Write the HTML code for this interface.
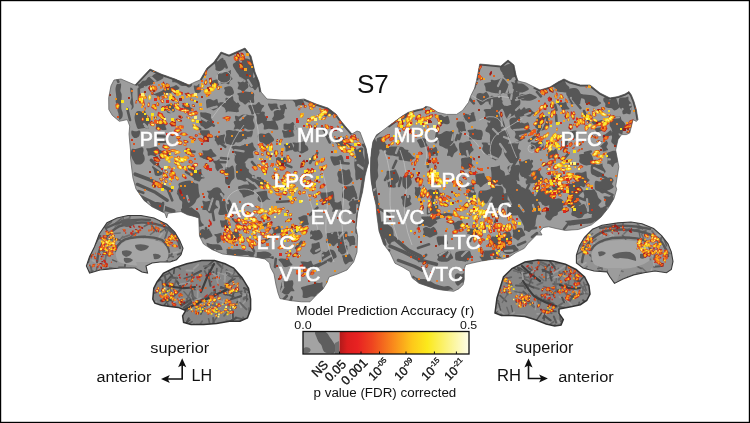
<!DOCTYPE html><html><head><meta charset="utf-8"><title>S7</title><style>html,body{margin:0;padding:0;background:#fff;overflow:hidden}svg{display:block;filter:blur(0.35px)}</style></head><body><svg width="750" height="423" viewBox="0 0 750 423"><rect x="0" y="0" width="750" height="423" fill="#fff"/>
<defs><clipPath id="cl"><path d="M114.0,80.0 L121.0,79.0 L135.0,85.0 L150.0,69.0 L161.0,74.0 L175.0,79.0 L189.0,85.0 L195.0,82.0 L200.0,80.0 L207.0,68.0 L214.0,62.0 L221.0,52.0 L229.0,55.0 L245.0,48.0 L251.0,56.0 L255.0,72.0 L259.0,82.0 L261.0,92.0 L267.0,99.0 L281.0,100.0 L296.0,100.0 L304.0,99.0 L316.0,104.0 L328.0,108.0 L336.0,114.0 L341.0,121.0 L346.0,127.0 L352.0,134.0 L357.0,131.0 L360.0,132.0 L363.0,140.0 L366.0,148.0 L368.0,158.0 L368.5,163.0 L366.5,170.0 L365.0,176.0 L362.5,192.0 L360.0,202.0 L357.6,213.0 L356.0,228.0 L357.6,236.0 L357.0,252.0 L353.6,262.0 L347.0,270.0 L337.5,274.0 L329.0,277.0 L327.0,282.6 L323.0,289.0 L316.5,295.0 L310.0,301.8 L301.5,301.8 L291.0,300.7 L280.0,298.6 L278.0,293.0 L276.0,285.0 L274.0,274.0 L270.6,267.6 L269.6,263.0 L265.0,259.0 L254.6,257.0 L239.7,256.0 L222.6,254.0 L212.0,249.5 L203.5,244.0 L199.5,236.0 L199.0,225.0 L198.8,218.0 L194.0,216.4 L187.5,214.8 L181.0,211.6 L168.0,213.2 L166.6,218.0 L165.0,213.2 L152.0,206.8 L144.0,200.4 L136.0,189.0 L132.9,177.9 L131.3,165.0 L130.5,158.0 L130.5,150.0 L129.7,142.0 L129.0,134.0 L129.7,126.0 L127.3,119.6 L119.3,121.3 L112.3,115.4 L108.8,109.5 L108.7,97.7 L111.0,85.8 Z"/></clipPath><clipPath id="cr"><path d="M370.8,158.0 L371.6,149.7 L373.0,141.4 L376.6,134.8 L381.5,131.5 L388.0,126.5 L394.8,121.5 L401.4,116.6 L408.0,112.4 L416.0,110.0 L423.0,108.5 L426.0,106.3 L430.0,107.3 L438.0,112.4 L446.5,114.4 L456.5,114.4 L462.6,110.4 L468.6,102.3 L470.6,96.3 L474.6,88.2 L476.6,80.2 L478.6,70.0 L479.7,64.0 L490.7,65.0 L500.8,66.0 L508.0,60.0 L514.0,65.0 L516.0,75.0 L518.0,81.0 L526.0,83.0 L534.0,87.0 L540.0,90.0 L550.0,87.0 L558.0,82.0 L564.0,79.0 L570.0,82.0 L580.5,85.0 L590.0,85.0 L600.0,93.0 L610.0,98.0 L618.0,96.5 L625.0,94.0 L629.0,91.6 L631.4,95.0 L634.0,101.5 L636.4,109.8 L638.0,119.7 L636.4,121.4 L633.0,119.7 L631.4,126.4 L629.7,133.0 L626.4,134.6 L621.5,134.6 L618.0,139.6 L616.5,146.0 L615.6,150.0 L617.0,157.0 L618.8,166.8 L617.0,178.0 L615.7,186.0 L616.7,189.3 L613.9,198.7 L608.3,208.0 L600.8,217.3 L591.5,224.8 L578.4,229.5 L565.3,230.4 L556.0,228.5 L548.5,226.7 L543.0,227.6 L540.0,231.3 L542.0,235.0 L536.4,235.0 L533.6,237.9 L528.0,243.5 L524.3,248.3 L515.8,252.6 L509.4,256.9 L503.0,259.0 L494.5,259.0 L481.7,261.0 L471.0,263.3 L465.7,264.7 L464.3,268.7 L464.3,274.0 L464.3,279.3 L463.0,284.7 L459.0,288.7 L453.7,291.3 L441.7,290.0 L435.0,288.7 L427.0,286.0 L419.0,283.3 L412.3,278.0 L409.7,271.3 L403.0,267.3 L395.0,263.3 L390.0,252.6 L383.5,244.0 L379.0,231.0 L377.0,216.0 L376.0,205.0 L373.0,192.0 L371.0,180.0 L370.5,170.0 Z"/></clipPath><clipPath id="cll"><path d="M152.8,299.0 L153.8,288.3 L157.0,282.0 L163.4,273.4 L174.0,268.0 L186.8,263.8 L201.7,260.6 L214.5,260.6 L225.0,263.8 L233.6,268.0 L242.0,277.7 L248.5,288.3 L250.6,299.0 L250.6,309.6 L247.4,318.0 L240.0,321.3 L229.4,321.3 L216.6,323.4 L203.8,324.5 L191.0,324.5 L183.6,322.3 L182.6,316.0 L185.7,310.6 L178.3,307.4 L169.8,306.4 L161.3,305.3 L154.9,303.2 Z"/></clipPath><clipPath id="crl"><path d="M495.0,313.0 L497.0,298.0 L503.5,277.0 L512.0,268.5 L525.0,262.0 L537.7,260.0 L552.6,261.0 L565.4,264.2 L576.0,269.5 L584.6,277.0 L588.9,285.5 L590.0,294.0 L586.7,300.5 L580.3,304.7 L569.7,306.9 L559.0,309.0 L559.0,313.3 L563.3,319.7 L561.0,325.0 L554.7,326.0 L546.2,324.0 L535.5,319.7 L524.9,316.5 L512.0,315.4 L501.4,315.4 Z"/></clipPath><clipPath id="clm"><path d="M86.4,266.0 L89.6,256.4 L94.5,246.8 L99.3,234.0 L107.0,222.7 L117.0,217.9 L128.0,215.5 L141.0,215.5 L154.0,218.0 L166.8,224.3 L174.9,232.3 L179.7,240.4 L183.0,248.4 L181.0,254.8 L176.5,259.7 L170.0,262.0 L160.0,262.0 L152.0,263.0 L146.0,266.0 L147.5,273.0 L142.0,272.0 L135.0,268.0 L120.0,268.0 L100.0,270.0 L89.6,273.0 Z"/></clipPath><clipPath id="crm"><path d="M576.4,263.0 L576.4,255.0 L579.6,245.4 L584.5,237.3 L592.5,229.3 L602.0,225.3 L618.0,222.9 L631.0,222.0 L642.0,223.7 L653.6,228.5 L661.6,235.7 L668.0,243.8 L671.3,251.8 L673.0,261.4 L671.3,269.5 L666.5,272.7 L655.0,271.0 L644.0,272.7 L633.7,274.9 L623.0,279.0 L614.5,283.4 L610.0,277.0 L607.0,272.0 L594.0,271.0 L583.0,268.0 Z"/></clipPath><linearGradient id="cg" x1="0" x2="1" y1="0" y2="0">
<stop offset="0" stop-color="#b01a1a"/><stop offset="0.06" stop-color="#dc1e1e"/><stop offset="0.14" stop-color="#e82222"/><stop offset="0.25" stop-color="#ee4420"/>
<stop offset="0.42" stop-color="#f98c1c"/><stop offset="0.56" stop-color="#fdc81a"/><stop offset="0.68" stop-color="#fbe91c"/>
<stop offset="0.85" stop-color="#fbf48a"/><stop offset="1" stop-color="#fdfce8"/></linearGradient></defs>
<path d="M114.0,80.0 L121.0,79.0 L135.0,85.0 L150.0,69.0 L161.0,74.0 L175.0,79.0 L189.0,85.0 L195.0,82.0 L200.0,80.0 L207.0,68.0 L214.0,62.0 L221.0,52.0 L229.0,55.0 L245.0,48.0 L251.0,56.0 L255.0,72.0 L259.0,82.0 L261.0,92.0 L267.0,99.0 L281.0,100.0 L296.0,100.0 L304.0,99.0 L316.0,104.0 L328.0,108.0 L336.0,114.0 L341.0,121.0 L346.0,127.0 L352.0,134.0 L357.0,131.0 L360.0,132.0 L363.0,140.0 L366.0,148.0 L368.0,158.0 L368.5,163.0 L366.5,170.0 L365.0,176.0 L362.5,192.0 L360.0,202.0 L357.6,213.0 L356.0,228.0 L357.6,236.0 L357.0,252.0 L353.6,262.0 L347.0,270.0 L337.5,274.0 L329.0,277.0 L327.0,282.6 L323.0,289.0 L316.5,295.0 L310.0,301.8 L301.5,301.8 L291.0,300.7 L280.0,298.6 L278.0,293.0 L276.0,285.0 L274.0,274.0 L270.6,267.6 L269.6,263.0 L265.0,259.0 L254.6,257.0 L239.7,256.0 L222.6,254.0 L212.0,249.5 L203.5,244.0 L199.5,236.0 L199.0,225.0 L198.8,218.0 L194.0,216.4 L187.5,214.8 L181.0,211.6 L168.0,213.2 L166.6,218.0 L165.0,213.2 L152.0,206.8 L144.0,200.4 L136.0,189.0 L132.9,177.9 L131.3,165.0 L130.5,158.0 L130.5,150.0 L129.7,142.0 L129.0,134.0 L129.7,126.0 L127.3,119.6 L119.3,121.3 L112.3,115.4 L108.8,109.5 L108.7,97.7 L111.0,85.8 Z" fill="#9d9d9d"/>
<g clip-path="url(#cl)">
<path id="dpcl" d="M116.6,84.5c.5-.8 1.4-.3 2.1-.5c.7-.2 1.8-.9 2.2-.4c.4 .5 .2 2.3 .1 3.5c-.1 1.2-.7 2.5-.6 3.7c.1 1.2 1 2.3 1.2 3.5c.2 1.2 0 2.3 0 3.5c-0 1.2-.2 2.4-.3 3.6c-.1 1.2-.1 2.2-.1 3.5c0 1.3-0 2.7 .2 4.1c.2 1.4 1.2 2.7 1.3 4.1c.1 1.4 .1 3.1-.4 4.2c-.5 1.1-2.2 2.7-2.8 2.6c-.6-.1-.5-2.1-.7-3.2c-.2-1.1-.2-2.3-.4-3.4c-.2-1.1-.9-1.9-1-3.1c-.1-1.2 .6-2.8 .3-4.2c-.3-1.4-1.8-2.6-2-4c-.2-1.4 .6-2.8 .6-4.2c0-1.4-.3-2.9-.4-4.4c-.1-1.5-.5-3-.4-4.5c.1-1.5 .6-3.6 1.1-4.4z M130.3,87.7c.4-.5 2.3 .7 2.7 1.8c.3 1.1-.6 3.3-.6 5c-0 1.7 .3 3.4 .5 5.1c.2 1.7 .5 3.6 .6 4.9c.1 1.3 .3 2.2-.1 3.1c-.4 .9-1.9 2.6-2.2 2.3c-.3-.2 .8-2.6 .6-3.8c-.2-1.2-1.6-1.9-1.7-3.3c-.1-1.4 1.1-3.3 1.2-5c.1-1.7-.5-3.4-.7-5.1c-.2-1.7-.7-4.5-.3-5z M137,84.7c.2-.5 2.1-.6 3-1.2c.9-.6 1.5-2 2.5-2.5c1-.5 2.4-.1 3.3-.7c.9-.6 1.3-2.3 2.3-3c1-.7 2.6-.6 3.7-1.1c1.1-.5 1.8-1.6 2.9-2.1c1.1-.5 2.3-1.1 3.5-1.1c1.2 0 2.6 .3 3.5 1.1c.9 .8 1.9 2.5 1.8 3.5c-.1 1-1.7 1.6-2.6 2.2c-.9 .6-2 1-3 1.4c-1 .4-2.3 .3-3.2 .9c-1 .5-1.5 1.9-2.5 2.4c-1 .5-2.3 .3-3.4 .6c-1.1 .3-1.9 .9-3 1.4c-1.1 .5-2.3 1-3.5 1.4c-1.2 .4-3 1.4-3.6 1.2c-.6-.2 .2-1.8-.1-2.5c-.3-.7-1.8-1.4-1.6-1.9z M153.2,94.8c.2-.5 2.7-1.4 4.1-2c1.4-.6 2.9-1.2 4.3-1.9c1.4-.7 2.8-1.7 4-2.3c1.2-.6 2.3-.9 3.5-1.2c1.2-.3 2.5-.4 3.7-.8c1.2-.4 2.5-1.5 3.4-1.6c.9-0 1.2 .8 1.8 1.3c.6 .5 1.8 .8 1.7 1.4c-.2 .6-1.5 1.8-2.6 2.2c-1.1 .4-2.9-.2-3.9 .3c-1 .5-1.2 2.3-2.3 2.8c-1.1 .5-3.1-.1-4.5 .3c-1.4 .4-2.8 1.2-4.1 1.9c-1.3 .7-2.8 2.1-3.8 2.2c-1 .1-1.5-1.4-2.4-1.8c-.9-.4-3.1-.3-2.9-.8z M172.6,77.9c.8-.3 2.8 .2 4.2 .4c1.4 .2 2.8 .3 4.2 .7c1.4 .4 2.7 1 4 1.5c1.3 .5 2.6 .7 3.8 1.3c1.2 .6 2.9 1.4 3.3 2.2c.4 .8-.5 1.9-1.1 2.5c-.6 .6-1.6 1.2-2.5 1.1c-.9-.1-1.7-1.2-2.7-1.5c-1-.3-2.3 .1-3.3-.1c-1-.2-1.8-.6-2.8-1.1c-1-.5-2.1-1.7-3.3-2.1c-1.2-.4-3.1-0-3.8-.5c-.7-.5-.3-1.5-.3-2.2c0-.7-.5-1.9 .3-2.2z M194,85.6c.5-.6 2.1 .4 3 .1c.9-.3 1.9-2.2 2.3-1.9c.4 .3-.3 2.5 0 3.7c.3 1.2 1.8 2.5 1.7 3.4c-.1 .9-1.3 1.7-2.2 2c-.9 .3-2.3 .4-3.1-.2c-.8-.6-1.2-2.2-1.5-3.4c-.3-1.2-.7-3.1-.2-3.7z M214.4,61.5c.4-.7 2.3 .2 3.3-.2c1-.4 1.7-1.6 2.6-2.2c.9-.5 2.3-1.6 2.9-1.1c.6 .5 .2 2.9 .8 4.1c.6 1.2 2.8 2 2.8 3c.1 1-1.6 1.9-2.5 2.8c-.9 .9-1.8 2-2.8 2.5c-1 .5-2.3 .8-3.3 .6c-1-.2-2.4-.6-2.9-1.5c-.5-.9-.1-2.7-.2-4c-.2-1.3-1.1-3.3-.7-4z M217.4,73.8c.6-.5 2.8 0 4.1-.3c1.3-.3 2.7-1.6 3.8-1.5c1.1 .1 1.9 1.4 2.7 2.3c.8 .9 1.5 2 1.8 3c.3 1 .3 2.1 0 3c-.3 .9-.9 1.8-1.8 2.3c-.9 .5-2.3 .7-3.5 .8c-1.2 .2-2.8 .5-3.6 .1c-.8-.4-.4-2-1-2.6c-.6-.6-2.2-.3-2.5-1c-.3-.7 .6-2.1 .6-3.1c0-1-1.2-2.5-.6-3z M224.2,87.7c.4-.7 2.2-1.1 3.4-1.3c1.2-.2 2.8-.2 3.7 .4c.9 .5 1.5 1.9 1.9 2.9c.4 1 1 2.4 .7 3.3c-.2 .9-1.3 1.8-2.2 2.2c-.9 .5-2.1 .5-3.1 .5c-1 0-2-0-2.7-.5c-.7-.5-1.5-1.4-1.7-2.2c-.2-.8 .7-1.7 .7-2.6c0-.9-1.2-2-.7-2.7z M233.1,64c.6-.9 2.4-1.9 3.8-2.5c1.4-.6 3.2-.5 4.6-1c1.4-.5 2.7-1.7 4-1.9c1.3-.2 2.8 .5 4.1 .8c1.3 .3 3.2-.4 4 1c.8 1.4 .9 5 .8 7.6c-.1 2.6-1.2 5.2-1.3 7.8c-.1 2.6 1.1 6.3 .5 7.6c-.6 1.3-2.8 .3-4.2 0c-1.3-.3-2.9-1-3.9-1.7c-1-.7-1.2-1.9-2.1-2.6c-.9-.7-2.5-.8-3.3-1.5c-.8-.8-1.1-2.1-1.7-3c-.6-.9-1.3-1.7-1.9-2.6c-.6-.9-1.1-1.8-1.6-2.7c-.5-.9-1.3-1.6-1.6-2.5c-.3-.9-.8-1.9-.2-2.8z M206.4,99.9c.6-.9 2.3-.9 3.5-.8c1.2 .1 2.5 1.4 3.7 1.4c1.2 0 2.6-1.7 3.4-1.4c.8 .3 .6 2.4 1.2 3.4c.6 1 2.6 1.7 2.4 2.7c-.1 1-2.1 2.2-3.3 3.1c-1.2 .9-2.7 2.2-3.8 2.3c-1.1 .1-1.8-1.5-2.8-1.8c-1-.3-2.6 .7-3.4 0c-.8-.7-1-2.9-1.1-4.4c-.2-1.5-.4-3.6 .2-4.5z M219.2,102.8c.2-.6 2.3-.5 3.5-.5c1.2 0 2.5 .9 3.7 .8c1.2-.1 2.3-1.2 3.4-1.2c1.1 .1 2.2 1.2 3.4 1.5c1.2 .2 2.8-.3 4 0c1.2 .3 3 1.3 3.2 2.1c.2 .8-1.7 1.7-2 2.7c-.3 1 .9 2.9 .3 3.5c-.7 .6-2.8 .4-4.2 .4c-1.4-0-2.8-.3-4.2-.5c-1.4-.2-3-.2-4-.8c-1-.6-1.1-2.2-1.9-3.1c-.9-.8-2.3-1.2-3.2-2c-.9-.8-2.2-2.3-2-2.9z M237.2,93.7c.3-.6 2.7-.7 4-1.1c1.4-.4 2.7-1 4.1-1.1c1.4-.1 3 .3 4.2 .4c1.1 .1 1.9-.3 2.7 0c.8 .3 1.6 .8 1.9 1.8c.3 1-.2 2.9-.2 4.4c0 1.5 .7 3.6 .2 4.4c-.5 .8-2.2 .4-3.3 .3c-1.1-.1-2.2-.9-3.3-1.1c-1.1-.2-2.3 .3-3.3-.1c-1-.4-1.7-1.5-2.5-2.4c-.8-.9-1.5-1.9-2.3-2.8c-.8-.9-2.5-2.1-2.2-2.7z M235.1,116c.5-.7 2.5 .7 3.7 .5c1.2-.2 2.2-1.3 3.4-1.7c1.1-.4 2.2-.6 3.5-.5c1.2 .1 2.6 .7 4 1c1.4 .3 3.7-.1 4.2 .7c.6 .8-1 2.8-.9 4.3c.1 1.5 1.4 3 1.6 4.4c.2 1.4 .3 3.4-.7 4.2c-1 .9-3.4 1.1-5.1 .9c-1.7-.2-3.4-1.7-5.1-1.8c-1.7-.2-4.2 1.5-5.1 .9c-.9-.6 .1-3-.4-4.4c-.5-1.4-2-2.6-2.5-4c-.5-1.4-1.1-3.8-.6-4.5z M136,112.4c.7-.9 1.8-1.2 2.8-1.3c1-.1 2.2 .8 3.2 .7c1-.1 2-1.7 2.8-1.2c.8 .5 .9 3 1.8 4.2c.9 1.2 2.9 1.8 3.5 2.9c.6 1.1 .6 2.6 .2 3.8c-.4 1.2-2.1 2.3-2.4 3.5c-.3 1.2 1 3.3 .5 3.8c-.5 .5-2.3-.9-3.5-.9c-1.2-0-2.4 .5-3.6 .7c-1.2 .2-2.7 .8-3.5 .2c-.9-.6-1.2-2.4-1.6-3.7c-.5-1.3-.8-2.5-1.1-3.9c-.3-1.4-.7-3-.5-4.5c.2-1.5 .7-3.4 1.4-4.3z M155.9,121.9c.4-.9 1.7-1.7 2.7-1.7c1-0 2.5 1.6 3.5 1.6c1-0 2.1-1.9 2.7-1.7c.7 .2 1.1 1.9 1.2 3c.1 1.1-.6 2.3-.5 3.4c.1 1.1 1.4 2.4 1 3c-.4 .6-2.3 .7-3.5 .6c-1.2-.1-2.4-1.3-3.6-1.4c-1.2-.1-3 1.3-3.5 .8c-.5-.5 .3-2.5 .3-3.8c0-1.3-.7-2.9-.3-3.8z M200.3,112.5c.6-.7 2.4 0 3.6 .1c1.2 .1 2.4 0 3.6 .3c1.2 .3 2.8 .6 3.4 1.4c.6 .8-.3 2.5 .1 3.6c.4 1.2 1.8 2.1 2.1 3.3c.3 1.2 .2 2.7-.4 3.7c-.6 1-2.1 1.9-3.3 2.6c-1.2 .7-2.7 1.6-3.8 1.5c-1.1-.1-1.7-1.5-2.6-2.2c-.9-.7-2.4-.9-2.7-1.9c-.3-1 .8-2.7 .8-4.1c0-1.4-.4-2.8-.5-4.2c-.1-1.4-.8-3.4-.3-4.1z M182.1,105.6c.4-.9 2.2-1.1 3.4-1.4c1.2-.3 2.9-.8 3.7-.3c.8 .5 .3 2.3 .9 3.2c.6 .9 2.7 1.4 2.6 2.1c-.1 .8-2 1.8-3.2 2.4c-1.2 .6-2.7 1.4-3.8 1.1c-1.1-.3-2.2-1.8-2.8-3c-.6-1.2-1.2-3.2-.8-4.1z M165.9,105.7c.5-.9 2.2-1.1 3.4-1.4c1.2-.3 2.9-.9 3.7-.4c.8 .5 .7 2.3 1 3.5c.3 1.2 1.2 2.7 .8 3.6c-.4 .9-2.1 1.6-3.3 1.9c-1.2 .3-2.9 .5-3.8-.1c-.9-.6-1.3-2.2-1.6-3.4c-.3-1.2-.7-2.8-.2-3.7z M210.2,81.4c.5-.7 2.2-.9 3.4-1.2c1.2-.3 2.9-.9 3.6-.5c.7 .4 .5 1.8 .8 2.7c.3 .9 1.4 1.9 1 2.6c-.4 .7-2.1 1.4-3.3 1.7c-1.2 .3-3 .4-3.8 0c-.8-.4-.9-1.6-1.2-2.5c-.3-.9-1-2.1-.5-2.8z M235.4,59.9c.5-.6 3-.3 4.3-.9c1.3-.6 2.6-2.6 3.6-2.6c1 0 1.3 2.1 2.3 2.7c1 .6 2.4 .8 3.5 1.2c1.1 .4 2.6 .7 3.1 1.4c.5 .7-.1 2 .1 3c.2 1 .6 2 .9 3c.3 1 .9 2 .7 2.9c-.2 .9-1.2 1.8-2.1 2.4c-.9 .6-2.2 .9-3.2 1.1c-1 .2-2.1 .5-3 .2c-.9-.3-1.4-1.5-2.3-2c-.9-.5-2.4-.2-3.3-.8c-.9-.6-1.7-1.7-2-2.7c-.3-1 .3-2.2 .1-3.2c-.2-1-1-1.9-1.4-2.9c-.4-.9-1.8-2.2-1.3-2.8z M249.7,77.9c.7-.7 2.6 .5 3.8 .2c1.2-.3 2.4-2.1 3.3-2c.9 .1 1.8 1.6 2 2.6c.2 1-.6 2.3-.5 3.4c.1 1 1.4 2 1.2 2.9c-.2 .9-1.4 1.8-2.2 2.7c-.8 .9-1.5 2.5-2.3 2.6c-.8 .1-1.4-1.6-2.3-2.2c-.9-.6-2.4-.4-3-1.4c-.6-1-.4-2.9-.4-4.4c0-1.5-.3-3.7 .4-4.4z M237.7,81.8c.5-.5 2.6 .6 3.8 .3c1.2-.3 2.3-2.3 3.3-2.1c1 .2 2.1 1.9 2.7 3.1c.6 1.2 1.1 2.9 .8 4c-.3 1.1-1.8 1.7-2.7 2.6c-.9 .9-1.8 2.6-2.6 2.7c-.8 .1-1.4-1.7-2.3-2.3c-.9-.6-2.7-.5-3-1.3c-.3-.8 1-2.3 1-3.5c0-1.2-1.5-3-1-3.5z M225.4,71.9c.4-.6 2-0 2.9-.3c.9-.3 2-1.8 2.4-1.5c.4 .3 0 2.1 .1 3.1c.1 1 .1 2 .4 3c.3 1 1.5 2 1.3 2.8c-.2 .8-2 1.2-2.6 2.1c-.6 .9-.2 3-.9 3.2c-.8 .2-2.9-.9-3.6-1.8c-.7-.9-.4-2.3-.3-3.5c.1-1.2 .8-2.4 .8-3.6c.1-1.2-.9-2.9-.5-3.5z M225.7,98.1c.6-.8 2.5 .3 3.7 0c1.2-.3 2.7-2.2 3.4-1.8c.7 .4 .3 2.8 .9 4c.6 1.2 2.4 2 2.6 3.1c.2 1.1-1 2.4-1.6 3.6c-.6 1.2-.9 2.9-1.9 3.5c-.9 .6-2.6-.1-3.8 .2c-1.2 .3-2.9 2.1-3.3 1.6c-.4-.5 .8-3.1 .8-4.7c0-1.6-.5-3.2-.6-4.8c-.1-1.6-.8-3.9-.2-4.7z M239.7,94c.8-.4 2.3 .9 3.5 1.2c1.2 .3 2.7 .1 3.6 .6c.9 .5 1.4 1.5 2 2.4c.6 .9 1.7 2.1 1.5 2.9c-.2 .8-1.8 1-2.7 1.6c-.9 .6-1.8 1.9-2.6 1.9c-.8-0-1.6-1.4-2.5-2c-.9-.6-2.2-.7-2.8-1.5c-.6-.8-1-2.4-1-3.6c0-1.2 .2-3.1 1-3.5z M248.3,105.7c.4-.6 2.3-.7 3.6-.9c1.2-.2 2.7 .1 3.9-.4c1.2-.5 2.2-2.3 3.1-2.3c.9 0 1.2 1.9 2.1 2.5c.9 .6 3.1 .4 3.2 1.1c.1 .7-1.7 2.1-2.3 3.3c-.6 1.2-.5 2.9-1.2 3.7c-.7 .8-1.9 .8-2.9 .9c-1 .1-2.2-.3-3.2-.2c-1 .2-2.2 1.4-2.8 1.1c-.6-.3-.6-2-1-3c-.4-1-1.1-1.9-1.5-2.9c-.4-1-1.4-2.3-1-2.9z M255.9,113.9c.4-.5 2.2 .6 3.1 .2c1-.4 1.7-2.1 2.6-2.4c.9-.3 2.6-.2 3.1 .4c.5 .6-.4 2.2 0 3.1c.4 1 2 1.6 2.3 2.6c.3 1 .1 2.5-.5 3.2c-.6 .7-2 .5-3 .9c-1 .4-1.9 1.1-2.9 1.5c-1 .4-2.2 1.5-2.9 1.1c-.7-.4-1.2-2.2-1.3-3.4c-.1-1.2 .6-2.6 .5-3.8c-.1-1.2-1.3-2.9-1-3.4z M268,103.7c.5-.6 2.9 0 4.4 0c1.5 0 3.6-.5 4.5 0c.9 .5 .3 1.9 .6 2.8c.3 .9 1.6 2.1 1.1 2.5c-.4 .4-2.6-.4-3.8-.1c-1.2 .3-2.4 2.1-3.3 1.9c-.9-.2-1.6-2.1-2.2-3.3c-.6-1.2-1.8-3.2-1.3-3.8z M273.8,111.9c.4-.9 1.7-1.4 2.7-1.7c1-.3 2.2 0 3.2 0c1-0 2.4-.7 3-.1c.6 .6 .2 2.5 .5 3.7c.3 1.2 1.6 2.4 1.3 3.4c-.3 1-2.1 1.8-3.3 2.4c-1.2 .6-2.7 .9-3.8 1.1c-1.1 .2-2 .2-2.9-.1c-.9-.3-2.3-.8-2.4-1.6c-.1-.8 1.5-2.1 1.8-3.3c.3-1.2-.5-2.9-.1-3.8z M279.8,105.6c.4-.5 1.8-.3 2.7-.6c.9-.3 2-1.4 2.6-1.2c.6 .2 .7 1.7 1 2.6c.3 .9 1.1 2.2 .7 2.7c-.4 .4-2-.3-2.9 0c-.9 .3-1.8 1.9-2.4 1.8c-.6-.1-.9-1.7-1.2-2.6c-.3-.9-.9-2.2-.5-2.7z M292.3,99.7c.2-.5 2.3 .5 3.5 .4c1.2-.1 2.4-1 3.6-1.1c1.2-.1 2.8 .2 3.5 .7c.8 .5 .7 1.7 1 2.6c.3 .9 1.1 2.3 .7 2.7c-.4 .4-2-.1-3-.1c-1 0-2.1-0-3.1 .3c-1 .3-2.1 2-2.7 1.6c-.6-.4-.4-2.8-1-4c-.6-1.2-2.7-2.6-2.5-3.1z M262.2,121.9c.4-.8 2.7-.7 4.1-.9c1.4-.2 2.8 .1 4.2-.1c1.4-.2 3.2-1.2 4.1-.8c.9 .3 1.1 1.9 1.6 2.9c.5 1 1.3 2 1.6 3.1c.3 1.1 1 2.8 .3 3.4c-.7 .6-3 .1-4.6 0c-1.6-.1-3.2-.8-4.8-.8c-1.6 0-3.9 1.3-4.7 .8c-.8-.5 .2-2.7-.1-4c-.3-1.3-2.1-2.8-1.7-3.6z M284,123.8c.6-.5 2.1-.1 3.1-.1c1-0 2.1 .2 3.1-.1c1-.3 1.9-1.9 2.7-1.6c.8 .3 1.6 2.3 2.2 3.6c.6 1.3 1.8 3.2 1.3 4c-.5 .8-2.7 .8-4.1 .8c-1.4 0-2.8-.6-4.2-.7c-1.4-.1-3.3 .4-4.1-.1c-.8-.5-.5-1.9-.5-2.9c0-1-.1-2.4 .5-2.9z M233.7,121.9c.3-.9 1.8-1.1 2.8-1.3c1-.2 2.1-0 3.1-.1c1-.1 2.5-.9 3-.4c.5 .5 0 2.1 .2 3.1c.2 1.1 .8 2.2 1 3.2c.2 1 1 2.5 .5 3.1c-.5 .6-2.3 .5-3.5 .4c-1.2-.1-2.4-1.1-3.6-1.2c-1.2-.1-3.1 1.3-3.5 .8c-.4-.5 1.2-2.5 1.2-3.8c0-1.3-1.5-3-1.2-3.8z M322.3,109.7c.3-.8 1.9-.3 2.9-.7c.9-.4 1.8-1.3 2.8-1.5c1-.2 2.2-.2 3.1 .4c.9 .6 1.7 2.1 2 3.3c.3 1.2 .4 3.2-.2 3.8c-.7 .6-2.5-.3-3.7 0c-1.2 .3-2.4 2-3.4 1.8c-1-.2-2.1-1.9-2.7-3.1c-.6-1.2-1.1-3.2-.8-4z M132,149.1c.8-.8 2.4 .1 3.6-.1c1.2-.2 2.3-.6 3.5-.9c1.2-.3 2.8-1.1 3.5-.8c.8 .3 .9 1.8 1 2.8c.1 1-.6 2.3-.5 3.3c.1 1 1.1 1.7 1.3 2.8c.2 1.1 .5 2.6 .2 3.8c-.3 1.2-1.1 2.4-2 3.2c-.9 .8-2.2 1.2-3.4 1.3c-1.2 .2-2.8 .2-3.7-.4c-.9-.6-1.2-2-1.8-3c-.6-1-1.2-1.9-1.7-3.2c-.5-1.3-1.2-2.9-1.2-4.4c0-1.5 .4-3.7 1.2-4.4z M131.7,130.5c.7-.5 2.7 .7 4 .7c1.3 0 3.3-1.1 4-.7c.7 .4 .4 2.1 .2 3.1c-.1 1-.5 2.3-1.1 3c-.6 .7-1.6 1.2-2.5 1.3c-.9 .2-2 .2-2.8-.4c-.8-.6-1.7-2-2-3.2c-.3-1.2-.5-3.3 .2-3.8z M146.3,148.6c.4-.6 2.3-.1 3.5-.3c1.2-.2 2.4-.8 3.6-1c1.2-.2 2.5-.9 3.5-.5c1 .4 1.5 2 2.4 2.9c.9 .9 2.9 1.6 2.9 2.4c0 .8-2 1.5-2.9 2.4c-.9 .9-1.5 2.6-2.4 2.9c-.9 .3-1.8-.9-2.8-1.3c-1-.4-1.9-.8-2.9-.9c-1-.1-2.6 1-3.2 .5c-.6-.5-.1-2.5-.4-3.7c-.3-1.2-1.7-2.8-1.3-3.4z M152,166.7c.3-.7 2.1-1.3 3.3-1.6c1.2-.3 2.9-.7 3.7-.2c.8 .5 .8 2 1.3 2.9c.5 .9 1.4 1.7 1.8 2.7c.4 1 1 2.4 .5 3.3c-.5 .9-2.1 1.7-3.3 2c-1.2 .3-3 .2-3.8-.3c-.8-.5-.9-1.9-1.2-2.9c-.3-1-.3-2.2-.7-3.2c-.4-1-1.9-2-1.6-2.7z M178.5,184c.5-.8 2.1-1.4 3.3-1.9c1.2-.5 2.5-.7 3.7-1c1.2-.3 2.6-.6 3.7-.6c1.1 0 2.1 .3 3 .8c1 .5 1.7 1.6 2.7 2c1 .4 2.5-.1 3.1 .7c.6 .8 .3 2.7 .5 4.1c.2 1.4 .2 2.8 .4 4.2c.2 1.4 1.2 3 .9 4.1c-.3 1.1-2 1.5-2.8 2.5c-.8 1-1.1 2.5-1.8 3.6c-.7 1-1.6 1.9-2.5 2.7c-.9 .8-2 1.4-2.9 2.1c-.9 .8-1.9 1.5-2.6 2.4c-.7 .9-.9 2.5-1.6 3.2c-.7 .7-1.7 .9-2.6 .9c-.9 0-2.5-.2-2.7-.9c-.2-.8 1.3-2.4 1.6-3.6c.3-1.2 .1-2.5 .1-3.8c0-1.3 .5-2.8 .1-3.8c-.4-1.1-1.9-1.5-2.5-2.5c-.6-1-.7-2.3-1.2-3.4c-.5-1-1.5-1.9-1.6-2.9c-.1-1 .4-1.9 .8-2.9c.3-1 1.2-1.9 1.3-2.9c.2-1-.9-2.3-.4-3.1z M192.3,170.9c.5-.7 1.8-.7 2.8-.9c1-.2 2.1 .1 3.1-.1c1-.2 2.3-1.2 2.9-.8c.6 .4 .1 2.3 .4 3.3c.3 1 .8 2 1.3 2.9c.5 .9 2.1 2.1 1.9 2.7c-.2 .6-2.4 .3-3.3 .9c-.9 .6-1.2 2.3-2 2.6c-.8 .3-1.8-.5-2.7-.8c-.9-.3-2.1-.3-2.6-1c-.5-.7 0-2-.3-3c-.3-1-1.4-1.8-1.6-2.8c-.2-1-.4-2.3 .1-3z M202.3,150.6c.3-.6 2.1 .1 3.1 0c1-.1 2-.1 3-.4c1-.3 1.9-1.7 2.8-1.3c.9 .4 1.5 2.5 2.4 3.7c.9 1.2 3.1 2.5 2.9 3.3c-.2 .8-2.6 .7-3.8 1.3c-1.2 .6-2.1 2-3.3 2.3c-1.2 .4-2.5 .1-3.7-.2c-1.2-.3-3-.8-3.4-1.6c-.4-.9 1-2.3 1-3.5c0-1.2-1.3-3-1-3.6z M212.4,160.7c.2-.5 2.6 .5 3.8 .2c1.2-.3 2.7-2.2 3.2-2c.6 .2-.3 2.4 .1 3.4c.4 1 1.6 1.7 2.2 2.6c.6 .9 1.6 2.2 1.3 2.9c-.3 .7-2.2 .6-3.1 1.2c-.9 .6-1.5 2.5-2.2 2.3c-.7-.2-1.8-2.1-2.2-3.3c-.4-1.2 0-3-.5-4.2c-.5-1.2-2.8-2.6-2.6-3.1z M206.8,190.9c.3-.5 2.6 .1 3.8-.4c1.2-.5 2.1-1.9 3.2-2.4c1.1-.5 2.5-.9 3.6-.8c1.1 .1 2.3 .8 3.1 1.6c.8 .8 1 2.2 1.7 3.1c.7 .9 2.2 1.4 2.3 2.4c.1 1-1.3 2.3-1.9 3.5c-.6 1.2-.8 3.2-1.7 3.6c-.8 .4-2.2-1-3.4-1.2c-1.2-.2-2.5 .1-3.7 0c-1.2-.1-2.6-.1-3.5-.6c-1-.5-1.9-1.5-2.2-2.5c-.3-1 .7-2.6 .5-3.7c-.2-1-2.1-2.1-1.8-2.6z M220.3,203c.4-1 1.5-1.8 2.5-2.1c1-.3 2.6 .6 3.7 .4c1-.2 1.8-1.9 2.6-1.8c.8 .1 1.4 1.6 1.9 2.6c.5 1 .6 2.2 .9 3.2c.3 1.1 1.1 2.4 .8 3.1c-.3 .7-2.1 .5-2.8 1.3c-.7 .8-.7 2.5-1.4 3.2c-.7 .8-1.8 .9-2.9 1.3c-1.1 .3-2.3 .8-3.5 .8c-1.2 0-3.1-.1-3.6-.8c-.5-.8 .3-2.5 .6-3.7c.3-1.2 .9-2.4 1.1-3.7c.2-1.2-.3-2.8 .1-3.8z M227,134.3c.4-.5 2.2-.1 3.2-.4c1-.3 1.9-1 2.9-1.5c1-.5 1.6-1.5 2.8-1.6c1.2-.1 2.9 1.1 4.4 1.1c1.5 0 3.4-1.5 4.4-1.1c1 .4 1.2 2.3 1.8 3.5c.6 1.2 2.2 2.9 1.8 3.6c-.4 .7-2.9 .2-4.1 .8c-1.2 .6-1.9 2.1-3 2.7c-1.1 .6-2.4 1-3.6 1c-1.2 0-2.4-.8-3.5-1c-1.1-.2-2 .1-2.9-.2c-.9-.3-1.9-.9-2.4-1.6c-.5-.7-.5-1.7-.8-2.6c-.3-.9-1.4-2.2-1-2.7z M231.4,146.8c.3-.6 2.6-1 4-1.1c1.4-.1 2.9 .6 4.3 .5c1.4-.1 2.8-1.2 4-1.2c1.2 .1 2.1 1.1 3.2 1.5c1.1 .4 2.4 .7 3.5 1c1.1 .3 2.9 .2 3.3 1.1c.4 .9-.9 2.9-.9 4.4c0 1.5 1.4 3.5 .9 4.4c-.5 .9-2.7 .5-4.1 .8c-1.4 .3-2.8 .9-4.1 1c-1.3 .1-2.4-.3-3.6-.7c-1.2-.3-2.4-.9-3.6-1.4c-1.2-.5-2.8-.6-3.4-1.4c-.6-.8-.2-2.2-.4-3.3c-.2-1-.6-2.1-1.1-3c-.5-.9-2.3-2-2-2.6z M236.4,164.8c.6-.8 1.8-1.2 2.8-1.3c1-.1 2.3 1 3.3 .9c1-.1 2.2-1.8 2.8-1.4c.6 .4 .1 2.8 .7 4c.6 1.2 2.9 2.2 2.8 3.1c-.1 .9-2.4 1.7-3.6 2.6c-1.2 .9-2.5 2.6-3.5 2.7c-1 .1-1.6-1.3-2.5-1.9c-.9-.6-2.2-.8-2.8-1.7c-.6-.9-.7-2.3-.7-3.5c0-1.2 .1-2.7 .7-3.5z M246.4,177c.6-.7 2.8-.5 4.1-.8c1.3-.3 3.3-1.6 4-1c.7 .6 0 3.1 0 4.7c-0 1.6-.2 3.2-.2 4.8c0 1.6 .8 3.9 .2 4.7c-.6 .8-2.4 .5-3.5 .2c-1.1-.3-2.5-1.1-2.9-2c-.4-.9 .8-2.5 .6-3.7c-.2-1.2-1.3-2.2-1.7-3.4c-.4-1.2-1.2-2.8-.6-3.5z M200.3,130.5c.7-.6 3-.2 4.5-.2c1.5 0 3.5-.5 4.4 .2c.9 .7 .5 2.7 1.1 3.9c.6 1.2 2.5 2.6 2.4 3.2c-.1 .6-1.9 .3-2.9 .5c-1 .2-2 .5-3 .7c-1 .2-2.3 1-2.9 .6c-.6-.4-.2-2.2-.8-3.1c-.6-.9-2.1-1.5-2.6-2.5c-.5-1-.9-2.7-.2-3.3z M214.4,136.5c.4-.6 2.3-.3 3.5-.5c1.2-.2 2.4-.7 3.6-.9c1.2-.2 3.1-1.1 3.5-.4c.4 .7-1.1 3-1.1 4.5c0 1.5 1.5 3.7 1.1 4.4c-.4 .7-2.5-.4-3.7-.1c-1.2 .3-2.5 2.1-3.3 1.9c-.8-.2-1.3-1.8-1.7-2.8c-.4-1-.5-2.1-.8-3.1c-.3-1-1.5-2.4-1.1-3z M225.9,130.9c.5-.8 2.3-.9 3.5-.9c1.2-0 2.4 .7 3.6 .8c1.2 .2 2.7-.6 3.5 .1c.8 .7 .5 2.7 1.1 3.9c.6 1.2 2.5 2.4 2.4 3.2c-.1 .8-2.2 .9-3 1.7c-.8 .8-1 2.2-1.7 3.1c-.7 .9-1.4 2-2.4 2.3c-1 .3-2.4-.2-3.6-.5c-1.2-.3-2.7-.4-3.4-1.3c-.7-.9-.8-2.7-.8-4.1c0-1.4 1-2.8 1.1-4.2c.1-1.4-.8-3.3-.3-4.1z M243.7,130.5c.8-.3 2.9 1.1 4.4 1.1c1.5 0 3.7-1.5 4.4-1.1c.7 .5 .3 2.6 0 3.8c-.3 1.2-.9 2.7-1.7 3.3c-.8 .6-2 0-2.9 .3c-.9 .3-1.7 1.7-2.4 1.5c-.7-.2-1.4-1.7-1.7-2.7c-.3-1-.2-2.1-.2-3.1c-0-1-.7-2.8 .1-3.1z M258.2,134.6c.6-.8 2.2-1.1 3.4-1.2c1.2-.1 2.6 .6 3.8 .5c1.2-.1 2.3-1.5 3.4-1.1c1.1 .4 2.1 2.1 3 3.3c.9 1.2 2.5 2.7 2.3 3.8c-.2 1.1-2.1 2-3.3 2.9c-1.2 .9-2.6 2.3-3.8 2.4c-1.2 .1-2.2-1.4-3.4-2c-1.2-.6-2.7-.7-3.6-1.5c-.9-.8-1.6-2.1-1.9-3.3c-.3-1.2-.5-3 .1-3.8z M282.1,130.4c.4-.5 2.3 .8 3.5 .6c1.2-.2 2.5-1.4 3.7-1.5c1.2-.1 2.8 .3 3.5 .9c.7 .6 .5 1.8 .8 2.7c.3 .9 1.3 2 .9 2.6c-.4 .6-2.2 .9-3.4 1.2c-1.2 .3-2.4 .6-3.6 .7c-1.2 .1-2.9 .5-3.6-.1c-.7-.6-.5-2.4-.8-3.6c-.3-1.2-1.4-3-1-3.5z M234,152.8c.4-.7 2.3-.5 3.5-.7c1.2-.2 2.4-.5 3.6-.7c1.2-.2 2.6-.8 3.5-.3c.9 .5 1.4 2.2 2 3.4c.6 1.2 1.8 2.5 1.6 3.7c-.2 1.2-1.8 2.2-2.7 3.4c-.9 1.2-1.5 3-2.6 3.6c-1.1 .6-2.6 .2-3.8-.1c-1.2-.3-2.5-.8-3.3-1.6c-.8-.8-1.2-2.2-1.3-3.4c-.2-1.2 .5-2.6 .4-3.8c-.1-1.2-1.3-2.8-.9-3.5z M244,144.5c.3-.6 2-.1 3-.3c1-.2 1.9-.5 2.9-.8c1-.2 2.2-1.2 2.9-.7c.7 .5 .5 2.7 1.1 3.9c.6 1.2 2.7 2.4 2.5 3.2c-.2 .8-2.5 .9-3.7 1.5c-1.2 .6-2.7 2.2-3.4 2c-.7-.2-.3-2.4-1-3.3c-.7-.9-2.4-1.4-3.1-2.3c-.7-.9-1.5-2.6-1.2-3.2z M292.4,142.7c.4-.5 2.8 .1 4.2 0c1.4-.1 2.8-.1 4.2-.4c1.4-.3 3.3-1.6 4-1.3c.7 .3-.2 2.2 .3 3.2c.5 .9 2 1.6 2.5 2.5c.5 .9 1.1 2.2 .7 3.1c-.4 .9-2.1 1.6-3.3 2.2c-1.2 .6-2.5 1.5-3.7 1.4c-1.2-.1-2.1-1.6-3.3-1.9c-1.2-.3-2.9 .5-3.8 .1c-.9-.4-1.3-1.8-1.3-2.8c0-1 1.4-2.4 1.3-3.4c-.1-1-2.2-2.3-1.8-2.7z M225.5,167.4c.8-.9 2.6 .3 3.8 0c1.2-.3 2.5-2.2 3.3-1.8c.8 .3 1.2 2.5 1.5 3.9c.3 1.4 .2 2.9 .3 4.3c.1 1.4 .5 3 0 4.2c-.5 1.2-2.2 2-3.1 3.2c-.9 1.2-1.2 3.5-2.2 3.8c-1 .4-2.9-.5-3.6-1.7c-.7-1.2-.3-3.5-.5-5.3c-.2-1.8-.5-3.6-.4-5.4c.1-1.8 .1-4.3 .9-5.2z M236.1,170.9c.7-.5 2.8 .4 4.2 .2c1.4-.2 2.7-1.3 4.1-1.6c1.4-.3 3.3-.9 4.1-.4c.8 .5-0 2.3 .5 3.2c.5 .9 2.2 1.4 2.7 2.4c.5 .9 .8 2.4 .3 3.3c-.5 .9-2.2 1.3-3.4 1.9c-1.2 .6-2.4 1.5-3.6 1.6c-1.2 0-2.3-1-3.5-1.3c-1.2-.3-2.7 0-3.6-.5c-.9-.5-1.4-1.8-1.7-2.7c-.3-.9-.2-2-.2-3c-0-1-.6-2.6 .1-3.1z M250.2,178.8c.2-.6 2.3-.2 3.5-.2c1.2-0 2.5 .3 3.7 0c1.2-.3 2.8-1.9 3.4-1.6c.6 .3-.4 2.5 .1 3.4c.5 .9 2.5 1.3 3.1 2.2c.6 .9 .7 2.6 .3 3.3c-.4 .7-1.9 .8-2.9 1.1c-1 .3-2.2 .3-3.2 .7c-1 .4-1.9 2-2.7 1.7c-.8-.3-1.3-2.3-1.8-3.5c-.5-1.2-.8-2.6-1.4-3.8c-.6-1.2-2.3-2.7-2.1-3.3z M238.2,186.8c.4-.9 2.2-.9 3.3-1.3c1.2-.4 2.4-.8 3.6-.9c1.2-.1 2.7 0 3.7 .5c1 .5 1.8 1.5 2.5 2.4c.8 .9 1.5 1.8 2 2.9c.5 1.1 1.3 2.7 .8 3.5c-.5 .8-2.4 .7-3.6 1.1c-1.2 .4-2.3 .9-3.5 1.3c-1.2 .4-2.7 1.6-3.5 1.2c-.8-.4-.9-2.5-1.6-3.6c-.7-1.1-2.2-2-2.8-3.2c-.6-1.2-1.3-3-.9-3.9z M256.1,192.8c.2-.6 2.2-1 3.4-1.3c1.2-.3 2.4-.5 3.6-.6c1.2-.1 2.9-.5 3.6 .1c.7 .6 .3 2.2 .5 3.3c.2 1.1 .3 2.2 .8 3.1c.5 .9 2.5 2.2 2.3 2.5c-.2 .3-2.5-.8-3.7-.4c-1.2 .3-2.1 2.1-3.3 2.5c-1.2 .4-2.6 .2-3.6-.3c-1-.5-2-1.5-2.2-2.6c-.2-1.1 1-2.7 .8-3.8c-.2-1-2.4-1.9-2.2-2.5z M334.5,138.5c.6-.7 2.3-.5 3.5-.6c1.2-.1 2.5 .3 3.7 .1c1.2-.2 2.7-1.5 3.4-1.2c.7 .3 .8 1.8 1 2.8c.2 1 .2 2.1 .3 3.1c.1 1 .9 2.3 .5 2.9c-.4 .6-2 .4-3 .6c-1 .2-1.9 .6-2.9 .8c-1 .2-2.4 .8-3 .4c-.6-.4-.3-2.1-.9-3c-.6-.9-2.1-1.5-2.5-2.5c-.4-1-.7-2.7-.1-3.4z M330.5,156.6c.5-.6 2.4-0 3.6-.1c1.2-0 2.5 .1 3.7-.2c1.2-.3 2.4-1.6 3.3-1.4c.9 .2 1.5 1.6 1.9 2.6c.4 1 .3 2.2 .6 3.2c.3 1 1.5 2.5 1.1 3c-.4 .5-2.4-.2-3.6 0c-1.2 .2-2.3 1.1-3.5 1.4c-1.2 .3-2.6 .8-3.5 .4c-.9-.4-1.4-1.8-1.9-2.7c-.5-.9-1-2-1.3-3c-.3-1-.9-2.7-.4-3.2z M354.4,150c.3-1 2-.2 2.9-.6c1-.4 1.8-1.5 2.8-1.7c1-.2 2.6-.3 3.1 .5c.5 .8-.4 2.8-.3 4.2c.1 1.4 .4 2.8 .8 4.2c.4 1.4 1.3 2.4 1.3 4c0 1.6-.8 3.8-1.1 5.8c-.4 2-.9 4-1 6c-.1 2 .9 4.8 .3 5.9c-.5 1.1-2.4 .3-3.6 .6c-1.2 .3-2.8 1.8-3.5 1.2c-.7-.6-.6-3.1-.8-4.7c-.2-1.6 .1-3.2-.1-4.8c-.2-1.6-.7-3-.8-4.7c-.1-1.7-.2-3.4 0-5.2c.2-1.8 1.1-3.7 1.1-5.5c0-1.8-1.4-4.2-1.1-5.2z M364.5,134.1c.4-1.1 2.5 .2 3.7-.1c1.2-.3 2.6-1.8 3.4-1.6c.8 .2 1.4 1.7 1.5 2.7c.1 1-.8 2.5-.6 3.5c.2 1 1.7 .7 1.9 2.6c.2 1.9-.5 5.8-.6 8.8c-.1 3-.1 6 0 9c.1 3 .9 7.3 .6 8.8c-.3 1.5-1.8-.2-2.6 .1c-.8 .3-1.4 2.2-2 1.6c-.6-.6-1.2-3.4-1.4-5.2c-.2-1.8 .4-3.8 0-5.6c-.3-1.8-1.8-3.2-2.1-5.1c-.3-1.9 .4-4.3 .3-6.5c-.1-2.2-.6-4.4-1-6.6c-.4-2.2-1.5-5.3-1.1-6.4z M338.5,171.1c.8-.6 2.4 .1 3.6 0c1.2-.1 2.4-.3 3.6-.6c1.2-.3 2.6-1.6 3.4-1.2c.8 .4 1.1 2.2 1.4 3.4c.3 1.2 0 2.7 .4 3.9c.4 1.2 1.9 2.2 1.7 3.3c-.2 1.1-1.7 2.6-2.9 3.5c-1.2 .9-2.9 1.7-4.2 1.8c-1.3 .1-2.5-.8-3.7-1.4c-1.2-.6-2.7-1.2-3.3-2.1c-.6-.9 .1-2.3-.1-3.5c-.2-1.2-1.1-2.4-1.1-3.6c0-1.2 .4-2.9 1.2-3.5z M342.5,187.2c.5-.8 2.2-.8 3.4-1c1.2-.1 2.6 .2 3.8 .1c1.2-.1 2.7-1.3 3.4-.9c.7 .4 .4 2.4 .9 3.6c.5 1.2 1.7 2.1 2.1 3.3c.4 1.2 1.1 2.8 .5 3.7c-.6 .9-2.9 .9-4.1 1.8c-1.2 .9-1.8 3.3-2.9 3.5c-1.1 .2-2.2-1.5-3.4-2.1c-1.2-.6-3-.6-3.7-1.4c-.7-.8-.5-2.3-.4-3.5c.1-1.2 .7-2.4 .8-3.6c.1-1.2-.9-2.8-.4-3.5z M350.4,201.2c.9-.5 2.3-.3 3.5-.5c1.2-.2 2.4-.4 3.6-.6c1.2-.2 2.7-1.2 3.5-.7c.8 .5 1.2 2.2 1.4 3.4c.2 1.2-.6 2.9-.2 4.1c.4 1.2 2.5 2.4 2.3 3.1c-.2 .7-2.4 .6-3.6 1c-1.2 .4-2.4 .8-3.6 1.3c-1.2 .5-2.5 1.9-3.4 1.8c-.9-.1-1.3-1.9-2.2-2.6c-.9-.7-2.9-.8-3.1-1.5c-.2-.7 1.7-1.7 1.7-2.7c0-1-1.6-2.4-1.6-3.4c0-1 .8-2.2 1.7-2.7z M320.5,192.9c.6-.7 2.8-.2 4.2-.3c1.4-.1 2.8-.1 4.2-.3c1.4-.2 3.1-1.5 4-1.1c.9 .4 1 2.2 1.2 3.4c.2 1.2 .1 2.4 .2 3.6c.1 1.2 .9 2.7 .4 3.6c-.5 .9-2.1 1.3-3.3 1.6c-1.2 .3-2.5 .3-3.7 .3c-1.2 0-2.7 .5-3.6-.1c-.8-.6-.9-2.3-1.5-3.5c-.6-1.2-1.4-2.2-1.8-3.4c-.4-1.2-.9-3.1-.3-3.8z M330.4,202.9c.4-.7 2.2-1.2 3.4-1.2c1.2-.1 2.7 1 3.9 .9c1.2-.1 2.7-1.7 3.3-1.5c.6 .2 .3 1.9 .5 2.9c.2 1 .5 2 .7 3c.2 1 1.1 2.5 .6 2.9c-.5 .4-2.5-.7-3.7-.5c-1.2 .2-2.4 1.2-3.5 1.6c-1.2 .4-2.9 1.1-3.4 .7c-.5-.4 .8-2.1 .6-3.1c-.1-1-1.1-2-1.5-2.9c-.4-.9-1.3-2.1-.9-2.8z M283.9,144.4c.4-.6 2.5 .2 3.7-.1c1.2-.3 2.5-1.9 3.4-1.6c.9 .3 1.6 2.1 1.9 3.3c.3 1.2 .5 3-.1 3.7c-.6 .7-2.4 .4-3.6 .7c-1.2 .3-2.9 1.5-3.5 1.1c-.6-.4 0-2.5-.3-3.7c-.3-1.2-1.9-2.8-1.5-3.4z M276,158.5c.3-.9 1.7-1.6 2.7-1.6c1-0 2.4 1.4 3.4 1.4c1-0 2-1.9 2.7-1.6c.7 .3 1.4 2.2 1.7 3.4c.3 1.2 .6 3 .1 3.7c-.5 .7-1.9 .4-2.9 .7c-1 .3-1.9 1.1-2.9 1.3c-1 .2-2.3 .4-3-.2c-.7-.6-.6-2.3-.9-3.5c-.3-1.2-1.2-2.7-.9-3.6z M146.7,200.8c.7-.2 3.8 1.2 5.8 1.4c2 .2 4.3-.4 6.3 0c2 .4 4.4 1.2 5.6 2.2c1.2 1.1 .9 2.9 1.8 4.1c.9 1.2 3.7 2.4 3.5 2.9c-.1 .5-2.9 .2-4.4 .2c-1.5 0-3.1 .1-4.4-.2c-1.3-.3-2.3-1.2-3.5-1.8c-1.2-.6-2.4-1.3-3.6-1.9c-1.2-.6-2.7-.9-3.6-1.6c-.9-.7-1.4-1.5-2-2.4c-.6-.9-2.2-2.6-1.5-2.9z M181,209.1c.4-.8 2.3-1 3.5-1.1c1.2-.1 2.5 .4 3.7 .3c1.2-.1 2.3-1.2 3.5-.9c1.2 .3 2.2 1.8 3.4 2.7c1.2 .9 2.8 1.6 3.6 2.6c.8 1 1.1 2.2 1.4 3.4c.3 1.2 .1 2.5 .4 3.6c.3 1.1 .7 2.1 1.3 3c.6 .9 2.2 1.8 2.2 2.4c-.1 .6-1.6 1-2.5 1.3c-.9 .3-1.8 .6-2.8 .4c-1-.2-2.2-.8-3.1-1.5c-.8-.7-1.3-1.9-2-2.8c-.7-.9-.9-2.2-1.9-2.8c-1-.6-2.9-.1-4.1-.7c-1.2-.6-2.1-1.8-3-2.8c-.9-1-1.9-2-2.5-3.2c-.6-1.2-1.5-3.1-1.1-3.9z M202.4,200.8c.5-.6 2.7 .7 4.1 .6c1.4-.1 2.8-.8 4.2-.9c1.4-.1 3.3-.4 4.1 .3c.8 .7 .3 2.7 .9 3.9c.6 1.2 2.7 2.4 2.6 3.1c-.1 .7-2.3 .5-3.2 1.3c-.9 .8-1.3 2.5-2.2 3.2c-.9 .7-2.3 1.2-3.4 .9c-1.1-.3-1.9-2.3-3.1-2.9c-1.2-.6-3.5 .1-4-.7c-.5-.9 1-2.9 1-4.4c0-1.5-1.5-3.8-1-4.4z M200.1,230.7c.6-.8 1.7-1.6 2.7-1.6c1-0 2.4 1.4 3.4 1.4c1-0 2-1.9 2.8-1.6c.8 .3 1.3 2.3 1.9 3.5c.6 1.2 1.9 2.7 1.6 3.6c-.3 .9-2.3 1.2-3.5 1.8c-1.2 .6-2.6 1.7-3.6 1.7c-1-0-1.4-1.6-2.3-1.9c-.9-.3-2.4 .8-3 .2c-.6-.6-.6-2.4-.6-3.6c0-1.2 0-2.7 .6-3.5z M214.2,234.6c.2-.5 2.3-.5 3.5-.8c1.2-.3 2.9-1.5 3.6-1c.7 .5 .2 2.8 .8 4c.6 1.2 2.9 2.4 2.7 3.1c-.2 .7-2.6 .7-3.8 1.3c-1.2 .6-2.6 2.4-3.3 2.3c-.8-.1-1-1.8-1.2-2.9c-.2-1.1 .3-2.5-.1-3.5c-.4-1-2.4-2-2.2-2.5z M206.6,242.8c.5-.3 2.6 1.1 4 1.3c1.4 .2 2.8 0 4.2 .1c1.4 .1 3.1-0 4.2 .4c1.1 .4 1.9 1.2 2.5 2.1c.6 .9 1.4 2.7 1 3.2c-.4 .5-2.3-.1-3.5 0c-1.2 .1-2.4 .5-3.6 .7c-1.2 .2-2.5 .6-3.5 .2c-1-.3-1.7-1.5-2.4-2.3c-.8-.8-1.6-1.6-2.1-2.5c-.5-.9-1.3-2.9-.8-3.2z M227,248.8c1-.3 3.8 .6 5.8 .6c2 0 4.1-.5 6.1-.3c2 .2 4.2 .9 5.8 1.4c1.6 .5 2.4 1.1 3.6 1.7c1.2 .6 3.7 1.6 3.5 1.9c-.2 .4-3.2-0-4.8 .2c-1.6 .2-3.1 .8-4.7 1.1c-1.6 .2-3.3 .4-4.7 .4c-1.4 0-2.4 0-3.6-.3c-1.2-.3-2.3-1.2-3.5-1.6c-1.2-.4-2.9-.2-3.5-.7c-.6-.5-.2-1.5-.2-2.2c0-.7-.8-1.9 .2-2.2z M247.6,252.8c.7-.4 3.8 1 5.8 1.2c2 .2 4-.1 6 0c2 .1 4.3 .1 5.9 .5c1.6 .4 2.4 1.8 3.8 2.1c1.3 .3 3.6-.7 4.3-.3c.7 .4 .6 2.4 0 2.7c-.6 .3-2.5-1-3.8-1.1c-1.3-.1-2.7 .3-4 .5c-1.3 .2-2.6 .6-3.9 .6c-1.4 .1-2.8-.2-4.2-.3c-1.4-.1-3-.2-4.3-.6c-1.3-.4-2.9-.9-3.8-1.8c-.9-.9-2.5-3.1-1.8-3.5z M220.1,220.5c.5-.6 2.6 .3 3.8 0c1.2-.3 2.7-2.1 3.3-1.8c.6 .3-.1 2.5 .2 3.7c.3 1.2 1.9 2.7 1.6 3.4c-.3 .7-2.5 .3-3.7 .6c-1.2 .3-2.6 1.5-3.4 1.1c-.8-.4-.9-2.2-1.2-3.4c-.3-1.2-1.1-3-.6-3.6z M226.5,249.7c.4-.5 2.3-.5 3.5-.3c1.2 .2 2.4 1.1 3.6 1.3c1.2 .2 2.3-.3 3.5-.2c1.2 .2 2.3 .8 3.5 1.1c1.2 .3 2.4 .6 3.6 .9c1.2 .3 2.6 .3 3.5 .7c.9 .4 2.2 1.5 1.8 1.8c-.4 .3-2.7-.1-4.1-.1c-1.4 0-2.9-.1-4.3 .1c-1.4 .2-2.7 .7-4 .9c-1.3 .2-2.4 .4-3.6 .4c-1.2 0-2.4-.2-3.6-.4c-1.2-.2-3-.3-3.4-.9c-.4-.6 1.1-1.8 1.1-2.7c0-.9-1.5-2.1-1.1-2.6z M246.8,250.6c.6-.1 3.8 1.1 5.8 1.3c2 .2 4.1 .3 6.1 .2c2-.1 4.2-.6 5.8-.6c1.7 0 2.9 .2 4.1 .8c1.2 .6 3.1 1.9 3 2.7c-.1 .8-2.1 1.7-3.3 2c-1.2 .3-2.4-.2-3.8-.2c-1.4-0-3.1 .2-4.7 0c-1.6-.2-3.2-.7-4.8-1c-1.6-.3-3.6-.3-4.6-.8c-1-.5-1-1.7-1.6-2.4c-.6-.7-2.6-1.9-2-2z M310.2,231.6c.4-.8 1.7-1.3 2.7-1.5c1-.2 2.2 .5 3.2 .4c1-0 2-1.1 2.9-.7c.9 .4 2.1 1.9 2.7 3.1c.6 1.2 1.3 2.9 .9 4c-.4 1.1-1.9 2.1-3.1 2.7c-1.2 .6-2.9 1-4 .9c-1.1-.1-1.6-1-2.5-1.3c-.9-.3-2.4 .2-2.8-.5c-.4-.7 .1-2.3 .1-3.5c0-1.2-.5-2.8-.1-3.6z M311.9,243.8c.6-.7 2.4-.3 3.6-.6c1.2-.3 2.8-1.5 3.5-1.2c.7 .3 .7 1.9 .9 2.9c.2 1 .2 2 .3 3c.1 1 .9 2.1 .5 3c-.4 .9-2 1.7-3.2 2.3c-1.2 .6-2.8 1.2-3.8 1.2c-1-0-1.5-.9-2.1-1.5c-.6-.6-1.5-1.1-1.5-2c0-.9 1.2-2.2 1.5-3.4c.3-1.2-.4-3 .3-3.7z M322.4,251.8c.7-.7 2.5 .6 3.7 .2c1.2-.4 2.1-2.1 3.3-2.4c1.1-.3 2.6-.1 3.6 .5c1 .6 2 1.9 2.6 3.1c.6 1.2 1.4 2.9 1 3.9c-.4 1-2.3 1.3-3.2 2.2c-.9 .9-1.3 2.7-2.1 3.1c-.8 .4-1.9-.5-2.9-.8c-1-.3-1.9-.9-2.9-1c-1-.2-2.5 .8-3.1 .1c-.6-.7-.7-3-.7-4.5c0-1.5-0-3.7 .7-4.4z M326.4,233.8c.6-.8 2.3-.4 3.5-.7c1.2-.3 2.3-.8 3.5-1c1.2-.2 2.9-.5 3.6 0c.7 .5 .1 2.1 .5 3.1c.4 1 1.7 1.8 2.2 2.7c.5 1 1.4 2.1 .9 3c-.5 .9-2.6 1.5-3.8 2.4c-1.2 .9-2.2 2.9-3.3 2.9c-1.1 0-1.8-2.2-3-2.8c-1.2-.6-3.4 .2-4.1-.7c-.8-.9-.4-3-.4-4.5c0-1.5-.2-3.5 .4-4.4z M338.4,231.7c.6-.6 2.9 .1 4.4 .1c1.5 0 3.6-.7 4.4-.1c.8 .6 0 2.5 .3 3.7c.3 1.2 1.9 2.7 1.5 3.4c-.4 .7-2.8 .2-4 .8c-1.2 .6-2.4 2.8-3.1 2.7c-.7-.1-.9-2.2-1.3-3.4c-.4-1.2-.9-2.4-1.3-3.6c-.4-1.2-1.5-3-.9-3.6z M338.1,242c.6-.9 2.4-1 3.6-1c1.2 0 3 .3 3.5 1c.5 .7-.7 2.2-.3 3.1c.4 .9 2.1 1.7 2.5 2.6c.4 1 0 2.2-.4 3.1c-.4 1-1.2 2-2.1 2.6c-.9 .6-2.4 1.1-3.2 .9c-.8-.2-1.1-1.2-1.7-1.8c-.6-.6-1.6-.7-1.9-1.7c-.3-1 0-2.9 0-4.4c0-1.5-.6-3.5 0-4.4z M342.3,255.6c.5-.6 2.5-.1 3.7-.4c1.2-.3 2.5-1.6 3.4-1.3c.9 .3 1.6 2.1 2.2 3.3c.6 1.2 1.8 2.9 1.4 3.7c-.4 .8-2.7 .6-3.9 1.2c-1.2 .6-2.3 2.4-3.2 2.4c-.9-0-1.6-1.7-2.1-2.6c-.5-.9-.7-2-.9-3.1c-.2-1-1.1-2.6-.6-3.2z M346.3,235.8c.5-.5 2.3 .4 3.5 .4c1.2 0 2.7-.8 3.6-.4c.9 .4 1.3 1.7 1.6 2.7c.3 1-0 2.1 0 3.1c0 1 .6 2.4 .2 3c-.4 .6-2 .1-2.9 .4c-.9 .3-2 1.8-2.5 1.4c-.5-.4-.2-2.5-.7-3.7c-.5-1.2-1.6-2.1-2.1-3.3c-.5-1.1-1.2-3.1-.7-3.6z M278.3,259.6c.1-.7 2.2-1 3.4-1.1c1.2-.2 2.5 .2 3.7 .2c1.2 0 2.7-.6 3.5 0c.8 .6 .7 2.4 1.3 3.4c.6 1 2.4 2.2 2.3 2.8c-.1 .6-1.9 .6-2.9 .9c-1 .4-1.9 1.1-2.9 1.2c-1 .1-2.2 .4-3.1-.3c-.9-.7-1.3-2.6-2.2-3.8c-.9-1.2-3.1-2.6-3.1-3.3z M300.4,261.7c.3-.4 2.3-.2 3.5-.1c1.2 .1 2.5 .6 3.7 .5c1.2-.1 2.5-1.7 3.4-1.3c.9 .4 1 2.8 1.9 3.8c.9 1 3.5 2 3.4 2.4c-0 .4-2.5-.4-3.7-.1c-1.2 .3-2.1 1.7-3.3 1.9c-1.2 .2-2.4-.5-3.6-.8c-1.2-.3-2.9-.4-3.5-1c-.6-.6 .1-2-.2-2.9c-.3-.9-1.9-2-1.6-2.4z M282,282.1c.7-.6 2.2-.7 3.4-1c1.2-.3 2.4-.5 3.6-.6c1.2-.1 2.9-.7 3.6-.1c.7 .6 .8 2.2 .8 3.4c0 1.2-.9 2.6-.7 3.8c.2 1.2 2 2.8 1.7 3.4c-.3 .6-2.3-.2-3.3 .3c-.9 .5-1.5 2.1-2.4 2.6c-.9 .5-2.2 .8-3.2 .6c-1-.1-1.9-.9-2.8-1.5c-.9-.6-2.1-1.2-2.5-2c-.4-.8 .2-2 .3-3c.2-1 .4-2 .6-3c.2-1 .2-2.2 .9-2.9z M301,287.6c.4-.8 2.7-1 4.1-1.4c1.4-.4 2.8-.8 4.2-1.2c1.4-.3 2.9-.5 4.1-.9c1.1-.4 1.8-1.1 2.8-1.3c1-.2 2.2 .4 3.2 .3c1-.1 2.4-1.3 2.9-.8c.5 .5-.1 2.6 .2 3.8c.3 1.2 1.7 2.4 1.5 3.3c-.2 .9-1.8 1.6-2.9 2.3c-1.1 .7-2.5 1-3.5 1.8c-1 .8-1.3 2.5-2.4 3c-1.1 .5-2.7-.1-4.1 .1c-1.4 .2-2.7 1.2-4.1 1.3c-1.4 .1-3.5 .1-4.2-.5c-.7-.6 .1-2.2 0-3.3c-.1-1.1 0-2.3-.3-3.4c-.3-1.1-1.9-2.3-1.5-3.1z M298.2,217.5c.2-.7 1.9-.7 2.8-1.1c.9-.4 1.9-1.1 2.9-1.2c1-.1 2.5-.1 3.1 .5c.6 .6 .4 2 .6 3c.2 1 .3 2 .5 3c.2 1 1.2 2.3 .7 2.9c-.5 .6-2.4 .4-3.6 .7c-1.2 .3-2.9 1.4-3.5 1c-.6-.4 .2-2.3-.1-3.3c-.3-1-1.3-1.8-1.9-2.7c-.6-.9-1.7-2.2-1.5-2.8z M271.8,227.4c.4-.6 2.6 .2 3.8-.1c1.2-.3 2.4-1.9 3.3-1.6c.9 .3 1.6 2 1.9 3.2c.3 1.2 .5 3-.1 3.8c-.6 .8-2.4 .5-3.6 .8c-1.2 .3-2.9 1.4-3.5 1c-.6-.4 .1-2.5-.2-3.7c-.3-1.2-2-2.8-1.6-3.4z M229.7,233.5c.3-.8 1.8-1.2 2.8-1.6c1-.4 2-.6 3-.6c1-0 2.5-.3 3.1 .4c.6 .7 0 2.5 .3 3.7c.3 1.2 1.8 2.9 1.5 3.4c-.3 .5-2.1-.8-3.1-.4c-1 .3-1.7 2.2-2.7 2.5c-1 .3-2.5 .3-3.1-.4c-.6-.7-.3-2.4-.6-3.6c-.3-1.2-1.5-2.6-1.2-3.4z M340.9,169.8c.3-.6 1.9-.6 2.7-.4c.9 .1 2.1 .5 2.4 1.3c.3 .8-.6 2.2-.7 3.4c-.1 1.2 0 2.4 .1 3.6c.1 1.2 .6 2.9 .3 3.5c-.3 .6-1.6 .4-2.3 .2c-.7-.1-1.6-.3-2.1-1.1c-.5-.8-.9-2.2-.8-3.4c.1-1.2 1.1-2.5 1.2-3.7c.1-1.2-1.1-2.8-.8-3.4z M347.3,188.5c.5-.5 1.8 .3 2.7 .5c.9 .2 2.4-.2 2.6 .4c.2 .7-1 2.3-1.1 3.5c-.2 1.2 .5 3 .2 3.6c-.3 .6-1.5-0-2.2-.2c-.7-.2-1.8 0-2.2-.7c-.4-.7-.4-2.3-.4-3.5c0-1.2-.1-3.1 .4-3.6z" fill="#575757"/>
<clipPath id="dkcl"><use href="#dpcl"/></clipPath>
<path d="M135.2,174.2 L151.2,180.3 L171.4,190.3" stroke="#575757" stroke-width="3.6" stroke-linecap="round" stroke-linejoin="round" fill="none"/><path d="M137.2,184.3 L155.3,192.3 L167.3,200.4" stroke="#575757" stroke-width="3.2" stroke-linecap="round" stroke-linejoin="round" fill="none"/><path d="M139.2,196.4 L157.3,205.4 L173.4,211.4" stroke="#575757" stroke-width="4.4" stroke-linecap="round" stroke-linejoin="round" fill="none"/><path d="M151.2,160.2 L161.3,170.2" stroke="#575757" stroke-width="3.2" stroke-linecap="round" stroke-linejoin="round" fill="none"/><path d="M366.0,135.0 L367.0,160.0 L364.0,180.0 L361.0,200.0 L358.5,215.0 L357.5,232.0" stroke="#575757" stroke-width="4.5" stroke-linecap="round" stroke-linejoin="round" fill="none"/>
<path d="M359,222l3.5,-7.1M318,219l10.4,-4.3M357,215l.3,-10M317,158l.3,-6.2M157,155l9.3,1.9M308,96l3.9,-4.2M155,100l3,6.3M151,245l4.2,-10.4M344,132l5.2,6.5M163,64l5.8,-6.5M240,120l5.6,-5.2M313,230l5.4,-2.8M145,126l8.1,7.5M241,208l3.9,3.2M318,266l7.5,-6.6M129,168l10.6,3M188,245l-.6,6.4M247,179l5.9,4.1M128,122l.4,7.5M283,74l8.1,1.6M358,262l3.6,-6.7M292,111l2.4,-4.5M364,255l4.4,-8.2M181,143l7,1.1M193,146l5.8,3.5M161,239l.1,-11.6M252,231l5.5,2.3M130,216l6.1,9M260,70l5.7,1.2M215,61l-.9,10.3M320,142l3.2,7.2M112,144l1.9,11.7M312,217l4.7,-2M192,134l5.1,2.7M202,176l10.5,2.4M265,93l4.4,-10.4M248,138l6,-.4M291,304l5.2,-10.4M272,102l.2,-6.7M253,224l11.3,2M197,166l11.8,-.2M143,282l2.4,-8.6M172,278l10.7,1.2M262,77l5.5,4.4M340,114l3.1,-10.4M155,186l4.6,2.6M152,302l6.4,-7.2M300,140l-.2,10.6M112,95l2.3,7.4M256,95l2,-6.5M254,133l4.9,-2M279,83l8.7,2.9M226,150l8.8,4.4M301,242l10,-6.6M323,267l6.7,-4.4M255,282l.6,-8M339,127l9.2,4.1M339,238l6.4,-8M187,196l1.8,5.6M222,175l5.2,1.3M286,182l7.1,-.2M206,110l10.8,-3.4M358,221l3,-7.4M312,106l10.9,-3.1M129,252l10.1,-5.8M108,106l1.6,7.1M125,271l.7,7.7M202,199l-1.1,-5.1M338,122l7.4,8.8M358,165l9.1,6.7M158,264l3.6,-7.5M151,273l4.9,-4.1M272,99l2.9,-4.5M132,235l9.2,-6.6M332,233l4.3,-8.9M349,161l6.5,-.6M188,225l1.4,6.1M169,220l2,-7.3M280,276l1.7,-6.4M182,285l9.1,-2.8M129,301l5.3,-6.9M118,202l5.1,-4.5M316,65l2.5,10M170,117l5.6,2.9M337,299l10.3,.1M206,283l6.1,1.4M248,211l9.3,2.3M308,183l8,-7.4M284,178l5.1,3.6M308,92l5.5,-3.7M222,239l1.7,10.4M166,169l7.2,5.5M236,53l4.9,8.7M258,273l-1.2,-5.9M109,174l8,-.9M175,245l3.8,10.7M254,183l4.5,4.9M144,124l5.2,5M266,180l8.6,3.1M130,259l4.4,-5.2M151,218l-.6,10.5M122,150l4.8,4.4M359,62l4.1,-7.1M299,56l6.6,4.1M184,156l5.2,.4M365,244l4.7,-4.6M172,185l4.2,7.1M345,138l11.2,4M263,56l8.4,4.5M123,130l2.1,10.8M262,277l.3,-7.7M327,142l2.1,6.2M196,94l6.1,1.1M160,99l3.7,6.1M223,302l4.5,-4.6M207,70l1.8,-7.3M178,56l3.8,-5.7M208,281l6.3,2.8M200,89l5.7,-4.9M305,232l5,-1.3M187,145l11.2,.6M193,241l.8,5.3M208,109l5.8,-1.8M260,54l6.9,4M248,80l3.6,5.8M295,219l4.7,-4.4M182,233l-.4,-7.7M332,109l3.5,-6.5M162,62l4.8,-8.1M256,250l-.5,7.1M283,286l-.8,-9.8M280,293l3.3,-5.8M269,70l7.5,1.8M122,142l4.9,6.9M178,85l6,5.8M151,214l2.5,5.1M193,154l9,1.4M288,189l5.2,-.2M207,139l7.1,3.3M119,173l8.2,.8M190,112l7.4,-.1M337,195l7.1,-6.6M152,164l9.5,6.8M201,199l4.5,-9.4M268,207l7.5,-2.6M179,262l2.3,-7.3M344,62l2,-8.3M186,138l5.2,3.2M158,103l1.7,6.4M106,187l6.2,-2.4M233,210l7.2,6M255,255l-1.2,7.2M194,272l10,1M284,223l10.5,-2.2M148,202l4.1,7.9M201,118l7.7,4.1M168,110l5.4,3.2M240,78l4.6,3M131,226l7.8,2.5M307,175l5,-9.9M334,66l2,-8.3M316,144l-.2,6.8M295,136l-.1,-10.3M324,260l6.8,-4M287,207l10.3,-2.6M139,141l3.8,5.4M151,53l11,-3.6M358,86l5.9,-7.4M210,283l4.4,3M291,77l6.9,1.3M297,303l3.6,-6.3M112,186l7.5,-1.2M189,248l-.5,7M209,210l3.7,-11.3M210,219l.1,10.6M145,87l3.9,10.9M171,170l5.8,4.4M110,194l7.8,-5.2M177,104l6.2,4.3M174,66l4.7,-10.2M188,72l2,-8.1M365,103l5.5,-6.4M215,250l2.5,4.8M249,213l6.1,3.3M349,267l7.9,1.9M324,234l3.2,-4.1M150,76l5.5,5.1M304,129l.4,-5.1M161,295l4.8,-7.2M316,251l7,-3.5M312,260l11,-4.7M134,294l1.5,-9.8M170,281l7.4,-5.2M163,146l9.6,.7M319,137l1.6,7.3M179,279l5.4,-1.7M194,231l3.1,9.7M248,220l5.5,1.8M144,135l3.5,3.7M235,150l8.6,1.4M354,103l3.8,-6.2M305,72l-.7,8M358,109l2,-9.7M153,112l4,10.9M187,93l11.6,2.6M145,205l5.1,8M165,199l-1.3,10.9M270,174l4.8,3.3M323,226l7.2,-6.4M213,144l8.6,3.2M253,177l8.8,3.3M221,194l6.9,9.2M144,163l7.4,7M191,231l-2.1,7.5M331,83l5.9,-6M166,266l6.6,-9.5M319,254l9.6,-7.1M125,266l1.1,6.7M315,168l6.1,-9.3M158,117l3.6,4.2" stroke="#9d9d9d" stroke-width="2.2" stroke-linecap="round" clip-path="url(#dkcl)"/>
<path d="M251,245l3,6M312,267l8.2,-3.3M342,253l4.1,-6.4M131,53l7.2,8.1M139,100l-.2,-10.9M270,283l-2.6,-11.6M163,203l-1.4,10M160,215l.7,5.1M194,126l6.2,3.1M263,226l5.3,-2.5M286,165l5.4,2.1M353,200l.7,6.3M366,227l3.2,-6.8M185,151l9.4,.8M217,253l4.1,7.1M240,292l.6,-9.9M168,190l4.2,10.3M179,266l8,-1.6M347,144l7.8,4.9M224,61l2.6,6.5M221,295l3.9,-9.1M283,113l1.3,-5.8M341,116l1,-7.3M318,266l7.8,-4.1M135,279l-1,-7.5M206,228l-.1,7.4M337,290l9.1,-2.4M227,139l6.9,2.1M277,202l11.8,-.7M363,145l6.9,6.6M289,305l2.7,-7.8M214,220l-2,-11.8M159,142l7.8,-.3M298,66l6.2,7.3M266,240l8.5,-6.5M296,248l5.5,-6.2M109,262l8.1,7.9M114,133l1.7,8.6M134,251l6.3,-5.7M138,191l5.3,1.8M239,123l6.5,-1.6M215,58l1.7,8M252,162l3.6,4.4M326,90l6.3,-6M212,209l3.6,-11.2M214,56l3.9,-10M296,232l6.2,-6.1M114,71l4.4,10.9M275,267l.8,-7.9M130,120l-2.7,-11.1M189,169l9.8,5.5M353,187l3.2,10.9M208,122l5.8,3.6M201,156l7,2.7M215,162l10.8,.2M121,182l7.8,.8M165,76l3.7,-6.2M231,109l6.7,-5.1M111,149l-.3,5M262,296l1.4,-9.1M200,122l8.2,4.1M186,172l8.7,5.5M120,69l4,5.6M314,160l3.3,-7.1M184,226l-2.6,-11.6M322,127l5.7,9.1M310,215l7.4,-7.3M120,212l2.7,-11.2M271,50l6.9,7.6M257,46l4.1,6.8M283,300l3.8,-4M310,163l3.7,-6.7M221,158l7.2,.9M295,63l8.7,6.4M279,187l5.8,-.6M184,291l11.1,-2.8M159,151l9.9,4.5M140,272l1.7,-4.9M216,140l9.2,6.8M233,219l7.6,7.2M133,239l6.7,-6.2M157,136l7.4,.5M258,178l7.7,4.7M326,135l3.7,7.5M361,129l4.8,4.6M176,237l.4,-6.8M120,258l9.8,-2.2M220,199l2,11.7M342,163l6.6,.5M302,69l4.5,10" stroke="#575757" stroke-width="2.6" stroke-linecap="round"/>
<path d="M135.0,85.0 L150.0,69.0 L161.0,74.0 L175.0,79.0 L189.0,85.0 M200.0,80.0 L207.0,68.0 L214.0,62.0 L221.0,52.0 L229.0,55.0 L245.0,48.0 L251.0,56.0 L255.0,72.0 L259.0,82.0 L261.0,92.0 M304.0,99.0 L316.0,104.0 L328.0,108.0 L336.0,114.0 L341.0,121.0 L346.0,127.0 L352.0,134.0" stroke="#4a4a4a" stroke-width="3.2" fill="none" stroke-linejoin="round"/>
<path d="M244,125 Q232,140 228,155 L226,169 M226,205 a18,16 0 1,0 36,0 a18,16 0 1,0 -36,0 M217,77 a7,6 0 1,0 14,0 a7,6 0 1,0 -14,0 M322,170 Q330,195 326,220 Q324,240 334,262 M340,160 Q346,190 342,215 Q341,235 348,255 M300,180 Q312,200 318,230 M250,100 Q262,130 258,160 M232,95 Q220,105 212,118" stroke="#c4c4c4" stroke-width="0.8" fill="none" opacity="0.85"/>
<path d="M155,117l1.1,1.7 .1,1.5 -1.3-.9 -1.2-2.1zM148,88l2.2-3 2.6,2.1 -.1,3.9 -2.5,.7zM179,105l-1.2,1.1 -1.7-1.5 .8-1.9 2.1,.1zM172,121l3.9,1.1 -.1,4.2 -4.3,.1 -2.3-3zM165,84l-.7,4 -1.9-.5 -.3-4.3 1.5-1.9zM175,119l2.9-.4 4.3,1.6 -.9,1.8 -3.5-.9zM174,96l2.2,3.4 -3,2.2 -2.8-2 .4-3.2zM165,120l-2,.6 -2.3-2.9 .1-2.6 4,1.9zM162,106l2.7,.4 1.8,3.9 -2.7,.8 -2.6-3.1zM190,100l-.1-1.2 1.9-.3 2,1.5 -.6,1.1zM192,96l-.9,1.6 -3.8-1.2 -2.9-3 4-.8zM143,95l-.7,2.6 -1.1,.6 -.8-1.4 .9-2.1zM192,115l-1.4-2.4 2.8-.6 2.1,1.5 -.4,1.7zM182,116l.9,2 -2.2,.7 -2.5-1.9 .6-1.5zM173,122l-1.6-2 2.2-.9 2.5,1.8 -1.1,1.3zM169,84l1,3.2 -3.1,1.9 -2.4-2.9 1.9-3zM178,94l-2.9,.4 -3.6-3.7 .7-3.1 4.6,2.8zM157,117l-.3,1.3 -1.5,0 -.8-1.5 1.1-.6zM151,93l.9-1.2 1.9,.9 -.5,2.4 -2.1-.5zM159,106l-2-.1 -.4-2.8 .9-1.1 1.8,1.7zM155,89l.6,1.6 -.6,1.6 -1.2-1.4 -.2-2zM195,105l-.2,2 -2.3-.4 -.9-1.6 1.6-.8zM177,102l-1-1.4 1.2-.2 1.5,1 -.3,1zM209,82l-.1-3.7 2.6-.8 .6,4 -1.7,3.7zM217,90l-.1-1.8 1.6-2.2 2.2,.3 -1.2,3.2zM205,80l1.8-.6 .7,2.8 -1.4,2.5 -2-1.5zM318,115l2.9-2.5 3.2,.2 -2,2.1 -2.9,.7zM321,113l1.7-3.2 4.4,.2 .2,3.6 -4.5,2.1zM321,112l-1.5-.9 2.9-2 3.2-.3 -1.3,2.1zM311,106l2.1-1.5 2.2,.5 .2,2.2 -2.7,.4zM317,127l-1.2,1.6 -1.7-1 -.4-2.6 1.7-.4zM310,121l-2,1.4 -1.3-1.3 .8-2.9 2.4-.1zM164,157l-2.9,.8 -1.3-3 1.5-1.7 2.9,.8zM179,162l1.5,3.3 -2.7,.4 -3.4-2 .9-3zM154,161l-.8-4 4.5,.1 2.8,3.2 -2,2.2zM159,155l3.6-2.3 3.1,2.8 -1.9,3 -3.6,.2zM166,170l2,2 -.2,1.6 -2.4-1 -1.1-2.3zM185,153l2.5-2.4 3.3,.2 1.6,3.2 -3.7,1.1zM158,164l0,1.7 -1.6-.1 -1.3-1.3 1-.8zM166,150l2.9-.3 3,1.8 -1.5,1.3 -3.2-.3zM164,158l.9-2.4 2.1-.4 1.4,1.8 -1.5,1.9zM179,159l2.9,1.2 1.6,2.2 -2.5,0 -2.7-2.1zM193,165l2.4,2.8 -1.2,3 -3-1.2 -.4-2.5zM163,181l-2.2,0 -1.9-2.6 1.5-.2 1.8,1.4zM154,188l-2.4-2.4 1.1-1.6 3.1,1.2 -.1,2.4zM223,174l-3.2-1.3 0-2 2.7-.3 1.1,1.7zM222,174l-2.5-3 2.6-1.6 3.1,1.3 -.5,2.4zM259,167l-1.8-2.5 2.8,.1 3.1,2.5 -.1,2.6zM269,152l1.3,2.2 -1.1,2.2 -3-1.9 0-3.2zM290,147l-.7,1.5 -1-.9 .4-1.5 1-.5zM261,148l1.1-2.4 4,1.3 .2,3.9 -4.2,.6zM279,141l1.8-2.2 1.9,.4 -1,2.8 -1.7,1.2zM278,139l-.1,2.8 -1.3,.8 -.4-1.8 .9-1.8zM283,156l-1.2,.8 -1.5-3 .9-3.1 1.7,.3zM262,158l1.4,.9 .2,1.8 -1.9-.5 -.8-1.4zM267,144l1.7-.1 .4,1.9 -1.3,1.5 -1.1-1.3zM264,146l2.3,2 .7,2.4 -2,.5 -2.2-2.8zM274,154l.6-3.4 2.7-.4 1.2,3.5 -1.7,2.2zM308,175l-1.6-2 2.8-3.5 2.1,.5 -.8,2.4zM314,172l-2.3,1.7 -1.9-1.8 1.6-3.1 3,.5zM307,174l1.4-1.1 .9,.4 -1.3,1.7 -1.7,.7zM321,175l-1.3,.1 1.8-1.6 1.8-.8 -.9,1.6zM300,168l.9-5.1 3.2-3.5 1.5,2.6 -2,4.9zM289,200l2.3-.3 1,.7 -2.1,1.1 -2,.2zM296,199l1.2,.3 -.8,1.3 -1.9,.7 -.7-1.7zM292,194l-.1-1.9 1.5-1.3 1.8,1 -1,1.7zM293,177l-3.8-1.1 1-2 5.2,1.2 .7,1.9zM294,189l-.3,1.8 -2.6,.9 -1.6-1.3 2.6-1.6zM293,188l-4.7,1.1 -1.3-2.7 5.3-1.8 3.5,1.5zM301,191l-.5,1.9 -2.1,1 -.3-1.7 1-1.7zM283,177l1.4,.6 .1,1.7 -1.9-.1 -.8-1.3zM275,194l1.2-1.1 2.1,0 .7,1.2 -2,.5zM277,188l2.4,1.7 -.4,2.5 -3.2-.3 -2.3-2.4zM276,189l-2.8-.7 1.4-2.1 2.2-.1 1.2,1.8zM278,189l-1.9-1.6 3.1-.4 2.2,1.3 -.7,.9zM277,178l.1,2.5 -4.6-1.8 -1.1-2.7 2.2-1.4zM313,183l1.7,1 -1.7,2.9 -2.3-.6 -.5-2zM345,144l2.7,.1 2.5,1.8 -1.9,.6 -2.2-.9zM345,151l.7,.7 0,1.3 -1.5,.1 -.5-1.2zM353,135l1-.9 2,1 -.2,1.7 -1.7-.2zM285,208l-.8,1 -2.5,1.1 -.6-1.3 2.2-1.5zM288,213l-1.9-.8 -.4-1.5 2-.9 1.5,1.1zM262,212l-.6-1.1 1.1-1.1 1.9,.2 0,1.7zM227,242l1.2-2.2 2.2,.6 .2,2.3 -1.5,.8zM240,239l2.9-2.6 1.6,3.3 -1.1,3 -4-.3zM223,234l.4-1.9 1.3,.5 .2,1.2 -1,1zM255,213l-2.2-1 .3-1.2 1.6-.3 .6,1.3zM234,216l-2.6,1.8 -3.1-2 .7-3.4 3.4-.2zM235,244l-.5,.8 -1.3-1.1 .2-1.4 1.2-.1zM266,242l-3.2,1.9 -3.5-1.5 2.6-2.7 3.1-.1zM259,212l2,.3 .8,.7 -.5,1.1 -1.5-.7zM254,248l-2.4,.9 -1.6-2.1 1-2 2.1,.8zM252,225l3.4-1.2 3.4,2.2 -1.3,3.4 -3.7-.6zM254,227l-1.5,.5 -2.8-1.5 .6-1.6 2.4,.8zM243,230l2.1-1.7 1.9,2.9 -.3,2.6 -2.7-1.5zM258,242l-2.4-3.7 2.6-.6 2.9,1.7 -.4,3zM235,244l.4,1.9 -1,.2 -1-1.5 -.2-1.8zM228,227l2.1,2.3 -1.4,2.4 -2.4-1.1 -.7-3zM273,223l-4.1,2.1 -2.8-.3 1.5-2.1 4.3-1.7zM240,236l-1.5-1.4 .2-1.3 1.4,.4 1,2zM251,243l1.4,2.4 -.8,2.7 -2.9-1.7 -.1-3.1zM233,243l-1.2-2 -.2-2.2 1.6,.5 1.5,2.9zM225,241l-2.7-4.1 1-3.5 3,1.9 .9,4.5zM240,238l.9-2.9 3.5,3.5 .2,3.3 -2.4-.1zM267,216l3.4,1.6 -4.7,2.2 -4.8-.5 1.6-2.2zM293,227l2.3-2.3 2.8,1 -.7,2.8 -2.8,.7zM292,255l4.1-2.7 2.6,.7 -2.6,3.7 -3.3,.5zM294,237l3.3,1.3 -1.6,3.5 -3.9,.5 -.6-2.4zM298,255l2-.3 1,1.1 -1.5,1.3 -1.1-.8zM283,236l0,1.4 -1.4,.8 -.8-.7 .5-1zM286,215l1.2-1.1 1,1.1 -.4,1.3 -1.4-.2zM285,254l1.1-1.8 1.9-1.3 .8,1 -1.9,2zM285,221l3.4-1.9 1.2,.9 -2.2,1.7 -2.2,.6z" fill="#b02018"/>
<path d="M235,57l1.3-1.9 2.4,1.6 -.1,2.8 -2.4-.2zM238,52l2.4,2.9 -.4,3 -2.5-.6 -1.5-3zM243,65l-.8,2.4 -2.5-.3 -1-2.8 2.3-1.7zM175,135l-2.5,1.3 -3.5-1.7 1.8-2.1 4.4,.2zM208,166l-2.3-.2 -1.2-1.7 2.1-1.1 1.6,1.4zM207,168l1.4,.2 .6,1.4 -1.4,.7 -1.3-.8zM214,160l-2.6,1.7 -3.3-1.9 -.1-1.8 3-.4zM210,157l1.5,2.2 -2.4,1 -2.9-1.1 .9-2.9zM179,190l1.5-1 1.6,3.4 -.8,2.8 -1.6-1.9zM209,142l-4.5-.4 -1.4-3.5 1.9-2.8 3.7,2.5zM321,204l3.3-3.3 2.7-.3 -.5,1.9 -3.5,3zM235,241l-1.6-.3 -1.2-2.4 1.1-1 1.8,1.2zM305,268l2.1,.8 -.5,2.6 -3.3,1 -.2-2.7z" fill="#a01c18"/>
<path d="M194,114l-.6-2.4 2.9-1.2 1.6,2.3 -.7,2.3zM148,119l-.7-1.9 -.1-2.4 1,.9 .4,2zM151,126l-1.8-2.7 2.2-2.7 3,2.6 -.5,3.1zM186,111l.6,1.9 -1.3,.5 -1.3-.9 .4-1.4zM186,107l-4.5-3.3 2.7-.9 4.2,1.5 1.5,2.9zM169,109l-.2,1.8 -3-2.3 -1.8-2.9 2.6,.7zM157,127l3.4,1.1 .3,2.1 -2.7,.2 -2.4-2.5zM141,120l1.1-2.3 1.6-.4 0,2.4 -.9,1.5zM164,102l-1.9,1.3 -2-2.6 1.4-1.8 2.3,1zM136,104l-.7-1.1 .7-2.6 1.2-.3 -.2,2.3zM138,100l1.1-5.5 2.5-1.5 .1,5 -1.9,5zM174,100l-.4-2.6 3.8,2.1 1.1,2.5 -1.9,0zM165,98l-1.7,1.1 -1.5-1 -.3-2.1 1.8,0zM200,89l2-.2 2.6,.1 -1.6,1.1 -2,.2zM204,83l1.3-2.2 1.4,.6 .2,2.7 -1.9,.8zM241,57l2.6-1.5 1.7,2.9 -1.9,2 -2.9-.4zM243,53l2.1,4 -1.1,1.9 -2.8-3.2 -.9-3.2zM243,68l-.1,2.1 -3.1-1.8 -.9-2.5 1.4-1.1zM309,128l-.6-2.6 2.4-.9 1.6,2.1 -1.2,2.5zM304,105l2.3,.3 .7,1.1 -1.3,1.3 -2.1-.3zM309,121l-1.7,1.7 -.3-1.8 .9-1.7 1.2,.1zM298,109l1-1 1.4,.4 -.2,1.3 -1.2,.8zM343,117l1.9,1.3 -.6,2.3 -2.3,0 -.9-2.6zM324,114l1.4-1.7 1.5,.6 .1,1.5 -1.8,.6zM338,128l-1.4-1.7 .9-.9 1.5,1 -.4,1.2zM335,131l-2,.7 -2.5-2.9 -.4-3 2.8,.5zM329,129l-2.8-.1 -.7-2.7 2-1.6 2.2,2.1zM179,142l2.1-1.2 1.7,2 -1.3,2 -2.6-.1zM176,176l-3.3-.4 -2.8-4.6 1.9-1.3 3.5,3.2zM193,162l-1,1.5 -3.2-.5 -.3-2.3 2.4-1zM170,148l-3.5,1.7 -4.3-2.1 .9-3 5,1.1zM163,175l.1-3 3.7,2.2 1.7,3.6 -2.7,.6zM177,158l.4-2 1.8-.2 .7,1.7 -1.3,1zM188,151l-2.9-2 1.8-1.3 4,1.2 0,1.9zM169,154l-4.8-.1 -3.2-2.6 2.9-1 3.6,1.2zM187,178l-1.3,1.2 -3.5-2.5 .1-2.3 1.9,.1zM168,155l-1,2.2 -3,.2 -1.5-2.8 2.4-1.4zM176,138l.6-2 3.1-.1 1.4,2.1 -2.5,1.9zM189,142l-3,1.6 -2.4-1.4 -.1-2.5 3.3,.6zM198,136l-1.7,1 -1.7-.7 .5-2 2.3,.1zM182,131l-2.5,.6 -2.3-1.2 .4-1.5 2.9,0zM194,138l-2.8,1 -2.9-2 1.9-1.1 2.9,1zM196,140l-1.7,.9 -2.1-1 .9-1.8 2.4,0zM163,184l-1.8-1.2 -.4-1.7 1.8,1.1 1.1,1.9zM167,183l-1.4,0 -1.3-2.2 1.5-1.2 1.8,1.1zM152,183l2.9-2.1 4.3,1.2 0,3.8 -3.2,0zM209,169l-3.7-.1 -2.1-2.1 1.9-1.9 4.1,.4zM226,176l-2.1-1.6 -.2-1.9 3.2,.6 1.5,2zM189,199l.9,.9 -.8,.9 -.9-.4 .1-1.4zM198,138l2.7-.3 4.7,3.4 -1.7,1.7 -4-1.8zM216,136l.6-.4 1.7,.6 1,1.5 -1.6-.2zM289,157l2.8,2.9 -1.3,2.9 -3.2-.3 -.1-3.4zM265,167l2.7,.7 -.1,2.4 -2.2,.5 -2.4-2.3zM279,168l1.6-2.8 3.6,1.6 -.7,3.6 -3.3,.1zM273,165l-.3,2.2 -1.8-.1 -1-1.4 1.3-1.4zM269,167l-2.5,1 -2.6-2.2 .1-2.4 3.3,1.7zM260,146l1.1,.5 -.6,1.2 -1.2,.1 -.7-1.1zM284,170l-3.9,0 .1-3.5 2.7-1.9 3.3,3.1zM258,164l2,.4 1.1,2.1 -1.7,1 -2.2-1.7zM277,160l.9,0 1.2,1.8 -.2,1.1 -1.9-1.6zM290,159l-1.5,2.3 -2-3.1 .2-3.4 2.1,.5zM259,155l-3,0 -1.9-2.3 1-1.4 3.4,.6zM262,168l.6,.9 -1.3,0 -1.1-1.2 1.1-.7zM262,167l4.9,3.1 .1,3.5 -4-.7 -2.1-3.3zM300,177l2.2-2.9 3.2-.9 2.2,2.1 -3.9,3.3zM308,185l-2.8,.1 .7-3.2 5-2.6 .7,2.4zM315,194l2.1,0 -1.8,2.3 -2.6,.6 .1-1.8zM311,200l-1.1,.7 -1.1-.1 .8-1.4 1.7-.3zM287,171l3.3,1.6 1.4,3.1 -4.1,0 -2.6-2.7zM288,179l2.5,.7 -.4,1.7 -1.9,.1 -.9-1.2zM326,185l-3.3,3.2 -3.2,.5 .6-3.1 3.6-2.3zM285,179l3.6,2.4 -2.4,1.2 -4.3-.6 -1.6-2.9zM295,197l1.8,.6 -1.5,1.9 -2-.3 -.3-1.2zM303,182l-.3-1.3 1.5-1.6 2-.2 -.7,1.8zM297,174l-2,.6 -1.9-1.6 1.3-2.3 3.2,.7zM282,192l3.4-1.4 2.4,2.2 -1.7,2.8 -3.1-.5zM358,141l-1.9-.8 .8-1.5 1.8-.1 .7,1.7zM353,157l-3.3-2 -.3-2.7 3.2-.1 2.1,2.3zM332,145l.5-1.2 1.5,1.3 .1,1.6 -1.8-.4zM347,150l1.1,2.5 -3.3,0 -4.2-2.1 1.6-1.5zM357,140l-3.8,0 -3.7-2.7 2-2.4 4.9,2zM351,143l-4.4,.3 -2.6-3.4 1.8-2 4.5,1.5zM276,211l-1.3,2.3 -3.6,.6 -.3-2.8 2.8-2.2zM260,207l-.5,1.8 -3.6-1.2 -.9-1.5 2.6-.3zM328,197l4.8-2.8 0,2.8 -3.7,3.7 -3.4,0zM314,197l1-1.7 2.2,.4 -.7,2.1 -2.1,.8zM325,198l3.2-.7 .6,1.5 -2,1.8 -2,.1zM325,203l-1.7,.7 -1.3-.8 .9-1.7 2,.1zM323,199l-.3,2.3 -2.5,.7 -1.1-1.6 2.3-1.8zM227,175l-1-1.7 1.6-.1 1.9,1.2 -.9,.7zM243,228l-.5-3.8 4.1,1.5 1.8,3.6 -2.2,1.2zM239,242l-.9-3.6 2.2,.2 1.6,3.2 -1,.9zM256,226l-3,.1 -3.6-3 2.6-1.3 3.6,1.3zM258,227l2.3-1.8 2.7,1.1 -.1,1.6 -2.7,.2zM247,216l-1.9-3.5 1.9-1.6 3.8,1.5 -.5,2.6zM238,230l-.8,3 -2.8-.9 -.6-3.1 1.9-.5zM239,217l2.1,2.8 -.9,2.5 -3.1-.1 -.6-3.2zM233,237l2-.3 1.6,1.8 -1.3,2.3 -2.4-1.3zM261,211l1.7,2.2 -2.8,1.3 -2.9-1 1.1-2.5zM210,222l-.9-.2 -.6-1.7 1.1-.8 .7,.9zM211,221l1,2.7 -.9,2.3 -1.4-1 .1-3.8zM228,232l-.5,1.3 -1.7-.2 -.7-2 1.6-1.2zM268,224l2-.7 1.3,1 -2.3,1.7 -2.1-.3zM224,226l1.2-1.3 2.1,2.2 .2,3.8 -2.3-1.4zM269,231l-3.8,.3 -.5-1.9 3.3-1.7 3.7,.3zM292,228l.8,1.3 -1,1.4 -1.7-.2 .1-1.7zM301,245l2.9-2.6 2,1.2 -.9,2.7 -3.5,.9zM285,234l-2,.1 -.1-1.1 2.2-1.4 1.1,.6zM282,232l2.7-.3 1.2,2.8 -3.8,2.1 -2.4-2zM289,214l1.3-.8 2.1,.5 -.8,2.2 -2.4,.4zM305,243l-2.6,.7 -.6-1.2 2-1.7 1.5,.4zM304,229l4,1.7 -2,3.6 -3.2,.7 -2.2-2.6zM291,252l.8,1.9 -2.7,3 -3.1,.7 1.2-2.7zM299,273l-1.8,1.8 -1.2-.7 .9-1.9 1.9-1.3zM313,273l.1,.9 -1.2,1.1 -1.4,0 .5-1.5zM303,264l.3,2.8 -1.5,2.4 -2.2-1.1 .1-2.5zM302,277l-1.1-1.7 2.6-2.3 2.3,.5 -1.4,3zM314,271l.5,2.3 -2.3,2 -2-.8 .5-2.7zM282,278l-1.7,2 -1.4-1.7 1-3.3 1.6-.5z" fill="#c8281c"/>
<path d="M161,118l-3.8-2.5 .9-3.7 4.6,1.6 1.6,4.6zM191,110l.3-1.5 2.2,.2 .2,1.9 -1.8,.8zM186,111l-.1-1.6 2.2,.3 2,1.4 -1.4,.5zM183,111l-.6-2.4 3.5-.3 3.6,3.2 -1.5,1.9zM156,104l.5,3.6 -2.6,2 -2.8-2.1 1.5-3.2zM163,121l3-.1 2.1,2.5 -1.6,1.8 -3.2-1.6zM190,95l2-1.4 4.9,1 0,2.2 -3.1,.3zM192,113l1,2.2 -1.5,1.2 -3.8-1.4 -.3-2.4zM203,109l-2,1.2 -1.7-1 0-1.8 2.6,.3zM164,120l2.2,.4 .2,2.4 -2.5,.3 -1.9-2.1zM181,108l-.1,3.5 -4.8-2.2 -3.4-4.2 3.9-.6zM149,102l.9,2 -.7,3 -1.7,.3 .1-3.3zM163,124l-3.1,.6 -1.9-2.4 1.1-3.1 4,1.7zM153,123l1.3,.6 .7,1.5 -1.1,.9 -1.4-1zM180,132l-2.8,.9 -3.7-1.9 2.2-2.7 4.3,.3zM142,103l2.3-1.6 .6,3.1 -1.9,3.1 -1.1-1.6zM161,89l-.7-.6 -.2-1.9 1.4,.1 .4,1.9zM144,109l1.1-2.6 .7,1.9 -.7,2.3 -1,.6zM187,118l-1-1.4 2.8,.3 1.8,1.4 -.7,.9zM179,91l3.9,1.2 -.1,2.6 -3-.6 -2.9-2.8zM178,107l-2.4-.5 -1.5-2.3 .2-1.5 2.6,2zM167,110l.6-1.5 2,.5 .6,1.7 -.9,.4zM154,106l1.3-1.3 1.4,3.4 -.4,2.6 -1.6-.8zM156,91l-3.1-1.4 .9-3.7 2.4,0 1.3,3.1zM210,95l-2.7,1.7 -2.5-3.4 2.6-3 3.4,1.3zM309,109l1.7-1.4 2.5-.2 .2,1.1 -2,1zM326,114l-4.7,0 -.6-2.3 5-3.1 3.2,1.3zM325,111l-.5,2.3 -2.2,.8 -.9-1.1 1-1.6zM167,147l-1,2.3 -2.1-1.1 0-1.8 1.9-.9zM189,154l2.5-.6 3.2,1.7 -.5,1.9 -3.6-.2zM192,165l3-2.2 3,.7 -.8,2.8 -2.5,.4zM192,154l-2,.8 -1.5-1.6 1.1-1.2 2.7,.9zM167,160l-2.5-2.3 1.6-.8 3,.6 .4,2zM177,144l-.7,1.1 -2.4-.2 .2-1 2.1-.2zM191,176l-1.6-2.4 1.9-1 1.6,1 0,1.9zM171,151l-.3-1.2 2.1-.3 2.7,1.1 -1.6,1.2zM186,177l-.8,1.3 -2.6-2.4 -.2-1.8 1.9,.3zM158,149l1.4,3.8 -3,2.3 -2.4-2.2 .4-2.6zM175,153l1.1-.5 1.3,1.3 -1.1,.9 -2.1-.4zM184,166l3.1,2.7 .6,2.7 -3.6-1.3 -2.5-3.1zM172,182l-1.3-1 -.8-2.2 1-.1 1.2,1.5zM159,187l-.6-1.5 1.3-.5 1.2,1.4 -.6,1.4zM162,179l.2-1.4 1.4-.3 1.5,1.4 -1.1,1.2zM277,170l-1.1-1.2 .7-1 1.5,1 .6,1.3zM263,143l.7,2.9 -3.8,.7 -2.7-1.8 2.4-1.6zM254,166l3.4,1.1 .1,2.8 -2.9,.9 -3.1-3.8zM276,162l1.1-2 3.4,1.1 1.7,3.6 -2.9,.5zM263,156l-2.2-.9 .3-2.1 1.9,.4 .8,1.4zM264,161l1.9,3.3 -.5,1.8 -3.4-2.3 -1.4-2.8zM305,174l-.2-2.9 2.7-2.8 2.1,.7 -2,3zM315,166l-.2-2.5 1.4-2.8 2.3,0 -.6,3.1zM325,160l-2.1,2.3 -2.3,.7 1.4-3.9 2.6-1.9zM318,182l1.1-.9 1.3,.3 -.2,1.3 -1.4,.6zM310,194l.4,1.3 -1,1.1 -1.1-.5 -.1-1.1zM316,187l0,2.2 -3.4,2.3 -1.4-1.4 1.6-2.4zM318,195l-1.3-2.5 2.1-1.4 2.4,.9 -1,2.3zM310,195l1.6-.4 .1,1.3 -1.8,1.6 -1.3-.7zM301,181l3-1.5 2.3,.7 -2,2.3 -2.9,.9zM310,186l-1.2,2.5 -3.7,1 -2-1.1 4-2.6zM309,180l-.8,2.2 -1.8,.5 -.9-1.1 1.9-1.5zM264,187l1.5,2.4 -3.4-.4 -3.3-2.5 1.3-1.4zM295,179l-.2,2.1 -4.2,.5 -3.8-1.9 2.4-1.8zM315,183l-1.6,1.9 -1.5-.2 .6-1.4 1.4-1zM345,153l-4-1.5 -.5-3.3 2.8-1 3.4,1.7zM356,143l2.4-1.6 2.9,2 -.4,2.6 -3.7-.8zM355,149l-3.8,0 -1.6-2.6 2.5-.5 4.5,1.9zM347,141l-.7,2.3 -2.7-.7 -1.6-2.3 2.2-.9zM335,136l1.2,1.9 0,1.1 -1.7-1.2 -.6-1.6zM278,210l-.3,1.9 -2.8,.9 -1.2-.7 2-1.6zM267,213l4-2.2 2.6,1 -1.3,2.8 -4,.1zM252,241l1.2-1.6 3,3.4 .4,3.5 -2.9-1.4zM253,235l2.7,.1 1.7,3.3 -.9,2.1 -3.2-2.8zM244,238l-.8,1.9 -2.5-.7 -.5-3 2.4,0zM245,215l.9-1.9 4.3,2.1 0,2.5 -3.2-.3zM236,229l-.8-3.9 2.1-1.4 4,4.1 -1.1,3.2zM260,231l2.3,2 -2.6,.2 -3-1.5 1-1.2zM240,237l2.5,3.6 -1,2.2 -2.6-2 -1.4-3.8zM245,211l-1-.1 -1.8-1 .7-1.1 1.8,.8zM271,219l-1.8,1.8 -2.2-.4 .2-1.5 2.1-1.2zM236,243l-1.5-1.5 -.8-2.2 1.2,.4 1.3,1.7zM227,234l1.5,1.9 1.2,2.8 -1.4,.2 -1.8-2zM243,229l-1.8-1 -.8-1.9 1.4-1.1 1.8,1.7zM250,244l-3.3-2.6 -.6-3.6 2.2-.7 2.6,4.5zM271,223l1.7,2.1 -3.3,2.7 -3.5-.5 1.2-2.4zM245,250l-2.6-.6 -.8-3.8 2.2-.9 2.4,2.2zM256,213l-1-2.4 5.1-.3 3,2 -2.1,1.9zM254,220l3.3-.3 3,2.5 -1.9,1.5 -5.1-1.8zM234,220l.2-1.4 1.9,.4 1.3,2.1 -1.6,1.3zM263,236l-2.8-1.3 1.1-2.1 3.3-.7 .5,2.3zM233,244l-2.1,.3 -.8-2.1 1.5-.6 1.5,1.2zM246,221l-.2,3.2 -3.9-1 -.9-3 1.9-1.3zM251,226l.5,1.3 -1.2,.9 -2.7-2.1 .5-1.9zM256,233l.4,1.8 -2.1-.7 -1.5-2.1 1.3-.2zM252,226l-.9-2.7 4.1,.2 2.7,3.3 -.7,2.4zM238,223l3.9,2.8 1,3.9 -3-.7 -3.9-4zM231,240l-3-.8 -1.9-5.2 2.6-.8 2.7,2.6zM249,241l1.6-2.2 3,3.2 1.5,4.4 -3.4-1.4zM246,225l-2.1-2.7 .8-2.1 2.9,.5 .1,2.6zM248,223l.4-1.8 1.8,.1 .9,1.4 -.9,1.2zM228,221l2.3,2.1 .6,2.7 -1.6-.4 -1.2-2.6zM226,242l-1.1-2.8 1.5-2.3 2.6,2.1 0,3.6zM262,237l3-1.9 3.1-.2 -.3,1.8 -3.8,1.2zM273,235l1.6-1.6 1.2,.5 -2,1.5 -1.4,.1zM250,225l2.8,2.3 -2.1,3 -3.2-1.1 -.2-3.1zM299,235l2.5,.4 -1.5,2.2 -3.5,1.5 -.1-1.7zM295,237l3.8,.2 .8,2.1 -3.2,2.4 -3.4-.6zM293,234l3.6,.7 -.7,3 -3.2,.9 -1.5-1.8zM290,232l-.9-2.1 1.7-1.9 2.1,.5 -.7,1.8zM289,229l-2.1,3.7 -4.9,.9 0-3.1 5.4-2.7zM300,251l-3.8,1 0-3.6 3.2-1.9 2.8,1.5zM305,231l-3-.5 1.5-3.4 4.3-1.4 1.1,3.1z" fill="#d8301e"/>
<path d="M242,58l.4,2.3 -1.7,.5 -1.9-2.4 .8-2.3zM206,70l1.1,.7 -.3,3.6 -1.3,2 -.8-2.5zM234,60l-.4-3.2 2.1,.5 1.4,1.9 -.5,1.9zM237,61l-2.8-3.2 .3-2.8 2.4,1.9 2,3.4zM251,66l-3.1-2.2 -1.2-3.3 3.2,1 2.3,3zM237,61l-2-.3 -.9-2.7 1.9-.8 1.8,2.6zM339,121l1.7-1 1.2,2.5 -1.4,1.7 -1.8-1.4zM333,116l1.6-2.5 1.2,1.3 -.4,3.2 -1.6,.3zM327,125l.7,2.8 -1.3,1.6 -1.8-2.9 .2-2.4zM227,116l3.9,.7 -.7,2.5 -4.7,.4 -3.6-1.6zM229,121l-2.7,.3 -.5-1.9 2.3-.8 2,1.1zM184,136l-4.6-1.4 1.8-2.2 4.5,.3 2.8,2.4zM201,135l-.9,0 -1.6-.9 .2-1.1 1.7,.2zM200,156l-1.7-2.4 1.4-1.1 3.4,1.2 -.9,1.8zM209,137l-2-2.8 1.9-.9 3,2.3 0,2.2zM211,136l-1.5-1.6 1.3-.6 2.2,2 0,1.7zM224,238l.1,3.7 -2.8-1.7 -1-4.1 1.7-1.1zM230,235l-1.4-2.9 .1-2.2 2,2 .5,2.8z" fill="#d8401e"/>
<path d="M167,95l1,2.9 -2.1,.6 -2.3-1.5 .7-2.2zM166,90l-.6,.9 -1.7-1.2 .5-1.8 1.3,0zM178,126l.5,1.5 -1.7,.6 -1.8-1 .6-.8zM160,98l-.3,2.6 -1.7-1.1 -.9-2.5 .8-1.8zM181,109l2.5-.4 1.8,2.3 -2.1,1.1 -2.6-.9zM174,93l-2.9-2.3 -.2-2.9 3.2,1.3 1.3,2.9zM155,121l2.4-1.1 2.5,2.1 -1.9,2.3 -3-.8zM146,99l-2.4-.3 -.1-2.3 2.2-.9 1.4,1.9zM180,125l3.9,.8 -.3,2.8 -2.7,.6 -3.6-1.6zM163,86l.6-.9 .6,1.8 -.3,1.5 -1-.8zM192,112l3.9,1.3 -.6,1.9 -3.3,.5 -2.7-2.7zM160,117l.9-1.4 2.7,1.4 -.3,2.1 -2.3,0zM164,89l-1.1-2.7 .9-2.3 1.4,.7 .6,3.2zM152,86l1-1.6 1.9,3.4 -.5,3.2 -2-.8zM170,105l-.1-1.9 1.4-.4 1,1.9 -.5,1.1zM206,94l-2.3-1.9 1.2-2.3 3.2-.3 .1,2.8zM200,87l1.6,.8 -2.1,2.1 -3.1,.1 .3-2.5zM210,94l-1.5,.5 -.9-.9 .4-1.1 1.9-.1zM118,107l-.5-1 .7-1.8 1,.2 .2,2.3zM116,109l-.8-4.3 2.4-1.9 2.1,2.5 -1.4,4zM322,120l-1.2-.5 3-2.2 2.8-.2 -1.2,2.4zM302,106l.1,1.2 -1.4,.8 -1.2-1.3 1.1-1.1zM313,103l-.5,2.7 -2.9,1.6 -1.6-2.6 1.8-2.8zM175,178l.5-2.5 2.2,1.4 1.3,2.8 -1.8,1.1zM187,145l-1.9,1.3 -1.7-1 .4-1.5 2.1-.3zM189,157l0,1.8 -2.1-.2 -1.5-1.5 1.3-.9zM191,166l2,3.3 -3.8-.2 -2.4-2.5 1-1.6zM172,178l-2.8-2.1 0-2.8 2.6-.8 2,3.1zM165,176l0,1.6 -2.1-1.1 -.9-2 1.5,0zM182,141l-.7,3.5 -3.3-.1 -1.4-2.2 1.9-2.4zM170,169l-1.5-.8 -.3-1.6 1.5-.7 1.1,1.3zM176,152l-4.1,0 -1.5-2.4 4.2-.4 3.6,1.5zM158,188l-2.3-3.6 2.8-2 3.9,1.4 -.2,4.3zM269,147l2.3-4.9 1.7,2.9 -.1,4.7 -2.3,1.1zM269,159l-.4-1 .8-1.1 1.8,.5 -.2,1.9zM275,165l.7-1.6 2.6,1.3 1.3,2 -1.8,0zM260,149l2.6-.4 2.1,2.2 -.9,1.8 -2.6-1.5zM275,170l1.9-.2 .9,1.6 -1.6,.2 -1.4-.9zM320,160l0,1.7 -1.3,1.9 -1.1-.6 .3-1.9zM320,170l2.7-4.2 4.3-1.3 -.5,3.6 -3,3zM315,160l-1.9-.7 .7-3.9 2.8-2.2 1.2,4.1zM320,160l1.4-1.1 1,1.1 -.7,2.3 -1.8-.8zM323,169l-2.4,2.4 -.9-1.4 1.9-2.2 2.2-.9zM326,167l-1.9-.1 .5-1.9 1.7-.4 1.2,1.3zM312,181l2.4,1.4 -1.1,2.2 -2.7,1.1 -.3-2.6zM317,181l-1.9,.5 -1.2-1 1.6-2 2.1-.1zM291,187l-2.5-.8 1.1-2 2.6-.3 .8,2.1zM291,178l-4,.4 -4.3-2.5 2.1-1.6 3.7,.5zM288,191l1.7-2.2 3.1,.2 .4,2 -3.6,.8zM279,196l-3.2-.9 2.2-2 3.7-.5 .9,2.3zM306,191l-.7,2.7 -2.7,.4 -1-1.9 2.2-1.5zM306,174l-.4,2.4 -3.5,2.7 -3.1-.1 2.5-2.9zM278,173l2.3,3 -1.9,.7 -3.9-2.1 -1.3-3zM277,181l1.4-.2 2,1.1 -.1,1.6 -2.4-.8zM292,185l2.4-1 1.5,1.3 -1.3,1.6 -1.8-.5zM311,184l4.1-.6 .8,2.2 -3,3.2 -2.2-1.3zM284,185l-1.4-1.7 1.2-1.9 2.9,1.6 -.4,1.6zM290,203l1.2-1.8 2.6-.1 .6,1.6 -2.4,1.5zM346,138l-.7-1.7 1.3-1.2 1.7,1.5 -.2,1.7zM344,144l-1.5-.7 .5-1 2.3,1.3 .2,1.2zM276,213l-3.1-1 2.8-3.3 4.7-1 -.4,2.7zM272,211l.4,2.8 -3.6,1 -1.5-2.2 2.5-1.7zM278,209l4.1-.9 -.5,3.2 -3.1,3 -2.2-2.1zM228,220l-.3-2.1 1.9,.7 .8,2.2 -.9,.8zM247,233l-.2-1.5 1.2-1.2 1.6,1.5 -.7,1.9zM228,218l-.7,2 -2.3-.6 -.6-2.6 2.5-.3zM254,224l1.6,1.1 -1,.6 -1.9-.6 -.5-1.3zM257,225l1.6,1.8 -1.9,.4 -2.6-1.8 .6-1zM231,234l-.5-1.6 1.4-.7 .8,1.5 -.5,1zM258,242l2.3,1.4 .2,2.2 -1.7,1.2 -1.8-2.9zM237,213l2.9,1.2 1.2,2.7 -3-.6 -2.2-2.1zM241,245l2.1,1.3 1,3.2 -1.6-.6 -1.5-2.2zM262,221l.8,3.6 -1.6,3.1 -3.1-2.2 .1-3.2zM234,235l1,2.2 -.7,.9 -1.6-2.3 .2-1.6zM265,235l5.3-1.8 1.3,1.7 -3.3,2.8 -3.6,0zM269,237l-1.2,1.7 -1.5,0 0-1 1.7-.7zM254,214l-.7-2.5 1.5-1.3 2.1,.6 0,2.1zM241,245l-1.5-.5 -.8-2.4 .6-1.3 1.6,2.6zM231,234l-1.8-3.2 1.3-.7 1.7,2.6 0,2.1zM241,219l1.8,.6 .8,1.5 -1.5,.1 -1.6-1.1zM235,240l.9-1.7 2,.8 -.2,2.1 -1.8,.3zM259,242l-.2-1.3 1.6,.8 .4,1.4 -1.1,.8zM240,235l2.5,3.6 1.6,4.2 -2.8-.3 -2.4-4.7zM267,215l.3,2.5 -3.7,1.2 -3.6-1.2 2.5-2.4zM264,233l2.1-1.7 3.1-.5 -.7,1.6 -2.3,1.3zM300,232l-2.2-2.6 3.1-3.1 3.6,1.7 -1.2,3.6zM299,243l-.3,1.6 -2.6,1.2 -.5-1 1.7-1.5zM277,248l4.4-3.8 3.5,.9 -1.5,3.6 -3.9,.9zM294,233l-.6,2.4 -3.5,1.9 -2.9-.3 3-3zM290,240l-.8,1.4 -2,.6 -.4-1.3 1.2-1.6zM282,233l-.7-2 2.6-2.3 2.8,.6 -.6,2.9zM296,238l-2.1,2.4 -2.3,.1 -.2-2.1 2.1-1zM291,227l.2-2.5 2.6-1.1 1.1,2.3 -1.7,2.4zM285,236l-2.7,.6 -.5-2.3 2-1.6 2.8,.6zM287,228l.1,2.1 -1.6,.6 -1.4-.5 1-1.5zM275,230l-.3-1.5 2-1.9 1.8,.4 -.5,1.6zM287,221l1.3-2.7 2.2,.9 .3,1.9 -2.2,1.3zM294,243l1.1,1.4 -.8,1 -1-.2 0-1zM300,224l-.7-1.1 2.3-1.8 2.5-.4 -1.3,2zM287,220l.9-1.3 1.6,.2 -.2,1.5 -1.5,.6zM258,210l1.9-2.1 3.7,.9 .8,1.9 -3,1.1zM274,212l-.8-1.5 1.5-1.3 2,.3 -.7,1.7zM257,229l-.6,2.8 -3.3-.6 -.1-2.9 2.1-1.4zM256,221l-3.3-.1 -1.2-2.8 2.5-2.1 3,2.4zM249,219l.4-2.3 3.4,.8 1.3,2.7 -2.6,.6zM251,221l1.6-2.4 2.7,.2 1.1,2.6 -2.5,1.6zM252,231l.2-1.4 3.6,1.9 1,2.8 -2.4-.3zM296,230l.4-2.2 4.4-3 1.3,1.9 -2.5,2.5zM294,233l1.3,2 -1.1,2 -2-.8 -.5-2.1zM293,239l2.3-1.1 1.2,.3 -.8,1.6 -2,.4zM260,182l1.8-.2 2,2 -.5,1.6 -3.1-2.1zM271,185l-1.1,3.4 -3.8,.5 -2.4-3.5 3-1.8zM267,186l2.7,.5 1.6,2.3 -2.7,.2 -2.4-1.5zM269,183l.1,.7 -1.8-.3 -1.7-1.6 1.3-.3zM294,179l0,1.1 -1.5,.4 -1.4-.5 .2-1zM290,189l-2.4,0 -1-1.1 1.9-1.5 2.3,1.1zM143,104l-3.7-.8 .4-3.6 2.9-1 1.9,2.4zM163,92l1.6,.3 1.2,1.9 -.7,.9 -1.2-.8zM214,88l-1.8-2.2 1.6-3 3.7,.9 -.2,4zM212,90l-4.8,1.6 -1.3-2.4 4-3.1 3.1,1.1zM212,84l1.5-.5 .8,2 -1.3,1.8 -1.5-.9zM201,88l.6-3.2 1.8-.7 .8,2 -1.6,1.8zM342,146l2.8,1 .8,1.8 -2.3-.4 -1.8-1.2zM339,144l1,1.2 -1.2,.2 -1.4-1.3 .2-1.2zM350,142l.1-1.8 2.2,.4 2.1,1.8 -2.2,.3zM352,152l-1.4,1 -3.8-.7 .1-2.7 3.7-.5zM350,147l-1,.9 -2-1.2 .1-1.1 2.5,.5zM178,167l.6-2.1 2.6,1.2 1.1,2.4 -2.1,1.1zM326,111l1.7,.4 -.5,2 -2.4,.6 -.5-1.3zM312,107l-.3,1.4 -1.1,.8 -1.5-.7 .9-1.5zM316,117l.4-1.8 1.7-.3 .8,.8 -1.6,1.3zM319,118l-.3-1.4 2.3-1.3 1.4,.7 -.9,1.5z" fill="#e0501e"/>
<path d="M237,59l-1.2-1.5 .1-1.5 1.4,.6 .7,1.9zM206,75l-.7,.5 0-2.4 .6-2.2 .7,1.5zM241,54l2.1,.5 1.3,2.1 -1.5,.5 -1.9-1.7zM235,58l1,.1 1.4,2.2 -.7,.7 -1.2-1.1zM340,121l1.1,1.3 -.7,1 -1.4-.6 0-1.8zM331,129l-.1-2.2 1.7,.7 1.4,2.5 -1.2,.8zM179,131l-.9-.4 .1-1.5 1.6,0 .9,1.2zM200,133l.8,1.2 -.2,.7 -1.4-.8 -.4-.7zM196,140l-2.1,.3 -.9-1.1 .7-.7 1.7,.8zM208,169l.8,.3 -1,.3 -1.5-.3 .3-.8zM199,153l1.7,.3 1.4,1 -1.1,.9 -1.6-.4zM200,138l3,2 .3,1.9 -2.6-.5 -2.4-2.4zM326,200l-.6,.1 1-1.6 1.7-.6 0,1.3zM323,203l1.3-1.9 1.9-.1 -.2,1.6 -1.8,1zM325,203l-1.3,.4 -1.2-.2 .4-1.1 1.1-.6zM223,239l-2,0 -.3-2.5 1.8-.1 1.4,1.3zM227,234l-.7-1.3 -.3-1.5 .6-.3 .7,1.1zM298,272l.2,1 -.9,1 -.6-.6 .4-1.1zM303,266l-1,1.8 -1.9,.5 -.1-1.2 1.8-1.4zM307,269l-.9,1.7 -2,.4 -.2-1.1 1.5-1.9zM311,274l.8-2 1.9,.2 .1,2 -1.8,.5z" fill="#e8601d"/>
<path d="M199,113l-2.5,.9 -2.2-1 0-1 2.3,.2zM171,124l-1-1.4 2.9-.4 3.3,1.9 -1.8,1.4zM194,110l-1.1,1.3 -1.6-.8 -.2-1.2 1.3-.8zM162,84l1.5-.9 1.3,1.1 -.5,1.9 -1.7,.1zM181,121l-.9,.7 -2.9-1.2 -.2-1.2 1.9,.1zM189,110l-.1,1.4 -1.6-.3 -.6-1 .9-.6zM161,116l2.9,1.4 1.2,2.2 -1.7,.1 -2.1-1.9zM184,111l-.3-1.8 2.3,0 2.1,1.6 -1.7,1.5zM166,90l-.5,.9 -1.2-1.2 .1-1.5 .8,.1zM144,120l-1.4,.7 -.9-1.4 .5-1.6 1.2,.4zM165,124l-1.4-.7 .6-1.9 1.9,.4 .8,1.6zM164,103l-2.3-1.2 -.7-2.3 1.1-.6 2.1,2.9zM137,102l-.2,.6 -1,.5 -.3-1.3 .8-.7zM140,100l-1.8-.2 .8-3.9 1.9-.9 1,2.6zM192,114l-.7-1.2 2.2,0 2,1 -.9,.8zM182,117l-1.3,1.4 -1.8-1 .3-1.7 2.1-.2zM154,124l.9,1.7 -1.2,0 -.9-1.4 .2-.9zM164,87l-.3,1.1 -.9-.7 -.2-1.4 1.1-.3zM175,131l.7-1.7 2.9-.1 1.8,1.8 -2.5,1.1zM155,117l.8-.5 .8,1 -.5,.8 -1-.8zM143,103l1.3,.9 -.1,2 -1.9,0 -.7-1.8zM152,94l-1.5-.9 1.3-1.1 1.2,.8 -.3,1.5zM157,105l-.3-2.9 1.2,.2 1,2.6 -.6,1.5zM155,89l.6,2.3 -1,.5 -.9-1.5 .5-1.3zM193,105l1.9,.6 -.8,.7 -1.6,0 -.6-1.3zM164,99l-1-.4 -1.3-1.6 .6-.8 1.2,.7zM168,109l1.7,.6 .1,1 -1,0 -.8-1zM155,85l1.8,3 -.5,2.3 -1.7-.7 -.6-2.4zM177,102l-.7-1.4 1,.1 1.3,.9 -.3,.7zM199,87l2,.2 -1,1.8 -2.2,.4 -.8-1zM205,84l-.3-1.8 1.1-.9 1.2,1 -.8,1.4zM305,106l1.5-.5 0,1.1 -1.2,.8 -.8-.7zM322,112l3.2-1.4 2.5,.6 -3,2.6 -3.3,.4zM308,119l1,1 -.7,1.6 -1.1,.2 .2-1.5zM315,105l-.1,2 -1.9,.1 -1.1-1.1 1.3-1.3zM165,148l-1.3-.3 .7-1.4 1.7-.2 .3,1.5zM189,154l2.5-.5 3,1.9 -.7,1.1 -2.8-.5zM198,166l-1.8,.2 -3.6-1.4 1.2-1.1 2.6,.4zM181,142l1.8,.9 -1.3,.8 -2.1-.2 -.4-.8zM192,161l.2,1.9 -1.8,.1 -1.2-1.1 .9-1.6zM185,144l1.3,.8 -.6,.9 -1.8-.3 -.4-1zM167,157l1.5,1.2 .1,1.4 -1.9-.6 -1.3-1.5zM177,165l-2-2.6 1.9-1 2.9,2.2 -.6,1.9zM154,159l1.2-1 2.9,1 1.7,2.1 -2.1,.6zM175,144l1.8-.2 -.1,.8 -1.3,.4 -1.1-.6zM164,151l2.1,.2 1.3,1.9 -2.4,.9 -2.8-1.8zM157,164l.9,1.1 -.7,.3 -1-.5 -.6-.9zM165,156l1.6-.2 1.1,1.3 -.7,.9 -2.2-.8zM165,157l-1.5-1.3 .9-1.4 2.1-.1 .2,1.9zM191,167l1.9-.1 1.4,1.1 -.5,1.9 -2.1-.8zM157,185l1.3-2.3 2.5,1.7 .4,2.5 -2.3,.4zM223,171l.3,1.5 -1.5,.8 -1.5-1.2 .9-1zM273,145l-.3,3.2 -1.6,1.9 -.8-2.7 .8-2.7zM262,168l-2.4-.7 -2.1-2.5 2.1-.4 2.9,2.6zM277,168l1,.9 .4,.9 -1-.2 -1.3-.9zM262,146l-2.5,0 -.6-1.8 1.7-1.1 2.1,1zM261,147l2.4-.2 2.6,2.1 -1.6,1.2 -2.8-1zM265,167l2.5,1.5 .3,2 -2.4-.5 -1.7-2.2zM271,158l-.7,1.3 -1.1-.7 -.2-1 .9-.2zM282,156l-1.3-1.3 .2-2.4 1.4-.9 1.1,2.2zM264,149l-.9-2.1 2.1,.3 1.7,2.1 -.8,1.6zM259,146l1.4,.3 .4,1 -1,.3 -.8-.4zM280,167l1.6-1.5 2.9,1.7 .5,2.5 -3-.3zM262,149l1.7,1.5 .1,1.4 -2.3-.5 -1.1-1.8zM263,156l-1.5-1.3 -.3-1.1 1.3,.2 1.2,1zM289,156l.4,2.1 -1.2,1.1 -1.5-1.3 .3-2.6zM319,163l-1.2,.1 .4-1.4 1.1-1.3 .3,.9zM309,184l-2.4,.4 -.4-2.4 2.7-1.4 1.3,1.7zM324,166l1.1-1 1.5-.2 .4,1.4 -1.4,1zM313,170l1.2,1 -1.6,1.8 -2-.1 .6-2.2zM309,173l-.8,1.4 -1,.5 -.2-.4 .8-1.2zM324,160l-1.6,2.2 -.8-1.1 1.3-2.7 1.7-.3zM319,183l-.7-.1 .6-1.1 1.2-.8 0,.9zM292,190l-1.3,1.2 -2.4-.1 .5-1.7 2.7-.2zM281,193l1.6,1.4 -2.9,1 -3.3-.3 .8-1.6zM306,191l-1.3,1.8 -2.7,1.4 -.5-1.3 2.6-1.6zM277,182l.4-.7 1.5,.1 1.4,1 -1.1,.4zM287,175l-1.6-2.3 2.4-1.3 2.4,1.6 -.5,1.8zM324,186l-.4,1.9 -2.3,0 -.7-1.8 1.4-2.2zM275,193l1.9-.1 1.6,.4 -.3,1 -1.9,.1zM304,180l1.3-1.2 .7,.9 -1.6,1.4 -1.6,.3zM275,191l-.2-1.6 2.7-.7 1.6,1.7 -1.2,1.3zM305,181l-.9,1.5 -1.5-.3 -.7-1.5 1.8-.6zM281,188l-1.3,1.3 -1.7-.5 -.1-1.5 2-.1zM310,186l1.4-2.2 2-.6 .3,1.9 -1.5,1zM292,204l-1-.8 .3-1.7 1.8,0 .6,1.1zM312,184l1.1-1 1.2-.3 -.4,1.1 -1.4,1zM357,139l.9-.3 .9,1.2 -.4,.8 -1.5-.4zM332,145l-.1-1.1 1.3,.8 .7,1.2 -.8,.2zM348,139l1.8,1.8 -1.6,1.7 -3-.7 -.3-2.9zM346,153l-1.1-.3 -1.1-.7 .1-.5 1.4,.3zM353,136l.9-1.3 1.2,.6 .2,.9 -.9,.2zM335,138l-.6-1.1 .4-.3 1.1,.9 .1,.8zM343,143l1.5,.2 .5,1 -.9,.5 -1.1-1zM276,213l-1.2-.8 0-1.5 1.6-.1 1,1zM272,211l-.2,2 -2,.7 -1.4-.8 1.1-1.4zM260,208l-2.7-.1 -1.8-1.1 .8-.9 2.8,.7zM282,211l-2.8,1.9 -1.9-.8 .7-1.9 2.4-.6zM242,237l2,2.2 -.4,2.3 -2.7,.7 -.5-2.8zM224,232l.7,.8 0,1.3 -.8,.4 -.5-1.3zM253,225l.1-1.1 1.2,.4 .6,1.1 -1.1,.3zM247,229l-1,.9 -2.4-2.5 .5-1.5 2.2,.6zM237,225l2.3,2.2 .1,2 -2.3-.4 -2.1-3.6zM238,240l1-2 2.1,.2 .9,2.8 -1.6,1.3zM232,214l.7,1.7 -1.5,1.1 -1.7-1.8 .3-2zM252,225l-1.4-2.7 2.8,0 1.8,2 -.6,1.2zM234,244l-.7-1.7 .8,.1 .8,1.1 -.2,.9zM257,212l-1,.9 -2.4-1.1 -.1-1.1 2.7,0zM253,225l2.8,0 2,2.3 -.9,1.5 -3.3-1.6zM257,220l1.1,1.1 -.4,1.7 -2.5,.1 -.8-2.3zM245,230l1.4,.1 .4,2.2 -2.2,.7 -1.1-1.8zM236,221l-1.6-.7 -.1-1.4 1.5,.6 .7,1.3zM225,226l1.1-.2 .9,1.9 -1,1.2 -1.7-.9zM229,229l-.1,2.5 -1.9-1 -1-2.5 1.7-.4zM243,223l-1.2-2 1-1.3 1.8,.9 .1,1.8zM230,232l.4-1 1.5,.7 .4,2 -1.4,.4zM239,234l.1-.4 1,.5 .4,1.3 -1.1,.2zM259,243l-.1-1.1 .7-.5 1.2,.7 -.2,1.4zM256,228l-3.1-1.3 -.6-2.5 2.8,.2 2.7,2zM231,239l-2.3-.2 -1.5-3.4 1.1-2.3 2.3,2.4zM247,223l-.9,.4 -1.9-1.5 -.1-1.7 2.6,1.4zM252,248l-2.2-2.3 -1.1-2.8 1.8,.2 1.4,2.7zM230,224l-.8,.6 -1.1-.8 .7-1.5 1.5,.5zM227,240l-1.7,0 -1.6-2.8 .2-2.3 1.6,1zM240,241l-.7-3.2 2.3-.9 1.3,2.4 -.8,1.8zM263,237l1.2-1.7 2.2-.2 .7,1.3 -1.7,1.5zM273,234l1.6-.4 .2,.9 -1.2,.9 -1.1-.2zM268,231l-.1,1.5 -1.5,.7 -.7-.6 .8-1.1zM291,229l.7-.2 1,.3 -1.1,1 -1.2,.2zM299,238l-1.6,.3 -.9-1.4 3-2 1.7,.9zM294,227l2.1-1.1 1.3,.6 -1.2,1.4 -2.1,.5zM278,248l3.1-1.9 3.1-.9 -.9,2.6 -3.3,1.4zM282,235l-1.7-.1 1.5-2.1 2.9-.9 .2,1.4zM291,231l-1.4-.5 .3-1.7 2.1-.5 .5,1.3zM293,242l-1.7-1.4 1.9-2 2.2-.1 .6,2.1zM287,232l-3.7,.7 -.1-2 3.4-1.8 2.1,.3zM286,230l-1.1,.4 -.2-1 1.4-.8 .7,.8zM282,238l-.9-.7 .4-.7 1-.1 -.1,1zM294,244l.9,.3 -.8,.9 -1,0 .2-.9zM288,216l-1.2,.3 -.6-.8 .5-.9 1.3-.1zM286,252l1.6-.3 .6,.5 -1.3,1 -1.3,.2zM281,213l-1.6,1.1 -1.7,.4 -.1-1.2 2.8-1.5zM270,211l2.4-1.9 2,.9 -.8,2.1 -2.7,.3zM257,227l-1,1.6 -2.9-.8 -.3-2.2 2-.8zM293,238l3-1.5 .6,1.4 -2,2.1 -3.2,.8zM293,226l1.3-.3 -.8,1.5 -2.5,1.1 -.6-1.2zM287,231l0-1.7 2.5-1.4 1.1,1 -2,1.5zM272,188l-1.2-2 3.9-.4 4.4,2.5 -2.3,1.4zM279,189l-.2-2.2 1.6-1.5 1.6,1.5 -.1,1.9zM292,193l-1.9,.5 -1.7-.4 1.2-1.3 1.9,0zM291,201l-.8-1.3 1.1-1.2 2-.6 -.2,1.3zM284,183l-.4,1.2 -1.6-.8 -.5-1.6 1.9-.2zM142,94l2.2,3.2 -1.6,5.7 -2.3-1.1 .2-4.2zM199,128l-.7,2.8 -4.1-1.1 -.7-2.9 3.1-1.4zM194,126l-1.9-1.6 1.8-.3 2.2,.9 -.4,1zM195,122l-2.9,0 -.9-2 1.1-1.4 2.9,1zM204,90l3.4-1.5 2.8,1.7 -2.3,1.9 -4.1,.2zM337,146l3.4-.6 3,2.8 -.1,2.1 -4.3-.8zM344,149l-1.7-1.9 .3-1.4 3,.9 .9,1.9zM354,141l-2.5,1.7 -2.3-1.8 .4-2.8 3.3,.6zM177,168l-.2-4.2 4.2,1.2 1.8,3.5 -1.9,1zM173,168l.6-1.1 1.3,.7 .4,1.4 -1.3,.5zM187,159l-.5,1.5 -1.7,.3 -1.1-1.6 1.3-.7zM178,162l-4.1-1.5 .2-3.7 3.6,.7 1.7,2.3zM322,112l1.3,.2 -.2,1.1 -2.2,.9 -.9-.7zM311,117l3.4-1.8 1.8,2.5 -3.6,3.2 -4.2-.8zM321,116l1.4,.6 -.4,1.5 -2.2,.3 -.4-1.1zM318,116l2.1-.9 1.6,1.3 -1,2.3 -2.6-.4zM329,117l-1.9-1.4 1.8-2.1 1.9,.5 .2,2.1zM302,118l-2.3-1.5 .6-3.3 3.3-.3 .4,2.9z" fill="#f07a1d"/>
<path d="M242,57l1.6,.4 .7,2 -1.7,.8 -1.5-1.7zM238,54l1.2,1 .4,1.9 -1.6,.2 -1.7-2.4zM250,62l1.9,2.4 -1.1,1 -2.4-1.8 -.1-1.6zM240,66l1,.1 .9,1.1 -.6,1.1 -1.6-.2zM338,127l-.2,.5 -.7-.7 .5-.6 .8,.1zM326,128l-.9-2 .2-1.6 1.5,1.5 .5,2.1zM184,142l.2-1.3 2-.1 1.2,1.2 -1.2,1.2zM174,133l.5,1.4 -1.4,1.2 -2-1.1 .5-1zM197,135l.1,.9 -.5,.6 -.9-.3 -.2-1zM193,137l-.2,1.3 -1.9,.2 -1.3-1.5 1.6-.8zM205,168l-1.4-1.4 1.9-1.1 2.5,.7 0,1.9zM208,159l-1-1.1 1.1-1.2 2.7,1.4 .1,1.6zM209,136l-1-1.7 1.6,.1 1.9,1.8 -.2,1.4zM204,139l.8-2.2 2.2,1.1 .4,1.8 -1.8,.8zM212,137l-1.6-.8 -.2-1.4 1.1-.3 .9,1.1zM328,198l1.3-2.1 2.1,.6 .3,2.4 -2.6,1.1zM323,199l-.3,1.3 -1.6,1.2 -1.2-.6 .9-1.4zM229,232l1.3,.3 .2,1.3 -.8,.4 -.7-1.6zM313,274l-.7,.5 -1.1,.3 -.3-.6 1.3-1zM304,274l.4,.6 -.9,1.3 -1.6,.6 .2-1.5zM280,278l-.4-1.8 1.2-.3 .6,1.1 -.7,1.2z" fill="#f0801d"/>
<path d="M152,88l.1,3.1 -1.5-.5 -.9-3.1 .7-2.6zM148,118l-.5,0 -.3-2 .6-.9 .5,1.6zM186,112l.1,1.1 -1.1,0 -.8-1 1-.6zM187,104l2.2,2.1 -2.3,1 -2.7-2 -.1-1.9zM164,107l1.2,1.5 -1.3,1.6 -2.1-1.1 .5-1.9zM189,113l2.4,1 1,1.3 -1.5,.7 -2.4-1.5zM187,95l-.7-1.6 3.6,1.2 2.1,2.1 -2.3,1zM178,127l-1.4,.7 -1-.7 .1-.9 1.8,.4zM158,100l-.7-2.6 .6-1.1 1.1,1 .5,2.5zM141,98l-.2-1.5 .7-1.5 .7,1 -.1,1.7zM156,123l-.9-1.5 1.6-1.2 1.6,1 0,2zM175,122l-1.7-.5 -1.5-1.2 1.4-.6 2.1,1.2zM165,85l2.6-1.2 2.4,1.2 -1.7,2.1 -2.1,0zM183,129l-2.8,0 -1.2-1.9 1.6-1.7 2.1,1.6zM175,90l1.6,1.6 -.8,1.8 -2.1-.8 -1.2-2.6zM161,89l-.6-1.2 .4-.8 .8,.7 0,1.3zM191,114l1.4-1.9 2.3,1 -.4,1.7 -1.7,.2zM145,108l.4,1.4 -.6,1.5 -.8-1 .3-1.8zM181,93l.8,.9 -1.7-.2 -1.8-1.8 1.1-.9zM162,118l-1.7-1.2 .2-1.3 2.4,1.7 .3,1.7zM165,86l-.2,1.8 -.9-.4 -.1-2.1 .7-1.1zM170,103l.9,.1 1.4,1.5 -.2,1 -1.5-1.2zM204,93l-.2-2 2.5-.7 2.5,.7 -1.3,2zM209,81l1-2.1 1.3,1 -.1,2.2 -1.6,1.4zM204,89l-1.3,.9 -1.6,.2 -.8-.7 1.8-.5zM207,92l3.9,.1 .8,1.6 -3.8,1.1 -3.6-1zM240,60l-.6-1.9 1.6-.9 1.1,1.6 -.7,1.1zM241,64l1.9,2.3 -.3,1.7 -2.5-1.9 -1-2.4zM119,107l-1.2-.8 .1-1.3 1-.1 .3,1zM116,107l.4-2 1.9-.4 .8,2.3 -1.6,1.6zM237,59l-.6,1.3 -1.4-.8 -.5-1.7 .9-.2zM235,57l2-.1 .7,1.8 -.9,1 -1.3-1.2zM311,126l-.3,2.3 -1.1,0 0-2.4 .8-1.5zM321,112l-1.1-1.2 2.5-1.3 2.1-.1 -.7,1.5zM310,109l.3-.5 1.6-.8 1.1,.3 -.5,1zM300,109l-.1,.8 -1,0 -.4-.8 .9-.7zM323,112l1.4,.1 -.8,1.4 -1.5,.2 -.6-1.3zM300,106l1.5-.3 .5,1 -.8,.8 -.9-.4zM309,104l2.4-.8 1.4,1 -1.5,1.9 -2.3-.4zM344,119l-.2,1.6 -1.1-.9 -.2-1.5 .8-.8zM327,113l-.6,1.5 -1.1,0 -.7-1.1 1.1-.8zM334,116l.7-1.4 .9,.8 -.8,2.2 -1,.2zM327,124l1.5,3 .4,2.4 -1.7-.7 -1.5-3zM229,118l-2.5,1.1 -2.2-.8 1.9-1.2 2.8,0zM229,120l-1.6,1 -1.1-.8 .9-.7 2.1-.1zM179,178l-1,2.3 -1.8-1.6 -1.1-2.3 1.7-.2zM173,175l-2.1-2 1.8-1.5 2.3,.3 -.1,2.7zM161,153l2.7,.8 .2,2.4 -2.3,.6 -1.6-1.8zM186,158l.6-1.3 1.7,.2 .5,1.4 -1.4,.6zM163,146l3.3-.4 3.2,1.8 -1.4,1.3 -3.7-.8zM163,174l2.7-.5 1.2,2.2 -.6,1.6 -2.2-1.3zM179,157l0,.8 -1.4,.4 -.1-1.4 .8-.6zM172,177l-1.9-1.1 -.5-2 1.5-.7 1.6,1.6zM191,176l-.9-1.9 .9-1.3 1.7,.6 0,1.5zM173,150l1.6,.7 -1.5,.7 -2.3-.7 .2-1zM183,174l2.3,1.7 -.1,1.4 -1.6-.4 -1.5-2.1zM167,151l.7-.7 2.8,.7 .7,1.4 -2.5,.2zM183,177l.3-2.1 1.7,.2 .3,1.6 -1.2,.8zM168,167l.8-.7 1.3,.4 .3,1.3 -.9,.4zM175,152l-2.9-.7 .3-1.6 2.8,0 1.6,1.4zM180,161l-.6-.8 1.1-.2 1.8,.9 -.5,1.1zM175,153l1.5,.2 .8,.9 -1.4,.2 -1.5-.7zM183,168l1.6-.9 1.8,1 .1,2.5 -2.5-.7zM176,138l.6-1.4 2.9-.1 1,1.2 -1.9,.7zM186,135l-2.2,.9 -2.4-1.4 1.5-1.6 2.5-.1zM160,178l1.6,.8 .9,1.7 -.9,.3 -1.8-1.3zM160,187l-.6,0 -.6-.8 .5-.7 .9,.4zM165,180l1.5,.1 .8,1.8 -.5,1.1 -1.5-1.4zM155,182l2.3-.1 1.3,2.6 -1.5,1.8 -2.7-2.1zM206,164l1.9,0 -.3,1.1 -1.2,.7 -1-1.1zM208,159l.6-1.3 2.8,.6 .6,1.7 -1.9,.6zM225,172l-1.1,.6 -2.4-.5 -1.2-1.5 2.6-.2zM217,137l.1-1.2 1,.4 .2,.9 -.9,.4zM270,153l-.6,2.3 -1.9-.6 -.8-2 1.6-.6zM257,169l-1.6,1.3 -2.1-2.2 .2-2.3 3.1,.7zM291,161l-1.7,1 -1.5-1.3 .4-2 1.9,0zM279,164l-2.1-2.2 .5-1.5 2.5,1.8 .9,2zM280,143l0-2.6 1.1-1.9 .8,1.4 -.5,2.6zM282,167l1.5,2.1 -1.7,.7 -2.9-1.2 .4-2zM266,167l-1.8-1.8 .6-1.1 2.6,1.7 .4,1.5zM276,165l.1-1.4 2.3,1.3 .4,1.4 -1.3,.3zM278,161l.8,1 -1-.3 -.9-.9 .5-.8zM255,152l2.1-.1 1.4,1.7 -1.7,1 -2.3-1.3zM262,168l.3,.8 -1-.5 -.7-.9 .8-.1zM266,173l-2.9-1 -1.9-2.4 1.7-.8 3,1.7zM318,164l-2.2,.9 -.6-1.5 1.2-2.5 1.5,.5zM313,184l-2.1,1.6 -.6-1.3 1.8-2.1 2.1-.5zM315,181l-.5-.4 1.1-1.3 1.5-.6 -.5,1.4zM323,174l-1.1,1.1 -1-.3 .1-.9 .8-.4zM305,163l-1.3,3.2 -2.1-1 -.3-2.6 2.3-.9zM291,200l.3,.5 -.8,.8 -1.1-.1 .2-.7zM301,179l-.6-1.6 2.5-1.8 1.8,.1 -.3,2.1zM292,192l2.4-.5 .3,.7 -1.5,.8 -1.6,.1zM293,175l2.7,1.3 -1.6,1 -3.6-.7 -.3-1.7zM295,185l-.6,1.5 -1.9-.1 .1-1.3 1.7-.3zM292,191l-1.4-.6 1.2-1.3 1.9,.3 -.1,1.3zM309,196l-.8-.3 .6-1 1.2-.1 -.1,1zM289,180l1.3,.2 -.8,.9 -1.5,0 -1-1.1zM294,199l-.9-.3 1.1-1 1.8-.4 -.3,1.1zM313,187l1.9,1 .4,2.2 -2.2,.2 -1.6-1.3zM310,197l-.9-.7 .8-1.2 1.2,.1 0,1zM311,187l1-2.3 2.6-.5 1,1.5 -2.8,2.5zM276,188l-1.5-.4 .1-1.6 2.4,.5 .9,1.7zM294,174l.2-1.6 1.4-1.1 1.2,1.3 -.5,1.6zM275,180l-2.9-2.4 -.1-2 2.9,.5 1.7,2.2zM263,187l.4,1.7 -2.5,.3 -1.4-2.4 2-1.1zM289,179l2.4-1 2.1,1.5 -.9,2.4 -2.9-.6zM286,192l1.9,.8 -2.2,1.3 -2.4,0 -.6-1.3zM345,153l-2.3-1.4 .4-1.9 2.5-.2 1.1,2zM356,139l-1.7,.6 -2.4-1.1 -.2-1.8 2.3,.1zM357,144l.3-1.7 2.2-.1 1.8,2.2 -2.2,.6zM351,146l2.8,.9 1.3,1.5 -1.7,.5 -2.4-1.4zM346,141l.3,1.9 -2.3-.5 -1.4-1.7 1.2-.9zM285,208l-1.9,1.2 -1.3,0 .8-1 1.7-.9zM275,212l-2.1,.8 -2-.5 1.4-2.1 2.6-.1zM280,208l-1.7,2.7 -3.2,1.8 -1-1.3 2.6-2.2zM316,197l-2.1,.9 0-1.1 2.1-1.4 .4,.8zM227,175l-.1-1.4 1-.5 .6,1 -.5,.9zM241,237l1-.6 1.8,1.3 -.5,1.7 -1.4-.5zM255,225l1.2-.2 1.3,1 -.4,.8 -1.7-.3zM260,232l-1,1 -1.3-1.1 .9-1.6 1.9,.4zM259,227l1.7-1.2 1.7,.7 -.1,1.1 -2.1,.3zM270,219l-1.2,1.5 -1.8-.3 .6-1.3 1.6-.6zM227,237l.3-1.2 1,.2 .6,1.5 -.5,1.1zM240,216l-2.2,0 -1.5-2 1.7-.4 1.8,1zM246,211l3.3,1.7 1.8,2.2 -3-.2 -2-1.9zM261,242l.9-1.4 2.7-.6 1.1,1.4 -2.6,1.4zM233,235l1.3,.6 .6,1.4 -1,0 -.8-1.1zM245,246l1,1.9 -1.9,1 -2.2-1.1 1.1-2zM240,222l-2.1-.7 -.5-2.1 1.5-.9 1.6,1.9zM268,237l.2,1.2 -1,.4 -.9-.4 .9-.9zM233,239l.4-2 1.6-.3 .8,2 -.7,1.4zM234,240l-1.3-1.7 .8-.4 1.1,1 -.2,1.1zM259,238l1.5,2.7 -.9,1 -2.2-1.5 -.4-2zM239,242l1.7,.3 .6,2 -1.3,.3 -1.1-1.4zM231,244l-.3-2.2 .9-.5 1.2,2.4 -.5,1.1zM249,228l-.7-1.9 1.1-1 1.7,.6 -.2,1.5zM236,239l1.3,.9 0,1.6 -1.6-.4 -.3-1.6zM268,228l1.5,.7 -.8,1.8 -3.3,.5 -.6-1.6zM251,240l2.4,2.3 .2,2.6 -1.7,.3 -2.3-4.1zM251,222l-.2,1.4 -1.6-.5 -.5-1.1 .6-.5zM225,239l2.2-.7 1.4,1.6 -1,1.7 -1.7-.8zM263,215l2.8,1.1 .1,1.4 -2.3,.5 -2-1zM243,237l.8,2.7 -1.2,.8 -1.9-1.1 .8-1.8zM301,245l3.5-2.5 2.1,.8 -2.1,2.8 -2.9,.4zM288,240l1.1,.2 -.3,1.3 -1.2-.1 -.4-1zM285,233l-.7,.7 -.9-.5 .6-1.1 1,.2zM296,237l-2.8,1.1 -2-.6 2.1-2.2 2.7-.6zM286,231l-2.1,1.2 -1.8-.4 .5-2.1 3.1-.8zM292,241l-.4-1.9 1.5-1.4 2.1,.1 -1,1.9zM294,226l-2.2,1.4 -.4-1.7 .9-1.8 1.6,1zM300,251l-3.1-.2 .4-2 2.6-2.2 2,1.5zM278,227l-.8,1.7 -1.4,.1 -.3-.9 1.5-.8zM288,220l.3-1 1.1,.3 -.6,.9 -1,.3zM268,211l-1.7,2 -2.6-.7 .9-1.8 2.1-.6zM272,210l-1.1,1.8 -1.7-.9 .2-1.8 2-.1zM262,213l-2.7-1.6 .4-2.2 4.1-.1 1.4,2.3zM266,215l.2,1 -1.5,.1 -.7-1.4 1.3-1.2zM244,224l-1.5-.3 -.3-1.7 1.3-1 1.4,1.4zM260,232l-2.5,.2 -3-2.2 1.5-.7 3,.9zM245,218l1.2-.9 2.2,.3 -.1,2 -1.8,1.1zM297,235l1.9-.2 .5,1.4 -2.8,1.4 -1.8-.3zM293,232l1.6-.2 -.3,1.2 -1.8,1.1 -.9-.5zM273,192l-1.9,2.4 -2.8-1.8 .4-3.2 3.5,0zM290,186l.4-1.3 1.4-1.1 1.9,1.1 -1,1.6zM287,197l1.9-1.2 1.6,.4 -1.5,1.2 -1.7,.2zM285,186l-3-1.9 .6-1.6 4.3,.6 1.9,2.1zM285,191l.4,1.6 -1.2,.8 -1.1-.7 .2-1.4zM283,188l.9,2.3 -2.5,.5 -1.6-1.2 .7-2zM296,191l-3.7-.2 1.8-2.3 3.8-1.7 .5,1.8zM287,181l-2.3-1.3 .2-1.4 2.7,.2 1.2,1.7zM148,97l1.2-2.1 2.2,1.3 -.4,2.6 -2.2,1.2zM143,93l1.7-.2 0,3.4 -1.1,2 -1.3-1.9zM169,93l2.2,.6 1.9,2.4 -1.2,.7 -2.2-1.4zM196,129l-2.1-.2 -1.2-1.8 1.6-1.9 2.3,2zM214,91l-4.3,1.2 -2-2.9 3.8-2.1 3.7,.8zM337,140l1.8,1.3 -.8,1 -1.6-.6 -.7-1.8zM179,162l1.1,2.4 -1.4,1.8 -2-2 -.1-2.4zM168,161l-2.5-.6 -.6-2.3 2.1-.9 2,2.3zM171,162l-1.6,.9 -2-1.8 0-1.9 2.6,1.3zM170,160l-3.8-.6 -1.7-2.9 2.8-.4 4,2.1zM182,159l1-2.2 3.5,1.2 .7,2.7 -2.9,.5zM180,157l4,1.1 1.9,3.1 -3.8-.5 -4-2.3zM178,154l-3.6-1.8 .1-1.9 4.4,.3 2.1,2.2zM174,163l-.2-1.4 1.3-.2 1.4,1.4 -.4,1.1zM182,158l2.4,1.9 0,2.6 -4.5-.6 -.7-3.2zM320,117l-1.7-1.7 2.9-2.5 3.6,0 -.8,2.4z" fill="#f59a1d"/>
<path d="M155,119l-.3-1.3 1,.2 .4,1.1 -.8,.5zM162,118l-2.9-1.6 -.4-2.5 2.2-.2 1.7,2.6zM179,104l0,1.1 -1.7,.4 -.8-1.5 1.1-1zM152,122l1.9,2.3 -.7,1.8 -2-.6 -.8-2.6zM167,98l-1.2,0 -1.7-1.5 .5-1.5 1.8,.6zM175,100l-1.2,.3 -2.8-1.6 0-1.9 2.2,0zM154,108l-2.4-1.2 1.2-2.5 2.2,1 .3,2zM165,108l1.7-1.3 1.5,.7 -.3,1.7 -1.7,.1zM159,130l-1.4-.3 -.7-1.8 1.5-1 1.5,1.6zM192,97l-.7-2.4 2.6-.6 2,1.6 -.6,1.2zM201,110l-1.8-.7 .2-1.3 2,.1 1.2,1zM166,122l-1.4,.5 -1.6-.6 .2-1.6 1.8-.3zM179,107l.8,2.1 -1.7,.9 -3.3-2.2 .7-2.2zM192,101l-1.6-1.3 .7-1.2 1.6,.4 .2,1.4zM181,111l.2-1.8 1.8,.1 1.6,1.3 -1.3,1zM173,89l1.7,2.4 -.5,.9 -2-1.2 -1.3-2.5zM149,106l-1.3-.7 .3-2.2 1.2,.6 .4,1.6zM161,120l1.8,2.3 -1.3,1.6 -2.7,.1 -.2-2.6zM144,99l-.5-2 1.6-.8 1.1,1 -.1,1.6zM188,119l-.8-1.6 1.1-.7 1.4,1.1 0,1zM176,99l1.3,1.1 .2,1.6 -1.9,.1 -1.6-2.3zM175,106l-.3-1.5 .7-.5 1.6,.7 -.3,1.3zM154,106l2.4,.7 .5,1.9 -1.5,.8 -1.5-1zM152,88l.3-1.9 1.4,.4 1,2.3 -1.2,1zM217,90l.3-1.5 1.3-2.5 1.2,.5 -.7,2.3zM210,93l-.5,1 -1.4,.1 -.4-.8 .9-.7zM207,82l-1.1,2 -1.3-1.1 .3-2.4 1.6-.2zM319,115l0-1.1 2.8-.9 .6,.8 -1.5,1.6zM322,120l.4-1.2 2.1-1.3 1.3,.5 -1.9,1.5zM315,129l-.7-2.2 0-2 1.3,.5 .6,1.8zM308,122l-1.4-1.7 1.5-1.3 1.7,.2 -.2,2zM326,110l.4,1.2 -2,1.8 -2.4,0 .7-1.8zM190,153l1.6,.2 0,1.1 -1.6,.2 -.8-1.2zM188,166l2.3-.5 1.1,2.1 -1.7,1 -1.6-1.1zM163,175l1.7,.2 -.2,1.2 -.9,.3 -.8-.9zM187,149l1.5-1 1.6,1.2 -.9,1.4 -2,.3zM160,156l.1-1.9 3.6,1 1.7,2.5 -2.7,.3zM165,171l.9-.6 1.4,1 .2,1.5 -1.6-.2zM177,143l-.3-1.5 3.6,.1 1.6,1.2 -2.5,1.3zM187,154l-.7-2.5 2.5-.4 2.2,1.2 -.5,1.9zM158,151l.1,2.8 -2.8-.5 -2-2 2.3-.8zM161,183l.9-1.2 1.1,.9 0,1.2 -1.2-.2zM171,180l-.4-.9 1,.4 .4,1.2 -.7,.3zM163,179l-.5-1.1 .6-.5 1.2,1.3 0,1zM154,185l1.3,1.5 -1,1 -1.8-.7 .3-1.7zM225,175l-1.2-1.6 1.9-.4 2,1.1 -.6,1.5zM290,146l-.2,1.4 -.8,.3 -.5-.7 .5-.7zM277,141l-.8-.5 .9-.8 .8,.3 -.1,1.4zM272,166l.4,.9 -1.3-.3 -.7-1 .9-.7zM261,158l1.8,.5 .7,1.3 -.9,.3 -1.6-.8zM269,145l-.9,1.7 -.7-.6 0-1.5 .8-.3zM259,167l-1.4-1.6 .4-1.1 1.6,.8 .8,1.3zM275,152l1.3-2 1.4,2.6 -.2,3.2 -2.2-.5zM277,170l0,1 -.6,.4 -1.4-.6 .3-.9zM265,163l-.1,1.4 -1.8,.8 -1.4-2 1.3-1.5zM307,172l-1.8-.7 .7-2 1.9,.5 .4,1.6zM308,174l-.2-2 1.4-1.8 1.4,.7 -.2,2zM302,177l0-2.3 2.3-1 2.2,1.1 -2,2.5zM323,166l2.4,.5 .6,2 -2.1,1.4 -1.8-1.3zM317,156l-.7,3.2 -2.5,.9 -.6-3.2 1.9-1.8zM320,162l.4-2.4 1.5-1.3 0,1.7 -1,1.8zM320,170l1.6-2.2 1.8-.3 -.6,1.8 -1.5,.8zM291,187l-1.5-1 .2-.9 1.9-.5 1.5,.9zM284,175l2.4-.4 2.9,1.7 -.6,1.6 -3.2-1.1zM295,199l1.6-.2 .4,1.4 -1.4,.9 -.9-.9zM277,176l-2.4-1.7 1.5-1.2 2.7,.8 .2,1.9zM314,194l2.1-.2 -.5,1.4 -1.5,1.3 -.6-.9zM311,200l-.4,.5 -1.3,.2 .4-.9 .9-.8zM292,189l-2.4-1 .3-2.6 2.9-.7 .9,2.5zM286,182l-2.9,.2 -.7-2.3 2.4-.7 1.6,1.6zM299,193l-.8-.6 .7-1.2 1.3,.3 .5,1.2zM283,177l1.1,1.2 -.3,.9 -1.5-.4 -.3-1.2zM320,193l-1.7,1.2 -.9-1 1.4-1.6 1.4,.5zM306,189l-1.5-.7 1.6-2.2 2.4-.2 .1,2.2zM307,182l-.6-.2 .3-1.1 1.2,0 .2,1zM285,185l-2-1.3 .4-1.2 2.6,.1 .4,1.5zM352,156l-2.7-1.4 .7-1.6 2.8-.4 2.1,2.2zM346,136l1.8,.3 0,1.2 -1.2,.3 -.7-.9zM340,148l3.2-.1 2.5,2 -1.1,1.2 -3.1-1.2zM349,146l-1.1,.2 -2.3-1 .3-1.1 2.1,.5zM268,214l1.5-2.2 2.1-.4 .8,1.9 -1.9,1.6zM288,211l.4,.6 -1.6,.7 -.9-.6 .9-1.4zM264,210l.1,1.2 -1.3,.8 -.8-1 .3-.9zM228,220l.2-1.4 1.2,.4 1,1.9 -1,.4zM253,241l1.7,.4 1.7,3.3 -1.4,.8 -2.2-2.8zM230,242l-.1,1.4 -1.4-.5 -.5-2.5 1.1-.2zM253,236l2.2-.4 2.1,1.3 -1,2.1 -2.3-.3zM249,233l-.7,0 -1.1-.9 -.1-1 1.1,.3zM226,217l1.3-.1 .7,2.2 -1.5,.4 -1.7-1.2zM254,212l-.7-.1 .1-1 1.1-.1 .6,.9zM232,234l0,.1 -.9-.5 -.1-1.3 .9,.1zM258,244l.3-1.7 1.8,1.2 0,1.9 -1,.3zM248,217l-2.6-1.2 .9-1.7 2.3,.7 1.2,2zM240,240l1.5,1.4 -.9,1.3 -1.4-1.4 .1-1.5zM243,209l1.3,.4 .7,.9 -.8,.6 -1-.6zM235,242l-.2-.4 -.5-1.2 .3-.9 1,1.2zM243,248l-.6,.4 -1.1-1.3 .2-1.5 1.4,.9zM262,223l1.2,2 -2.6,1.3 -3.5-1.6 2-1.6zM241,226l1.3,.2 1.5,1.9 -1.3,0 -1.4-1.3zM248,238l1.5,2.3 .7,2.6 -2.3-.9 -1.8-3.1zM267,227l.6-2.3 3.4-.9 .8,1.7 -2.8,1.2zM259,213l1.3-.4 1.5,0 -.2,.7 -1.3,.3zM237,229l.3,2.5 -1.7,.6 -1.2-1.7 .5-1.8zM251,245l1.1,.6 1,2.3 -.8,.4 -1.1-1.4zM270,235l-1.4,2.1 -3.4,.5 .6-1.9 3.4-1.6zM260,210l1.7,2.4 -1.8,1.1 -2.5-.5 -.2-2.1zM258,214l-.4-1.8 1.8-.8 2.6,.9 -1,1zM252,227l-1.6-1.2 .5-.9 1.9,.6 .8,1.6zM269,225l-1.5,.5 .4-1.1 1.7-.8 .2,1.1zM235,245l-.9,.3 -.6-.5 .3-1 .9,.4zM263,235l-1.6-.9 .6-1.9 1.8,.8 .7,1.7zM242,221l-1.3-1.5 .8-.4 1.5,1 .4,1.2zM271,223l-.2,1.5 -2.9,.5 -.9-1.3 2-1.4zM255,234l-1.3-.9 -.1-1.3 1.5,.6 .7,1.2zM240,226l2.5,2.5 -1.9,.9 -2.5-2.8 -.1-2.1zM234,241l-.2,1.3 -1.2-.5 -.9-1.9 .8-.7zM267,219l-2.6,1.1 -1.1-2.2 1-2.3 2.7,.9zM251,227l.2,2.1 -2.2,.2 -2.1-2.7 1.7-1.1zM302,231l-3.1,.1 1-2.6 2.8-1.1 1.1,2.4zM297,244l1.1-.8 .3,1.2 -1.1,.6 -1.2-.2zM293,235l-2.2,1.6 -2.8,.6 1.3-2.3 2.9-1.1zM295,241l.3-2 2.8-1.5 1.4,.9 -2.4,1.9zM294,254l1.9-.4 1.5,1.8 -2.3,1.2 -1.9-1zM292,214l-1.3,1.9 -1.5-.4 -.1-1.3 2.1-1.1zM300,255l.5,.5 -.6,1.3 -1.3-.2 -.1-1.3zM283,236l-1.5-.2 1.3-1.8 2.4-.9 1,1zM288,220l1.3-1 1.2,.7 -.4,1.5 -2,.4zM304,243l-.9-.2 -.5-.9 1.1-.6 1,.6zM302,221l1.1,1 -1.7,1.6 -1.5-.4 .6-1.3zM305,231l1.5,.8 -1,2.5 -3.5,.7 -.4-2.7zM306,230l-2.6,.2 -.1-1.9 3.6-2 1.7,1.5zM288,220l.7,.3 -1.2,1.2 -1.7,.4 -.1-1zM288,254l1.8-.2 .8,1.6 -1.8,1.4 -1.5-.9z" fill="#f7b21d"/>
<path d="M264,209l-.8,2.7 -2.4-.5 -.8-1.7 1.8-1.3zM262,209l2,1.3 -.9,1.3 -2.4,.5 -.8-1.5zM271,212l0-1.1 1.4-.8 1.3,.3 -.7,1.2zM274,210l1.1-.7 1.2,.6 -1,1.1 -1.3,.3zM253,228l2.1-.3 1.2,1.8 -.4,1.4 -2.3-.6zM257,220l-2.1,1.2 -2.8-1.6 .7-1.7 2.1,0zM243,222l.6-.2 1,.9 -.8,.6 -1-.2zM258,230l.6,1.1 -1,1.1 -1.4-1 .2-1.2zM245,217l2.3,.2 .9,1.5 -.7,1.3 -1.8-.8zM300,228l-3.1,2 -.7-1.5 3.3-2.5 2,.6zM293,226l.8,.5 -1.3,.9 -.9-.2 0-1zM294,234l.8,1.2 -1.1,1 -1.2-.4 .1-1.4zM298,236l-.3,.8 -1.4,.4 -.2-1.3 1.4-.8zM293,232l.7,.3 .2,.8 -.9,.6 -.7-.4zM287,230l1.9-1.2 1.2,.1 -1.4,1.4 -1.7,.4zM294,239l1.5-1 .7,.7 -1.1,1 -1.5,.3zM293,185l-1.4,1 -.9-.7 .2-1 1.3,0zM290,193l-.4-.8 1.6-.5 .7,.7 -1.3,.6zM283,184l-1.4-1.3 .9-1 1.3,.6 .3,1.2zM295,191l-2-1.1 2.2-1.7 2.5-.3 .5,1.2zM292,180l-.3-.7 1.3,.1 .9,.6 -1.1,.4zM286,180l-.7-.6 .2-.9 1.8,.8 .6,.9zM145,96l-1.4,1 -1.3-1.2 .8-2 1.4,.5zM165,94l.3,1 -1-.5 -.5-1.5 .5-.2zM172,96l-1,.2 -1.1-1.4 .5-.8 1.3,.5zM214,89l-1.1-3.2 1.6-3.3 1.8,1.5 -.3,3.9zM208,88l2.7-.8 1.7,1.3 -2,2.2 -2.1-1zM213,91l-3.4-.3 -.4-1.7 3.7-1 1.4,1.1zM213,84l.5,2 -1,1.5 -.4-1.6 .4-1.9zM338,142l-.1,.1 -1.2-1 -.6-1.1 1.4,.3zM341,149l-2.2-1.4 1.5-1.1 2.7,.7 -.5,1.9zM340,145l-1,0 -1-.5 -.1-.8 1,.1zM167,161l-.9-1.1 0-1.3 1.5-.8 1,1.6zM169,163l-1.3-1.8 .3-1.2 1.7,.6 .8,1.3zM166,158l.8-1.8 2.5,.7 -.1,1.9 -1.5,.5zM182,169l-2.5-.5 -1.9-2.3 1.9-.7 2.1,1.4zM183,160l-.8-2 2.5-.1 1.9,1.8 -.7,1.1zM183,160l-2.6,.1 -.6-2 1.9-.4 1.9,1.5zM176,153l-1.2-1.6 2.1-.6 2,1.1 -.3,.9zM174,158l2.9,0 2.1,1.6 -.2,1.8 -3.1-1.4zM174,162l1.5,0 1,1.2 -1,.5 -1.1-1.1zM320,114l3.3-.9 1.1,1.4 -3.1,1.8 -2.7-.4zM317,115l.9,.4 .1,.9 -1.2,.4 -.5-1zM319,118l-1.2-1.1 1.6-1.2 1.7,.5 -.3,1.7zM320,117l-.7-.2 1.4-.9 1.1,.2 -.3,1.1zM301,118l-1-1 1.2-3 2.5-1.3 -.3,2.5z" fill="#f9d21c"/>
<path d="M236,58l.4-1.2 .7,.3 .4,1 -.5,.2zM239,56l-.4,.5 -.9-1.1 -.3-1.4 1.1,.9zM206,72l.4,.8 0,1 -.7,.4 -.3-.9zM242,55l.5-.3 1,.9 -.3,1 -1.2-.6zM237,59l-.9-.5 -.6-1.4 .8,.1 .9,1.3zM328,128l-1.1-.8 0-1.2 1,.4 .5,1.4zM187,141l-.5,1.1 -1.3,.1 -.8-.7 1-.4zM178,130l.8-.3 1.1,0 0,.6 -.7,.2zM185,134l-.9,1 -1.4-.5 .4-1 1.3-.2zM199,134l.5-.4 .7,.3 .2,.4 -.7,0zM195,139l-.2,.7 -.5,.3 -.8-.4 .4-.6zM206,165l.6-.8 .6,.3 .2,.6 -.8,0zM200,153l1.1,1.1 -.1,.8 -1-.2 -.5-.9zM327,200l-1.1,0 .4-.8 .9-.5 .5,.2zM326,202l-1.3,1 -1,0 .5-.9 1.3-.8zM324,202l.2,.2 -.3,.6 -.9,.5 -.2-.6z" fill="#f9d81c"/>
<path d="M163,85l-.2-.4 .5-.9 1,.5 -.3,1.2zM163,119l-1.1-1.3 .6-.6 1.4,.9 .2,1.2zM165,122l1.3,.6 -.2,.9 -1.2-.1 -.7-.9zM193,95l.5-.4 1.5,.8 .4,1 -1.8-.1zM164,122l-.8-1.1 .7-.2 1.4,.6 0,.8zM161,124l-1.5-.9 -.2-1.6 1.7-.4 .6,1.4zM158,105l-.2-.1 -.5-.9 0-1 .8,.4zM194,113l.2,1.5 -1.4,.3 -.7-.9 .4-1.1zM162,117l.7,.7 -.8,.4 -.8-.5 0-.7zM169,109l.5,.7 -.1,.7 -.7-.1 -.4-.6zM155,107l.9,.6 0,1.2 -.6,.1 -.6-1.2zM154,87l-.1,1.3 -.7,.7 -.6-1 .2-1.2zM171,104l.4-.3 .3,.7 -.6,.4 -.6-.5zM118,106l.1,1.6 -1,.2 -.4-1.5 .5-1.8zM305,106l.3-.3 .9,.1 0,.9 -.8,.3zM326,112l-1.4,1.2 -1.6,.1 -.5-.9 1.8-1zM308,121l-.2,.2 -.2-.5 .4-.8 .5,.1zM311,108l.8-.1 .7,.3 -.3,.7 -1.1,.1zM314,105l.8,.8 -.9,.9 -1.4,0 .2-.9zM316,126l-.3,1.5 -.6,.1 -.6-1.4 .3-1.3zM174,174l-1.2,0 -1-1.5 1.1-.6 1.3,.9zM161,155l.8-1 1.5,.9 -.3,1 -1.5-.1zM191,153l0,.9 -.8,.1 -.5-.6 .5-.5zM165,174l.9,.8 .9,1.6 -1.2-.1 -1.1-1.2zM187,152l1.7-.2 1.7,.7 -.3,1 -1.9-.6zM167,157l-1.5-.1 -.1-.8 1.1,.2 1.2,.9zM157,152l-.1,1.1 -1.7-.9 -.6-1.1 1.5,0zM186,170l-.9-.5 -1.6-1.1 .2-.9 1.6,.7zM162,183l-.2-.7 .8,.4 .1,.8 -.5,0zM159,186l.3-.2 .6,.3 .1,.5 -.5,.3zM153,185l.5,.2 1.3,1.1 -.1,.7 -1.2-.3zM222,171l.9,.9 -.6,.5 -1.1-.1 -.4-.8zM269,155l-1.2-1 -.6-1.5 1,0 1.2,1.5zM277,169l.6-.2 .3,.5 -.3,.3 -.8-.4zM263,149l-1-1 .9-.7 1.7,.8 -.5,1.1zM277,141l-.3,.3 .2-.9 .4-.7 .2,.7zM267,169l-.9,.7 -1-.6 -.1-1.1 1.2-.1zM259,147l.5-.3 .6-.1 .1,.5 -.4,.4zM288,159l-.4-1.2 0-1.4 .6-.4 .6,1.8zM276,152l.4-.8 .7,1.8 -.3,1.5 -1-.4zM263,172l-.3-1.7 .9-1 1.2,1.2 -.1,1.4zM317,164l-1-.2 -.1-1 1-1.3 .5,.8zM321,161l-.5-.6 .4-.9 .7,.3 -.1,.9zM316,180l-.8,.9 -.1-.7 .8-1 .9,0zM291,201l-1.2,.2 -.1-.6 .8-.5 .4,.4zM290,191l-.2-1 .8-.6 1.1,.6 -.7,.9zM302,177l1.3-1.2 1.2,.4 -1.4,1.3 -1.6,.4zM311,200l-.7,.3 -.4-.2 0-.4 .6-.3zM294,185l.5,0 -.1,.8 -.7,.5 -.6-.6zM294,199l.1-1 .7-.2 .3,.5 -.5,.7zM282,178l.7-.4 .8,.2 .4,.6 -.7,.2zM277,193l.3,.1 .4,.6 -.5,.6 -.6-.4zM311,196l-1.1,.4 -.1-.4 .6-.7 .7,.2zM312,187l1-2.2 1.4,.1 -.1,1.4 -1.8,.8zM304,181l-.7,1.2 -1-.4 .9-.9 .9-.2zM307,187l1,.6 -1.1,.8 -1.3-.2 .5-1.3zM277,187l-.5,1.1 -1.2-.2 -.4-.8 1-.5zM308,182l-.9,0 -.4-.4 .5-.6 .8-.1zM263,188l-1,.1 -1.1-.9 .1-1.1 1.7,.5zM292,202l1.4-.2 -.3,.8 -1,.5 -.8-.2zM284,193l.6-.5 1.2,.1 .2,1.4 -1.3,.1zM345,141l.5,.8 -.9,.4 -1-.5 .5-.9zM271,213l-1.7,.2 -.1-.9 1.1-.4 1.1,.2zM259,207l-1.2,.8 -.9-.5 -.2-.9 1.1,.2zM241,239l1.6-.4 .9,2.1 -.9,1 -1.3-1.6zM254,237l1.2-.6 .9,.7 -.3,1.1 -1.4,0zM254,224l.2,.5 0,.7 -.7,0 -.3-.6zM254,212l-.7-.6 .6-.3 .9,.3 -.1,.5zM235,240l.4,.8 -.1,.7 -.5-.2 -.3-.7zM243,248l-.8-.1 -.4-.9 .2-.7 .7,.9zM248,214l-1-.1 0-1.4 1.3-.1 1,.9zM267,238l.8-.6 .3,.5 -.5,.5 -.6-.2zM244,230l1.5,.6 .4,.9 -.7,.7 -1.2-.9zM241,243l-.8,.9 -.9-.1 -.1-1.1 .9,0zM249,226l.7-.5 .8,.8 -.2,.6 -.9-.2zM239,234l1.2,.8 -.2,.7 -.8-.5 -.2-1zM256,225l0,1.7 -1.5,.2 -.9-1.2 .7-1.1zM246,223l-.9-.7 .1-.9 1.2,.1 .5,1.2zM250,223l-.9-.6 .2-.6 .7,.2 .4,.7zM264,217l2.1-.2 .1,1.6 -1.3,1 -1.1-1.2zM274,235l-.6,.2 -.5-.4 .7-.6 .6,.1zM298,244l0,.1 -.8,.5 -.7,.1 .5-.8zM292,235l-.5,.8 -1.4,.7 -.1-1 .8-1.1zM296,240l-.1-.9 1.3-.6 .8,.4 -.7,1.2zM288,241l.4-1.1 .6,.4 -.6,.7 -.9,.2zM294,238l-.4,1.3 -1.4,.6 -.1-.8 1.3-.8zM293,241l-.4-.7 1.4-1.4 1.6-.1 -.5,1.4zM287,229l.1,1.6 -1.9,1.3 -1.4-.5 1.5-1.5zM284,235l-1.2,.4 0-.8 1.4-1.1 .5,.6zM289,220l.8-.4 .3,.5 -.9,.9 -1-.1zM287,215l.8,.1 -.7,.6 -.7,.1 .1-.6zM303,233l1.8-1.7 1.1,.6 -1.2,1.3 -1.6,.5zM304,230l.6-1.8 2.2-.7 .4,1 -2.2,1.4zM288,221l-.9,.5 -.8-.4 .5-.8 .8,.1zM290,255l-1.2,1.1 -1.2,.1 .7-1.3 1.3-.9zM265,212l-1-.7 1.6-.9 1.5,.2 -.3,1.1zM270,210l.6-.8 1.2,.5 -.5,1 -1.4,.5zM278,215l.1-1.6 1.6-.8 1.4,.1 -1.6,1.3zM267,215l-1.7,.8 -.9-.5 .3-.9 1.4,0zM250,220l-.8-1.9 1.7-.8 1.9,1.4 -.3,1.3zM252,220l1.9-1.5 1.7,1.5 -.5,2 -2.6,0zM253,225l2,.5 1.3,1.6 -.7,1.3 -2.5-1.2zM256,233l-2.1,.9 -1.7-1.9 1.1-1.2 1.7,.7zM294,237l2.2,.5 -.6,1.4 -2.4,1.3 -1.1-.8zM260,184l.2-1.9 1.6-.2 1.5,1.2 -.9,1.3zM269,188l-2.8-.6 -.6-2 2-1.8 1.6,2.4zM274,186l2.9,1.3 -1.1,1.4 -2.2-.2 -1.6-1.9zM273,192l-.5,1.1 -2.9-.7 -.9-1.5 2-.5zM268,186l1.3,.4 .6,1.9 -1.7,1 -1.7-1.4zM267,182l1.4,.3 .3,1 -1.1-.1 -1.3-.9zM282,187l.6,1 -2.2,.1 -1.7-.9 .7-1.1zM289,197l-.9,.8 -.7-.9 .7-.9 1.2,.3zM290,200l.8-1.1 1.6-.4 .7,.4 -1.1,1zM286,183l.9,1.4 -1.4,1 -2.4-.8 .1-1.7zM285,193l-1.9,0 -.6-.7 1.7-.6 1.3,.3zM282,188l1.2,1.3 -1.2,1.3 -1.5-.5 0-1.5zM288,187l1.8,.6 .5,.9 -2.3,.6 -1.2-.9zM150,100l-1.2-.5 -.1-3.4 1.3-1.7 .9,2.8zM141,102l-.1-3 1.8,.2 .4,2.2 -1.3,2.4zM140,99l1.7-2.6 1.3,.7 0,3.1 -1.7,.8zM199,129l-2.2,.9 -3.7-1.7 .6-2.1 3.9,1.3zM194,125l-.9-.7 1.7,0 .8,1.1 -.5,.8zM192,122l-.7-2 1.1-1.1 2.1,.9 .1,1.6zM194,126l2,.4 .8,2 -2,.3 -2.1-.9zM204,91l2.2-2.3 2.3,1.3 -.1,1.8 -3.1,.5zM203,84l.8,1.2 -.6,2.1 -1.7,.7 -.2-2.2zM342,147l.3-.3 1.7,.5 .6,.9 -1.1,.2zM346,147l-1.1,1.5 -1.6-.3 -.5-1.5 1.5-1zM351,142l-1-1.4 1.4-.1 2.1,1.3 -.3,1zM352,152l-2.1,1 -3-1.7 1.2-1.4 2.9,.4zM353,140l.7,2 -2.8-.3 -1.7-1.9 1.2-.8zM350,147l-.8,.7 -1.1-.5 -.5-.9 1.1-.3zM179,163l1.2,1.7 -1.4,.3 -2.2-1.1 .5-1.4zM175,168l-.5,1.1 -1.1-.6 -.2-1.3 1.1,.1zM185,159l1.1,.4 .2,1 -1.3,.1 -.6-1.1zM179,168l0-1.8 1.5,.1 1,1.4 -.8,1.1zM180,160l1.4-1.7 2.6,.4 0,2.8 -2.6,.1zM323,113l-1.4,1.1 -.8-.9 .8-.8 1,0zM325,112l1.8-.5 .5,.9 -1.5,.9 -1.4,0zM309,119l2.5-2.7 3.1-.2 .2,2.1 -2.9,1.3zM320,116l1.8,.6 .1,1.1 -1.6,.6 -1-.7zM311,107l.9,1 -1,.7 -1.3,0 .4-1zM331,115l-1.4,1.3 -1.2-.3 0-1.4 1.6-.9z" fill="#f9e21c"/>
<path d="M155,119l-.3-.7 .3-.5 .6,.6 .2,.9zM177,104l.4-.5 1,.5 .5,.9 -1-.2zM166,98l-.9-1 -.2-1 .8-.1 .9,.9zM186,112l.2,.7 -.7,.1 -.9-.6 .2-.4zM165,89l.3-.4 .3,.9 -.4,.5 -.6-.6zM158,129l-.9-.8 .9-.3 1.3,.6 0,.7zM164,108l.4,.9 -1.3,.4 -1-1.2 .9-1zM200,109l.1-.5 .9-.4 .8,.7 -.6,.8zM177,106l2.3,2.1 -.3,1.2 -1.8-.8 -1.4-1.5zM188,96l-.4-.9 1-1 1.5,1 0,1.6zM136,102l.1-.3 .4-.5 .2,.6 -.3,.8zM142,97l-.3,.3 -.6,0 .2-.9 .4-.4zM173,121l.4-.8 1.2,.3 .1,1 -1.1,0zM163,87l.1-.7 .4-.1 .4,.8 -.3,.7zM176,131l.6-.9 1.5-.4 .9,1 -1.1,.8zM155,116l.9,.8 .3,.9 -.4,.2 -.5-.8zM143,103l1.1,1.4 -.7,1.1 -.8-.5 .1-1zM161,89l-.1-.3 -.2-.9 .2-.4 .4,.5zM193,105l.3,0 .7,.5 0,.6 -1,0zM177,101l-2.1-.9 .2-.9 1.4,.8 .8,1.1zM205,91l1.5-.1 .9,.7 -1,.9 -1.5-.4zM202,90l-.8-.4 .5-.6 1,.2 0,.6zM119,105l0,.7 -.4,.6 -.4-.2 0-.8zM324,110l-1.6,1.2 -1.1-.3 .6-.8 1.3-.5zM176,177l1.5,1 .1,1.1 -.9-.2 -.9-1.7zM165,148l-.4-.7 .1-.7 1,.4 .4,.6zM165,148l-.5-1.4 1.7-.7 1.3,1.2 -.4,1.1zM168,158l.6,.8 -1,.2 -1.2-.8 .3-.5zM190,168l-1.4-.5 -.4-1.1 1.2-.3 1.2,1.2zM188,150l-1.1-.8 1.2-.2 1.6,.5 -.2,.7zM163,156l-.1,1.7 -1.6-.6 .1-1.5 1.3-.6zM192,174l.6,.7 -1,.1 -.8-.7 .1-.8zM164,152l-.3-.6 1.6-.3 1,1.2 -.7,.8zM173,151l-1-.4 -.4-.6 1.1,0 1,.5zM184,176l-.7-.3 -.2-1 1.2,.5 .5,1zM181,161l-.8-.1 -.7-.8 1.1,.1 .8,.8zM194,169l-.8,0 -1.6-.5 0-1.1 1.5-.1zM161,180l-.5-.6 .2-.4 .9,.5 .2,.7zM166,182l-.6-1.3 .6-.4 .9,1.1 -.1,.9zM227,174l-.2,.9 -1.2-.2 -.6-.6 .5-.4zM262,155l-.3-.6 .5-.5 .8,.1 -.2,.8zM306,172l.1-1.2 1.2-.9 .7,.4 -.9,1.4zM305,174l.2,1.7 -1.6,1.3 -1.1-1.1 .6-1.3zM325,166l1-.8 .3,.5 -.5,.8 -.9,0zM311,184l.5-1 1.5-.8 .1,1 -.8,1zM290,185l1.2,0 .5,.5 -.4,.6 -1.6-.1zM295,200l.3-.5 1.1-.2 0,.5 -.8,.6zM305,192l-.3,.7 -1.6,.5 -.6-.5 1.4-1.2zM294,192l-.5,1.1 -.7-.4 -.1-.7 .9-.3zM293,175l1.5,1.1 -1,.8 -1.7-.3 -.1-1.2zM310,195l-1,.9 -.4-.2 .2-.5 .6-.2zM277,191l-1.5-.4 .2-1.1 1.8,.3 1.3,.9zM294,173l.9-.7 1.6-.1 .3,1.1 -1.5,.4zM280,188l0,.9 -1.1,.1 -.5-1 .9-.4zM313,184l-.6,1.6 -1,0 .1-.8 1.4-1.1zM291,181l-.9-.9 .2-1.1 1.6,.3 .5,.9zM359,140l-1,.4 -.8-.7 0-.4 1,.3zM332,145l1-.4 .5,.6 -.3,.7 -.7-.3zM348,146l-.3-.2 -1.4-.7 .5-.4 1,.3zM345,152l.4,.2 -.3,.3 -.9-.4 -.2-.4zM355,136l-1.1-.1 -.1-.6 .7,0 .7,.6zM335,137l.4,.3 .2,.5 -.3,.2 -.7-.7zM282,209l1-1 .7,0 .1,.8 -.7,.1zM280,212l-1.9,.1 .1-1.2 1.4-1.1 1,.8zM263,210l.6,.8 -.3,.5 -1.2-.1 .1-.5zM227,174l0-.3 .8,0 .5,.5 -.3,.4zM253,242l1-.4 1.2,1.4 -.1,1.2 -1.2-.9zM230,242l-.1,.7 -.9,.1 -.5-1.4 .4-.9zM224,233l-.2-.3 .5,.4 .2,.9 -.4-.2zM245,228l-.8-.7 .8-.9 1.2,.8 .3,1.3zM238,228l-1.3-1.6 .5-1.1 1.8,1.8 0,1.5zM248,241l-.8-1.2 1-.5 1.1,.8 0,1.5zM243,247l.4-1 1.3,.3 .5,1.8 -1.3,.1zM237,231l-.9,.8 -1.2-1.4 .2-.9 1,.1zM240,219l.1,1.5 -.9,.6 -1.4-.6 .3-1.3zM261,212l-.5,1 -1.6-.1 -.7-.9 .8-1.1zM259,240l-.6,.5 -1-.8 .9-1.1 1,.8zM226,226l.4,1.5 -.4,1 -.9-.8 -.1-1.1zM263,233l1,.3 -.2,.9 -1.3,.4 -.9-.6zM236,239l.9,.7 .1,1 -.7,.3 -.6-1.1zM240,228l-.9-.8 -.3-1.2 1.3-.7 1.2,1.5zM228,235l1.3-.2 1.2,2 -.8,.9 -1.1-1zM227,241l-1-1.6 .8-.8 .9,1.1 -.1,1.3zM243,239l-1.5,1.5 -1.3-.7 .1-1.5 1.4-.1zM244,240l-.9,.6 -1.2-1.2 -.6-1.7 1.1,.4zM250,226l.8,2 -1,.9 -1.5-1.1 .4-1.2zM268,232l-.3,.6 -1.1,.4 -.6-.5 .8-.7zM305,244l-.3,.5 -1.4,1 -1.1,0 .8-1.2zM295,236l.2,.4 -1.5,1.1 -1.2-.3 .8-1.1zM292,230l-1.5,.5 -.3-.8 .9-.8 .8,.3zM291,214l.3,.7 -.9,.6 -.7-.3 .1-.9zM301,248l-1.8,1.9 -1.4,.2 -.1-1.1 1.7-1zM286,230l-.8,.2 0-.8 .6-.2 .4,.5zM301,223l-.1-1.3 1,.1 .4,.6 -.9,.6zM288,220l.1-.5 .6,0 .1,.4 -.8,.4zM270,211l0-1.2 1.1-.1 .4,.5 -.8,.6zM272,211l.7-.6 .5,.4 -.8,.7 -1.2,0zM266,216l-1.3-.7 .2-.7 .8-.2 .5,.6zM254,228l-.2-1.5 .6-.9 1,.7 0,.9zM298,236l-.7,.7 -1,.1 .4-.8 1.1-.5zM269,187l-2.1,.5 -.9-1.5 1-1 1.4,.7zM269,191l1.5-.1 1.3,.6 .1,.8 -1.6,0zM288,197l-.4,.2 .5-.5 .7-.2 .3,.4zM292,199l-.4,.7 -.4-.5 .5-.4 .6,0zM284,185l0-1.2 1-.6 1.2,.9 -.4,.7zM283,183l-.9-.3 .5-.4 1,.1 .3,.7zM281,190l-.6-.6 .6-.8 1.2,.4 .2,.6zM293,180l-.2,.2 -.8-.2 0-.4 .9-.2zM287,180l-1.1-.3 -.4-.7 1.2,.1 1.1,.6zM142,99l.7,.6 -.2,2.2 -1,1 -.6-1.1zM164,93l.8,.2 .3,.6 -.4,.4 -.6-.1zM197,129l-1.7-.1 -1-1.5 1.8-.1 2.1,1.1zM215,84l.8,.9 -.4,1.8 -1.2,.3 -.6-1.4zM212,88l-1,1.1 -2.2,.7 -.7-.8 1.8-1.1zM208,91l-1.8,.8 -1.3-.9 .9-1 2,.1zM213,89l-.6,1.3 -1.6,.2 -.5-1.3 1.6-.7zM213,87l-.8-.8 .3-1.3 .5-.4 .3,.8zM339,145l-.6-.5 -.2-.5 .5-.1 .6,.6zM350,150l1.1,.9 -.4,1.4 -1.7-.1 -.6-1.3zM349,147l0,.2 -.8,0 -.3-.7 .7-.3zM179,163l.1,1.4 -1.1,.5 -.6-1.3 .6-.6zM166,160l.1-1.3 1.1,0 .8,.8 -.6,.5zM170,161l-.4,.8 -1,.1 -.3-1 .8-.5zM168,159l-1.2-.6 .2-1.1 1.4-.2 .7,1.3zM184,160l-.5-1 .7-.5 1.4,.4 -.2,1zM183,160l-1.9-.5 -.3-1 1.1-.6 1.4,1.3zM176,163l-.8,.2 -.5-.6 .1-.7 .8,.1zM320,115l1.5-1.6 1.9,.3 -.5,1.6 -2,.4zM322,117l-.4,.2 -1,.7 -.8-.2 .6-.7zM321,116l.1,.8 -.6,.4 -.7-.3 .3-.8zM302,116l-1.1,1.2 .2-1.6 1.1-1.3 .6,.3z" fill="#fbec3a"/>
<path d="M152,88l-.3,1.9 -1.4-.2 -.2-1.6 .8-.8zM148,118l-.4-.9 0-.7 .4-.3 .2,.8zM153,123l.3,2.3 -1.2,0 -1.3-1.4 .5-1.1zM179,120l1,.8 -1.2,.2 -1.5-1 .7-.4zM188,110l.6,1 -.9,0 -.6-.7 .5-.2zM184,110l1.8-.4 1,1 -.7,.8 -1.4-.5zM143,119l.1,.6 -.6,.4 -.3-1 .4-.8zM191,115l-1.7-.1 .1-.9 1.3,.1 1,.7zM163,102l-1.1-.3 -.4-1.5 .7-.3 .9,1.2zM176,127l-.4-.1 .7-.4 1.1,.3 -.2,.5zM182,110l.5-.4 1.1,.6 -.2,.8 -1.2,0zM172,90l1.1-.1 1.2,1.1 -.3,.9 -1.2-.8zM149,104l.1,.4 -.1,1 -.6,.1 -.4-.8zM194,113l.3,1.2 -1,0 -.8-.7 .7-.7zM158,122l-.1,.9 -1.1,.1 -1.2-1.8 .7-.7zM181,118l-1-.6 -.7-.9 1-.3 1,.6zM154,124l.5,1.3 -.7,.1 -.7-1 0-.7zM176,92l-.4,.6 -1.2-.4 -1-1.4 1.3-.3zM155,90l.2,.4 -.4,.4 -.6-.2 .1-.7zM189,118l-.4,.5 -.7-.5 .2-.7 .9,.1zM175,105l.2-.8 1.1,.6 .3,.9 -.9,0zM178,102l-.7-.3 -.3-.6 .3-.1 .6,.4zM210,82l-.5-.7 .6-1.5 .9-.4 0,2.5zM219,87l.2,1 -.8,1.1 -.7-.3 .2-1.4zM206,83l-.4,.7 -.5-.5 .3-1.2 .7-.4zM311,127l-.5,1 -.6-.4 0-1.6 .5-.3zM324,119l-.9,.5 -.4-.5 .9-.9 1.2,0zM307,121l1-1.7 1,.2 .3,1 -1.1,.7zM324,113l-2-.2 1.5-1.5 2.1-.8 .5,.9zM323,112l.8,.2 -.2,.7 -1.1,.3 -.3-.4zM302,106l-.8,1.1 -.8,.1 0-.6 .9-.5zM197,164l-.1,1.7 -1.7,.3 -1.3-1.3 1.1-1zM180,144l-.4-1 .8-.7 1.2,.3 -.4,.8zM185,145l-1,0 .2-.6 1,.1 .6,.5zM179,157l-.4,.7 -.8-.3 .1-.7 .7-.3zM178,163l.7,1.4 -.9,.2 -1.3-1 .2-1zM164,175l.4,.8 -.4,.5 -.6-.1 -.3-.7zM167,172l-1.4,.2 .2-.9 .7-.4 .5,.7zM176,144l.4,.3 -.5,.4 -.7-.1 -.1-.5zM157,165l.1,.3 -.8-.5 -.1-.4 .6,0zM165,156l-1.2-.7 .5-.7 1.6,.4 .9,1.1zM176,153l.4,1 -.9,.1 -.3-.5 .2-.4zM172,180l-.9,.6 -.5-.6 .4-.4 .5,.2zM164,179l-1.1-.3 -.3-.9 .8,.2 .7,.8zM271,147l.3-1.4 1.2,.1 -.2,2.1 -1.1,.8zM260,166l.9-.2 .9,1.3 -1.3,.5 -1.3-.9zM289,162l-.7-1.6 .2-1.6 1.4,.5 .3,1.7zM289,146l.6,.9 -.3,.5 -.4-.2 0-.6zM272,166l-.4,.4 -.7-.2 .2-.8 .7,0zM270,159l-.3-.3 -.6-.7 .3-.4 .8,.3zM267,167l-1.2-.4 -.5-.9 .7-.8 1.1,1zM277,166l-.3-1.1 .8-.3 .5,.7 -.2,.8zM263,159l-.2,.7 -.7,.1 -.6-.6 .6-.6zM278,161l.4,.4 -.2,.4 -.8-.7 .1-.5zM264,163l.9,1.1 -1,.4 -1.4-1.1 .4-.8zM262,169l-.7-1 0-.5 .7,.2 .2,.6zM326,167l-1.7,1.8 -1.7,.5 .5-1.5 2-1.4zM315,156l.9,.5 0,1.5 -1.1,.7 -.5-1.2zM309,184l-2,.2 -.2-1.3 1.7-1 .8,.4zM323,169l-1,.5 -.9,.1 .2-1 .8-.3zM313,170l.2,.9 -.8,1.4 -.9-.2 0-1.1zM308,174l-.2,.6 -.6-.1 .1-.7 .7-.1zM288,177l-1.7-.2 -1.3-1.1 1.1-.4 1.9,.5zM314,194l1.1,.7 .3,.8 -.9,.4 -.6-.6zM288,180l1.2,.1 .1,.7 -.7,.3 -.7-.6zM284,181l-.3-.8 1.4-.4 .9,1.4 -1.1,.9zM312,189l1.1-.7 1.2-.1 .5,1.2 -1.4,.6zM353,154l-1.1,1.2 -1.4-.6 .3-1.3 1.4,0zM360,144l-1.5,.3 -1.4-1.1 .8-.9 2,.9zM277,212l-1.4,.3 -.5-.6 .5-.9 .8,.3zM288,211l-.2,.8 -.9,.2 -.3-.7 .5-.6zM248,232l.7,.6 -.6,.2 -.9-.8 .1-.7zM232,233l.1,1 -.5-.5 -.2-.6 .2-.4zM247,215l.8,0 .9,.9 -.8,.8 -1.1-.6zM259,231l.8,.6 .4,.7 -1,0 -.9-.7zM240,238l1,1.3 -.1,1.2 -1.3,.6 -.4-1.5zM232,214l-.3,1.7 -1.3,.1 -.5-1.5 .9-.8zM241,241l-.4,1 -.9-.9 -.3-1.2 .7,.1zM262,227l-.8,.4 -1.1-.4 .1-.6 1.5,0zM244,210l.4-.1 .1,.5 -.6,0 -.6-.4zM234,243l.3,0 .2,.6 -.2,.2 -.6-.6zM242,228l-.4-.8 -.3-.7 .7-.4 .7,.9zM234,237l-.7-.9 .1-.8 .7,.2 .3,1zM267,236l.3-.9 1.6-.1 .4,.9 -1.7,1.1zM254,211l1.4,0 .8,.7 -.1,.9 -1.5-.5zM235,237l.4,1.8 -.3,.8 -1-1 -.4-1.5zM256,226l1,1.1 -1.3,.7 -1.4-.7 .4-1.1zM229,229l-.4,1.1 -1.2-.1 -.5-.8 .6-1.1zM242,220l1,.7 -.7-.1 -.8-.6 .1-.5zM269,224l-1.4,.2 .5-1.1 2-.4 .5,.7zM259,242l.9-.1 .4,.7 -.3,.5 -.7-.6zM255,234l-.9-.8 0-.8 .8,.2 .4,.7zM253,244l-1.5,.1 -.6-1.8 .9-.7 1.1,.8zM226,237l-.2,1.3 -1.1,.2 -.6-1.3 .5-.9zM265,236l.8-.6 .7,1 -1,.8 -.8-.5zM300,230l.9-1 1.6-.2 -.1,.9 -1.7,1.1zM282,246l.6,.8 -1,1.2 -1.4,.2 .1-1.1zM300,255l.1,.7 -.5,.6 -.7-.2 0-.6zM293,245l.4-.4 .8-.6 .3,.3 -.3,.4zM287,252l.5,.3 -.6,.7 -.6,0 .2-.6zM261,211l-.8-1.1 1.2-.5 1.5,.2 .4,.9zM256,229l.2,1.5 -1.6-.4 -.8-1.2 .8-.3zM253,232l1.2-.8 1.2,1 -.9,.8 -1.1-.3zM295,234l-.5,1.1 -1.2,.7 -.8-.1 .6-1zM292,233l.9-.3 .7-.1 .1,.5 -.9,.5zM289,230l-1,.3 -.2-.8 .5-.5 .6,.3zM294,239l.8-.6 .8,.2 -.2,.6 -1,.6zM275,187l1.1,1 -1.3,.6 -1.7-.9 .7-.9zM268,183l-.5-.1 -.6-.6 .5-.1 1,.5zM290,192l.5,.1 .5,.2 -.2,.5 -.8,.2zM285,192l-.4,.8 -.9,0 0-.6 .6-.5zM295,189l.9-1.1 .8,.9 -.3,1 -1-.1zM289,187l.4,1.1 -.6,.7 -1-.4 .3-.7zM172,95l-.5,.7 -.9-.4 -.5-1.1 .9,.2zM194,124l1.2,.9 -.3,.7 -.9,0 -.3-.7zM193,120l.8,.1 0,.8 -1.1,0 -1.1-.8zM202,86l.8-1.3 .4,1 -.4,1 -.7,.1zM351,142l-.1-.9 .8-.5 1.1,.7 -.6,.9zM353,141l-.8,.3 -1.4-.5 -1.1-1.1 1.5-.1zM181,168l-1.7-.4 -.5-1.4 1.3-.4 1.2,1.8zM186,160l0,.2 -.9-.2 -.3-.6 .6-.4zM178,160l-.8,.4 -2-1.4 .5-1 2.2,.7zM322,113l-.7,.6 -.2-.5 .8-.4 .7,0zM326,112l.8,0 -.3,.8 -1.3,.3 -.4-.3zM312,117l1.8-.1 .2,1.2 -2.3,1.1 -1.3-.6zM311,108l.4,.2 -.9,.4 -.5-.4 .5-.6z" fill="#fff27a"/>
<path d="M266,211l1-.1 -.4,.8 -1.2,0 -.3-.5zM279,213l.9,.4 -.5,.6 -.8-.2 0-.9zM261,211l.4-1 1.6,.5 .2,.9 -2,.2zM274,210l1.1-.3 .4,.6 -.3,.8 -.9-.2zM253,219l0-.8 1.6,.3 .9,1 -.8,.6zM243,223l-.3-.7 .3-.4 1,.5 .1,.7zM251,218l1.6,.9 0,1.1 -1.8-.4 -.6-1.2zM257,230l.9,.7 .3,.7 -1-.1 -1.1-.9zM254,221l-1.6-.9 .6-.9 1.8,.8 .4,1.1zM247,219l-1.1-.9 .6-.4 1.1,.8 .1,.6zM295,238l.6,.3 -.7,1.2 -1.3-.1 0-1zM299,229l-1-.4 .2-1 1.3-.7 .7,.8zM293,227l-1,.3 -.2-.4 .7-.7 .8,0zM263,184l-1-.1 -1.4-.9 .1-.8 1.3,.4zM268,187l1,.1 0,1 -1,.3 -.8-.9zM282,187l-1.1,1.1 -.9-.5 -.2-.9 1-.3zM291,185l.2-.6 .9,.1 .1,.8 -.7,.4zM149,98l0-1.6 1.1-.4 .3,1.5 -.5,1.2zM143,98l-.5,1.7 -1.2,1.3 -.2-2.2 .7-2.2zM143,96l.1-1.1 .8-.5 .8,.7 -.6,1.1zM193,127l2.4,.2 .8,.9 -1.2,.1 -1.4-.7zM337,141l-.5-.4 .7,0 .9,.6 0,.7zM343,148l-.2-.4 0-.5 .9-.1 .4,.7zM341,147l1.3,1.1 -1,.8 -1.5-.2 .2-1.4zM345,147l-.2,1.1 -1.3-.2 -.5-1.1 1.1-.2zM174,167l.5,1 .2,.7 -.5,0 -.6-.8zM176,152l1.1-.7 1.6,.5 -.6,.8 -1.6,0zM181,167l0,1.4 -1.2-.6 -.9-1.2 1.1-.4zM182,159l1.1,1.1 -.6,1 -1.5-.7 -.3-1.3zM318,116l-1.2,.1 -.2-.3 .8-.5 .5,.2zM319,118l-.4-1.3 1.1-.5 .6,.6 -.2,.9zM329,116l-.3-.5 .1-1 1.1-.1 .4,.9z" fill="#fff79a"/>
<path d="M246,53h3v3h-3zM251,66h2v2h-2zM244,68h3v3h-3zM204,76h2v2h-2zM201,83h2v2h-2zM176,93h3v3h-3zM141,96h2v2h-2zM181,96h3v3h-3zM186,96h2v2h-2zM196,96h2v2h-2zM199,103h3v3h-3zM141,106h2v2h-2zM169,106h2v2h-2zM201,108h2v2h-2zM311,108h2v2h-2zM136,113h2v2h-2zM301,113h2v2h-2zM151,116h2v2h-2zM151,118h2v2h-2zM309,120h2v2h-2zM316,123h2v2h-2zM306,126h2v2h-2zM191,140h3v3h-3zM281,148h3v3h-3zM186,150h2v2h-2zM334,150h3v3h-3zM359,150h2v2h-2zM169,156h2v2h-2zM171,156h2v2h-2zM184,156h3v3h-3zM266,156h2v2h-2zM354,156h2v2h-2zM321,158h3v3h-3zM319,166h3v3h-3zM171,178h2v2h-2zM169,183h2v2h-2zM274,188h2v2h-2zM309,188h3v3h-3zM314,188h2v2h-2zM291,193h3v3h-3zM316,200h2v2h-2zM271,206h2v2h-2zM274,206h3v3h-3zM271,208h3v3h-3zM261,226h3v3h-3zM281,226h2v2h-2zM286,226h2v2h-2zM259,228h2v2h-2zM226,230h2v2h-2zM224,233h2v2h-2zM251,233h2v2h-2zM286,236h2v2h-2zM229,240h3v3h-3zM231,246h2v2h-2zM289,246h3v3h-3zM301,270h2v2h-2zM314,270h2v2h-2zM304,273h2v2h-2z" fill="#f7a51d"/>
<path d="M234,58h2v2h-2zM254,63h3v3h-3zM201,80h2v2h-2zM174,98h2v2h-2zM166,106h2v2h-2zM336,113h3v3h-3zM309,118h2v2h-2zM154,120h3v3h-3zM181,126h2v2h-2zM166,148h2v2h-2zM194,158h2v2h-2zM284,160h2v2h-2zM266,163h2v2h-2zM271,163h3v3h-3zM261,166h3v3h-3zM171,168h2v2h-2zM171,176h3v3h-3zM169,190h2v2h-2zM299,193h2v2h-2zM269,223h2v2h-2zM254,228h2v2h-2zM276,238h2v2h-2zM251,240h3v3h-3zM266,243h3v3h-3zM286,258h2v2h-2zM296,270h3v3h-3z" fill="#ee5a1c"/>
<path d="M176,90h3v3h-3zM179,93h2v2h-2zM169,96h3v3h-3zM139,98h3v3h-3zM169,98h2v2h-2zM121,100h3v3h-3zM194,100h2v2h-2zM186,103h2v2h-2zM126,108h2v2h-2zM161,108h3v3h-3zM144,113h2v2h-2zM151,113h3v3h-3zM146,118h3v3h-3zM171,118h3v3h-3zM319,118h2v2h-2zM196,120h3v3h-3zM306,123h2v2h-2zM341,126h2v2h-2zM279,143h2v2h-2zM286,143h2v2h-2zM354,143h3v3h-3zM261,146h2v2h-2zM266,146h2v2h-2zM269,146h2v2h-2zM269,148h3v3h-3zM351,148h3v3h-3zM184,150h2v2h-2zM169,153h2v2h-2zM259,158h2v2h-2zM269,158h2v2h-2zM281,158h2v2h-2zM179,160h2v2h-2zM279,163h2v2h-2zM316,163h2v2h-2zM166,166h2v2h-2zM184,166h2v2h-2zM274,168h2v2h-2zM194,170h3v3h-3zM304,170h3v3h-3zM314,170h2v2h-2zM264,173h2v2h-2zM316,176h3v3h-3zM321,176h2v2h-2zM169,178h2v2h-2zM294,178h2v2h-2zM304,180h2v2h-2zM276,183h2v2h-2zM314,183h2v2h-2zM171,186h3v3h-3zM281,186h3v3h-3zM286,186h2v2h-2zM306,186h3v3h-3zM161,188h3v3h-3zM316,193h2v2h-2zM289,196h3v3h-3zM299,200h3v3h-3zM316,203h2v2h-2zM284,213h3v3h-3zM244,218h2v2h-2zM229,226h2v2h-2zM296,226h2v2h-2zM296,228h3v3h-3zM281,230h2v2h-2zM291,230h2v2h-2zM296,230h2v2h-2zM286,233h2v2h-2zM241,236h2v2h-2zM249,236h2v2h-2zM289,236h3v3h-3zM284,240h2v2h-2zM289,250h2v2h-2z" fill="#f9e21c"/>
<path d="M141,93h3v3h-3zM166,93h2v2h-2zM194,93h3v3h-3zM194,116h3v3h-3zM164,118h2v2h-2zM314,118h3v3h-3zM341,148h2v2h-2zM271,153h2v2h-2zM309,158h2v2h-2zM164,166h3v3h-3zM276,176h3v3h-3zM164,183h2v2h-2zM284,188h3v3h-3zM294,190h2v2h-2zM301,200h2v2h-2zM269,208h2v2h-2zM239,210h2v2h-2zM274,216h2v2h-2zM274,236h2v2h-2z" fill="#fff27a"/>
<path d="M154,98h3v3h-3zM166,100h3v3h-3zM181,108h2v2h-2zM296,118h2v2h-2zM296,120h3v3h-3zM344,120h3v3h-3zM166,133h3v3h-3zM201,143h2v2h-2zM344,143h2v2h-2zM346,156h3v3h-3zM209,160h2v2h-2zM206,166h3v3h-3zM161,168h2v2h-2zM209,168h3v3h-3zM311,168h2v2h-2zM306,173h2v2h-2zM279,253h3v3h-3z" fill="#d92a1e"/>
<path d="M179,98h3v3h-3zM179,116h2v2h-2zM331,128h3v3h-3zM334,128h3v3h-3zM264,160h2v2h-2zM306,160h2v2h-2zM281,163h3v3h-3zM321,168h2v2h-2zM316,180h2v2h-2zM279,198h2v2h-2zM226,226h2v2h-2zM234,238h2v2h-2z" fill="#9a1d1a"/>
<path d="M271,283h3v3h-3zM151,269h2v2h-2zM159,205h2v2h-2zM263,220h2v2h-2zM289,130h2v2h-2zM208,225h2v2h-2zM212,121h2v2h-2zM179,220h2v2h-2zM340,242h2v2h-2zM286,232h2v2h-2zM266,116h2v2h-2zM344,82h2v2h-2zM358,144h2v2h-2zM316,156h2v2h-2zM303,125h2v2h-2zM352,220h2v2h-2zM260,72h2v2h-2zM321,96h2v2h-2zM203,196h2v2h-2zM274,233h2v2h-2zM208,89h2v2h-2zM290,218h2v2h-2zM131,139h2v2h-2zM236,244h2v2h-2zM353,114h2v2h-2zM247,204h2v2h-2zM308,280h2v2h-2zM181,194h2v2h-2zM224,229h2v2h-2zM321,125h2v2h-2zM196,208h2v2h-2zM153,226h2v2h-2zM368,116h2v2h-2zM342,288h2v2h-2zM316,102h2v2h-2z" fill="#c8341c"/>
<path d="M173,228h2v2h-2zM352,182h2v2h-2zM134,197h2v2h-2zM358,200h2v2h-2zM154,239h2v2h-2zM217,122h2v2h-2zM153,82h2v2h-2zM312,270h2v2h-2zM114,211h2v2h-2zM356,127h2v2h-2zM306,269h2v2h-2zM242,117h2v2h-2zM169,74h2v2h-2zM287,159h2v2h-2zM345,234h2v2h-2zM333,83h2v2h-2zM195,279h2v2h-2zM326,239h2v2h-2zM246,144h2v2h-2zM289,93h2v2h-2zM234,254h2v2h-2zM353,110h2v2h-2zM235,206h2v2h-2zM268,191h2v2h-2zM166,149h2v2h-2zM144,189h2v2h-2zM110,275h2v2h-2zM345,235h2v2h-2zM199,233h2v2h-2zM223,241h2v2h-2zM271,131h2v2h-2zM140,270h2v2h-2zM151,122h2v2h-2zM269,226h2v2h-2zM191,181h2v2h-2zM339,169h2v2h-2zM132,229h2v2h-2zM117,176h2v2h-2zM131,90h2v2h-2zM225,277h2v2h-2zM243,262h2v2h-2zM153,70h2v2h-2zM158,84h2v2h-2zM351,231h2v2h-2zM193,76h2v2h-2zM286,81h2v2h-2zM319,108h2v2h-2zM187,83h2v2h-2zM228,247h2v2h-2zM158,143h2v2h-2zM150,177h2v2h-2zM328,203h2v2h-2zM153,180h2v2h-2zM160,222h2v2h-2zM207,135h2v2h-2zM141,218h2v2h-2zM251,92h2v2h-2z" fill="#e07a2e"/>
<path d="M278,278h2v2h-2zM109,94h2v2h-2zM301,163h2v2h-2zM337,217h2v2h-2zM347,108h2v2h-2zM144,91h2v2h-2zM259,221h2v2h-2zM338,137h2v2h-2zM228,186h2v2h-2zM226,177h2v2h-2zM164,267h2v2h-2zM201,96h2v2h-2zM196,101h2v2h-2zM240,169h2v2h-2zM154,185h2v2h-2zM270,155h2v2h-2zM228,293h2v2h-2zM200,121h2v2h-2zM207,87h2v2h-2zM232,151h2v2h-2zM345,187h2v2h-2zM303,64h2v2h-2zM356,280h2v2h-2zM264,294h2v2h-2zM276,83h2v2h-2zM337,246h2v2h-2zM302,103h2v2h-2zM226,74h2v2h-2zM274,177h2v2h-2zM315,82h2v2h-2zM314,127h2v2h-2zM139,65h2v2h-2zM360,289h2v2h-2zM169,65h2v2h-2zM306,172h2v2h-2zM149,171h2v2h-2zM187,276h2v2h-2zM153,90h2v2h-2zM242,68h2v2h-2zM157,163h2v2h-2zM117,190h2v2h-2zM299,155h2v2h-2zM127,74h2v2h-2zM291,226h2v2h-2zM276,265h2v2h-2zM273,240h2v2h-2zM199,172h2v2h-2zM368,123h2v2h-2zM269,274h2v2h-2zM368,138h2v2h-2zM215,281h2v2h-2zM323,299h2v2h-2zM167,61h2v2h-2zM323,70h2v2h-2zM220,148h2v2h-2zM353,221h2v2h-2zM143,204h2v2h-2zM246,74h2v2h-2zM314,282h2v2h-2zM331,151h2v2h-2zM289,180h2v2h-2zM128,97h2v2h-2zM304,91h2v2h-2zM277,55h2v2h-2zM112,205h2v2h-2zM360,178h2v2h-2z" fill="#a0301a"/>
<path d="M113,122h2v2h-2zM142,111h2v2h-2zM358,112h2v2h-2zM340,136h2v2h-2zM220,86h2v2h-2zM329,244h2v2h-2zM236,171h2v2h-2zM345,255h2v2h-2zM172,109h2v2h-2zM233,289h2v2h-2zM194,60h2v2h-2zM111,158h2v2h-2zM340,82h2v2h-2zM264,180h2v2h-2zM115,98h2v2h-2zM135,255h2v2h-2zM246,277h2v2h-2zM138,193h2v2h-2zM326,281h2v2h-2zM233,288h2v2h-2zM325,92h2v2h-2zM301,232h2v2h-2zM161,83h2v2h-2zM297,63h2v2h-2zM120,166h2v2h-2zM306,173h2v2h-2zM334,270h2v2h-2zM241,258h2v2h-2zM184,185h2v2h-2zM233,256h2v2h-2zM211,284h2v2h-2zM206,95h2v2h-2zM231,135h2v2h-2zM123,60h2v2h-2zM180,185h2v2h-2zM351,72h2v2h-2zM126,243h2v2h-2zM168,300h2v2h-2zM319,260h2v2h-2zM157,171h2v2h-2zM367,53h2v2h-2zM242,134h2v2h-2zM280,196h2v2h-2zM145,222h2v2h-2zM111,205h2v2h-2zM120,75h2v2h-2zM167,88h2v2h-2zM161,275h2v2h-2zM260,158h2v2h-2zM240,234h2v2h-2z" fill="#e8901e"/>
<path d="M117,116h2v2h-2zM319,49h2v2h-2zM138,284h2v2h-2zM199,55h2v2h-2zM355,246h2v2h-2zM115,74h2v2h-2zM261,279h2v2h-2zM146,65h2v2h-2zM242,91h2v2h-2zM259,81h2v2h-2zM276,143h2v2h-2zM328,293h2v2h-2zM223,199h2v2h-2zM316,150h2v2h-2zM308,124h2v2h-2zM259,222h2v2h-2zM195,268h2v2h-2zM315,103h2v2h-2zM202,193h2v2h-2zM263,135h2v2h-2zM133,143h2v2h-2zM186,293h2v2h-2zM201,206h2v2h-2zM212,53h2v2h-2zM283,302h2v2h-2zM142,247h2v2h-2zM225,214h2v2h-2zM217,253h2v2h-2zM199,77h2v2h-2zM296,65h2v2h-2zM249,75h2v2h-2zM139,294h2v2h-2zM236,258h2v2h-2zM297,256h2v2h-2zM323,211h2v2h-2zM366,214h2v2h-2zM270,235h2v2h-2zM296,51h2v2h-2zM275,155h2v2h-2zM239,201h2v2h-2zM359,57h2v2h-2zM218,131h2v2h-2zM133,150h2v2h-2zM283,175h2v2h-2zM343,121h2v2h-2zM116,210h2v2h-2zM344,186h2v2h-2zM357,208h2v2h-2zM242,129h2v2h-2zM183,197h2v2h-2zM163,270h2v2h-2zM307,213h2v2h-2zM352,124h2v2h-2z" fill="#d9501e"/>
</g>
<path d="M114.0,80.0 L121.0,79.0 L135.0,85.0 L150.0,69.0 L161.0,74.0 L175.0,79.0 L189.0,85.0 L195.0,82.0 L200.0,80.0 L207.0,68.0 L214.0,62.0 L221.0,52.0 L229.0,55.0 L245.0,48.0 L251.0,56.0 L255.0,72.0 L259.0,82.0 L261.0,92.0 L267.0,99.0 L281.0,100.0 L296.0,100.0 L304.0,99.0 L316.0,104.0 L328.0,108.0 L336.0,114.0 L341.0,121.0 L346.0,127.0 L352.0,134.0 L357.0,131.0 L360.0,132.0 L363.0,140.0 L366.0,148.0 L368.0,158.0 L368.5,163.0 L366.5,170.0 L365.0,176.0 L362.5,192.0 L360.0,202.0 L357.6,213.0 L356.0,228.0 L357.6,236.0 L357.0,252.0 L353.6,262.0 L347.0,270.0 L337.5,274.0 L329.0,277.0 L327.0,282.6 L323.0,289.0 L316.5,295.0 L310.0,301.8 L301.5,301.8 L291.0,300.7 L280.0,298.6 L278.0,293.0 L276.0,285.0 L274.0,274.0 L270.6,267.6 L269.6,263.0 L265.0,259.0 L254.6,257.0 L239.7,256.0 L222.6,254.0 L212.0,249.5 L203.5,244.0 L199.5,236.0 L199.0,225.0 L198.8,218.0 L194.0,216.4 L187.5,214.8 L181.0,211.6 L168.0,213.2 L166.6,218.0 L165.0,213.2 L152.0,206.8 L144.0,200.4 L136.0,189.0 L132.9,177.9 L131.3,165.0 L130.5,158.0 L130.5,150.0 L129.7,142.0 L129.0,134.0 L129.7,126.0 L127.3,119.6 L119.3,121.3 L112.3,115.4 L108.8,109.5 L108.7,97.7 L111.0,85.8 Z" fill="none" stroke="#555" stroke-width="0.7"/>
<path d="M370.8,158.0 L371.6,149.7 L373.0,141.4 L376.6,134.8 L381.5,131.5 L388.0,126.5 L394.8,121.5 L401.4,116.6 L408.0,112.4 L416.0,110.0 L423.0,108.5 L426.0,106.3 L430.0,107.3 L438.0,112.4 L446.5,114.4 L456.5,114.4 L462.6,110.4 L468.6,102.3 L470.6,96.3 L474.6,88.2 L476.6,80.2 L478.6,70.0 L479.7,64.0 L490.7,65.0 L500.8,66.0 L508.0,60.0 L514.0,65.0 L516.0,75.0 L518.0,81.0 L526.0,83.0 L534.0,87.0 L540.0,90.0 L550.0,87.0 L558.0,82.0 L564.0,79.0 L570.0,82.0 L580.5,85.0 L590.0,85.0 L600.0,93.0 L610.0,98.0 L618.0,96.5 L625.0,94.0 L629.0,91.6 L631.4,95.0 L634.0,101.5 L636.4,109.8 L638.0,119.7 L636.4,121.4 L633.0,119.7 L631.4,126.4 L629.7,133.0 L626.4,134.6 L621.5,134.6 L618.0,139.6 L616.5,146.0 L615.6,150.0 L617.0,157.0 L618.8,166.8 L617.0,178.0 L615.7,186.0 L616.7,189.3 L613.9,198.7 L608.3,208.0 L600.8,217.3 L591.5,224.8 L578.4,229.5 L565.3,230.4 L556.0,228.5 L548.5,226.7 L543.0,227.6 L540.0,231.3 L542.0,235.0 L536.4,235.0 L533.6,237.9 L528.0,243.5 L524.3,248.3 L515.8,252.6 L509.4,256.9 L503.0,259.0 L494.5,259.0 L481.7,261.0 L471.0,263.3 L465.7,264.7 L464.3,268.7 L464.3,274.0 L464.3,279.3 L463.0,284.7 L459.0,288.7 L453.7,291.3 L441.7,290.0 L435.0,288.7 L427.0,286.0 L419.0,283.3 L412.3,278.0 L409.7,271.3 L403.0,267.3 L395.0,263.3 L390.0,252.6 L383.5,244.0 L379.0,231.0 L377.0,216.0 L376.0,205.0 L373.0,192.0 L371.0,180.0 L370.5,170.0 Z" fill="#9d9d9d"/>
<g clip-path="url(#cr)">
<path id="dpcr" d="M484.2,83.7c.4-.8 2.3-.9 3.5-1.2c1.2-.3 2.5-.4 3.7-.8c1.2-.4 2.3-1.4 3.4-1.5c1.1-.1 2.2 1 3.4 1c1.2 0 2.7-.8 3.9-.7c1.2 .1 2.4 .7 3.3 1.5c.9 .8 1.9 1.9 2.3 3.1c.5 1.2 .2 2.7 .4 3.9c.2 1.2 1.2 2.8 .9 3.6c-.3 .8-1.9 1-2.9 1.1c-1 .1-2.2-.8-3.2-.7c-1 .1-1.9 1.4-2.8 1.4c-.9 0-1.8-.9-2.8-1.1c-1-.2-2.1-.3-3.1-.4c-1-.1-2-.1-2.9-.3c-.9-.2-1.7-.7-2.6-1c-.9-.3-2.1-.1-2.7-.8c-.6-.7-.3-2.4-.6-3.6c-.3-1.2-1.6-2.7-1.2-3.5z M499.9,67.7c.3-.8 1.6-1.6 2.6-2c1-.4 2.3-.2 3.3-.5c1-.3 1.9-1.1 2.9-1.1c1 0 2.2 .5 3.1 1.1c.9 .6 1.9 1.6 2.2 2.5c.3 .9-.7 2.1-.3 3.1c.4 1 2.2 1.7 2.6 2.6c.3 1 .1 2.4-.5 3.1c-.6 .7-2.2 .5-3.1 1.1c-.9 .6-1.2 2.2-2.2 2.5c-1 .3-2.8-.3-4-.9c-1.2-.6-2.5-1.7-3.1-2.7c-.6-1-.2-2.1-.7-3.1c-.4-1-1.5-1.8-2-2.7c-.5-1-1.1-2.2-.8-3z M477.3,93.8c.6-.7 1.9-.8 2.9-.8c1-0 2.2 .7 3.2 .5c1-.2 1.9-1.6 2.7-1.4c.8 .2 1.7 1.6 2.3 2.5c.6 .9 .9 2 1.1 3c.2 1.1 .8 2.6 .2 3.3c-.6 .7-2.8 .3-4 .9c-1.2 .6-2.1 2.5-3.1 2.6c-.9 .2-1.7-1.1-2.6-1.7c-.9-.6-2.1-.9-2.7-1.8c-.6-.9-1-2.3-1-3.5c0-1.2 .4-2.9 1-3.6z M491.2,95.9c1-.3 3 .8 4.5 .7c1.5-.2 3.6-1.9 4.4-1.6c.8 .3-.1 2.5 .3 3.5c.4 1 2.2 1.7 2.3 2.7c.1 1-.8 2.4-1.5 3.3c-.7 .9-1.8 1.7-2.9 2c-1.1 .3-2.4-0-3.6-.2c-1.2-.2-2.6-.3-3.5-.7c-.9-.4-1.7-1-2.1-1.7c-.4-.7-.6-1.8-.5-2.7c.1-.9 .5-1.9 .9-2.8c.4-.9 .7-2.2 1.7-2.5z M507.6,93.9c.5-.7 2.6 0 3.9-.3c1.3-.3 2.5-1.5 3.8-1.7c1.3-.2 3.4-.5 4 .3c.6 .8-.6 3-.4 4.6c.2 1.6 1.4 3.2 1.5 4.8c.1 1.6-.2 3.9-1.1 4.7c-.9 .8-2.8 .2-4.2-.1c-1.3-.3-3.2-.8-3.9-1.7c-.7-.9-.1-2.5-.5-3.7c-.4-1.2-1.6-2.1-2.1-3.3c-.5-1.1-1.5-2.9-1-3.6z M483.6,109.9c.3-.6 2.3-.7 3.5-.8c1.2-.2 2.5 .1 3.7-.1c1.2-.2 2.4-1.4 3.4-.9c1 .5 1.8 2.4 2.7 3.6c.9 1.2 2.7 2.4 2.6 3.5c-.1 1.1-2.1 2-3.3 2.9c-1.2 .9-2.4 2-3.7 2.4c-1.3 .4-2.7 .5-3.9 .2c-1.2-.3-2.7-1.1-3.2-1.9c-.6-.8-.1-2.1-.1-3.1c-0-1 .3-2.1 0-3.1c-.3-1-2-2.1-1.7-2.7z M465.1,113.8c.8-.3 2.1 .7 3.1 .6c1-.1 2-1 2.9-1.4c.9-.4 2.2-1.2 2.8-.9c.6 .3 .8 1.8 1 2.8c.2 1 .4 2 .5 3c.1 1 .9 2.4 .3 3c-.5 .6-2.4 .2-3.6 .5c-1.2 .3-2.5 1.4-3.5 1.3c-1-.1-1.5-1.5-2.4-2.1c-.9-.6-2.4-.7-2.9-1.4c-.5-.7-.3-2.1 0-3c.3-.9 1-2.1 1.8-2.4z M457.1,122c.7-.7 2.3-.6 3.5-.6c1.2 0 2.8 0 3.5 .6c.7 .6 .7 1.9 .9 2.9c.2 1 .2 2.1 .3 3.1c.1 1 1.1 2.4 .6 2.9c-.5 .5-2.5-.2-3.7 .1c-1.2 .3-2.7 1.9-3.4 1.6c-.7-.3-.2-2.3-.6-3.5c-.4-1.1-1.5-2.2-1.7-3.4c-.2-1.2-.1-3 .6-3.7z M501.6,107.8c.1-.5 2.1 .4 3.1 .2c1-.2 1.9-1.2 2.8-1.5c.9-.3 2.2-.8 2.9-.4c.7 .4 .7 2 1.2 2.9c.5 .9 1.4 1.7 1.8 2.7c.4 1 1.1 2.4 .6 3.2c-.5 .8-2.3 1.3-3.5 1.9c-1.2 .6-2.7 1.9-3.6 1.6c-.9-.3-1.5-2.1-2-3.3c-.5-1.2-.4-2.9-1-4.1c-.5-1.2-2.4-2.7-2.3-3.2z M509.5,119.9c.4-.9 1.8-1.7 2.9-2.1c1.1-.4 2.6 0 3.8-.2c1.2-.2 2.5-1.9 3.2-1.3c.7 .6 .9 3.1 .8 4.7c-.1 1.6-1.2 3.2-1.3 4.8c-.1 1.6 1.1 3.9 .5 4.7c-.6 .8-2.9 .5-4.3 .2c-1.4-.3-3.1-1.2-3.9-2c-.8-.8-.8-1.8-1.1-2.8c-.2-1-.3-2-.4-3c-.1-1-.6-2.2-.2-3z M487.3,122.4c.5-.4 2.3 .9 3.5 .9c1.2 0 2.6-.9 3.8-.8c1.2 .1 2.6 .8 3.4 1.6c.8 .8 .7 2.3 1.2 3.5c.5 1.2 1.4 2.2 1.8 3.4c.4 1.2 1 3 .5 3.8c-.5 .8-2.2 .9-3.4 1.1c-1.2 .2-2.5 0-3.7 .1c-1.2 .1-2.6 1-3.5 .5c-.9-.5-1-2.5-1.9-3.4c-.9-.9-2.9-1.1-3.4-1.9c-.5-.8 .1-1.9 .5-2.9c.4-.9 1.5-1.8 1.7-2.8c.2-1-1-2.7-.5-3.1z M437.3,115.9c.6-.7 2.3-1 3.5-.8c1.2 .2 2.4 1.7 3.6 1.8c1.2 .1 2.7-1.4 3.5-1c.8 .4 .9 2.2 1.2 3.4c.3 1.2 .9 2.8 .5 3.6c-.4 .8-1.7 1.3-2.7 1.4c-1 .1-2.3-.9-3.3-.8c-1 .1-2.3 1.5-2.8 1.2c-.5-.3 .3-2.4-.3-3.3c-.6-.9-2.7-1.3-3.2-2.2c-.5-.9-.6-2.6 0-3.3z M495.5,131.9c.5-.8 2.2-1.1 3.4-1.2c1.2-.1 2.6 .7 3.8 .6c1.2-.1 2.6-1.5 3.4-1.2c.8 .3 1 2 1.5 3c.5 1 1.1 2 1.5 3.1c.3 1.1 1.3 2.6 .6 3.3c-.7 .8-3.1 1-4.7 1.2c-1.6 .2-3.2 .1-4.8-.1c-1.6-.2-4-.3-4.7-1.1c-.7-.8 .3-2.5 .3-3.8c0-1.3-.8-3-.3-3.8z M469.2,131.9c.4-.5 2.2 .5 3.2 .5c1 0 2.1-.1 3-.5c1-.4 2.1-2 2.7-1.8c.7 .2 .6 2.1 1.2 3.1c.6 1 1.8 1.8 2.2 2.8c.4 1.1 .8 2.8 .1 3.5c-.7 .7-2.7 .5-4.1 .4c-1.4-.1-2.8-1-4.2-1.1c-1.4-.1-3.6 1.2-4.1 .7c-.6-.5 .8-2.5 .8-3.8c0-1.3-1.2-3.2-.8-3.8z M502.9,67.6c.7-.8 2.5-.8 3.7-1.4c1.2-.6 2.3-2.1 3.4-2.1c1.1 0 2.2 1.3 3.1 2.2c.9 .9 1.8 2 2.2 3.1c.4 1.1-.1 2.3-.1 3.5c0 1.2 .7 2.8 .1 3.6c-.6 .8-2.3 .6-3.5 .9c-1.2 .3-2.6 1-3.6 .8c-1-.2-1.6-1.4-2.5-2c-.9-.6-2.2-.7-2.8-1.5c-.6-.8-.6-2.3-.6-3.5c0-1.2-.1-2.8 .6-3.6z M491,79.8c.6-.5 2.5 .5 3.7 .5c1.2-0 2.4-.3 3.6-.7c1.2-.4 2.3-1.6 3.4-1.6c1.1 0 2.1 1.1 2.9 1.8c.9 .7 1.5 1.7 2.2 2.6c.7 .9 2 1.9 1.9 2.7c-.1 .8-1.9 1.3-2.5 2.2c-.6 .9-.2 2.6-1 3.1c-.8 .5-2.4 .4-3.6 0c-1.1-.4-2.1-1.9-3.3-2.2c-1.2-.3-2.5 .7-3.7 .5c-1.2-.2-3-.9-3.6-1.8c-.6-.9 .1-2.3 .1-3.5c0-1.2-.7-3.1-.1-3.6z M511.2,81.9c.3-.4 2.2 .7 3.4 1c1.2 .3 2.4 .5 3.6 .6c1.2 .1 2.3-.3 3.6 .1c1.3 .4 2.8 1.2 4 2.1c1.2 .9 3.1 2.3 3.1 3.2c-0 .9-2.1 1.7-3.3 2.3c-1.2 .6-2.7 1.2-3.8 1.3c-1.1 .1-2.1-.1-3.1-.6c-.9-.5-1.6-1.7-2.6-2.2c-1-.5-2.5-.1-3.1-.8c-.6-.7-.1-2.4-.4-3.6c-.3-1.2-1.7-3-1.4-3.4z M519.3,95.5c.2-.5 2.1-1.5 3.3-1.5c1.2-0 2.7 1.2 3.9 1.2c1.2-0 2.2-1.5 3.4-1.5c1.2 0 2.4 1 3.6 1.6c1.2 .6 3.5 1.2 3.5 1.9c0 .7-2.1 1.8-3.3 2.4c-1.2 .6-2.4 1-3.8 1.2c-1.4 .2-3-.1-4.5-.3c-1.5-.1-3.7-.1-4.4-.6c-.7-.5 .5-1.9 .2-2.6c-.3-.7-2.1-1.2-1.9-1.8z M490.9,100c.4-.8 2.3-.8 3.5-1.1c1.2-.3 2.5-.6 3.7-1c1.2-.4 2.8-1.9 3.4-1.5c.6 .4-0 2.5 .2 3.8c.2 1.2 .6 2.6 1.1 3.7c.6 1.1 2.5 2.2 2.2 3.1c-.3 .9-2.7 1.3-3.9 2.2c-1.2 .9-2.1 2.7-3.2 3.1c-1.1 .4-2.3-.3-3.5-.6c-1.2-.3-2.9-.3-3.5-1.1c-.5-.8 .1-2.3 .2-3.5c.2-1.2 .7-2.4 .7-3.6c-0-1.2-1.3-2.7-.9-3.5z M503.2,105.8c.7-.6 2.8 .3 4.2 .1c1.4-.2 2.7-.8 4.1-1.1c1.4-.3 2.9-1.2 4.1-.8c1.2 .4 2.1 2.1 3 3.3c.9 1.2 2.5 2.8 2.3 3.8c-.2 1-2.2 1.5-3.4 2.1c-1.2 .6-2.6 1.3-3.7 1.4c-1.1 0-1.8-.9-2.8-1.1c-1-.2-2.1-.1-3.1-.2c-1-.1-2.1 .2-2.9-.4c-.8-.6-1.7-2.1-2-3.3c-.3-1.2-.5-3.2 .2-3.8z M511.8,109.7c.6-.6 3.9-.1 5.9-.1c2-0 4.1 .2 6.1-.1c2-.3 4.2-1.8 5.7-1.5c1.5 .3 1.9 2.3 3.1 3.2c1.2 .9 4 1.6 4 2.1c0 .5-2.7 .3-3.9 .9c-1.2 .6-1.9 2.3-3.2 2.6c-1.3 .3-3-1-4.6-1c-1.6-0-3.2 .7-4.8 .9c-1.6 .2-3.7 .7-4.7 .1c-1-.6-.6-2.6-1.2-3.8c-.6-1.2-3-2.7-2.4-3.3z M490.9,120.2c.7-.9 2.3-1 3.4-1.5c1.1-.5 2.2-1.5 3.4-1.8c1.2-.4 2.9-.8 3.8-.3c.9 .5 1 2.2 1.5 3.4c.5 1.2 1 2.4 1.3 3.6c.3 1.2 1.1 2.7 .7 3.6c-.4 .9-2.2 .9-3 1.6c-.8 .7-1.3 2-2 2.9c-.7 .9-1.2 2.3-2.1 2.6c-.9 .3-2.3-.7-3.5-1c-1.2-.3-3 0-3.5-.8c-.5-.8 .4-2.6 .3-4c-.1-1.4-1.1-2.8-1.2-4.2c-.1-1.4 .2-3.2 .9-4.1z M551.6,83.6c.2-.7 2.3-.4 3.5-.5c1.2-.1 2.5 0 3.7-.2c1.2-.2 2.2-1.2 3.4-1c1.2 .2 2.5 1.5 3.7 2.4c1.2 .9 3 1.9 3.4 2.9c.4 1-.7 2.1-1.3 3c-.6 .9-1.3 2-2.3 2.3c-1 .3-2.3-.3-3.5-.4c-1.2-.1-2.5-.2-3.7-.4c-1.2-.2-2.6-.2-3.4-1c-.8-.8-.8-2.5-1.4-3.7c-.6-1.2-2.3-2.8-2.1-3.4z M567.3,90.1c.6-.8 1.8-1.1 2.8-1.5c1-.4 2-.6 3-.7c1-0 2.1 0 3.1 .4c.9 .4 1.9 1.1 2.6 2c.7 .9 1.1 2.3 1.8 3.1c.8 .9 2.5 1.2 2.7 2c.1 .8-1.3 1.7-1.8 2.7c-.5 1-.7 2.1-1 3.1c-.3 1 .1 2.7-.8 3c-.9 .3-2.9-1-4.4-1c-1.5 0-3.3 1.4-4.4 1c-1.1-.4-1.5-2.2-2.1-3.4c-.6-1.2-1.1-2.5-1.5-3.7c-.4-1.2-1.1-2.3-1.1-3.5c0-1.2 .4-2.7 1.1-3.5z M580,94.1c.7-.5 3.1 .3 4.7 .5c1.6 .2 3.2 .3 4.8 .5c1.6 .2 3.4 .3 4.7 .7c1.3 .4 2.2 1 2.9 1.8c.7 .9 .8 2.4 1.5 3.3c.7 .9 2.6 1.3 2.6 2c0 .7-1.5 1.5-2.4 2.1c-.9 .6-1.8 1.3-2.9 1.5c-1.1 .2-2.5-.3-3.7-.6c-1.2-.3-2.4-.9-3.5-1.4c-1.2-.5-2.7-.8-3.4-1.6c-.7-.8-0-2.5-.8-3.4c-.8-.9-3-1-3.7-1.9c-.8-.9-1.4-3-.8-3.5z M603.7,98c.6-.7 2.2-.6 3.4-.9c1.2-.3 2.4-.7 3.6-.8c1.2-.1 2.6-.6 3.6-.1c1 .5 1.8 2 2.4 3.2c.6 1.2 .8 2.7 1.3 3.9c.5 1.2 1.7 2.5 1.6 3.5c-.1 1-1.4 1.8-2.3 2.4c-.9 .6-2.1 1.4-3 1.2c-.9-.2-1.6-1.7-2.6-2.1c-1-.4-2.2-0-3.3-.3c-1.1-.2-2.5-.5-3-1.2c-.5-.7 .2-2-.1-3c-.3-1-1.5-1.7-1.8-2.7c-.3-1-.4-2.4 .2-3.1z M619.5,98.3c.6-.9 1.9-.5 2.9-.7c1-.1 2.1-0 3.1-.2c1-.2 2.3-1.4 2.8-.9c.5 .5-.1 2.6 .4 3.8c.5 1.2 2.1 2 2.6 3.2c.5 1.2 .6 2.5 .6 3.7c-0 1.2-.5 2.3-.8 3.5c-.3 1.2-.2 3-1 3.5c-.8 .5-2.3-.8-3.5-.8c-1.2 0-2.8 1.3-3.6 .8c-.8-.5-.4-2.7-1-3.9c-.6-1.2-2-1.8-2.5-3.1c-.5-1.3-.7-3-.7-4.5c0-1.5 .1-3.5 .7-4.4z M611.4,116.5c.7-.5 2.9 .1 4.4 .1c1.5 0 3.5-.6 4.5-.1c1 .5 .6 2.3 1.2 3.3c.6 1 1.8 1.6 2.5 2.5c.7 .9 1.6 2.1 1.6 3.1c0 1-1.1 1.7-1.6 2.7c-.5 1-.9 2.1-1.2 3.1c-.3 1 .1 2.7-.8 3c-.9 .3-2.9-1.1-4.4-1.1c-1.5 0-3.5 1.4-4.4 1.1c-.9-.3-.8-1.9-1.1-2.9c-.3-1-.5-2.2-.9-3.2c-.4-1-1.4-1.7-1.6-2.7c-.2-.9 0-2 .3-3c.3-1 1.2-1.8 1.5-2.8c.2-1-.7-2.6 0-3.1z M536.9,118.1c.7-.6 1.9-.8 2.9-1c1-.2 2-.1 3-.2c1-.1 2.3-1 3-.6c.7 .4 .9 1.8 1.4 2.8c.5 1 1 1.9 1.4 2.9c.3 1 1.1 2 .7 3.1c-.4 1.1-1.8 2.5-3 3.4c-1.2 .9-2.8 1.8-4.1 1.9c-1.3 .1-2.6-.5-3.8-1.1c-1.2-.6-2.8-1.5-3.2-2.4c-.4-.9 .5-1.9 .6-2.9c.1-1-.2-2.1 0-3.1c.2-1 .4-2.2 1.1-2.8z M518.8,124.1c.6-.8 1.7-1.6 2.7-1.7c1-.1 2.3 1.2 3.3 1.2c1-0 2.1-1.5 2.8-1.3c.8 .2 1.5 1.7 1.7 2.7c.2 1-.6 2.6-.3 3.6c.3 1 2.4 1.9 2.2 2.6c-.1 .7-2.1 .9-3.1 1.5c-1 .6-1.7 1.7-2.7 2.3c-1 .6-2.2 1.7-3.1 1.5c-.9-.2-1.2-1.9-2.1-2.5c-.9-.6-2.9-.5-3.2-1.1c-.3-.6 1.4-1.7 1.5-2.7c.1-1-.8-2.3-.7-3.3c0-1 .4-2.1 1-2.8z M557.3,103.6c-.1-.8 1.7-1.3 2.7-1.4c1-.1 2.3 .7 3.3 .6c1-.1 2.2-1.5 2.8-1c.6 .5 .4 2.8 1 4c.6 1.2 2.7 2.5 2.5 3.1c-.2 .6-2.4 .4-3.6 .7c-1.2 .3-2.5 1.6-3.4 1.1c-.9-.5-1.2-2.8-2.1-4c-.9-1.2-3.1-2.4-3.2-3.1z M591.6,121.9c.2-.7 2.2-.7 3.4-.8c1.2-.2 2.5 .1 3.7-.1c1.2-.2 2.6-1.2 3.5-.9c.9 .3 1.3 1.7 1.7 2.7c.4 1 .6 2.2 .9 3.2c.3 1 1.2 2.3 .9 3c-.3 .7-1.8 1-2.8 1.4c-1 .4-2 .8-3 1.2c-1 .3-2.2 1.3-3 .9c-.8-.4-1.5-2.2-2-3.4c-.5-1.2-.4-2.8-.9-4c-.5-1.2-2.6-2.5-2.4-3.2z M370.6,142.2c.5-4 1.5-1.3 2.4-1.6c.9-.3 2.1-.7 2.9-.1c.8 .6 1.4 2.5 1.9 3.8c.5 1.3 .7 2.9 1 4.3c.3 1.4 .9 2.5 .7 4.2c-.2 1.7-1.6 3.8-1.8 5.8c-.2 2 .5 4.1 .5 6.1c0 2-.5 3.8-.5 5.8c0 2 .8 4 .5 6c-.3 2-2.1 3.9-2.5 5.8c-.4 1.9 .4 3.9 .2 5.9c-.2 1.9-1 3.8-1.2 5.8c-.2 2-.2 4-.2 6c.1 2 .8 4.5 .5 5.9c-.2 1.4-1.3 1.6-2 2.3c-.7 .7-2.1 5.2-2.4 1.8c-.3-3.4 .7-14.8 .6-22.4c-.1-7.6-1-15.4-1.1-23c-.1-7.6 0-18.4 .5-22.4z M376.8,138.8c.5-.9 2.1-1.4 3.3-1.7c1.2-.3 3-.6 3.7-.1c.7 .5 .1 2.2 .4 3.3c.3 1.1 .8 2.1 1.3 3c.5 .9 1.8 1.7 1.9 2.6c.1 .9-.6 2.1-1.2 3c-.6 .9-1.6 2.2-2.4 2.3c-.8 .1-1.4-1.4-2.3-1.7c-.9-.3-2.2 .5-3-.1c-.8-.6-1.4-2.1-1.7-3.3c-.3-1.2 .1-2.5 .1-3.7c0-1.2-.6-2.7-.1-3.6z M385.5,148.5c.6-.7 2.9-1.4 4.5-1.7c1.6-.3 3.3-.2 4.9-.2c1.6 0 3.5 .1 4.8 .2c1.3 .1 2.2-.1 3.2 .4c.9 .5 1.6 1.9 2.5 2.4c.9 .5 2.8 .1 3.1 .7c.3 .6-.7 2-1.3 2.9c-.6 .9-1.1 1.9-2.2 2.4c-1.1 .5-2.7 .7-4.1 .8c-1.4 .1-2.8 .1-4.2 0c-1.4-.1-2.8-.6-4.1-.8c-1.3-.2-2.4-.1-3.6-.4c-1.2-.3-3.1-.7-3.5-1.4c-.4-.7 .9-1.7 .9-2.6c0-.9-1.5-2-.9-2.7z M397.3,152.7c.5-.5 2.7 .5 4.1 .3c1.4-.2 2.8-1.2 4.2-1.3c1.4-.1 3 .3 4.1 1c1.1 .7 1.5 2.1 2.4 3c.9 .9 2.9 1.6 2.9 2.3c0 .7-1.8 1.1-2.7 1.7c-.9 .6-1.6 1.6-2.6 1.8c-1 .2-2.3-.2-3.5-.4c-1.2-.2-2.4-.6-3.6-.8c-1.2-.2-2.8 .2-3.5-.5c-.7-.7-.2-2.5-.5-3.7c-.3-1.2-1.8-2.9-1.3-3.4z M437.5,134.6c.5-.7 2.2-.1 3.2-.5c1-.4 1.9-1.4 2.8-1.9c.9-.5 1.8-1.1 2.9-1.2c1.1-.1 2.3 .4 3.5 .4c1.2 0 2.9-.9 3.5-.4c.6 .5 .2 2.3 .1 3.5c-0 1.2-.4 2.5-.4 3.7c-0 1.2 .6 2.5 .3 3.5c-.3 1-1.3 1.7-2.1 2.5c-.8 .8-1.7 1.6-2.5 2.3c-.8 .8-1.4 2.1-2.4 2.2c-1 .1-2.4-1.2-3.6-1.8c-1.2-.6-2.9-.8-3.5-1.7c-.6-.9 .2-2.4-.1-3.6c-.3-1.2-1.3-2.2-1.6-3.4c-.3-1.2-.6-2.9-.1-3.6z M447,146.6c.5-.9 2.8-.2 4-.8c1.2-.6 2.3-2.8 3.1-2.7c.8 .1 1.2 2.3 1.8 3.5c.6 1.2 2.1 2.5 1.8 3.6c-.3 1.1-2.5 1.8-3.4 3c-.9 1.2-1.2 3.6-2 4c-.8 .5-1.6-1-2.5-1.3c-.9-.3-2.5 .4-2.8-.4c-.3-.8 1.1-3 1.1-4.5c0-1.5-1.6-3.5-1.1-4.4z M459.4,142.9c.7-.7 2.4 .1 3.6-.1c1.2-.2 2.3-.9 3.5-1.2c1.2-.3 2.8-.8 3.6-.4c.8 .4 .9 1.8 1.3 2.8c.3 1 .4 2.2 .8 3.2c.4 1 1.7 1.8 1.4 2.8c-.3 1-2.2 2-3.1 3.2c-.9 1.2-1.3 3.5-2.2 3.9c-.9 .4-2.2-1.4-3.4-1.7c-1.2-.3-2.8 .6-3.7-.1c-.9-.7-1.1-2.6-1.5-3.9c-.4-1.4-.6-2.8-.7-4.2c-.1-1.4-.3-3.6 .4-4.3z M467.6,130.5c.5-.6 3.1-.7 4.7-.9c1.6-.2 3.2-.2 4.8-.1c1.6 .2 3.8 .2 4.7 1c.9 .8 1 2.4 1 3.6c0 1.2-.3 2.6-1 3.5c-.7 .9-2.2 1.5-3.4 1.8c-1.2 .3-2.5 0-3.7 0c-1.2 0-2.7 .4-3.6 0c-.9-.4-1.7-1.6-2-2.6c-.3-1 .3-2.4 .1-3.5c-.2-1.1-2.1-2.2-1.6-2.8z M481.7,142.8c.4-.5 2.7-.3 4.1-.3c1.4-0 2.9 .4 4.3 .2c1.4-.2 3.2-2 3.9-1.7c.7 .3-.1 2.3 .2 3.3c.3 1 1.1 2 1.7 2.9c.6 .9 2.1 2 1.7 2.7c-.4 .8-3 .9-4.2 1.8c-1.2 .9-1.8 3.1-2.9 3.5c-1.1 .5-2.8-.2-4-.8c-1.2-.6-2.4-1.9-3.1-2.8c-.7-.9-1.2-1.8-1.2-2.8c-0-1 1.1-2.3 1-3.3c-.1-1-1.9-2.2-1.5-2.7z M491.9,131.1c.5-.6 3.1 .1 4.7 0c1.6-.1 3.2-.7 4.8-.7c1.6 0 3.7 0 4.6 .7c.9 .7 .2 2.2 .6 3.2c.4 1 1.5 1.8 2 2.7c.5 .9 1.1 2 1 3c-.1 1-1 1.9-1.3 2.9c-.3 1-.3 2.2-.7 3.2c-.4 1-.7 2.3-1.6 2.7c-.9 .4-2.4-0-3.6-.3c-1.2-.3-2.4-.8-3.4-1.4c-1-.7-2-1.5-2.6-2.5c-.6-1-.3-2.5-.8-3.6c-.4-1.1-1.6-1.7-1.9-2.8c-.3-1.1 .4-2.6 .1-3.8c-.3-1.2-2.4-2.8-1.9-3.3z M503.8,143.2c.7-.5 3.4 .7 5.1 .6c1.7-.1 3.4-.7 5.1-1.1c1.7-.4 4.3-2 5-1.2c.7 .8-1 3.8-1 5.8c0 2 1.1 4 1.3 6c.2 2 .4 4.6-.3 5.8c-.7 1.2-2.6 1.1-4 1.4c-1.4 .3-3.1 1-4.1 .4c-1-.6-1-2.9-1.9-4.1c-.9-1.2-2.9-1.9-3.5-3c-.6-1.1-.2-2.3-.3-3.5c-.1-1.2-.2-2.4-.4-3.6c-.2-1.2-1.7-3-1-3.5z M507.6,167c.5-1 2.4-1.4 3.7-1.7c1.3-.3 2.8-.1 4.1-.1c1.3 0 3.2-.8 3.9 .1c.7 .9 .2 3.4 .1 5.2c-.1 1.8-.6 3.6-.6 5.4c-0 1.8 1.1 4.7 .5 5.3c-.6 .6-2.5-1.4-3.9-1.7c-1.3-.3-3.4 .6-4.2-.1c-.8-.7-.1-2.8-.6-4.2c-.5-1.4-1.7-2.6-2.2-4c-.5-1.4-1.3-3.2-.8-4.2z M491.6,171.1c.4-.8 1.8-.8 2.8-.9c1-0 2.3 .8 3.3 .6c1-.1 2.1-1.8 2.7-1.5c.6 .3 .2 2.5 .8 3.5c.6 1 2.1 1.5 2.8 2.4c.8 .9 1.8 1.8 1.7 3c-.1 1.2-1.2 2.7-2.1 3.9c-.9 1.2-2.1 2.8-3.2 3.1c-1.1 .3-2.3-.8-3.5-1.1c-1.2-.3-2.9 .2-3.6-.6c-.7-.8-.2-2.7-.5-4.1c-.2-1.4-.8-2.8-1-4.2c-.2-1.4-.6-3.3-.2-4.1z M475.3,175c.4-1 1.8-1.1 2.8-1.3c1-.2 2.1-.1 3.1-.2c1-.1 2.3-.8 2.9-.3c.6 .4 .4 2.1 .9 3c.5 .9 1.9 1.6 2.3 2.6c.4 1 .9 2.2 .4 3.2c-.5 1-2.4 1.7-3.6 2.6c-1.2 .9-2.6 2.7-3.5 2.7c-.9 0-1.2-2-2.1-2.6c-.9-.6-2.8-0-3.2-.9c-.4-.9 .6-2.9 .6-4.4c0-1.5-1-3.5-.6-4.4z M461.2,158.8c.4-.9 1.8-.9 2.8-1.1c1-.2 2.1-.2 3.1-.3c1-.1 2.2-.7 3-.3c.8 .4 1.7 1.5 2 2.5c.3 1-.5 2.5-.2 3.6c.2 1.1 2 2 1.7 2.7c-.3 .7-2.5 .9-3.7 1.5c-1.2 .6-2.3 1.7-3.4 2c-1 .3-2 .2-2.9-.1c-.9-.3-2-.6-2.4-1.6c-.4-1 .1-3 .1-4.5c0-1.5-.6-3.5-.1-4.4z M386.8,171.3c.5-.8 2-.2 3-.4c1-.2 2-.4 3-.6c1-.2 2.2-1.1 2.9-.8c.7 .3 .9 1.9 1.4 2.8c.5 .9 1 1.9 1.4 2.9c.3 1 .7 2.1 .7 3.1c-0 1-.2 2.2-.8 3.1c-.6 .9-2.2 1.4-2.7 2.4c-.4 1 .6 2.8 0 3.4c-.6 .6-2.4 .4-3.6 .4c-1.2 0-2.8 .3-3.5-.4c-.7-.7-.6-2.4-.9-3.6c-.3-1.2-.7-2.2-.9-3.5c-.2-1.3-.1-2.9-.1-4.4c0-1.5-.4-3.6 .1-4.4z M402.7,177c.6-1 2.2-1.4 3.4-1.7c1.2-.3 2.9-.6 3.7-.1c.8 .5 .5 1.9 .8 2.9c.3 1 .9 1.9 1.1 2.9c.1 1 .2 2-.2 3c-.4 1-1.4 2.1-2.3 3c-.9 .9-2.2 2.3-3 2.4c-.8 .1-1.4-1-2-1.6c-.6-.6-1.2-.9-1.5-2c-.3-1.1-.4-2.9-.4-4.4c0-1.5-.2-3.4 .4-4.4z M414.9,187c.5-.5 2.1 .8 3.1 .5c1-.3 1.8-1.7 2.7-2.1c.9-.4 2.3-.7 3-.1c.7 .5 .9 2.2 1 3.4c.1 1.2-.3 2.5-.2 3.7c.1 1.2 1.4 2.6 1 3.5c-.4 .9-2.2 1.4-3.4 2c-1.2 .6-2.8 1.7-3.7 1.5c-.9-.2-1.1-1.8-1.7-2.7c-.6-.9-1.6-1.6-1.8-2.6c-.2-1 .3-2.3 .3-3.5c0-1.2-.8-3.1-.3-3.6z M427.2,190.8c.3-.8 2.1-1.5 3.3-1.6c1.2-.1 2.7 .8 3.9 .8c1.2-0 2.5-1.4 3.4-1c.9 .4 1.5 2.1 1.8 3.3c.3 1.2 .4 2.8 0 3.8c-.4 1-1.6 1.8-2.6 2.3c-1.1 .5-2.6 .1-3.7 .6c-1.1 .5-2.2 2.7-2.6 2.4c-.4-.2 .3-2.7 0-3.9c-.3-1.2-1.3-2.2-1.9-3.3c-.6-1.1-1.9-2.6-1.6-3.4z M400.9,196.9c.2-.8 1.8-1.2 2.8-1.4c1-.2 2.1 .2 3.1 .1c1-.1 2.3-.9 3-.5c.7 .4 1 1.8 1.1 2.8c.1 1-.8 2.3-.7 3.3c.1 1 1.7 2 1.4 2.8c-.3 .9-2.1 1.7-3.3 2.3c-1.2 .6-2.9 1.5-3.8 1.2c-.9-.4-1.5-2.1-1.9-3.3c-.4-1.2 .1-2.7-.2-3.9c-.3-1.2-1.7-2.6-1.5-3.4z M427.1,206.9c.6-.7 2.3-.1 3.5-.3c1.2-.2 2.4-.4 3.6-.7c1.2-.2 2.8-1.2 3.5-.8c.7 .4 .6 2 .6 3.1c0 1.1-.7 2.3-.5 3.4c.2 1.1 2.1 2.4 1.7 2.9c-.4 .5-2.7 .3-4.1 .1c-1.4-.2-2.8-1.2-4.2-1.2c-1.4-0-3.4 1.5-4.1 1.1c-.7-.5-.3-2.5-.3-3.8c0-1.3-.3-3.1 .3-3.8z M465.3,186.8c.2-.7 1.9-.4 2.9-.6c1-.2 1.9-.7 2.9-.9c1-.2 2.5-.7 3-.2c.5 .5 0 2 .1 3c.1 1 .2 2 .5 3c.3 1 1.6 1.9 1.2 2.8c-.3 .9-2.1 1.8-3.3 2.4c-1.2 .6-3 1.6-3.8 1.2c-.8-.4-.8-2.4-1.1-3.6c-.3-1.2-.3-2.5-.7-3.7c-.4-1.2-1.9-2.7-1.7-3.4z M479.4,191c.8-.8 2.4-.4 3.6-.5c1.2-.1 2.4-.1 3.6-.3c1.2-.2 2.8-1.2 3.5-.9c.7 .4 .6 2 .9 3c.3 1 .6 2.1 1 3.1c.4 1 1.9 1.8 1.6 2.7c-.3 .9-2.1 2.1-3.3 3c-1.2 .9-2.6 2.1-3.8 2.3c-1.2 .2-2.5-.7-3.7-1.3c-1.2-.6-2.7-1.1-3.4-2.2c-.8-1.1-1.1-2.9-1.1-4.4c0-1.5 .3-3.7 1.1-4.5z M495.7,194.9c.3-.6 2.4 .4 3.6 .3c1.2-.1 2.4-.4 3.6-.8c1.2-.3 2.6-1.6 3.4-1.3c.8 .2 1.2 1.7 1.4 2.8c.2 1.1-.4 2.6-.1 3.6c.4 1 2.4 2.1 2.2 2.5c-.2 .4-2.3-.3-3.2 .2c-.9 .5-1.5 2.3-2.4 2.9c-.9 .6-2.5 1-3.2 .4c-.7-.6-.4-2.7-1-3.9c-.6-1.2-2-2-2.7-3.1c-.7-1.1-1.9-3-1.6-3.6z M507.5,206.8c.7-.9 2.5-1.1 3.8-1.6c1.3-.5 2.6-1 3.9-1.3c1.3-.3 3.3-1.1 4-.6c.7 .5 0 2.4 .2 3.6c.2 1.2 .9 2.5 .9 3.8c-0 1.2-.3 2.9-1.1 3.7c-.8 .8-2.6 .9-3.9 1.1c-1.3 .2-2.6-0-3.9-.2c-1.3-.2-3.2-.1-3.9-.9c-.7-.8-.4-2.5-.4-3.8c0-1.3-.3-2.9 .4-3.8z M417,140.4c.2-.8 1.8-1.1 2.8-1.4c1-.3 2-.6 3-.7c1-.1 2.6-.4 3.1 .3c.5 .7-.2 2.6 .1 3.8c.3 1.2 1.9 2.5 1.6 3.3c-.3 .8-2.2 .9-3.4 1.2c-1.2 .3-2.7 1.1-3.6 .6c-.9-.5-1.2-2.3-1.8-3.5c-.6-1.2-2-2.8-1.8-3.6z M427,148.6c.4-.6 2-.4 3-.4c1-0 2.2 .4 3.2 .2c1-.2 2-1.8 2.7-1.6c.7 .2 1.1 1.8 1.4 2.8c.3 1 .3 2 .4 3c.1 1 .4 2.6-.1 3.1c-.5 .5-2-.3-3-.3c-1 0-2.1 .2-3.1 .5c-1 .3-2.3 1.8-2.7 1.5c-.4-.3 .6-2.1 .4-3.1c-.2-1-1.1-1.9-1.5-2.8c-.4-1-1.1-2.3-.7-2.9z M490.9,132c.7-1.5 2.3-.2 3.5-.3c1.2-.1 2.4-.6 3.6-.5c1.2 .1 2.9 0 3.5 .8c.6 .8 0 2.6 .3 3.8c.3 1.2 .9 2.4 1.5 3.5c.6 1.1 1.7 2.2 1.8 3.3c.1 1.1-.8 2.3-1.3 3.5c-.5 1.2-1.4 2.2-1.8 3.4c-.4 1.2-.1 2.4-.5 3.7c-.4 1.3-1.3 2.7-2.2 3.9c-.9 1.2-2.2 2.8-3.1 3.2c-.9 .4-1.7-.7-2.6-1c-.9-.3-2.4 .8-2.7-.8c-.3-1.6 1.1-5.7 1-8.7c-.1-3-1.7-6.1-1.9-9.1c-.2-3 .2-7.2 .9-8.7z M503.2,147c.5-.6 2.4-.4 3.6-.9c1.2-.5 2.1-1.8 3.3-2.2c1.2-.4 2.8-.9 3.7-.5c.9 .4 1.1 2 1.8 2.9c.7 .9 1.5 1.7 2.4 2.4c.9 .7 2.7 .9 2.9 1.8c.2 .9-1.1 2.2-1.5 3.4c-.4 1.2-.4 2.6-.7 3.8c-.3 1.2-.5 2.5-1.3 3.4c-.8 .9-2.1 1.7-3.3 2c-1.2 .3-2.7 .4-3.8-.2c-1.1-.6-1.8-2.3-2.7-3.5c-.9-1.2-2-2.5-2.6-3.6c-.6-1.1-.7-1.8-.9-2.8c-.2-1-.4-2.1-.5-3.1c-.2-1-.9-2.3-.4-2.9z M514.8,130.7c.4-.8 2.3-1 3.5-1c1.2 0 2.8 .2 3.5 1c.7 .8 .3 2.8 .9 4c.6 1.2 2.7 2.3 2.7 3.1c0 .8-1.8 1.1-2.7 1.7c-.9 .6-1.7 1.8-2.6 1.8c-.9-0-1.7-1.3-2.6-1.9c-.9-.6-2.4-.7-2.7-1.6c-.3-.9 .8-2.4 .8-3.6c0-1.2-1.3-2.8-.8-3.5z M519,161.1c.5-.7 2.5 .6 3.7 .4c1.2-.2 2.3-1.1 3.5-1.4c1.2-.3 2.6-1.2 3.5-.7c.8 .5 1 2.3 1.6 3.5c.6 1.2 1.9 2.5 1.9 3.5c-0 1-1.6 1.6-2 2.6c-.4 1 .1 2.4-.1 3.5c-.2 1.1-.5 2.4-1.4 2.8c-.9 .4-2.6-.4-3.8-.1c-1.2 .3-2.3 2.1-3.3 1.9c-1-.2-2.2-1.9-2.8-3.1c-.6-1.2-.8-2.6-.8-4c-0-1.4 .7-3 .7-4.5c0-1.5-1.2-3.7-.7-4.4z M490.8,167.4c.4-.9 2-.3 3-.5c1-.2 2-.2 3-.4c1-.2 2.3-1.3 2.9-.9c.6 .4 0 2.7 .7 3.6c.7 .9 2.6 1.1 3.4 2c.8 .9 1.2 2.2 1.2 3.3c0 1.1-.5 2.1-1 3c-.5 .9-1.6 1.6-2 2.6c-.4 1 .2 2.6-.5 3.2c-.7 .6-2.5 0-3.7 .3c-1.2 .3-2.6 1.5-3.4 1.5c-.9-0-1.1-1.2-1.7-1.8c-.6-.6-1.7-.6-1.9-1.7c-.2-1.1 .6-3.1 .7-4.7c.1-1.6-.1-3.2-.2-4.8c-.1-1.6-.9-3.8-.5-4.7z M502.9,175.4c.5-.6 2.1 .3 3.1 .2c1-.2 1.9-.8 2.9-1.1c1-.3 2.1-1.2 2.9-.9c.8 .3 1.3 1.8 2 2.7c.7 1 1.5 2 2 3c.6 1 1.1 2 1.3 3.1c.2 1.1-0 2.2-.3 3.3c-.3 1-.8 2.1-1.3 3c-.5 .9-1.1 1.9-2 2.6c-.9 .8-2 1.6-3.2 1.9c-1.2 .3-3.1 .6-3.9-.1c-.8-.7-.1-2.9-.7-4.1c-.6-1.2-2.2-1.9-2.8-3c-.6-1.1-.9-2.3-.9-3.5c.1-1.2 1.1-2.4 1.2-3.6c.1-1.2-.8-2.9-.3-3.5z M511.2,191.4c.7-.8 2.2-1.4 3.4-1.4c1.2-0 2.7 1.4 3.9 1.3c1.2-.1 2.4-1.8 3.3-1.7c.9 .1 1.4 1.7 2.3 2.4c.9 .7 2.2 1 3 1.8c.8 .8 1.8 1.9 1.8 2.9c-0 1-1.4 2.2-1.9 3.3c-.5 1.2-1 2.4-1.3 3.6c-.3 1.2 .2 3.2-.4 3.7c-.6 .5-2.1-.8-3.1-.5c-.9 .3-1.6 2-2.6 2.4c-1 .4-2.1 .5-3.1-.1c-1-.6-1.9-2.2-2.8-3.4c-.9-1.2-2.2-2.5-2.5-3.7c-.4-1.2 .5-2.3 .4-3.5c-.1-1.2-.8-2.4-.9-3.6c-.1-1.2-.2-2.7 .5-3.5z M490.9,189.7c.8-.8 2.3 .4 3.5 .7c1.2 .3 2.4 .7 3.6 .9c1.2 .2 2.8-.4 3.5 .1c.7 .5 .3 2.2 .6 3.2c.3 1 .6 2 1.1 3c.5 1 2 1.8 1.9 2.7c-.1 .9-1.8 1.6-2.3 2.6c-.5 1-.3 2.6-.8 3.6c-.5 1-1.4 2.4-2.2 2.6c-.8 .2-1.8-1-2.8-1.2c-1-.2-2.2 .3-3.2 .2c-1-.1-2.3 .4-2.9-.7c-.6-1.1-.6-3.9-.8-5.9c-.2-2-.4-4-.3-6c.1-2 .3-5 1.1-5.8z M523.3,206.9c.8-.7 3.1-0 4.7-.3c1.6-.3 3.1-1 4.7-1.3c1.6-.2 3.6-.6 4.7-.2c1.1 .4 1.7 1.7 2.1 2.7c.4 1.1 0 2.5 .3 3.6c.2 1.1 2 2.5 1.2 3.1c-.8 .5-3.9 .1-5.9 .2c-2 .1-4 .2-6 .2c-2-0-4.9 .3-5.8-.4c-1-.7 .1-2.5 .1-3.8c0-1.3-.9-3.1-.1-3.8z M531,171c.3-.7 1.9-.3 2.9-.5c1-.2 2-.4 3-.6c1-.2 2.4-1 2.9-.6c.5 .4-.1 2.2 .1 3.3c.2 1 .8 2.1 1.4 3c.6 .9 2.1 1.4 2.1 2.5c-0 1.1-1.4 2.6-2.3 3.8c-.9 1.2-2 3.2-3 3.3c-1 .1-2-2-3.2-2.6c-1.2-.6-3.2-.2-3.9-.9c-.7-.8-.7-2.4-.5-3.6c.2-1.2 1.4-2.4 1.5-3.6c.1-1.2-1.3-2.8-1-3.5z M535.4,191.1c.8-.9 3-1.3 4.6-1.6c1.6-.3 3.3 0 4.9 0c1.6-0 3.9-.6 4.7-.1c.8 .5-.1 2.3 .2 3.3c.3 1 1.2 1.8 1.8 2.7c.6 .9 1.7 2 1.5 2.8c-.2 .8-1.9 1.1-2.6 2c-.7 .9-.9 2.5-1.6 3.3c-.7 .9-1.8 1.6-2.8 1.8c-1 .2-2.4 .3-3.3-.3c-.9-.6-1.4-2.6-2.3-3.1c-.9-.5-2.5 .5-3.3-.1c-.8-.6-1.3-2.2-1.6-3.4c-.3-1.2-.3-2.4-.3-3.6c-0-1.2-.7-2.8 .1-3.7z M551.4,186.7c.2-.6 2.3-.6 3.5-.7c1.2-.1 2.5 .5 3.7 .3c1.2-.2 2.6-1.7 3.4-1.3c.8 .4 .8 2.5 1.4 3.7c.6 1.2 2.5 2.6 2.2 3.3c-.3 .7-2.9 .1-4.1 .7c-1.2 .6-2.2 3-3 2.9c-.8-.1-1-2.4-1.8-3.4c-.8-1-2.2-1.6-3.1-2.5c-.9-.9-2.4-2.4-2.2-3z M551,197.5c.8-.4 2.2 1.5 3.4 1.6c1.2 .1 2.6-.8 3.8-.8c1.2 0 2.5 .3 3.5 1c.9 .7 2 1.9 2.2 3.2c.2 1.2-1.1 3.1-.9 4.3c.2 1.2 2.5 2.5 2.2 3.1c-.3 .6-2.6 .1-3.8 .5c-1.2 .4-2.3 1.3-3.4 1.9c-1.1 .6-2.4 1.8-3.4 1.7c-1-.1-1.8-1.3-2.7-2c-.9-.7-2.1-1-2.6-2.1c-.4-1.1-.2-2.8-.1-4.2c.1-1.4 .3-2.8 .6-4.2c.3-1.4 .4-3.6 1.2-4z M567.3,197.1c.5-1 2.2-1.2 3.3-1.6c1.2-.4 2.4-.6 3.6-.6c1.2-0 2.9-.2 3.7 .4c.8 .5 1 1.8 1.2 2.9c.2 1-.1 2.4 .3 3.4c.4 1 2.4 1.9 2 2.6c-.4 .7-2.9 .9-4.1 1.8c-1.2 .9-1.8 3.2-2.9 3.5c-1.1 .3-2.4-1.2-3.6-1.8c-1.2-.6-3-.8-3.5-1.8c-.5-1 .4-2.9 .4-4.4c0-1.5-.9-3.4-.4-4.4z M575.4,173.1c.6-.8 2.3-.6 3.5-.7c1.2-.1 2.5 .4 3.7 .2c1.2-.2 2.7-1.6 3.4-1.3c.7 .3 .5 2 .7 3.1c.2 1.1 .1 2.3 .6 3.3c.5 1 2.5 1.6 2.3 2.5c-.2 .9-2.4 1.8-3.3 3c-.9 1.2-1.1 3.5-2 4c-.9 .5-2.3-.9-3.5-1.2c-1.2-.3-2.9 .3-3.6-.5c-.7-.8-.1-2.7-.4-4.1c-.3-1.4-1.4-2.7-1.6-4.1c-.2-1.4-.4-3.4 .2-4.2z M579.3,154.8c.5-.7 2.3-.5 3.5-.7c1.2-.2 2.4-.5 3.6-.7c1.2-.2 2.7-.8 3.6-.4c.9 .4 1.4 1.7 1.9 2.6c.5 .9 .8 2 1.1 3c.3 1 1 2.3 .5 3.2c-.5 .9-2.2 1.4-3.4 2c-1.2 .6-2.4 1.5-3.7 1.6c-1.3 .1-2.7-.5-3.9-1.1c-1.2-.6-2.7-1.5-3.2-2.5c-.5-1 .3-2.3 .3-3.5c0-1.2-.8-2.8-.3-3.5z M591.4,164.9c.7-.9 2.2-1 3.4-1c1.2 0 2.7 1.1 3.9 1c1.2-.1 2.6-2 3.3-1.8c.7 .2 .4 2.1 .8 3.1c.4 1 1.1 1.9 1.6 2.9c.5 1 1.6 2 1.2 2.9c-.4 1-2.3 1.9-3.5 2.8c-1.2 .9-2.4 2.3-3.6 2.5c-1.2 .2-2.5-.9-3.7-1.5c-1.2-.6-2.7-.9-3.4-2c-.7-1.1-.7-3-.7-4.5c0-1.5 0-3.5 .7-4.4z M595.4,181c.8-.7 2.5 .5 3.7 .5c1.2-0 2.5-.3 3.6-.7c1.1-.4 2.6-1.9 3.3-1.6c.7 .2 .5 2.1 .9 3.1c.4 1 .8 2 1.2 3c.5 1 1.8 1.8 1.5 2.8c-.2 1-1.8 2.4-3 3.3c-1.2 .9-2.8 2-4.1 2c-1.3 0-2.3-1.3-3.5-1.9c-1.2-.6-2.9-.7-3.6-1.7c-.7-1-.8-2.9-.8-4.4c0-1.5 0-3.8 .8-4.4z M583.4,191c.4-.9 2.2-.8 3.4-1c1.2-.2 2.5 .2 3.7 .1c1.2-.1 2.6-1.1 3.5-.8c.9 .3 1.4 1.7 1.9 2.6c.5 .9 .7 2.1 1 3.1c.3 1 1.1 2.2 .6 3.1c-.5 .9-2.7 1.3-3.9 2.2c-1.2 .9-2.1 2.9-3.2 3.1c-1.1 .2-2.3-1.1-3.5-1.7c-1.2-.6-3.1-.8-3.5-1.8c-.4-1 .9-2.9 .9-4.4c0-1.5-1.3-3.6-.9-4.5z M587.2,203c.5-.9 2.2-1.1 3.4-1.4c1.2-.3 2.4-.7 3.6-.7c1.2-0 3.1-.2 3.7 .4c.6 .6-.2 2.3 .1 3.3c.4 1 1.4 1.8 2 2.7c.6 .9 1.8 2.2 1.4 2.8c-.4 .6-2.5 .5-3.7 .9c-1.2 .4-2.4 1.2-3.5 1.7c-1.2 .5-2.3 1.5-3.4 1.5c-1.1 0-2.3-.7-3.2-1.4c-.9-.7-2.1-1.7-2.1-2.7c-0-1 1.7-2.1 2-3.3c.3-1.2-.8-2.9-.3-3.8z M603.4,196.9c.1-.6 1.9-.6 2.9-.6c1-0 2.2 .6 3.2 .4c1-.2 2-1.8 2.7-1.6c.7 .2 1.1 1.8 1.4 2.8c.3 1 .2 2 .3 3c.1 1 .7 2.3 .1 3.1c-.6 .8-2.4 1-3.6 1.6c-1.2 .6-2.6 2.1-3.5 1.9c-.9-.2-1.4-2.1-1.7-3.3c-.2-1.2 .5-2.9 .2-4.1c-.3-1.2-2.1-2.6-2-3.2z M607.3,153c.5-.8 1.9-.8 2.8-1.2c1-.4 1.9-.9 2.9-1c1-.1 2.4-.2 3.1 .4c.8 .6 1.1 2.2 1.4 3.4c.3 1.2 .3 2.4 .4 3.6c.1 1.2 .6 2.7 0 3.6c-.6 .9-2.5 1-3.4 1.9c-.9 .9-1.2 3.2-1.9 3.4c-.7 .2-1.2-1.9-2.1-2.5c-.9-.6-2.7-.2-3.2-1c-.5-.8 .4-2.3 .4-3.5c-0-1.2-.5-2.4-.6-3.6c-.1-1.2-.3-2.7 .2-3.5z M611.3,132.8c.4-1.1 2-1.6 3.2-1.9c1.2-.3 3.1-.5 3.8 .2c.7 .7-0 2.6 .5 3.7c.6 1.1 2.3 1.9 2.8 3.1c.5 1.1 .6 2.6 .3 3.8c-.3 1.2-1.3 2.2-2.2 3.1c-.9 .9-2.1 2.3-3.1 2.2c-1-.1-1.9-1.7-2.8-2.6c-.9-.9-2.2-1.5-2.5-2.7c-.3-1.2 .8-2.9 .8-4.4c0-1.5-1.2-3.4-.8-4.5z M599.2,142.5c.5-.8 2.2-1.3 3.4-1.6c1.2-.3 2.8-.5 3.7-.1c.9 .4 1.6 1.7 1.6 2.7c0 1-1.4 2.4-1.4 3.4c0 1 1.7 1.9 1.6 2.7c-.1 .8-1.4 1.7-2.3 2c-.9 .3-2.4 .3-3-.2c-.6-.5-.2-2.2-.7-3.1c-.5-.9-2-1.5-2.5-2.5c-.5-1-.9-2.5-.4-3.3z M569,132.4c.2-.8 2.2-1.1 3.4-1.4c1.2-.3 2.8-.9 3.7-.4c.9 .5 1.3 2.2 1.6 3.4c.3 1.2 .8 2.9 .2 3.7c-.6 .8-2.3 .7-3.5 1c-1.2 .3-3 1.3-3.6 .8c-.6-.5 .4-2.6 .1-3.8c-.3-1.2-2.1-2.5-1.9-3.3z M531.1,142.5c.6-.5 2.5 .5 3.7 .3c1.2-.2 2.3-1.1 3.4-1.4c1.2-.3 2.6-.9 3.5-.6c.8 .3 1.3 1.7 1.6 2.7c.3 1 .4 2.1 .4 3.1c0 1 .3 2.3-.2 3c-.5 .7-1.8 1-2.8 1.1c-1 .1-2.3-.7-3.3-.6c-1 .1-2.2 1.6-2.7 1.3c-.5-.3 .3-2.4-.3-3.3c-.6-.9-2.6-1.3-3.2-2.2c-.5-.9-.7-2.9-.1-3.4z M547,150.6c.3-.6 1.9-1 2.9-1c1-0 2.3 1 3.3 .9c1-.1 2-1.9 2.7-1.7c.7 .2 1 1.8 1.4 2.8c.4 1 .7 2 .7 3c.1 1 .1 2.4-.4 3.1c-.5 .7-1.8 1.1-2.8 1.1c-1 0-2.3-1-3.3-.9c-1 .1-2.1 1.7-2.7 1.5c-.6-.2-1-1.8-1.1-2.8c-.1-1 .5-2.2 .4-3.2c-.1-1-1.4-2.2-1.1-2.8z M379,223.3c.4-.9 2.2-1.4 3.4-1.7c1.2-.3 2.7-.5 3.7 0c1 .5 1.2 2.2 2.1 3.1c.9 .9 2.5 1.4 3.3 2.3c.8 1 1.3 2.2 1.7 3.4c.4 1.2 .3 2.4 .4 3.6c.1 1.2-0 2.4 .2 3.6c.2 1.2 1.5 2.7 1.2 3.4c-.3 .7-2.3 .4-3.2 1c-.9 .6-1.3 2.5-2.1 2.6c-.8 .1-1.8-1.4-2.5-2.3c-.7-.9-.7-2.5-1.5-3.3c-.8-.8-2.2-.7-3.1-1.5c-.8-.8-1.4-2.2-2-3.4c-.6-1.2-1.5-2.5-1.6-3.7c-.1-1.2 1.1-2.3 1.1-3.5c0-1.2-1.5-2.7-1.1-3.6z M412.7,275.5c.5-.2 2.1 1.5 3.2 2.1c1.1 .6 2.3 1.2 3.5 1.4c1.2 .2 2.5-.1 3.9 0c1.4 .1 3.1 .4 4.5 .9c1.4 .5 2.7 1.5 4 2.2c1.3 .7 2.6 1.6 3.9 2.2c1.3 .5 2.6 .7 4 1.1c1.4 .3 2.8 .9 4.2 1c1.4 .1 3-.5 4.2-.3c1.2 .2 2.1 .7 3 1.3c.9 .6 2.4 1.9 2.3 2.3c-.1 .4-2-.3-3-.1c-1 .2-1.9 1-2.9 1.3c-1 .3-1.6 .4-2.9 .5c-1.3 .1-3.4 .2-5 0c-1.6-.2-3.3-.8-4.8-1.4c-1.5-.6-2.9-1.6-4.4-2.1c-1.5-.5-3.2-.2-4.6-.7c-1.4-.5-2.7-1.5-4-2.3c-1.3-.8-2.8-1.5-3.8-2.3c-1-.8-1.2-2.1-2.1-2.7c-.9-.6-2.7-.2-3.2-.9c-.5-.7-.5-3.3 0-3.5z M421.3,216.7c.5-.5 2.8-.1 4.2-.2c1.4-.1 2.9 .1 4.3-.2c1.4-.3 3.1-1.8 3.9-1.4c.8 .4 .3 2.8 .9 4c.6 1.2 2.8 2.1 2.7 3.1c-.1 1-2.2 1.9-3.4 2.8c-1.2 .9-2.5 2.3-3.7 2.5c-1.2 .2-2.2-1.1-3.4-1.4c-1.2-.3-3.1 .2-3.7-.4c-.7-.6-.1-2-.2-3c-.1-1-.2-2-.5-3c-.3-1-1.6-2.3-1.1-2.8z M423.1,228.6c.5-.8 2.2-1.5 3.4-1.5c1.2-0 2.7 1.3 3.9 1.3c1.2-0 2.4-1.8 3.4-1.5c1 .3 1.9 1.9 2.5 3.1c.6 1.2 1.4 2.9 1 3.9c-.4 1-2.3 1.3-3.5 1.9c-1.2 .6-2.4 1.6-3.6 1.7c-1.2 .1-2.2-1-3.4-1.3c-1.2-.3-3.2 .2-3.7-.5c-.5-.7 .6-2.3 .6-3.5c0-1.2-1.1-2.8-.6-3.6z M451.3,222.4c.2-.5 2.5 .5 3.7 .2c1.2-.3 2.2-1.5 3.4-1.8c1.2-.3 2.8-.7 3.6-.1c.8 .5 1 2.2 1.3 3.4c.3 1.2 .8 3 .4 3.6c-.4 .6-2.1-.3-3 .1c-.9 .4-1.7 1.9-2.7 2.2c-1 .3-2.4 .2-3.1-.5c-.7-.7-.4-2.7-1-3.9c-.6-1.2-2.8-2.7-2.6-3.2z M437.1,236.7c.8-.6 2.9-.5 4.4-.5c1.5 0 3.5-.2 4.4 .5c.9 .7 .9 2.3 1.2 3.5c.3 1.2 1 2.8 .6 3.6c-.4 .8-1.8 .9-2.8 1c-1 .1-2.2-.5-3.2-.4c-1 .1-2.2 1.4-2.9 1.1c-.7-.3-1-1.8-1.3-2.7c-.3-.9-.6-2-.7-3c-.1-1-.5-2.5 .3-3.1z M455.6,252.8c.8-.9 2.9-1.4 4.5-1.7c1.5-.4 3.2-.4 4.8-.4c1.6-0 3.8-.4 4.8 .3c1.1 .7 .9 2.5 1.5 3.7c.6 1.2 2.3 2.8 2.1 3.4c-.2 .6-2.5-.6-3.4 0c-.9 .6-1.2 2.8-2.1 3.4c-.9 .6-2.4 .2-3.4 .1c-1.1-.1-1.9-.4-2.9-.5c-1-.1-2.1-.1-3.1-.3c-1-.2-2.2-.2-2.8-1c-.5-.8-.5-2.3-.5-3.5c0-1.2-.3-2.6 .5-3.5z M437.3,254.6c.5-.7 2.7-1 4-1.6c1.3-.5 2.7-1.4 4.1-1.7c1.4-.3 3.3-.8 4.3-.3c1 .5 1.3 2.3 1.9 3.5c.6 1.2 1.8 2.7 1.6 3.6c-.2 .9-1.8 1.1-2.7 1.7c-.9 .6-1.8 1.4-2.8 1.7c-1 .3-2.1 .2-3.3 .2c-1.2 0-2.6 .2-3.8-.1c-1.2-.3-2.9-1-3.3-1.7c-.4-.7 1-1.8 1-2.7c0-.9-1.5-1.9-1-2.6z M467.3,228.6c.5-.5 2.4 0 3.6 0c1.2 0 2.5 .3 3.7 0c1.2-.3 2.8-1.9 3.4-1.7c.6 .2 .1 2.2 .4 3.2c.3 1 .9 2 1.4 2.9c.5 .9 1.9 2 1.7 2.7c-.2 .7-1.8 .9-2.8 1.2c-1 .4-2 .8-3 .9c-1 .1-2.2 .2-3.1-.3c-.8-.5-1.1-2.2-2-2.8c-.9-.6-2.8-.2-3.3-.8c-.5-.6 .5-1.7 .5-2.6c0-.9-1-2.2-.5-2.7z M491.7,236.7c.8-.6 2.3 .2 3.5-.1c1.2-.3 2.2-1.7 3.4-2c1.2-.3 2.8-.2 3.7 .3c.9 .5 1 2 1.8 2.8c.8 .8 2 1.3 2.9 2c.9 .7 2.4 1.6 2.4 2.3c-0 .7-1.6 1.6-2.6 2.1c-.9 .5-2.1 .7-3.1 .9c-1.1 .2-2.2 .7-3.2 .5c-1-.2-1.7-1.4-2.7-1.7c-1-.2-2.2 .2-3.2 .2c-1-0-2.2 .3-2.9-.3c-.7-.6-1-2.3-1-3.5c0-1.2 .2-2.9 1-3.5z M499.9,246.6c.6-.7 3-1.5 4.6-1.6c1.6-.1 3.4 1 5 1c1.6-0 3.4-1.4 4.6-1.2c1.2 .2 1.7 1.5 2.5 2.4c.8 .9 2.4 2.1 2.1 2.9c-.3 .8-2.7 1.2-4.1 1.8c-1.4 .6-2.9 1.5-4.1 1.8c-1.2 .3-2.1 .3-3.1 .2c-1-.1-1.9-.4-2.9-.7c-.9-.3-2.2-.6-2.8-1.3c-.6-.7-.6-1.8-.9-2.7c-.3-.9-1.5-1.9-.9-2.6z M483.7,250.8c.8-.5 3-.1 4.6-.2c1.6-.1 3.2-.6 4.8-.6c1.6 0 3.5 .1 4.7 .8c1.2 .7 1.9 2 2.5 3.2c.6 1.2 1.5 3.1 1.1 3.9c-.4 .8-2.3 .4-3.5 .7c-1.2 .4-2.3 1.2-3.5 1.4c-1.2 .2-2.4-.2-3.7-.4c-1.3-.2-2.8-.2-4-.8c-1.2-.6-2.5-1.8-3-2.7c-.5-.9-.1-1.8-.1-2.7c0-.9-.7-2.1 .1-2.6z M455.1,275c.5-.9 1.7-1.6 2.7-1.7c1-.1 2.3 1 3.3 1c1-0 2.3-1.4 2.8-1.1c.5 .3-.1 2 0 3c.1 1 .4 2 .7 3c.3 1 1.6 2.2 1.1 2.8c-.5 .6-2.8 .2-4 .8c-1.2 .6-2.2 2.5-3.1 2.8c-.9 .3-1.7-.6-2.3-1.2c-.6-.6-1-1.4-1.2-2.4c-.2-1-.2-2.3-.2-3.5c0-1.2-.3-2.6 .2-3.5z M479.5,256.7c.2-.6 2.3-0 3.5-.2c1.2-.2 2.5-.9 3.7-.9c1.2 0 2.8 .4 3.5 1.1c.8 .7 .4 2.2 1 3.1c.6 .9 2.6 1.6 2.5 2.2c-.1 .6-2.1 1.6-3.3 1.6c-1.2 0-2.8-1.6-4-1.6c-1.2 0-2.5 2-3.3 1.7c-.8-.3-.8-2.5-1.4-3.7c-.6-1.2-2.4-2.7-2.2-3.3z M506.4,185.9c.6-.5 2.9 1 4.3 .6c1.4-.4 2.6-2.4 3.9-2.8c1.3-.4 3-0 4.2 .5c1.2 .5 2 1.9 3.1 2.6c1.1 .8 2.2 1.4 3.5 1.9c1.2 .4 3 .2 4 .8c1 .6 1.1 2 1.9 2.8c.8 .8 1.8 1.4 2.7 2.1c.9 .7 2 1.2 2.5 2.2c.5 1 .4 2.4 .8 3.6c.4 1.2 1.1 2.3 1.6 3.5c.5 1.2 1.3 2.4 1.2 3.5c-.1 1.1-1.6 2-2 3.2c-.4 1.2-.3 2.6-.6 3.8c-.3 1.2-.7 2.5-1 3.6c-.3 1.1-.6 1.9-.7 2.9c-.1 1-0 2.1-.2 3.1c-.2 1-.3 1.9-.9 2.8c-.6 .9-1.9 1.6-2.8 2.5c-.9 .9-1.6 2.5-2.5 2.8c-.9 .3-1.7-.7-2.6-1c-.9-.3-2.2 .1-2.7-.7c-.5-.8 .2-2.7-.1-3.9c-.3-1.2-1-2.3-1.6-3.4c-.6-1.1-1.1-2.3-1.8-3.3c-.6-1-1.6-1.8-2.1-2.8c-.5-1-.5-2.4-1-3.4c-.5-1-1.5-1.7-2.2-2.7c-.8-1-1.7-2-2.3-3.2c-.6-1.2-.8-2.7-1.3-3.9c-.5-1.2-1.1-2.3-1.7-3.5c-.6-1.2-1.1-2.4-1.7-3.6c-.6-1.2-1.7-2.3-1.9-3.5c-.2-1.2 .6-2.3 .6-3.5c0-1.2-1.2-3.1-.6-3.6z M490.9,188.1c.7-.8 2.1-1.3 3.3-1.6c1.2-.3 2.5-.4 3.7-.4c1.2-0 2.7-.3 3.6 .2c.9 .5 1.5 1.7 1.9 2.7c.4 1-.1 2.4 .2 3.4c.3 1 1.3 1.7 1.4 2.8c.1 1.1-.4 2.7-1 3.9c-.6 1.2-1.5 2.6-2.5 3.2c-1 .7-2.4 .4-3.6 .7c-1.2 .3-2.8 1.3-3.5 1c-.8-.3-.4-2.2-1-3.1c-.6-.9-2.1-1.3-2.5-2.2c-.4-1-.1-2.3-.2-3.5c-.1-1.2-.5-2.4-.5-3.6c0-1.2 0-2.7 .7-3.5z M537.5,190c.5-.5 2.7-.1 4.1-.3c1.4-.2 2.7-.9 4.1-1.1c1.4-.2 2.9-.8 4.1-.3c1.1 .5 1.9 2.2 2.8 3.4c.9 1.2 2.1 2.5 2.5 3.6c.4 1.2 .1 2.3-.4 3.3c-.5 1-1.8 1.6-2.3 2.5c-.5 .9-.1 2.4-.8 3.1c-.7 .7-2.2 .9-3.4 1.2c-1.2 .3-2.8 1.2-3.7 .6c-.9-.6-.8-3.1-1.7-4.3c-.9-1.2-2.9-1.8-3.6-2.8c-.7-.9-.5-1.9-.6-2.9c-.1-1 .1-2.1-.1-3.1c-.2-1-1.5-2.4-1-2.9z M545.1,209.8c.4-.5 2.4 .4 3.6 .4c1.2-0 2.5-.1 3.7-.5c1.2-.4 2.4-2 3.3-1.7c.9 .3 1.7 2.1 2 3.3c.3 1.2 .4 2.9-.3 3.8c-.7 .9-2.9 .9-4.1 1.8c-1.2 .9-1.9 3.1-2.9 3.5c-1 .4-2.3-.4-3.2-1c-.9-.6-1.9-1.6-2.1-2.6c-.2-1 1-2.3 1-3.5c0-1.2-1.4-3-1-3.5z M567.5,183.8c.4-.5 2.4 .4 3.6 .1c1.2-.3 2.2-1.5 3.4-1.8c1.2-.3 2.8-.6 3.6-.1c.8 .5 .7 2.2 1.3 3.2c.6 1 1.4 1.9 2.1 2.9c.7 1 2 1.9 1.9 2.8c-.1 .9-1.7 1.8-2.6 2.7c-.9 .9-1.8 2.3-2.7 2.6c-.9 .3-1.9-.7-2.9-.9c-1-.2-2.1-.1-3.1-.2c-1-.2-2.4 0-2.9-.7c-.5-.7-.1-2.3-.2-3.5c-.1-1.2-.2-2.5-.5-3.7c-.2-1.2-1.4-2.8-1-3.4z M585.6,194c.3-1 2.1-1.7 3.3-1.8c1.2-.2 2.6 .9 3.8 .9c1.2 0 2.7-1.3 3.5-.9c.8 .4 .8 2.1 1.3 3.2c.5 1.1 .8 2.3 1.5 3.2c.7 .9 2.5 1.4 2.5 2.4c-0 1-1.8 2.3-2.7 3.5c-.9 1.2-1.7 3.1-2.6 3.6c-.9 .5-1.9-.7-2.9-.7c-1-0-2.2 .6-3.2 .4c-1-.2-2.1-.5-2.8-1.4c-.7-.9-1.3-2.6-1.3-4c-0-1.4 1.2-3.1 1.1-4.5c-.1-1.4-1.8-3-1.5-3.9z M571.4,205.9c.5-1 2.5-1.6 3.9-1.6c1.4-0 3.1 1.4 4.5 1.4c1.4-0 3-1.8 4-1.6c1 .2 1.6 1.6 2 2.6c.4 1 .4 2.2 .6 3.2c.2 1.1 1.3 2.3 .9 3.1c-.4 .8-2.2 .8-3.1 1.5c-.9 .8-1.2 2.4-2.2 3c-1 .6-2.3 1-3.5 .8c-1.2-.2-2.4-1.1-3.6-1.7c-1.2-.6-3-.8-3.5-1.9c-.5-1 .7-2.9 .7-4.4c0-1.5-1.2-3.4-.7-4.4z M601.4,179.6c.5-.7 2.2-.5 3.4-.8c1.1-.3 2.3-1 3.5-1.1c1.2-.2 2.8-.3 3.7 .2c.9 .5 1.6 1.7 1.6 2.7c0 1-1.5 2.4-1.5 3.4c0 1 1.9 1.8 1.6 2.7c-.2 .9-1.9 2-3.1 2.6c-1.2 .6-2.8 1.2-3.9 1c-1.1-.2-1.6-1.5-2.5-2.1c-.9-.6-2.4-.7-2.8-1.5c-.4-.8 .3-2.3 .3-3.5c0-1.2-.8-2.9-.3-3.6z M595.2,209.6c1-.8 2.2-1.3 3.4-1.7c1.2-.4 2.6-.2 3.8-.5c1.2-.3 2.6-1.7 3.4-1.3c.8 .4 .8 2.5 1.4 3.7c.6 1.2 2.4 2.4 2.2 3.4c-.2 .9-2 1.6-3.2 2.3c-1.1 .7-2.5 1.3-3.7 1.8c-1.2 .5-2.5 1.3-3.7 1.2c-1.2-.1-2.1-1.6-3.3-1.9c-1.2-.3-3.3 .7-3.8 .1c-.5-.6 .5-2.7 1.1-3.9c.6-1.2 1.4-2.4 2.4-3.2z M565.2,221.1c.5-.4 3.4-.4 5.2-.6c1.8-.2 3.6-.5 5.4-.7c1.8-.2 3.6-.3 5.3-.5c1.7-.2 3.2-.2 4.8-.5c1.6-.2 3.3-.5 4.9-1c1.6-.5 3.1-1.6 4.5-2c1.4-.4 2.5 0 3.7-.3c1.2-.3 2.9-1.7 3.3-1.5c.4 .2-.8 1.7-1.1 2.6c-.3 .9 .3 2-.6 2.7c-.9 .7-3.2 .7-4.7 1.4c-1.5 .6-2.9 2-4.5 2.5c-1.6 .5-3.2 .3-5 .5c-1.8 .2-3.8 .2-5.8 .4c-2 .2-4 .8-6 1c-2 .2-4.7 .8-5.9 .4c-1.2-.4-.7-1.9-1.3-2.6c-.6-.7-2.7-1.4-2.2-1.8z M512.8,229.9c.4-.7 1.9-.6 2.9-.9c1-.3 1.9-1 2.9-1.2c1-.2 2.2-.3 3.1 .3c.9 .6 1.4 2.2 2 3.4c.6 1.2 1.9 2.8 1.5 3.7c-.4 .9-2.8 1.1-4 2c-1.2 .9-2 3.1-3 3.3c-1 .2-1.8-1.2-2.7-1.8c-.9-.6-2.3-.9-2.7-1.8c-.4-.9 .4-2.3 .4-3.5c0-1.2-.8-2.8-.4-3.5z M502.7,233.8c.3-.8 2-1.6 3.2-1.9c1.2-.3 2.9-.4 3.8 .1c.9 .5 1 1.8 1.3 2.8c.3 1 .4 2 .5 3c.1 1 .6 2.4 0 3.1c-.6 .7-2.3 .6-3.5 .9c-1.2 .3-2.8 1.1-3.6 .8c-.8-.3-1.4-1.7-1.4-2.7c-0-1 1.4-2.4 1.3-3.4c-.1-1-1.9-1.9-1.6-2.7z M494.7,240.1c.8-.8 3-.4 4.5-.4c1.5 0 3.4-.2 4.4 .4c1 .6 1.5 2.1 1.8 3.3c.3 1.2 0 2.5 0 3.7c0 1.2 .5 2.9 0 3.6c-.5 .7-2 .4-3 .6c-1 .2-2 .2-3 .4c-1 .2-2.4 1.4-2.9 .8c-.4-.6 .6-2.8 .2-4.2c-.4-1.3-2.1-2.5-2.4-3.9c-.3-1.4-.4-3.5 .4-4.3z M551.1,175.4c.6-.4 2.3 1 3.5 1.2c1.2 .2 2.4-.1 3.6-.3c1.2-.2 2.9-1.2 3.5-.9c.6 .3 0 1.8 0 2.7c0 .9 .5 2.1 0 2.6c-.5 .5-2 0-3 .3c-1 .3-1.8 1.2-2.8 1.4c-1 .2-2.2 .6-3 .1c-.8-.5-1.4-2.1-1.7-3.3c-.3-1.2-.7-3.4-.1-3.8z M523.1,175.5c.3-.7 2.3-1.3 3.5-1.1c1.2 .2 2.4 2 3.6 2.2c1.2 .2 2.9-1.5 3.5-1.1c.6 .5-.3 2.6 0 3.8c.3 1.2 2 2.6 1.8 3.3c-.2 .7-1.9 .5-2.9 .7c-1 .2-2.1 .1-3.1 .3c-1 .2-2.2 1.2-2.9 .8c-.7-.3-.9-1.9-1.2-2.9c-.3-1-.3-2.2-.7-3.2c-.4-1-1.9-2.2-1.6-2.8z" fill="#575757"/>
<clipPath id="dkcr"><use href="#dpcr"/></clipPath>
<path d="M382.1,232.1 L394.1,238.2 L408.2,250.2 L420.3,256.2" stroke="#575757" stroke-width="4.0" stroke-linecap="round" stroke-linejoin="round" fill="none"/><path d="M390.1,246.2 L404.2,252.2 L420.3,260.3 L436.4,264.3" stroke="#575757" stroke-width="3.6" stroke-linecap="round" stroke-linejoin="round" fill="none"/><path d="M398.2,260.3 L414.2,266.3 L422.3,270.3" stroke="#575757" stroke-width="3.2" stroke-linecap="round" stroke-linejoin="round" fill="none"/><path d="M373.0,140.0 L371.5,160.0 L372.0,178.0 L375.0,195.0 L378.0,215.0 L380.0,232.0 L384.0,244.0" stroke="#575757" stroke-width="5.0" stroke-linecap="round" stroke-linejoin="round" fill="none"/>
<path d="M395,237l3.8,-5M586,149l5.8,-4.3M592,154l9.4,-4.2M548,84l7.9,6.2M631,95l7.6,-4.9M400,259l6,-3.4M498,219l2.3,-5.8M552,263l1.5,-11M436,89l6.2,1.4M534,59l6,7.3M399,170l6.8,-7.5M449,251l7.1,-3.6M520,136l8.9,-2.5M509,171l2.8,-6.9M506,94l3.1,-6.9M414,288l-1.2,-8.9M427,271l3.8,-5.8M478,84l2.4,-8.6M603,159l6.8,.4M396,257l3.7,-5.9M487,206l4.5,-8.5M517,98l7.5,-2.7M512,266l7.8,-1.8M540,115l2.8,-6M514,130l11.1,-.9M561,157l7.1,-5.5M577,279l6.5,3.5M375,267l8.6,-.1M552,267l2.8,5M614,263l10.1,-2.4M372,288l8.9,1.4M504,137l6.7,2.6M543,65l8.4,4.5M490,68l5.2,-6.9M563,152l6.1,-6.2M587,199l1,11.9M607,271l7.1,-2M605,253l8.3,-3.2M370,192l8.2,-4.3M412,133l1.1,5.8M631,69l5,-8.2M611,86l3.1,-7.6M536,248l6.3,-4.8M516,100l7.3,-2.5M500,250l8.2,8.8M555,184l10.2,-2.4M534,59l5.8,7.7M462,256l8,-7.9M445,212l7,2.3M447,80l6.9,.9M461,114l5.2,9.8M387,142l9.1,-5.3M382,166l10.7,-5.1M453,233l5,-2.2M608,92l4.4,-6.9M594,168l9.2,4.6M413,65l7.6,1.3M382,133l6,-3.2M467,151l1.2,5.2M587,77l.1,8.9M566,178l9.7,1.4M406,106l6.2,-2M430,71l10.2,2.6M379,263l2.7,-8M506,122l4.2,-7.3M577,114l5.8,10.3M436,82l10.9,3.7M426,186l3.2,-6.5M458,62l8.2,-2.2M597,164l7.6,-1.8M406,174l3.4,-5.3M523,294l7.7,-5.6M395,84l9.7,2M535,195l5.3,-9.5M505,251l7.3,-.4M584,144l8.7,-6.5M620,202l10,4.1M449,92l7.3,3.1M566,96l5.1,10.5M416,147l1.4,5.7M409,136l.8,-5.9M537,151l7,-8.4M565,164l8.1,-2.9M542,238l3.7,-3.3M413,295l.3,-8.6M398,244l5.7,-4.3M439,78l8.4,-1.7M490,65l.4,-6.6M589,281l6.9,4.9M467,262l1.6,9.4M556,274l4.4,5.2M564,273l6.3,4.4M573,250l2.8,-10.3M432,91l7.9,-2.4M492,100l-.5,6.3M616,292l4.8,-2.6M510,142l7.9,.3M435,95l9.3,4.5M552,106l2,10.1M541,129l4.7,-9.6M382,207l6.6,5.5M514,276l9.6,-3.6M563,236l2.7,-9.5M471,87l-.6,6.8M493,129l5,5M533,205l1.9,5.7M440,255l8.2,-6M489,155l9.9,4.5M608,225l9.3,1.4M552,131l.4,-11.2M438,200l4.8,1.9M378,132l8.4,-3.4M499,97l1,-5.8M385,141l6.7,-8.1M519,205l4.6,6.3M397,129l8.7,-4.3M456,202l8.5,6.5M511,99l.9,-5.4M586,243l8.4,-5.6M408,197l-.1,-5.2M534,59l5,5.6M600,145l7.2,-6.6M410,292l4.4,-11.1M533,106l6.6,-7.5M488,228l.1,-9M596,127l5.9,-1M546,69l5.1,2.2M421,187l5.1,-9.4M611,118l7.9,-.8M547,230l3.6,-6M485,134l4.2,10.2M544,68l7.1,7.6M630,105l7.2,-2.9M516,110l5.7,-5.5M518,121l7.3,-3.3M429,212l.7,-5.2M435,155l.3,5.5M607,81l2.5,-4.5M452,140l1.4,-5.5M423,251l5.2,-1.5M394,143l5.4,-8.1M620,205l5.4,3.7M383,73l9.6,5.5M468,108l1.9,6.3M476,263l6.3,4M422,169l4.1,-11M571,261l2.9,-9.7M562,265l7.1,8.3M418,199l5.8,-8.4M571,98l5,7.4M583,111l5.6,8.6M553,116l2.4,7.1M421,192l1.6,-5.1M618,273l5.8,-3.7M624,72l4.5,-9.9M382,185l7.9,-5.1M486,214l4.8,-6.9M440,204l4.4,3.6M540,160l4.2,-6M387,254l3.9,-7M600,253l4.5,-2.6M525,115l5.2,-2.3M580,261l7.9,-7.3M393,94l6.2,-2.3M474,140l2.4,10.1M602,116l10.6,-2.1M477,90l1.6,-6.5M537,158l5.9,-8.4M607,91l3,8M414,285l.8,-5.5M421,113l6.9,-6.1M600,154l11,-4M500,144l5.6,8M481,246l2.2,5.3M433,133l-.4,6.8M386,84l8.4,1.4M622,139l5.2,-3.5M566,175l11.2,3.3M498,86l4.8,-10.1M522,186l3.6,-6.6M372,280l7.2,1.7M602,270l10.1,-1.4M635,184l5.3,-8.4M425,132l.6,5.5M611,223l9.5,5.5M526,157l7,-9M577,139l4,-11.1M454,98l9.1,4M586,118l2.4,8.9M548,95l1.4,5.5M397,204l3.6,-9.1M593,259l11.2,-2.3M626,255l8.1,-3.4M491,262l8.6,7.5M633,75l4.9,-10.8M396,153l3.6,-9M491,255l4,10.4M451,205l6.1,5.1M485,288l5.5,2.3M377,262l7.2,3M619,113l3.6,-4M501,114l.9,11.8M495,249l6.7,7.5M424,261l5.5,-5.1M474,109l2.2,8.1M406,127l3.9,-5.8M412,190l2.4,-4.4M553,101l2.9,10.3M447,257l3.8,-6M367,99l8.9,-5.3M428,203l2.2,-6.6M385,262l5.5,-4.9M398,247l2.2,-4.9M631,109l8.5,-5.3M543,95l.4,7.6M422,245l6,-5.2M440,167l1.2,5.7M634,178l7,-4.2M467,190l6.2,1.7M400,103l4.6,-4.2" stroke="#9d9d9d" stroke-width="2.2" stroke-linecap="round" clip-path="url(#dkcr)"/>
<path d="M616,73l1.2,-5.3M525,266l7.4,-2.2M575,196l9.3,3.9M437,77l6.4,-.9M569,260l-.1,-9M512,168l6,-10.4M580,241l9.3,-6.7M606,242l4.9,-1.9M456,140l1.6,-5M563,160l5,-5.8M440,215l6.7,-.4M585,153l5.8,-1.5M468,97l5.8,6.3M600,175l6.6,3.3M387,257l2.1,-6.7M549,288l7.1,4.9M429,75l6.5,.4M514,94l1.9,-6.7M376,249l1.8,-9.8M564,229l3.9,-5M529,141l8.6,-6.6M602,257l9.2,-.7M594,202l.9,6.3M414,81l11.8,1.6M519,127l6.9,-2.2M527,229l9,-1.1M478,99l2.9,4.9M464,258l4.3,-4.7M564,151l3,-10.9M526,191l3.2,-6.3M445,87l9.9,-.9M385,180l4.1,-7.5M380,209l9.4,5.8M431,94l7.2,.1M622,206l5.3,7.5M556,115l.5,6.5M544,165l8.9,-2.4M563,80l4.2,9.5M435,219l7,-2.4M444,80l6.9,-2.6M441,105l4.9,4.1M474,88l1.7,-5.2M419,261l7.1,-6.1M511,196l2,4.9M517,117l7.2,-8.3M532,237l5,-3.9M573,99l7.4,9M546,244l4.2,-3.9M396,121l10.2,-4.7M399,186l1.9,-8.1M587,164l6.3,-.8M576,180l6.4,-1.2M393,168l3.2,-7.1M410,288l-.7,5.2M558,81l5.2,7.3M570,164l7.6,.5M547,127l.2,-9.8M618,200l5.7,3.1M428,167l-.5,-7.2M529,166l2.8,-4.8M537,92l3.9,4.3M475,130l.4,6.1M604,137l6.5,-5.3M602,190l10.5,4.9M418,248l11,-3.7M622,205l7.5,7.7M604,136l8.7,-2.3M532,148l6.9,-4.1M433,206l-.4,-8.1M596,219l3.9,11M392,117l5.8,-9.4M447,79l9.1,-2.8M452,67l8.7,-3.8M574,271l5.3,7M437,133l-1.3,9.3M518,245l7.2,-3.1M519,98l10,-2.8M446,214l6.1,.7M373,138l7.8,-7.5M521,276l6.9,-1.1M483,260l4.6,4.1M419,225l8.6,-7.1M599,122l7.4,.5M459,139l2.2,-6.9M584,111l4.6,10.6M495,222l2.9,-6M538,132l2.8,-4.8M516,81l1.4,9.4M470,241l3.2,-9.9M555,105l1.5,4.8" stroke="#575757" stroke-width="2.6" stroke-linecap="round"/>
<path d="M388.0,126.5 L394.8,121.5 L401.4,116.6 L408.0,112.4 L416.0,110.0 L423.0,108.5 L426.0,106.3 M476.6,80.2 L478.6,70.0 L479.7,64.0 L490.7,65.0 L500.8,66.0 L508.0,60.0 L514.0,65.0 L516.0,75.0 L518.0,81.0 M534.0,87.0 L540.0,90.0 L550.0,87.0 L558.0,82.0 L564.0,79.0 L570.0,82.0 L580.5,85.0 L590.0,85.0 L600.0,93.0 L610.0,98.0 L618.0,96.5 L625.0,94.0 L629.0,91.6 L631.4,95.0 L634.0,101.5 L636.4,109.8 L638.0,119.7" stroke="#4a4a4a" stroke-width="3.2" fill="none" stroke-linejoin="round"/>
<path d="M478.9,120.2 Q490,114 497.8,118.4 Q505,126 509.1,139.1 Q514,152 516.7,158 M522.4,118.4 Q510,126 497.8,133.5 Q490,140 490.2,150.5 Q491,157 492.1,160 M460,131.6 Q472,136 478.9,146.7 L484.6,154.3 M469.5,93.8 Q478,100 482.7,101.3 Q492,94 509.1,97.6 M528,148.6 a3.8,3.8 0 1,0 7.6,0 a3.8,3.8 0 1,0 -7.6,0 M384,150 Q392,170 390,195 Q389,215 398,240 M400,150 Q410,175 405,200 Q402,220 412,245 M420,135 Q430,150 425,165" stroke="#c4c4c4" stroke-width="0.8" fill="none" opacity="0.85"/>
<path d="M404,124l-4.6,3.6 -2.1-1 1.5-3.7 3.9-1.3zM408,107l.2,2.5 -2.6,2.4 -2.4-1.8 1.5-2.6zM390,122l2.5-3.3 2.4,1.1 .1,2.8 -3.9,2.1zM395,119l1.3,1.1 -1.6,2.1 -2-.2 .5-2zM431,110l-1.7,3.6 -2.9,.8 -1.9-2 3-2.6zM408,127l0-2.3 1.8,.1 .7,1.3 -1.4,1.8zM418,108l-3.2,.1 .5-2.9 3.5-1.6 2.7,1.2zM411,129l1.7,2.9 -1.3,2.7 -2.1-1 -.8-3.3zM401,124l-2.8,.9 -.6-2.3 3.9-2.4 2.5,.1zM438,133l-1.9-5.2 1.3-3.6 2.3,3 -.3,4.1zM439,123l-.1-2.9 2.3,1.5 .5,4.1 -1.8,1zM554,108l-2.5,.7 -1.8-2.5 .8-3 2.5,.9zM552,98l-.4,3 -2.6,.8 -1.5-3.3 1.8-2.1zM547,124l-.2-1.4 .6-1.5 1.2,.6 -.3,1.4zM573,128l-2.5,2.2 -2.2-2.2 1-4.2 2.8,.4zM537,114l-3.1,1.7 .3-2.1 2.4-1.8 1.9,0zM555,113l-2,1.9 -2.5-1.5 1-2.8 2.9,.1zM568,115l0,2.9 -2.2,1 -1.6-2.8 2-1.7zM578,118l1.1,2.9 -1.4,1.4 -1.8-2.7 .6-2.5zM544,119l.4,3.2 -2.9,2.8 -2.6-1.3 1-4zM592,120l-3.4-1.6 -.4-3.2 2.6-.7 2,3.1zM595,125l2.8-2.9 4,.1 0,3 -4,1.1zM614,115l1.8,2.4 -4.7,2.8 -2.9-1.3 1-3zM586,115l1.7,3.2 -1.1,1.6 -2.5-.4 -.1-3zM597,109l3.2-.1 2.7,3.1 -.5,2.3 -4-2.1zM589,124l2.4-.7 -.7,2.1 -1.9,1.8 -.8-1.4zM604,107l1.4,1.9 -1.9,1.6 -2.5-.9 .5-2.6zM595,109l.2,1.2 -1.1,.9 -1.2-1.4 .5-1.1zM384,141l-2.6,.8 -.8-1.5 2.5-2.3 2,.4zM446,206l-.8-1.4 .8-1 1.7,.7 .1,1.4zM449,205l-1.6,1.7 -3.7-.2 -1.3-3 2.7-1.4zM441,213l-.7,2.4 -3.7,.8 -1.5-1.1 3.3-2.1zM432,207l.6,2.4 -1.5,2.2 -1.5-1 .2-2.3zM454,195l1.7-2 2.2,1.7 .3,2.3 -2.8-.6zM467,202l1.9,1.8 -.5,1.7 -3-.7 -.3-1.8zM462,184l-3-.4 -1-2.4 1.7-1.3 2.7,2.2zM443,194l-.2,1.9 -1.7-.1 -1.7-1.7 1.2-1.7zM436,176l.3-3.1 2.2,1.6 1,4 -1.6,1.2zM438,177l-1.1-1.1 .8-.9 1.2,.4 .3,2zM451,197l.7,1.8 -2.5-.4 -2.6-1.8 1.4-1.1zM420,207l2.9-3.1 1.2,4.2 -2.6,3.1 -1.9-.9zM436,179l-.3,2 -1.3,.7 -.6-1.4 .5-1.3zM468,208l-3.8,.7 -.9-3.4 2.2-2.4 3,1.9zM469,192l-1.8-2.3 .6-1.1 2,.8 1.4,1.9zM445,194l-.9,1.4 -1.9-1.1 -.2-1.6 1.6,.1zM472,214l-.8,1.4 -2,0 -.4-.9 1.7-.9zM477,203l-1.7,2.2 -4.4-1 -.9-2.9 3.9-.6zM491,181l1.7,3 -2.3,.2 -2.8-1.7 .7-1.3zM537,141l-2.2-.1 .5-1.7 1.7-1 .9,.9zM539,150l-.2,2.3 -2.3,.8 -.6-1.4 2.1-1.8zM556,194l-1.3-.2 1.6-1.4 2,.2 -.3,1.5zM568,178l-1.6-1.1 .9-1.4 1.6,.1 .5,1.4zM582,179l-1.1-1.6 2-.2 1.5,.9 -.8,1.3zM567,192l2-.3 .8,1.3 -1.5,.8 -1.1-.7zM558,164l.8,2.2 -3.2,1.3 -2.6-.8 1.6-2.3zM549,172l.2,1.7 -1.9,.9 -1.1-1 1.5-1.3zM534,189l2-3.8 3.8-.3 .2,4 -3.1,1.3zM543,167l-1.5-2.3 1.3-2.7 2.7,.5 .5,2.6zM555,173l2.7,.4 -1.4,1.4 -3,.9 -1.2-1.3zM600,160l-.1,2.3 -3.5,1.4 -4-1.6 2.5-2.4zM599,150l1.2,1.7 -2.8,2.4 -2.6-1.4 .8-2.6zM574,207l-1.6,1.6 -1.8-1.1 1.4-2.4 2.2,.4zM572,200l-4.2,.3 0-2.4 3.2-1.9 2.8,1.4zM494,180l2.1,.6 1,2.6 -3,0 -1.8-2.1zM487,217l-.1,1.5 -1.9,1 -.5-2.1 1.1-1.7zM476,236l-2.8,.1 -1.1-2.1 1.8-3.4 1.7,1.7zM486,229l-3.1,1.5 -1.3-2.4 1.1-4 2.4-.1zM479,218l-1.3,3.2 -2,1.3 -.9-2.5 2.6-3.3zM497,214l-.5-1.7 1.2-2.4 .9,.8 -.2,2.4zM505,226l1.7-2 1.5,.9 0,3.4 -1.8,.6zM503,208l1.9,2.1 -1.4,2.6 -1.8,.3 -.2-2.9zM491,214l2-2.7 2.9,1.8 -.5,3.1 -3.2,1.8zM493,226l2,1.6 -.2,2.1 -1.8,.6 -.8-2zM476,238l-1.3,1.5 -1-1.8 1.2-2.1 1.3-.2zM446,222l2.1-1.8 4.8-.1 1.8,2.1 -3.8,1.8zM568,181l2,.4 .4,2.1 -2.4,0 -1.7-1.2zM552,178l2.9-1.1 3.3,.4 -1.2,1.9 -3.6,.4zM574,191l3.7,.1 1.5,1.4 -2,1.2 -2.9-.8zM578,187l3.4,1.8 .3,2.5 -4.5-.3 -2.9-2.4zM533,190l-.4-1.9 1.1-1.2 1.4,.7 -.4,2zM560,183l3.7,.7 -.9,2.2 -5,.6 -1.3-1.7zM570,177l-1.4,2 -2.9-.1 -1.5-1.7 3.4-1.3zM563,178l-2.6,1.3 -2.8-.7 2.2-1.4 3.5-.1zM572,194l1.9,1.2 -1.1,1.9 -3.7,.2 .2-1.9zM546,183l.1-1.6 2.7-.4 .1,1.6 -2.2,1.4zM560,189l-2-2.5 2.6-2.2 3.8,.2 -.3,3.1zM500,241l3.3,.1 .7,4.5 -1.6,3.4 -2.6-3.7zM507,227l.5,2 -1,1.3 -1.2-1.1 .7-2.1zM492,224l.4,1.1 -.5,1.9 -1.1,.1 .1-1.8zM512,239l-1.8-.1 -.2-1.5 .9-1.2 1.3,.9zM507,227l1.9-3.9 2.5,.9 .6,3.6 -2.3,1.4zM500,224l-1.1,2.2 -1.2-.5 -.2-1.4 .9-1.2z" fill="#b02018"/>
<path d="M480,68l-3.4,3.3 -1.9-.4 1.5-3.5 2.9-1.3zM478,82l0,1 -1,1.5 -1.2,.1 .6-2zM483,78l-.5,1.8 -2.3,.7 -.9-2.4 1.9-1.8zM500,115l.4-3.4 1.7,.4 .7,3.8 -1.5,2zM548,93l-2.7,.8 -1.5-2.1 .6-2.1 2.2,1zM547,92l-2.3-.5 -1.4-2.1 1.2-.6 1.9,1.9zM551,87l2.7,3.2 -.4,2.8 -4-1.8 -1.3-4.4zM630,132l-2.3,1.1 -1.7-.8 1.6-1.6 2.6-.5zM635,124l2.7,1.1 -2.9,2.3 -3,.3 -.5-1.8zM530,133l2.7-.5 .9,.9 -2.7,2.1 -2.4-.3zM540,141l-.6-1.3 .7-1.3 1.5,0 .6,1.7zM541,139l2.4-1.4 -.5,2.1 -1.9,1.8 -1-.8zM490,76l-.8-2 1.3-2.4 1.5-.5 -.1,2.7zM414,176l-2.3,2.6 -1.8-.5 1-3.5 2.4-1.4zM435,164l1.7,2.5 -.4,2.8 -1.7,.2 -.6-3.1zM422,154l-1.4,.4 -1-.8 .7-1.2 1.3,.4zM432,175l-2.4-.8 .1-2.9 2.2-.1 1.8,1.6zM434,172l-2.9,1.8 -2.7-1.8 1.3-2.6 2.5-.3zM430,159l.1,2.2 -1.1-1.1 -.3-1.8 .9-1.5zM423,154l-2.4,1 -1.5-1.2 .4-2.2 2.2,.5zM420,182l-3.9,.4 -1.5-3.6 3.2-2.3 3.1,1.9zM471,169l-.9,1 -1.3-1.1 -.2-1.2 1.3,0zM471,168l-2.1-1.8 -.4-2.6 2.8,.4 1,2.3zM473,173l-.5,1.9 -2.9-.1 -1.2-2.8 2.1-1.5zM477,172l.9,1.3 -1.6,0 -1.2-1.5 .1-1.2zM460,173l.3-2.8 3.5,.5 1.5,3.1 -2.2,1.4zM432,148l.4,1.6 -1,.7 -1.1-1.1 .6-1.3zM581,148l1.1,0 .9,.7 -.7,1 -1.3,.1zM578,144l.6-1.7 2.7-.2 .3,2.9 -2.5,.9zM562,141l1.5-1.2 .7,1.9 -.9,2.6 -1.8-.6zM600,140l-1.3,1.5 -1.6,.8 -1.1-.3 1.7-1.6zM593,135l-.6,2 -1.9,1.3 -.9-1.5 1.1-1.9zM593,137l1.3-1.6 1.6,.6 0,1.9 -2.3,.4zM538,206l1.4-.8 .3,2.1 -1.3,.8 -1.3-1zM480,249l.5-2 1.2-.1 .6,1.7 -.8,1.4zM487,245l2.4-1.9 2.7,.9 -.7,3.2 -2.4-.2zM482,252l-.6-1.6 0-2.2 1.1,1 .5,1.7zM481,248l2.9,3.6 -1,3.5 -2.4-1.7 -1-4.7zM495,249l-1.3-2 -.7-4 2.3,.3 1.2,3.6zM419,229l-1.4,1.1 -1.2-1.1 2.1-2.4 1.4,.8zM427,268l-1.7-.4 .4-2.6 1.9-1.1 .8,1.4zM422,266l.5,.8 -.7,.9 -1-.5 .4-1.1zM424,261l2.2,.1 -.2,2.6 -2.4,1.2 -1.6-.9zM566,205l-3.2,.6 1.5-2.8 4-2 1.6,1.9zM568,200l3.5-1 1,1.2 -2.5,2.1 -3.5,.3zM576,203l-3.1-.6 1.4-2.5 2.7-.5 .8,2.1zM567,198l1.5-2.2 2.2,1.1 -.4,2.3 -2.6,.8zM544,208l2.1-.4 -1.4,2.8 -2.9,1.9 -.2-2zM569,211l-3.5,1.5 -1.1-2.9 1.7-2.5 2.4,1.4z" fill="#a01c18"/>
<path d="M439,118l1.6,3.2 -1,1.7 -2.2-2.4 -.6-4.3zM410,121l2.4-.3 -.5,2.7 -2.6,1.2 -1.5-1.7zM413,130l.9,1.7 -1,2 -1.7-.7 .2-2.1zM415,120l1-3.9 4.3-2.4 1,1.8 -2.2,3.5zM429,115l3.7-1 .8,2.3 -3.4,3.2 -3.2-.1zM417,117l3.6,.1 2.8,2.4 -2.8,3 -3.4-1.4zM400,118l-.9,3.2 -3.3,1.1 -.7-1.5 2.5-3.3zM404,131l-2.1-1.4 1-2.6 2.2,0 .9,2zM428,122l-1.1,0 -.6-1.5 1.3-1.2 .8,1zM413,133l-1.7-.2 -.4-2.7 2.3-1.5 1.8,2.4zM482,67l-2.8,3.5 -1.7-.8 1.2-3.1 2.7-1.7zM547,90l.9,2.7 -2.1,.4 -1.6-2.2 1.2-1.1zM544,90l1.6,3.6 -1.2,2.2 -3.8-3.6 -.7-3.7zM562,99l-1.9-2.1 -.3-2.8 2.4,.4 1.6,3.3zM537,111l4.2-2.4 -1.6,3.7 -3.7,2.9 -1.3-1.7zM567,116l-1.1,.1 -.9-1.8 .7-1.2 1,.8zM543,112l1,3.1 -2.4,3.8 -2.8-.7 .4-3.4zM579,126l-2.2-2.5 .9-3.4 2.4-.4 .9,3.8zM573,120l-2.6-4.4 .5-4.7 3.2,2.8 .7,5.4zM545,102l1.9,2.7 -.6,5.5 -2.7-.5 -.5-4.5zM585,121l-2.3-.7 -.5-2.5 1.5-.1 1.2,1.6zM573,125l.7-1.2 1.2,.1 .7,1.3 -1.4,.8zM568,119l.9-.6 .7,1.7 -.8,1.2 -1.4-.7zM585,125l-2.6-1 -1.5-2.9 2.2-1.3 2.2,1.4zM581,118l2.8,2.4 -1.6,3.7 -3.7-1.5 -.4-4zM609,114l1.7,.3 0,1.4 -2.7,.1 -1.6-.9zM605,132l-3.4-1.1 .4-2.5 4.6-2.1 .8,2.5zM596,115l-2.8-1.2 -1.6-2.5 1.9,0 2.7,2.1zM589,122l-.8,1.7 -1.2-.8 -.6-1.6 1-.5zM634,121l-2.8,3.1 -3.4-.7 1.8-2.8 3.5-1.3zM631,125l-2.4,3.2 -3.5,1.3 -1.2-3.1 3.3-2.7zM540,133l-.2,2.6 -3.1,1.9 -1.2-1.5 2.2-2.3zM390,134l-.3,4.2 -3.5,.4 -1.2-2 2.2-2.4zM396,142l1.9-1.9 1.3,1.6 -.5,2.1 -2.2,.4zM431,169l1.3,.5 1.1,2.6 -1.6,1.7 -1.8-1zM409,173l-2.6,4.6 -2.8-.2 1.3-4.1 2.7-2.4zM435,162l-1.1,2.4 -2-2.1 0-4.2 2-.2zM407,171l.3-1 1.3,.6 -.3,1.5 -1.4,.2zM414,162l1.9-1.9 .7,2.6 -1.1,3.2 -1.5-.5zM422,196l1.1-2.4 1.8,1.3 -.2,2.1 -2,.5zM466,194l1.9,1.5 -1.8,.4 -2.3-1.7 -.2-1.3zM429,182l-1.7-.7 .7-3.2 2.4-.4 .4,2.9zM458,185l2.1,1.1 .8,1.8 -1.8-.1 -1.6-1.4zM457,186l-4.7-3.2 -.9-3.1 4.1,1.3 4.4,3.7zM455,201l1.8,.1 1.7,1 -.4,1.1 -1.8-.6zM436,214l2.8-1.2 2.5,.9 -1.5,1.9 -3,.4zM455,210l.5,1.8 -1.4,.3 -1-1 .6-1.1zM431,199l-1.2-1.6 .6-1.9 1.6,.2 -.3,2zM441,196l2.5,3.4 -2,2.7 -2.9-1 -.1-2.8zM436,201l.7-1 .9,2.7 -1,1.7 -1.2-1.6zM424,195l-.9-3.2 2.3-4 1.4,1.7 -.6,4.4zM436,184l-1.6-4.3 1.4-3 3,1.2 -.2,4.6zM440,217l2.9-1.3 2.8,.8 -1.1,1.2 -3.2,.4zM472,180l2.9,.9 1.1,2.9 -3.1,1.8 -1.8-3.2zM473,183l-1.6-2.4 1.4-1.3 2.8,2.2 .5,2.4zM475,160l.2,.9 -1.7-1.3 -1.2-2.1 1.5,0zM462,177l2.8-.4 2.1,2.2 -.5,1.3 -2.7-1.1zM479,168l1.2,1.6 -1,.6 -2.3-1.7 .4-1.1zM479,215l-1.8,.9 -.8-.9 .7-2.1 1.6-.1zM481,211l3.2-1.3 1.2,3.2 -1.2,3.3 -3-1.5zM429,148l.3,2.5 -1.6-.3 -.4-3.2 .9-1.2zM545,149l-.4-2.4 2.6-3.9 3.1-.5 -2.2,4.7zM536,139l1.6-2.1 2.1,.6 -.2,2.1 -2.5,1zM560,147l1.6-.3 .6,1.9 -1.5,1.9 -1.5-1.2zM561,147l1-4.2 2.4,.8 .1,2.7 -1.9,2.1zM556,138l2.6-2.7 1.1,1.8 -.8,4.2 -1.9,.3zM564,153l-1.2-2.2 2.4-3.3 2.8,.8 -1.7,3.6zM565,147l-2,1.5 -.9-2.1 1.7-1.8 1.4,.7zM572,149l1.1-1.4 1.3-1 .3,1.2 -1.3,1.3zM562,182l-2.8,1.6 -2.3-1.2 .9-2.6 3.9,.3zM537,185l-2,1 -.7-1.1 1.6-2.5 1.8-.3zM575,181l1.5-1.6 2.5,.1 1.3,1.6 -2.8,.6zM579,180l-3,.7 -3.1-1.9 2.1-2.2 4,.7zM541,185l3.1-1.2 1.2,1.5 -2.5,2.2 -1.9-.2zM581,179l-4.1,0 -1.7-2.3 1.8-2.1 3.4,.8zM572,179l-2.3,1.7 -4.5-.3 -.7-2 4.6-.9zM567,175l3.1,2.1 -2.2,1.9 -4.1,0 -1.1-2.3zM574,177l-2.4,1.5 -3-1.3 .9-1.9 3.5-.3zM550,197l3-2.9 3.4,.9 -.9,3.2 -3,.6zM557,174l3.1-1.4 2.2,1.6 -1.9,1.9 -4.1,.2zM550,167l-2-.2 1.3-1.7 2.6-1.3 .8,1.4zM549,181l-2,2.6 -3.7-1 .5-3.4 2.9-1.3zM566,171l-2.9,1 -2.4-1.6 1.4-2.1 3.2,.6zM569,184l-1.3,3 -5.5,.7 -2.8-1.7 4.7-2zM563,187l.9,1.4 -1.2,2 -2.5-.7 .1-1.5zM570,198l2,1.7 -3.5,3 -3.2-.3 .5-2zM501,235l-1.5,2.4 -1.6-2.3 .6-3 1.6-.8zM465,227l2,.3 -2.2,1.6 -2.3,.1 -.6-1.3zM484,211l3.3-2.1 .4,3.5 -1.6,2.6 -2-.2zM482,224l1.6-1.2 .5,2.5 -1.1,1.9 -1.8-.2zM474,228l-2.1-.7 .4-2.5 2.7-.9 1.3,2.8zM495,218l-.4-2.4 1.6-1 1.6,1.4 -1,1.9zM501,247l-2.2-1.6 -.8-4.4 1.5-1.9 2,3.4zM483,238l1.6,1 -.4,2 -1.8-.1 -.7-2.1zM491,222l-1.6,.6 -1-.9 1-1.8 1.3,.5zM507,228l.1,1.8 -1,2.1 -1.4-1.7 .7-2.7zM492,243l-2,1.6 -1.3-3.5 1.2-2.4 2.2,1.3zM418,231l1.4-1.6 1.3,1.1 -.2,1.5 -1.8,.8zM414,232l1.9-.3 .2,1.6 -1.4,1.4 -1.3-.8zM461,232l-2.5-.5 .3-1.9 4.5-1 .6,1.6zM553,196l-2,1.7 -2.1-1.3 1.2-2.3 2.7-.2zM549,188l-3.2,.9 -1.7-1.1 2.8-2.2 2.6,.3zM554,192l0,2.2 -2.1,.1 -1.2-1.5 1.8-1.9zM579,176l2.1-.6 .5,1.7 -1.3,1 -1.5-.7zM584,181l1.5-1.3 1.8,1.9 -1.4,2 -1.9-.8zM498,227l1.7-.1 .8,4 -1.6,2 -1.9-1.3zM512,241l0,3 -3.1,1.8 -1.8-2.7 1.3-3.1zM504,241l1.8,3.3 -.6,4.2 -2.1-1.1 -.1-4zM500,243l-.1-2.1 .9-.6 .8,2 -.4,1.7zM498,236l3.4,.8 -.2,3.2 -2.5,2 -1.3-3zM502,227l-3.1,1.1 -1.8-1.7 .6-3.4 3.8,.5zM507,224l2.5-.4 .3,3.2 -2.7,2 -1.5-2.8zM544,211l.2-3.2 2.8-.7 1.7,2.1 -1.8,2.3z" fill="#c8281c"/>
<path d="M410,118l-3.7-.5 1.3-3.4 3.3-1.9 1.4,3.2zM409,122l1.3,2.2 -2.9,3.2 -2.3,.1 1.3-3.3zM436,110l-1.6,2 -2.6-.2 -.1-2.4 2.3-.7zM429,126l-.6,1.9 -1.1-.3 -.6-1.7 1.2-.8zM401,112l1-3.4 2.9-.9 1.7,2.4 -1.6,2.9zM410,120l1.7-1.7 .3,1.1 -1.6,1.8 -1.7,.4zM439,118l-.7,1.6 -3.3-1.9 -.6-3.6 2.3,.5zM403,127l-3.9,.3 -1.8-1.9 2.1-3.5 2.7,1.5zM394,123l-2.4,.9 -1.5-2 2.2-1.9 1.9,.6zM561,113l1.2-3.2 2.4-.3 1.3,2.7 -2.1,1.8zM554,114l-1.2,3.2 -1.3,0 -.8-3.6 1.4-2.2zM573,113l-.1-1.8 1.7,.2 1,3.1 -1.3,.9zM547,123l-1.2,0 -.2-1.2 1-.9 .8,1zM537,124l-2.6,1.9 -1.5-1.6 1.8-2.6 3.5-.6zM567,111l1.9,1.5 .4,4.2 -1.3,2 -1.6-4zM578,121l.7,4.9 -1.8,2.3 -1.6-2.9 1.1-3.3zM556,113l-.8,2.9 -1.7-2.2 -.3-3.8 1.5-1.1zM553,117l-1.6,1.2 -1.8-1.9 1.3-2.1 2.3-.2zM613,119l.6,1.7 -2.3,1.8 -2.7-1 1.7-2.3zM602,125l-4,1.1 -2-1.7 3.1-2.4 3.8,.4zM585,130l-.6-2.7 1.4-2.7 3,1 -.5,3.3zM383,140l2.8-1.3 1,1 -2.8,2.4 -2.1,.2zM396,144l.4-2.4 2.6-1.3 1.8,1.9 -2.2,2.9zM436,194l-1.6-1.7 .8-2 1.6,.2 .1,2.1zM455,208l3.2-.1 3.7,1.9 -1.3,1.8 -4.4-1zM441,200l1.6,1.6 -.7,1.5 -1.7-1.1 -.8-1.9zM430,181l1.3-1.8 1.8,1.2 -.7,3.3 -2.2,.6zM423,191l-1.5,2.5 -.4-2.7 1-2.9 2-.2zM433,214l3.2,.5 -.6,3.7 -2.9,1.1 -2.5-2.2zM456,184l.6,2.2 -2.1,.8 -1.4-1.3 .8-1.6zM424,191l-.9,4.1 -2.6,2.4 -.7-3.5 1.8-4.2zM434,177l.9-2.9 2.2,.5 .3,3.5 -1.7,1.2zM444,205l-2.6,1.5 -2.2-2.2 .4-2.9 3.3,1.3zM430,217l1.1-3 2.1-.7 -.6,2.9 -1.8,1.5zM441,187l-1.3,.3 -1.2-1.9 .6-1.5 1.5,1.1zM448,200l-1.3,1.1 -3.7-2.6 -.7-2.6 3.9,1.4zM426,193l3-1.6 1.1,3.8 -2.6,3.6 -1.8-2.7zM475,206l.3-1.8 1.8-1.2 .3,1.2 -1.2,1.4zM474,202l-2.8-1.3 .5-3.2 3.1-.5 2.2,2.9zM475,198l.1,1.3 -1.4,.4 -1.7-1.6 .9-.7zM538,142l2-1.4 1.9,1.2 -1.3,2.3 -2-.1zM549,146l2.1,.9 -1.3,2.3 -1.8,.2 -.6-1.7zM538,152l-3.5,.5 .1-2.8 4.8-3.3 2.2,1.1zM567,175l-.5-1.8 1.8-1 2.1,.9 -1.1,1.6zM579,166l2.2-.9 2.3,1.6 -1.8,1.2 -2.9,.1zM578,167l2,0 1.3,1.3 -1.9,.7 -1.9-.6zM569,175l1,1.8 -1.2,1.8 -3.2-.8 -.1-2zM552,184l2.5,.1 -.8,1.7 -2.4,.4 -1.3-1.1zM568,179l-1.7,.9 -1.7-.5 .3-1.7 1.8-.3zM572,183l-.6-.9 2-.6 1.8,.8 -.8,1.1zM554,154l-1.4,3.2 -2.3,.8 -1.5-1.1 2.4-2zM554,160l-1.6,3.5 -4.8,2 -1.6-1.4 3.4-3.6zM549,169l-.2-1.4 1.8-.4 .9,.9 -1.4,1.4zM549,169l-1.4,1.4 -1-.9 .1-1.6 1.7,.2zM558,165l.9,3.1 -3.9,2.1 -2.6-2.2 1.9-2.7zM554,156l1.8-2.5 3.2,.8 -.8,3.8 -3.7,1.3zM540,171l-1.9-.3 .3-1.8 2.3-1.3 .8,1.4zM566,157l-1.3,2.6 -3.7,1.1 -1.1-1.7 2.8-3zM568,180l-3.6-1.2 3.1-1.4 3.7,.6 .3,1.7zM601,158l1.6,2.2 -1.5,1.4 -2.5-.1 -.2-2.3zM590,163l.3-2.6 5.6,0 1.8,2.4 -4,1.6zM572,205l-1.9-.9 -.1-2.5 2.6,.3 .7,1.8zM494,188l-3.8-.7 .2-3.5 3.4,0 1.5,2.8zM493,226l2.2-3.1 3.4,1.2 .9,3.8 -3.8,1.5zM480,228l.6-4.1 2.1-.4 -.4,4.6 -1.8,2.4zM483,235l-1.6,2.2 -2.6-1.8 1-3.4 2.2,.2zM470,226l-.1,2.3 -2.4,.6 -.6-1.6 1.6-1.9zM482,225l.8-3 1.3-.6 .8,1.8 -1.4,2.2zM492,230l.1,2.8 -2,.7 -1.3-2.1 1.4-2.1zM511,225l.7,4.3 -2.1,2.5 -1.9-3.1 1-3.7zM516,225l-1.4-2.6 -.1-2.1 1.3,.8 1.2,2.8zM500,244l-1.6,.2 -1.1-1.6 1.4-1.5 1.3,1.3zM517,225l-1.1,.6 -1.8-3.1 .9-1.6 1.7,1zM500,231l.3-3.4 2.7-1 2.3,1.9 -1.4,3.2zM509,229l-.7,2.9 -2.4-.3 0-2.5 1.6-1zM487,223l.3-2.5 1.7-1.9 1.6,1.7 -1.1,2.4zM504,239l-1.4-1.7 .7-3.8 1.3-.4 1,3zM479,238l2.4-.6 1.3,4.7 -2.4,3.2 -2.2-3.2zM502,224l-.1,3.7 -2.8-.6 -.7-2.6 1.8-1.8zM508,221l-.9-3.9 1.6-2.5 1.9,2.7 -.9,3.5zM453,215l-.2-1.9 2.5-1 2.6,1.9 -1,1.8zM552,195l-2.2-2.2 4.2-2.9 4.8-.2 -.9,3.2zM542,188l2.5,.4 -.5,1.9 -2.5,1.7 -1.1-1.6zM553,181l-2.7,1.4 -1.4-1.8 1-1.6 1.9,.2zM552,182l.8-3 3.2-.6 1.3,3.3 -2.8,1.3zM589,187l-2.1-.6 -1-2.5 3.2-.7 1.2,2.5zM568,176l3.9,.3 1,1.8 -2.9,.8 -2.9-1zM569,188l-2.9,.6 -1.1-1.3 1.7-1.1 3.1-.1zM509,217l.6-2.3 2.3,.3 .6,2.4 -1.7,1.4zM496,216l2,.2 .9,2.2 -2.2,1.6 -1.7-1.9zM498,224l-.9,2.2 -1,.4 -.2-2.2 1.1-1.4zM493,224l-1.8,.2 -.1-1.7 1.4-.6 1,1zM492,256l-.1-2.7 1.9-.9 1,2.2 -1.1,1.5z" fill="#d8301e"/>
<path d="M387,136l-1.8,3.1 -3.8,2.4 -.4-1.9 2.5-3.4zM384,137l1.5-1.9 2,1 .7,2.2 -2.3,.4zM391,137l2.5-.1 .6,2.4 -3.1,2.2 -2.2-1.4zM556,92l1.6,1.6 .7,1.9 -1,.1 -1.5-2.1zM542,95l-2.2-2.9 1.8-2.5 2.7,2.5 .3,2.5zM627,128l1.8-2.9 3.8-.9 1.7,1.7 -3.8,2.3zM631,124l2.3-2.4 2.1,2.2 -.3,3.1 -3.8,.2zM526,133l1.2,1.1 -.7,1.8 -2.7,.2 -.2-1.8zM540,142l-1.1-1.3 1.2-2.5 2.3-.3 .1,1.9zM525,137l-1.9,2.1 -2.7,.3 -.5-1.3 2.5-1.2zM527,130l-3.1-1.2 1.5-2.8 2.8-1.3 1.6,2.7zM533,131l1.2,1.8 -1.4,2.4 -3-.1 .6-2zM586,86l.6,.8 .3,1 -.5,.4 -1-1.2zM422,178l1.5,1.9 -1.9,5.8 -3,.7 .1-5.5zM431,154l-.1,3.9 -1.9-.6 -.8-4.2 1.5-1.8zM420,183l-.9-1.2 1.1-1.7 1.2,0 -.4,2zM411,163l1.4-1.2 1,.8 -.8,2.5 -1.2,.4zM416,160l-.3-3.8 1.4-2.1 1.5,2.4 -.8,4.4zM433,161l-.5,1.4 -1-1 -.3-1.6 1-.3zM434,159l2.4-1.9 1.4,4 -1.9,2.1 -3-.7zM418,162l-1.4,.2 -.9-2.2 1.7-1.6 1.4,1.2zM410,159l1.5,.2 .6,1.3 -1.2,1.2 -1-1.1zM431,177l1.5-1.3 1.1,2.8 -1.7,2.5 -2.1-1.4zM461,167l.5-1.1 2.5,1.4 .6,2.1 -1.8-.3zM534,135l2-1.7 1.4,.7 -1.7,1.6 -1.9,.6zM523,135l1.8,1.7 -2.2,1.8 -2.2-.8 1-1.7zM534,129l2.4,.4 -.6,3 -3.9,1.2 -1-2.6zM528,135l2.2-2 2.4-.2 -.8,1.8 -3.9,1.6zM573,144l-2.2,3.1 -2.4-.8 .5-3.1 2.6-1.5zM577,144l-1.9,.7 -1.4-.8 1.6-2.2 2.1-.7zM578,150l1.4-1.2 1.3,.9 -1.8,1.9 -2,.2zM609,136l-.9,3.1 -5,1.8 .1-2.6 2.9-2.3zM596,139l-1.3-.8 2-1.6 2-.2 -.8,1.8zM544,212l-1.9-1.4 1.3-1.8 2.3-.3 .1,2.3zM533,179l1.3-2.6 2.2-1.2 .4,1.8 -2,2.4zM499,255l.2,2 -2.5-1.4 -1.1-4 1.8,.2zM496,245l2.8-.1 1.8,2.5 -1.9,2.1 -2.4-1.1zM494,244l-2.2,1.9 -2.5-1.8 .6-3.1 3.2-.1zM459,230l-1.7,3.5 -4.6,.8 -.6-2.7 3.1-2zM500,261l.4-1.3 1.3,.3 .9,1.1 -1.1,.4zM548,209l-1.2,.8 -1.2-.3 .4-1.5 1.6-.2zM562,211l-.2-1.8 3.4-2 1.7,.6 -2.1,3.1z" fill="#d8401e"/>
<path d="M426,121l-2.7,.2 .8-3.3 3.1-2.4 1.3,1.9zM417,134l.3,2.4 -1.3,1.9 -1.6-2 .3-2.2zM413,117l-2.2,1.1 -1-1 1.6-2 1.7,0zM408,118l2.3-3.2 3.2-1.3 .9,1.9 -2.9,3.1zM403,135l1.5-2.2 1.2,1 -.3,2.3 -1.8,1.3zM412,104l4.3,1.8 -1.4,3.8 -3.5,1.3 -1.8-3zM399,118l3.1-3.1 2.5,.1 -.4,2.5 -3.7,2.3zM425,129l1.5,2.2 -1.1,1.1 -1.3-1.5 -.1-2.7zM556,99l-1.7-2.4 .6-2 2.3,.5 .2,2.5zM565,98l2.1,1.8 1.3,2.8 -1.1,.4 -1.9-1.9zM551,102l2.1-.7 1.5,2 -1,2.4 -2.4-1.1zM549,122l1.3-1.5 2.2,.1 -.3,2.4 -1.6,1.2zM536,115l-1.8,1.5 -1-.7 1.3-1.7 1.8-.1zM556,130l.1-2.3 1.7,0 -.1,2.3 -.9,1.2zM541,105l2.5,.1 -.2,3.2 -3,3.3 -1.8-3.1zM581,124l-1.6-3.6 1.8-1.2 1.3,2.4 0,3.5zM571,104l2,1 0,1.9 -1.4,.1 -1-2zM546,125l2.6,.4 -.3,3 -2.4,2.2 -1.5-2.6zM607,128l-3.6,2 -3.5-.4 1.6-3.3 4.4-.9zM595,124l2.4,1.5 -1.8,3 -4.8,1.1 -.2-2.3zM610,123l-3.9,3.1 -5.1,1 -.6-3.1 5.4-2zM585,131l-.3-1.8 2.3-2.2 2,.1 -1.1,3zM608,123l-2-.4 1.8-1.7 2.9-.7 .3,1.5zM594,127l1.3,1 -.3,1.4 -1.6,.2 -.4-1.5zM390,144l2.3-2.5 2.1,.4 -.9,2.5 -2.3,1zM435,198l.6-2.3 2,0 1.2,2.1 -1.8,1.4zM457,214l-2.2,.5 -1.8-1.4 .7-2 2.6-.1zM459,193l1.3,1.5 -.4,1.8 -2.1-.2 -.6-1.8zM465,210l-2.7,.7 -3.1-2.2 2.8-2.4 3.3,.7zM430,200l2.2,3.2 -1.7,5.4 -2.4-.5 -.6-4zM446,180l1.6,2.3 -1.6-.1 -1.5-1.9 -.1-1.4zM436,211l.7-2.2 3.3,.5 1,2.4 -1.9,1.2zM460,191l-1.5-1.4 .2-1.1 1.8,.5 1.2,1.4zM444,213l-.5-1.3 1.4-.3 1.8,.9 -.8,1zM439,178l1.5,3 -1.8,1.3 -2.2-1.1 .4-2.6zM465,209l.4-.8 1.5-.2 .5,1.4 -1.3,.6zM476,212l0-2.5 1.9-.5 1.2,1.6 -1.5,1.3zM486,177l2.2-1.1 3.5,1.7 -.6,3.5 -3.9-1.2zM540,136l3,.4 1,2.7 -2.9,1.4 -2.6-1.2zM547,141l1.9-1.2 .9,1 -1,2.3 -1.2-.1zM546,137l-1.7-.4 1.3-2.5 2-1.2 .7,2.3zM561,197l-2.3-.9 -.2-2 2.2-.3 1.1,1.4zM533,178l2-1.6 1.7,1.3 -1.5,1.9 -1.5,.1zM571,161l-3.2,1.2 -2.6-.6 2.5-1.6 3-.5zM543,183l-3.5,2.4 -2.1-.7 1.9-3.3 3.9-1.5zM554,174l-2.9-1.1 .9-1.7 3.2-.8 .6,1.4zM548,175l-.3-2.3 2.8-2 2.8,1 -1.3,2.3zM535,175l-2.8,1.9 -1.7-1.7 2.7-3.8 2.8,0zM571,192l.9-1.1 1.6,0 0,1.6 -1.3,.7zM553,178l4-1.4 1.3,1.3 -1.2,1.9 -3.7-.3zM547,193l-2.2-.9 1.8-2.1 1.9,.7 0,1.4zM505,214l-.9,.8 -.9-2.4 1.6-1.7 1.3,1.4zM514,226l-2.1-3.7 -.2-4.2 2.4,1 .9,4.7zM489,221l1.5-2.6 2.3,1.3 -.4,3.3 -2.8,.6zM482,234l-2.9,2.6 -2.6-2.6 1.6-3.2 3.3-1.2zM504,218l-1.6-3 1.1-2.7 1.8,.1 .6,2.6zM491,236l-.6,3.6 -2.5-.9 -1-2.9 1.9-1.9zM474,243l-1.3-3.7 2.4-4 2.5-.4 -1.1,5.8zM476,223l.4-1.7 1.1-.5 .4,1.1 -.8,1.3zM488,218l-1.5,3.8 -2.1,.2 .4-3.6 2.1-2.5zM478,217l.4,1.7 -1.4,1.2 -1.1-1 .7-2zM446,217l2.6-1.8 3.2,1.3 0,3 -3.9-.3zM455,217l-2.9-2.5 2.9-1.7 3.6,1.9 .3,2.2zM570,174l1.2,1.4 -1.5,.5 -1.7-.4 .6-.9zM556,180l4.9-2.1 5.2,.1 -.7,2.8 -6.5,.9zM545,187l1.1-2.8 4.6-.7 .2,2.6 -3.1,1.9zM559,187l1.3,1.3 -.5,2.4 -3.1-.4 .4-2.4zM559,191l1.3,0 .3,1.3 -1.6,.5 -1.1-.8zM563,187l-.2,1.9 -3.6,1.2 -1.9-1.5 2.2-2.1zM574,173l.3,2.3 -3.1,.7 -2.5-1.5 1.8-1.5zM551,193l-3.3,.3 .5-1.7 2.6-1.4 2.7,.4zM546,190l2.4,1.3 .3,2.5 -2.8,.9 -1.9-2.3zM506,233l.4,2.1 -.6,1.5 -.8-1.3 .3-1.7zM512,227l1.8-2.4 2.7,1.3 -.3,3.4 -2.8,.3zM489,226l2.5,.5 -.5,3.5 -2.1,.7 -1-2.8zM488,227l1.1-4.3 1.7,1.4 0,5 -2.4,2.3zM492,249l-.1-2.4 1.1,.7 .9,2.3 -1,.3zM464,218l1.8-1.2 3.7,.5 -.2,1.7 -3.7-.1zM474,211l-2.2,2.3 -2.9-1.5 1.2-2.8 2.8-.2zM476,213l-1.8-1 2.2-4 2.6-1.2 .3,2.6zM483,222l1.8,3.1 -3,1.5 -2.3-1.7 .8-3.7zM463,219l-4.9-1.2 1.9-2.3 4.3,.8 1.1,1.9zM468,232l-1.8-.7 1.1-2.1 2.3-1 .3,2.1zM461,228l-1.4-3 3.3-1.7 3.3,1.7 -1.8,3zM481,218l-1.3,.6 -.6-.9 1-2 .9,.3zM465,205l-.3-2.1 3.4,1.1 1.8,1.8 -2.3,1.1zM484,202l-1.2,3.3 -2.5,.5 .4-3.5 2.6-2.3zM485,211l2.4-2.6 1.2,2.7 -2.8,3.9 -2.4,.4zM473,232l1.1-2.8 1.6-1.1 .8,2.3 -2.1,3.2zM427,174l.8-3.3 1.7,1.8 .1,3.9 -2.4,1.6zM432,174l2.4,2.4 -.6,4.7 -1.9,.9 -1.7-3.6zM431,171l2.6,.3 .8,3.9 -2.2,1.4 -2.2-1.4zM434,185l-2,2.5 -1.4-2.2 .5-2.4 2.3-.3zM423,187l1.9,.4 .5,1.7 -1.4,1.3 -.9-1.1zM562,171l-2-.6 .5-1.4 2.6-.8 1.1,1.5zM573,165l-1.9,.5 -1.7-.7 .6-1.2 2.2-.2zM574,167l1-1 1.6,.5 -.3,1.3 -1.7,.1zM564,165l2.9-.6 2.6,1.2 -2.4,2.2 -2.9-1zM592,154l2.5-2.1 3.7,.4 -.1,3.6 -4.4,.7zM557,144l-2.4,3 -.8-2.7 1.8-4.2 1.5,.9zM558,134l2,1.9 -.4,3.3 -2.6,0 -.8-3.2zM560,134l1,1 .7,2.5 -1.6,2.7 -1.4-1.9zM544,134l1.8,1.8 .1,2.5 -2.6,.1 -.3-2.1zM412,112l1.8,.9 -.9,2.6 -3.2,1 -.5-2.2zM414,108l.7,2.4 -3.7,3.6 -2.4-1 .7-2.9zM613,116l-.8,1.6 -2,1.1 -.9-1.2 1.4-1.1zM608,119l1.8-1.6 2.5,.3 -1.4,1.9 -2.3,.7zM611,120l-3.6,.8 1.1-2.1 3.7-1.5 1,1.3zM592,113l2.9,0 1.8,2.5 -2,1.4 -2.3-1.1zM598,121l-1,1.5 -4.6-1.8 .1-2 2.9,.2zM588,116l-1.1,0 -.9-1.1 .6-1.3 1.4,.5z" fill="#e0501e"/>
<path d="M387,138l-1.5,.1 -.4-1.1 1.4-.8 1.1,.4zM391,141l-1.5-1 1.8-2.6 2-.1 .1,1.7zM547,93l-1.6-.3 -1.2-1.1 .5-1.5 1.6,.9zM557,95l-.5-1.1 0-.8 .9,.5 .6,1.5zM542,138l.2,1.7 -1.9,1.6 -1.5-.5 1.6-2.2zM539,134l.2,1.6 -1.9,.7 -1-.6 1.6-1.5zM530,135l0-1.3 1.2-.9 1.4,.4 -.5,1.5zM429,155l0-1.9 1.3,.5 .5,1.7 -.8,1.5zM413,162l.1,1.6 -.9,1.5 -.7-.6 .3-1.6zM408,173l-1.3,3.2 -1.5-.3 -.3-1.9 1.9-1.7zM416,156l1.5-.9 .3,2.5 -.7,2 -.9-1.3zM421,154l-.7-.5 .3-.7 .6,.4 .1,1zM436,159l1.1,2.3 -1.6,1.3 -1.4-1.4 .4-2zM431,171l1.2,.8 -.1,2.6 -1-.2 -.5-1.6zM434,162l-1,.2 -.6-1.6 .7-1.4 1.5,.5zM408,171l-.4,1.1 -.7-.3 .1-.9 .8-.7zM429,159l.1-.6 1-.1 .3,1.3 -1,.5zM410,161l.6-1.4 .7-.7 .2,1.2 -.6,1.1zM420,154l-.4-1.6 1.2-.1 .8,1 -.6,1.1zM469,168l.7,.1 .5,.6 -.3,.6 -1-.4zM469,165l.4-.8 1.7,1.1 1.2,2 -1.8-.1zM465,179l-1-.2 .1-1.1 1.2-.4 .9,1.3zM460,171l2.7,.4 1.8,2.2 -.9,.7 -2-1.5zM478,168l1.4,.5 -.1,.9 -1-.1 -.9-1.1zM564,145l-.1,1.6 -1.4,.6 -.8-1.3 1.2-1.9zM581,150l0-1 .9-.8 1,.2 -.6,.9zM559,137l.7,1.8 -1.3,1.6 -1.8-1.2 .3-2.3zM573,148l.5-.5 .8,.1 -.2,1 -.9,.1zM545,209l.5,1.3 -1.7,1 -.8-.6 .6-1.4zM534,177l2.1-1.3 .3,1.2 -1.4,1.5 -1.3,.4zM491,244l.3,2 -1.7,.9 -1.1-1.5 .4-1.9zM482,254l-1.8-1.8 .2-2.4 1.8-.7 .6,2.5zM566,202l1.6,.5 .3,1.7 -2.4,1.1 -1.4-1.4zM568,199l-.8-1.1 1.6-1.1 1.8,.3 -1,1.4zM545,209l-.7,1.2 -1.5,1.1 -.5-1.4 1.1-1.2z" fill="#e8601d"/>
<path d="M410,113l2.5,.7 -2.4,3 -2.5,.6 0-1.8zM409,122l.9,2.4 -2.8,3.4 -1.2-1.1 .6-2.7zM406,108l1.8-.3 -.7,2.1 -1.8,.6 -1.4-1.2zM430,119l-2-.1 1.3-2.7 2.7-1.4 .7,1.2zM415,137l-.2-2.1 1-.3 1.1,1.1 -.3,1.8zM419,121l-1.5-1.5 2.1-1.8 1.8,.6 -.2,2.4zM427,128l0-2.5 .9-.3 .8,1.6 -.4,1.5zM398,121l-2.1,1 -.7-1.5 2.3-1.8 1.4,.3zM426,114l-.2-1.8 2.1-1.8 1.8,1.2 -.9,2zM410,116l2.3-2.6 2.1,1.1 -1.9,2.4 -2.3,.7zM408,126l1-.9 1.1,.1 -.4,1.3 -1.1,.5zM402,116l2.7-1.2 -.8,2.4 -2.7,1.5 -1.4-.6zM405,128l-1.4,2 -1.4,0 1.3-2.5 1.8-.7zM393,122l-1.3,1.1 -.9-1.1 1.9-1.4 1.4,.1zM418,104l2,.4 -.9,2.3 -2.8,.9 -1.4-1.2zM411,131l.6,2.1 -1.2,1 -.8-1.8 .6-2.1zM551,108l-.4-2.8 .7-1.6 1.5,1.5 -.3,2.5zM566,100l1.8,.4 -.2,1.6 -1.1,.3 -1-1.6zM552,123l-1.7,.4 -.7-1.6 1.3-.7 1,.7zM570,128l-1.3-2 2.2-1.4 1.9,1.8 -1,2.4zM574,112l.8,1.2 -.4,1.1 -1.2-.2 -.4-1.9zM566,115l-.5-.7 .3-1.1 .7,.9 .2,1.3zM579,120l1.4,2 -.4,3.1 -2.2-.4 -.6-3.4zM547,121l-.2,1.9 -.8,.4 -.2-.9 .7-1.5zM571,116l.7-2.5 1.9,1.3 .3,2.6 -1.3,1.7zM541,110l-1.7-2.1 1.7-2.2 2.4-.1 -.4,2.9zM547,106l-1.6,2.5 -2.3-.9 .6-2.7 2.2-1.4zM577,122l1.4,2.3 -.9,2 -1.6-.6 .2-2.2zM600,125l-3.2,1 -.5-1.8 2.6-1.5 2.5,.6zM585,123l-1.6,1.3 -1.5-1.6 .3-2 2-.2zM603,128l2.4-.1 .7,1.7 -1.7,1.3 -2.5-.6zM599,110l1.8-.6 1.7,2.4 -1.2,1.8 -2.7-1.6zM397,146l-.4-2.7 1.6-3 2.1,.2 -1.2,2.9zM458,211l-1.2-1.3 .3-1.9 2.6,.6 .4,2zM431,179l1.3,.7 -.1,3 -1.1,1 -.9-1.6zM467,195l-1.7,.4 -1.4-.7 .9-1.2 1.3,0zM439,213l.9,1.4 -1,1.3 -1.7-.1 0-1.4zM455,180l2.5,2.3 -1.1,2.4 -2.9-.3 -.4-2.7zM468,203l0,1 -.9,1 -1.8-.6 .6-1.5zM457,203l-1.3-1.2 .6-.7 1.5,.7 .4,1.1zM436,214l-.8,3 -3,2.7 -.3-1.8 1.5-2.5zM438,216l-1.9-1.1 1.8-1.7 2.5,.2 -.6,1.7zM455,187l-1.7-1.7 0-1.3 1.9,.5 1.2,1.7zM430,196l1.3-.4 .4,1.5 -.8,1.1 -.5-.4zM423,191l.4,3.2 -1.9,1.9 -.9-2 .5-2.2zM424,194l-.8-2.5 1.9-2.7 1.8,1.2 -.5,3.7zM440,202l3.1,1.9 .5,1.8 -2.4-.4 -1.9-2zM450,197l.5,1 -1.4,.5 -1.1-1.3 .7-1.1zM421,211l-.9-2.1 1.3-2.7 1.6-.4 -.7,4zM434,180l.7-.8 .6,.8 -.2,1.3 -.7-.2zM447,199l-.3,1.5 -2.7-1.6 -.1-1.5 1.7,.1zM435,180l1-2.6 2.2,1.8 .1,2.6 -2.4,.5zM476,204l1.1-.1 -.3,1 -1.2,.7 -.4-.8zM472,198l2.8,.1 .7,2 -1.4,1.5 -2.5-1.9zM540,139l1.4-2.3 1.6,.2 -.5,2 -2.3,1.6zM549,145l-1,2.3 -2.5,.5 -.1-2.4 1.5-1.8zM539,152l-1.9,.6 -1-.8 1.5-1.5 1.2,.2zM547,135l-1.4,2.4 -.2-1.4 .7-2.2 1.4-.5zM538,138l1.7,.6 -1.4,1.6 -1.9-.2 .4-1.8zM558,196l1.6-1.4 1.8-.2 .2,.9 -2,.7zM534,180l-.6-1.4 1.1-1.3 1.5,.1 -.4,1.9zM567,173l2.3,0 1.2,.8 -1.9,.7 -1.9-.6zM582,166l.2,1.3 -1.4,.9 -1.3-1 .2-1.4zM578,168l1.2-.8 1,.6 -.6,1.1 -1.2-.3zM569,176l.6,1.2 -2,.8 -1.8-1 1.1-1zM561,183l-3.1-.5 -.9-1.2 3.3-.6 2.3,.6zM572,182l1.2,.1 1.3,.2 -.5,.6 -1.3-.1zM568,162l-.6-1.4 1-1.1 1.4,.8 -.3,1.7zM556,192l1.6,.9 -.4,1.1 -1,.4 -.7-.8zM552,156l-.1,1.4 -1.6,.2 -.5-1.7 1.6-1zM565,179l-2.4-1.6 3.1-1.2 3.9,.4 -1,1.9zM551,168l-.2,.6 -1.3,.3 -.9-.5 1.2-.7zM548,170l-1.1-.3 -.2-1.1 1.2-.3 .9,.6zM571,175l1.9,.5 -.3,2.1 -1.7,.3 -1.4-1.3zM552,199l-.6-2.1 1.9-2.3 3.4,.3 -1.7,2.4zM556,174l2.8-1.2 3.5,.7 -1.4,1.7 -2.9,.9zM541,169l-1.5,1.6 -1.2,0 .7-1.4 1.6-1.1zM549,174l-1.7,.1 -.2-.8 1-.8 1.2,.2zM549,166l1.3-1.2 1.6-.1 -.4,1.4 -1.9,.4zM566,186l-1,1.6 -2.2-.9 -.6-2.2 3.4-.9zM599,161l-.2-.9 1.8-1.1 2.1,.7 -1.2,1.2zM571,202l1.8,.4 .3,1.6 -2.1,1 -1.4-1.2zM568,199l1.7-1.8 3.5-.4 -1.2,1.8 -3.1,1.4zM506,212l-.8,2.8 -.8-.5 -.3-1.9 .8-1zM498,225l-.3,3.1 -2-.2 -1.1-2.3 1.7-2.6zM482,235l-1,1.1 -1.2-1.7 .5-2.4 1.8,.6zM482,224l.9-1.8 1.2-.3 .4,1.5 -1,.8zM492,221l-.7,1.9 -1.5-.5 0-1.9 1.2-.9zM485,215l-.6-2.3 1.7-2.6 1.9,1.3 -1.1,3.1zM481,232l-.9,3.3 -2.4,.1 0-3.5 1.8-1.3zM482,226l2.5-.9 .5,2.7 -1.7,2.2 -1.6-1.9zM474,228l-1.7-1 .3-2 2.1-.3 .6,2zM495,217l.6-1.8 1.1,.2 .4,1.5 -1.5,.9zM476,219l1.6-1 1.2,1.7 -1.5,1.6 -1.8-.3zM502,226l1.3,.6 .5,2.9 -1.2,2.2 -1.1-2zM502,211l.4-1.2 1.5-.3 .1,2.1 -1.3,1.1zM505,216l-1.6,.4 -.1-2.8 1.1-1.3 1.2,1.1zM509,230l-1.5,1.7 -1.2-1.1 .2-2 1.4-.5zM476,223l.4-1.3 .9-.7 .6,.5 -.8,1.5zM487,220l-1.2,1.2 -1.1-1.1 .8-2.6 1.6,.2zM499,227l.1-2.7 1.4-1.5 1.3,1.9 -.9,2.3zM508,218l.6-1.8 1.5,1 -.2,3.6 -1.7,.2zM458,214l-1.5,1 -2.3-.3 -1.4-1.5 2.3-.5zM458,214l.9,2.3 -2.8,.7 -2.6-1.5 1.6-1.5zM568,183l-1-1.2 2-.7 .8,1.1 -.8,.9zM551,195l1.6,.1 -.4,1.3 -2.2,.5 0-1.3zM565,177l3.2-.1 1,1 -1.3,1.1 -2.2-.7zM549,184l2,1.1 -2.2,1.9 -3,.6 -.1-1.9zM558,188l2.6-.7 -.3,1.5 -2.2,.8 -1.9-.5zM547,183l-1.1-.2 .8-1 1.8-.3 -.1,1.2zM549,191l-.8,1.5 -2,1.3 -1.4-.6 1.5-1.5zM501,243l.9-1.6 2,2.1 -.8,2.9 -1.9,.1zM500,230l-.7,2.2 -2.3-1 .5-2.5 2.1-.7zM489,230l-.6-2.7 1.5-1.1 1,1.5 -.6,2.1zM491,226l-.1-.2 .4-1.1 .7,.2 .1,1.3zM497,226l-.9-.6 .5-1.4 .7,.1 .1,1.4zM499,225l-.9,1.1 -.7-1.1 .6-1.3 .8,.1zM492,248l.6-.6 1,.7 -.3,1.2 -1-.1zM494,254l.3,1.1 -1.2,.7 -.9-1.3 .5-1.1zM469,203l1.1-.3 1,.8 -.5,1.1 -1.5-.2zM462,223l2.5,.7 -.7,1.9 -2,.8 -1.1-1.9zM482,228l0,3.6 -1.3,1 -.5-2.2 .8-2.5zM479,226l1.1,.7 .2,2 -1.3,.8 -.9-1zM481,206l1.2-3.6 2.1,.1 0,2.4 -2,2.4zM473,206l2.2,0 .5,1.6 -1.2,1.1 -1.6-.8zM478,223l.5,2.1 -1.2,3 -.9-1.8 .4-2.8zM479,206l-.4,3.5 -3.9,2.9 -1.9-.8 1.9-3.7zM436,178l1,1.4 -.3,2.2 -1-1.1 -.4-2.2zM436,174l-.1,1.5 -1.8-.6 -.6-1.8 1.6-1.3zM431,179l2.5-2.2 1.9,2.8 -1.4,3.9 -2-.6zM431,171l-.8-1.8 1.3-1.4 1.3,.5 .1,2zM563,164l-3.9,2.4 -4.3,.2 .8-2.2 5-1.8zM565,163l-.1-2.2 4.6-2 2.5,1.4 -2.3,2.2zM570,159l2.8,.1 -1.3,1.6 -2.7,.2 -.8-.8zM595,162l4.6-1 2.5,1.7 -3.5,1.2 -3.7-.6zM607,152l-.6,2 -2.2,1.6 -2.2-.7 1.3-1.9zM594,151l3.5-.8 1.7,1 -2.7,1.9 -3.1,.2zM551,147l1.5,1.1 -2.3,3.7 -2.8,1.1 1.5-4zM557,149l-2-1.4 1.6-5.2 2.4,.7 -.1,3.6zM552,138l.6-3.5 3.1-2 1.9,3.2 -1.8,3.1zM545,135l2.9-3.2 1.5,1.3 -1.5,3.4 -2,1.4zM548,147l2.9-3.3 1.5,.5 -1.3,4 -2.8,2zM551,142l2.3-1.9 1.2,2 -2.4,4.2 -1.6-.7zM411,116l1.2,.1 -.3,1.4 -1.5,.8 -.8-1.1zM423,116l2.1,1.6 -1.9,4.5 -3.2,1.2 -.5-2.9zM406,121l2.8-2.4 1.7,.4 -1.4,2.4 -2.7,1.8zM411,121l-3.4-.4 1-3.3 3.4-1.2 1,2.7zM418,123l-1.2,2.1 -1.3,0 .4-2.3 1.6-1.9zM595,111l2.2-1 1.9,1.8 -.7,1.9 -2.7-.2zM609,118l2.5-2.3 2.2,.8 -.2,2.2 -3.6,.5zM606,122l.5,1.9 -2.2,1 -1.6-1.4 1.3-2.1zM592,120l.2,1.7 -1.7,.1 -1.5-2.1 1-1.1zM582,116l-.8-3.1 .9-.8 1.7,2.3 .2,2.2zM608,122l-1.8-.9 1.5-1.8 1.8-.1 1,1.3zM604,121l0,1.9 -1.9,.3 -1-1.2 1.3-1.4z" fill="#f07a1d"/>
<path d="M479,68l1-1.7 1.2,.5 -1,1.9 -1.8,1zM476,71l-.2-1.4 1.4-2.2 1.7-.5 -.3,2zM476,84l.3-1 .8-.5 .6,.4 -.3,1.2zM481,77l1.6-.2 -.4,2.2 -1.5,1.1 -.7-1.2zM502,114l-.4,2.2 -.8-.8 -.1-1.7 .7-.9zM545,93l-1.2,.8 -2.3-1.3 -.6-2.5 2.2,.7zM633,122l-3.4,1.2 -1-1.1 2.8-1.7 2.1,0zM633,126l2.2-1.4 .7,1.3 -1.6,1.5 -1.9-.2zM635,125l-1.7,.9 -1.7-.7 .5-1.9 2.3-.4zM523,138l-.7,.8 -1.9,.2 .3-1.1 2-.7zM526,129l-1.2-1.9 1.7-1.2 2.1,.1 -.6,2.1zM542,141l-1.5-.7 .5-1.3 1.3-.3 .1,1zM586,88l-.1-.9 .3-.5 .4,.4 .1,.6zM413,176l-1.2,2.3 -1-.9 .1-2.4 1.8-.8zM435,166l1,1.5 -.4,1.2 -.8-.7 -.2-2.1zM421,181l-.4,1.5 -.8-.1 -.1-1.2 .8-.8zM432,170l.6,.9 0,2.1 -1.4-.5 -.5-1.4zM431,173l-.9,.1 .1-2.9 1-2 .9,2.2zM418,160l-.1,1.7 -.8,.1 -.6-1.4 .8-1.5zM432,179l-.7,.5 -.9-1.3 .9-2.1 1.4,.7zM476,183l-2.1-.3 -2.5-1.8 .6-1.2 2.9,1.4zM474,158l1,.9 -.1,1.1 -1,0 -.6-1.1zM462,169l-.5-1.8 .7-.7 1.4,1 .2,1.3zM473,174l-1.6,.4 -2-1.5 -.6-2 2.7,1.2zM477,172l-.6,.9 -.8-.5 .2-.8 .9-.1zM431,148l.6,.4 .4,.8 -.4,.7 -.7-.5zM562,147l-1,1.9 -.7,.7 -.2-1.1 .7-1.7zM571,143l.8,1.1 -1.5,2.4 -1.2-.5 .7-2.2zM563,147l.4-1 1-1.5 .2,1.5 -.6,1.7zM575,142l1.5-.5 0,1.5 -1,1.2 -1.2,0zM578,145l.4-1.8 2.3-1.3 .2,1.5 -1.6,1.9zM579,150l.7-.5 -.1,1.1 -1.8,1.1 -.3-.9zM591,138l-1-.7 .4-1.3 1.6-.7 .2,.9zM595,136l.8-.1 -.6,1.2 -1.5,.8 -1.1-.4zM604,138l1-1.4 2.1-.2 .4,2 -1.7,1.4zM597,137l.7,.5 -.6,1.2 -1.2-.3 .1-.9zM482,249l-1.3-.2 -.2-.9 .8-.7 .7,.8zM483,251l-1-.2 -.3-1.2 .5-.7 .6,1.2zM498,246l1.2,.7 -.2,2 -1.9,.2 -.2-2.3zM496,247l-.8,1.8 -1.4-2.5 .2-2.2 1.4,.2zM417,229l1.6-1.6 1.2,.3 -.7,1.7 -1.6,.5zM420,232l-1.3,.1 -.3-1.3 1.4-.9 .7,.8zM461,232l-1.1-1.5 .7-1.5 1.8,.6 0,1.7zM455,230l2,1 -.5,2.3 -2.3-.2 -1-1.7zM427,267l-1.1-.5 .5-1.6 1.2-.4 .1,1.4zM423,263l1.9-1.4 .8,.9 -1,1.4 -1.3,.3zM501,261l-.1-1 .7,0 .2,.7 -.6,.3zM577,202l-2.7,.6 -.6-1.3 2-1 2,0zM565,209l1.9-1.4 1.8,1.1 -1.1,1.9 -2.3,.9z" fill="#f0801d"/>
<path d="M439,119l1.2,2.9 -1.3,0 -1.6-2.9 .7-1.7zM410,124l-1.2-1.1 1-1.7 2-.4 .1,2.1zM402,124l-1.3,2.1 -2.8,1.1 .8-2.5 2.5-2.7zM424,118l1.8-1.3 1.6,1.3 -.6,1.9 -1.9,.1zM392,123l-.8-.9 .9-2.1 2.6-.4 0,2.4zM421,116l-1.5,2.2 -2.6,.3 -.4-2.5 2.6-1zM394,121l.2-1.4 1.4,.2 -.4,1.4 -1.2,.5zM411,119l.6,1.1 -.9,1 -1.1-.6 0-1.4zM406,134l-.8,1.5 -1.1,.5 -.4-1 .6-1.4zM402,126l-2.4,1.1 -2.1-1.2 1.5-2.9 2.8,.1zM413,133l-1.5-1.2 .6-2.4 1.4,.1 .2,2.5zM438,131l-1.3-3.3 1.3-1.1 1.2,1.7 -.1,2.8zM385,138l-.7,1.8 -2.3,.4 -.6-1.6 2.7-2zM546,90l.8,1.2 .1,1 -1-.2 -1-1.5zM541,92l1.5-.4 1.6,1.4 0,1.9 -2.2-.9zM544,90l.4-.5 1.3,.7 .2,1.1 -.7,.4zM551,90l-2.1-2.1 1.9-.1 2,2 .2,2.3zM550,101l-1.9-.9 .6-2.2 2-.4 1,2zM536,112l2.7-2.5 .7,2 -1.6,2 -2,.1zM564,113l-1.5-.2 -.6-2.2 1.8-.9 1.9,1.5zM534,116l.4-1.4 1.1-.1 .5,.7 -1.2,.8zM543,115l-1.8,2.6 -2.1,.7 .7-2.9 3-2.5zM556,130l.8-2.2 .8,.6 -.2,2.2 -.9,.7zM553,113l.6-2.8 1.4,.1 .4,2.8 -.7,1.4zM553,111l1.3,1.3 -.4,1.8 -2,.1 -.4-2.3zM566,115l.5-.7 1.1,2 -.1,2.5 -1.2-.8zM602,127l2.8-.6 1.1,1.2 -2.3,1.5 -2.6,.1zM589,115l2.6,1 .8,2.1 -2,.7 -1.8-1.5zM594,129l-2.7-1 1.1-2.7 3.1-.3 .6,2.4zM615,116l-1.4,2.6 -3.1,.6 -2-1.4 2.7-2.4zM579,119l2.9,0 1.3,2.3 -2.3,1.4 -2.5-1.3zM588,129l-1.9,1.7 -1-1.3 1.4-1.7 1.8-.3zM595,112l.1,1.9 -1.4,0 -1.3-1.3 1.1-.9zM611,119l1.5,.3 .1,1.4 -1.4,1.1 -1.2-1zM602,107l2.1,.8 .8,1.9 -1.6,.3 -1.5-1.6zM593,129l1-1.2 1.2-.1 0,.9 -1.4,.6zM588,123l-.9-.3 -.2-1.3 .5-.5 .6,1.4zM601,124l-1.4,1.8 -2-1 .9-1.7 2.3-.4zM588,128l-1.9,.9 -1.8-.4 1.3-2.7 2.1-.5zM628,127l-3.2,1.7 .5-1.8 2.4-1.4 2,.2zM627,132l1.2-1.2 1.3,.1 -.6,1.1 -1.2,.6zM629,126l3.3-1.5 .1,1.5 -1.8,1.3 -1.7-.2zM524,136l.1-1.2 1.6-1.1 1.5,.2 -1.1,1zM532,132l1.7,1 -.9,1.6 -1.8,.2 0-1.8zM541,138l.6,.8 -.5,1.1 -1.5,.7 0-1zM386,136l2.2-1.4 1.8,.8 -2.2,2.2 -2.5,.9zM383,142l-1.2-1.4 -.1-1.5 1.8-.7 .6,1.4zM419,181l2.4-1.9 1.3,1.6 -1.3,3.3 -2,.6zM432,162l-.4-1 -.1-1.1 .8,0 .6,1zM415,162l.9-1.3 .3,2.4 -.9,1.9 -.8-.6zM417,179l1.4-1.6 .8,2 -.7,2.6 -2.2-.7zM436,193l-.3,0 -.7-1.2 .5-1.7 .9,1.1zM446,204l1.4,.7 .2,.9 -1.4-.2 -.7-.9zM423,194l1.9,1.1 -.8,1.5 -1.5,.7 -.2-1.8zM440,201l1-.5 1.3,.4 -.2,1.5 -1.4-.2zM437,200l-1.4-2.4 .3-2.3 1.7,.4 .5,2.4zM456,212l1.1,2 -2.8-.2 -1.2-1.4 .8-1.2zM429,182l-1-2.2 1.2-1.2 1.2,.4 -.4,2.8zM458,181l1.4-.5 2,1.7 -.1,1.1 -1.8,.1zM461,209l-.5-1.9 3.2,.1 1.5,1.8 -1.3,1.1zM431,202l-.2,3.2 -1.4,2.3 -1.7-.2 1.2-3.9zM442,199l.1,2.4 -2.5-.4 -1.4-2.1 2.1-1.1zM440,194l1.5-.5 1.2,1 -.5,1.4 -1.4-.5zM439,178l-1.5,.1 -1.1-2.7 .6-1.8 1.4,2.3zM445,180l1,.3 .8,1.3 -.7,.1 -1.4-1.1zM439,177l-.8,.4 -.8-1 .3-.9 .9-.2zM439,185l1.2-.5 .9,1.9 -.9,.6 -1.2-1.2zM444,217l-.4,.9 -1.7-.1 .2-1.5 1.3-.3zM470,191l-2-.6 -.8-1.5 1.8,.3 1.5,1.1zM426,196l.7-3.3 1.7-1 .6,2.8 -1.6,2.5zM444,213l.2-1.2 .9-.2 .9,.7 -.7,.8zM438,179l1.9,1.7 -1.1,1.5 -1.5-1.2 -.4-2.4zM475,181l-.3,2.3 -1.8,.3 -1.4-1.4 1.2-1.8zM478,209l.5,1 -1.2,1.7 -1.1,0 .4-1.6zM473,205l-2.1-2.4 1.6-1.3 3.2,1 -.1,1.9zM482,215l-.8-2 2-2.1 1.8,.7 -.6,3zM491,179l-.5,1.7 -3.8-1.9 -.4-2.1 2.2-.6zM535,134l.8,.3 .7,.9 -1.4,.9 -.7-.7zM524,136l-.1,.6 -1.6,.9 -1.1-.3 .4-1zM531,132l2.3-2.1 2.3-.4 -.4,1.6 -2.4,1.8zM529,134l.8-1 1.4,.3 .2,1.5 -1.7,.6zM538,144l1-2 1.8-.7 .4,1.3 -1.8,1.6zM548,143l-.6-.7 .5-1.5 1.1,0 .3,1zM539,150l-2.6,1.4 -1.2-1.3 2.6-2.2 2.1,.1zM567,150l-1.9,2.6 -1.5-.3 .8-2.6 1.8-1.2zM562,142l.7-1.5 1,.3 0,1.9 -1.2,.9zM535,184l1.9-1.8 .6,1.1 -1.7,2 -1,0zM553,171l2-.3 .2,1.9 -1.8,.9 -1.5-1.3zM535,173l-.4,2.5 -2.2,.1 -.9-2 1.9-1.9zM577,180l-2-.2 -.3-2.2 2.4-.7 1.3,1.7zM573,192l-.5,1 -1.1-.7 .5-1 1,0zM569,178l1.3,1 -1.3,1.2 -2.4,.2 0-1.7zM548,164l.2-1.5 2.8-1.7 1,1.5 -2,2.3zM557,167l.2,2 -2.6-.2 -1-2 2-1.1zM556,159l-2.3-2.2 1.4-2.3 2.5,.1 .4,2.5zM583,179l-1.8-.6 .4-.9 1.7,.1 1.3,.9zM569,193l-1.3,.2 -1-.5 1.5-.8 1.1,.4zM557,166l-2.4,.8 -.6-1 2.3-1 1.5,.5zM555,180l-1-1.8 1.7-1 2.1,.3 -.7,1.3zM561,170l2-1.1 2.3,.4 .5,1.4 -3,.4zM562,190l-1.7-.9 .9-1.2 2.1-.4 .1,1.5zM600,151l-1.9,1.5 -3.2,.7 .4-1.8 2.7-1zM593,161l3.4,.5 -.9,1.7 -3.7,.6 -1-1.9zM598,142l-1.2-.1 .5-1 1-.3 .3,.7zM539,207l-.2,.7 -1.1-.3 -.1-1.4 1-.4zM482,226l.1,2.3 -1.6,.3 -1.2-1.7 1.5-2.2zM465,227l.8,.7 -1.4,1 -2.1,.2 .7-1.2zM490,232l.2-1.5 1,0 .3,1.2 -.7,1.1zM516,223l-.1,.7 -1-.9 -.2-1.5 .9-.3zM483,223l.7,2.2 -.8,1.5 -.8-.3 .1-2zM508,224l.3,2.5 -.9,2 -1.7-1.1 0-2.4zM483,238l.7,.3 .4,1.5 -.7,1 -1-.8zM490,238l-1.9,.7 -1.3-2.2 1.8-1.4 1.5,.9zM496,215l-2.1,1.5 -2.2-.7 .4-2.9 2.5-.5zM493,229l-.1-1.4 1.1-.7 .6,1.5 -.7,1.2zM488,223l-.5-2.2 1.5-1.5 .8,.9 -.6,2.2zM505,234l.5,2.6 -1.6,.5 -1.3-1.4 .8-2.2zM475,238l-.6-1 .7-1.2 1.2,.4 -.4,2zM481,238l.8,4.2 -1.7,1.7 -1.4-2.3 .7-3.3zM478,217l.1,.7 -.5,1.7 -.9-.1 -.2-1.1zM497,255l-.3-1.5 .8-1 1.3,1.3 0,1.8zM490,240l1.3,.3 .5,2.6 -1.3,.4 -1.3-1.9zM493,244l-1,1.2 -1.2-1.4 -.2-2.7 1.4,.1zM447,221l3.3-1.1 3,1.1 -.9,1.7 -3,.1zM414,234l.1-.9 .7-.7 .8,.4 -.2,.9zM568,175l1.3-.5 1.4,.3 -.4,.7 -1,0zM575,193l.1-1.1 1.6-.5 1.3,.9 -.8,1.2zM577,190l-.4-1.4 2.3-.5 2,1.2 -.9,1.5zM562,178l2,1.2 -1.8,2 -2.4-.5 .1-2.1zM561,183l1.1,1.6 -1.1,1.9 -2.7-.4 0-2.6zM542,191l-1.1-.8 1.5-1.4 1.4,.2 -.1,1.3zM549,182l-.1-2 1.9-.9 1.3,.7 -.7,1.3zM558,192l.4-.7 1.5-.3 .5,.7 -1,.9zM560,189l-1.9-.4 1.5-1.5 2.5,.1 .4,1.3zM571,173l2.4,.9 -.5,1.4 -2.3-.3 -1.2-1.2zM571,197l-1-.8 .4-1.2 2.7-.5 -.2,1.3zM551,192l-2.5,1 -.5-1.1 2.3-1.4 1.7,.4zM586,183l-1.1-.2 -1-1 .4-1.2 1.9,.5zM563,187l-2.3,.7 -1.5-1.1 1.4-1.5 2.5,.1zM570,202l-2.1-.3 1.1-1.7 2.2-.8 .4,1.5zM507,230l-1.1-1.2 .1-1.5 .9-.4 .1,1.7zM506,234l.3,1.4 -.7,.7 -.6-1.1 .5-1.2zM508,244l.1-2.6 2.3-.4 1.7,1.9 -2.1,1.7zM503,243l1.4-.8 1,3.1 -.9,2 -1.3-1.5zM500,241l.9,.1 .4,1.4 -.4,.7 -.6-.7zM501,238l.1,2.2 -2.3,.2 -1.7-1.6 1.7-1.9zM499,228l-1-1.6 .8-2.6 1.7-.1 -.4,3.2zM511,237l.5-.3 .6,.7 -1,1.2 -.8-.4zM509,228l-.8-2.9 1.5-2.2 1.3,2.2 .3,4.1zM508,228l-1.8-1.2 .5-3 1.4,0 .9,2.5zM546,210l.3-1.4 1.2-.4 0,.6 -.8,.7zM546,210l-1.7,0 1.4-1.6 1.8-.5 .4,1.6zM565,210l-2.3,1 -.6-1.2 1.9-2.1 1.6,.3zM468,197l1.1,1.5 -1,.6 -2-.9 0-1.1zM472,216l3.6-1.4 2.7,1.3 -1.8,3.6 -3.4,.6zM469,215l-2.1-.4 -1-.9 1.1-.9 1.7,.8zM479,203l-1.4-2.4 .2-3.5 1.8,1.5 .2,3.2zM483,214l-.6-2.3 1.4-1.4 2,.5 -.9,2.4zM460,211l-1.4-1.9 2.4-.4 2.5,1.3 -.8,1.4zM480,214l-1.8-.3 1.2-3.4 2.2-1.2 -.2,2.5zM482,216l-3.4-1.8 -.8-3.7 3.9-1.4 2.1,3.1zM474,200l.2-1.4 2,1.1 .3,1.7 -1.8,.2zM439,187l-2-3 1-2.5 2.7,2.8 1,4zM439,177l3.1,2.1 1.3,4.2 -2.1,.8 -3.3-2.9zM431,179l-2,2.2 -.6-4.5 1.3-4.3 2.2,.8zM432,180l1.1-2.1 1.6,.9 0,3.5 -2,1.2zM433,173l2.1-1.4 1.5,4 -1.3,3.1 -2.2-.8zM571,167l1,2.5 -3.5,1.4 -3.8-1.4 2.5-2.2zM562,164l2.7,1.7 -4.2,2.2 -4.9-.3 1.8-2.4zM573,175l-2.9,2.1 -4.6-1.5 .9-3 4.1,.3zM562,164l-1.2-1.3 1-1.1 2.6-.7 .2,1.3zM597,158l1.5-2.1 3.4-1.4 2.4,.9 -2.1,2.2zM601,158l.2-.9 1.5-.7 1.2,.7 -.9,1.1zM551,137l2.2-1.8 1.3,3 -2.7,4.7 -2.1-1zM409,127l-2.4-1.6 2.9-3.5 2.9-.6 .3,3.4zM429,117l0,2.1 -2,.5 -.7-1.7 1.7-1.5zM409,117l.2,2.3 -2.7,1.6 -1.5-.7 2.1-3.1zM410,117l3-1.7 1,1.2 -2.3,2.7 -2-.2zM424,123l1.3-1.5 1.4,1.3 -.3,2.1 -2.4,0zM602,116l-2.9-3.6 4.1-.5 3.7,2.4 -.5,2.3zM606,118l3.3,.1 -.5,2.9 -3.2,1.3 -1.4-2.3zM591,126l-2.5,1.9 -1-1.6 1.8-2.3 2.5-.5z" fill="#f59a1d"/>
<path d="M413,131l0,2.3 -1,0 -.4-2 .6-1.2zM433,109l2.6,.5 -.9,1.3 -1.9,.5 -.6-.9zM413,116l-.5,1.1 -1.2,0 -1.1-.9 1.3-.9zM406,111l-3.3,1.2 -.4-1.4 1.8-2 2.7-.8zM435,117l.9-1.9 2.5-.1 .2,2.6 -1.9,.8zM414,109l-2.3,.5 -1.2-1.9 2.5-1.6 1.8,1.1zM427,122l0-1.6 .8-.9 .3,1.1 -.4,1.3zM426,132l-1.2-.7 -.4-1.7 .5-.8 1,1.3zM400,121l1.9-.7 .2,2.3 -1.7,1.4 -2.2-.4zM441,123l-.4,1.9 -1.4,.2 -.3-2.4 1-1.3zM560,96l.5-1.7 1.8,1.5 .8,2.9 -1.6-.2zM555,95l.6-.4 1.2,2.1 0,1.7 -1.6-.6zM552,101l1.7,1.6 0,1.9 -1.4,.6 -1.3-2.4zM551,113l1.8,.3 .4,2.2 -.8,1.5 -1.1-1.3zM547,123l.5-1.4 .6,.1 .1,1.1 -.7,.9zM535,115l-.4-2 1.8-1.2 1,1 -.5,1.5zM535,122l2.2,.2 0,2.1 -2.5,.8 -1.5-1.2zM583,120l-.4-1.9 1.1-.3 .9,1.6 -.5,1zM567,112l2.1,1.6 .3,3 -2,.6 -.7-2.6zM574,124l.7-.5 .2,1.9 -.7,.5 -.6-.7zM580,121l1.5-1.2 1.1,2.4 -.5,2.4 -1.4-1.4zM573,105l-.4,1.5 -1,.1 -.4-1.4 .5-.8zM568,121l-.2-1.9 .8-1 .7,1.4 -.2,1.6zM547,126l.9,.3 -.5,2.2 -1.6,1 -.6-2.2zM577,121l-.9-2.9 1.1-1.1 1.6,2 -.2,2.9zM552,114l.7,1 -.3,2.8 -1.2-.3 -.4-2.2zM540,125l-.4-3.1 2.4-2.4 1.8,1.2 -1.2,2.6zM584,117l1.4-1.1 1.5,2.1 -.1,1.6 -1.8-.3zM606,122l1.4,1.6 -1.7,2.1 -3,.3 -.2-2zM608,115l-.6-.5 2.1-.5 .8,.8 -1,.8zM588,126l1.1-1.8 1.8-.4 -.4,1.4 -1.3,1zM610,121l.1,.5 -1.3,.9 -1.9,.1 .9-1.2zM594,109l.7-.2 .3,1.2 -.9,.5 -.8-.7zM385,140l.2,1.2 -1.7,1 -1-1.4 1.5-1.7zM398,143l-1,.7 -.2-1.3 1.1-1.2 1.4,.2zM393,144l-2.1,1.3 .1-1.6 1.7-1.9 1.3,.4zM422,192l-1.1-1.5 .9-2 1.9,.5 .1,2.3zM448,206l-1.9,.4 -3.5-1.9 1-1.4 3.3,.9zM459,186l.9,.9 -.7,.9 -1.2-.7 .1-1.2zM430,208l1.4,.1 .1,1.5 -.8,1.4 -.9-.6zM457,194l.8,1.7 -1,1 -2-1.5 -.3-1.6zM460,196l-2.1-.3 -.6-1.5 1.3-.5 1.8,1.1zM455,212l-1.4-.6 -.6-.9 1.4,0 .8,.7zM436,201l1.1,.8 -.2,1.6 -1.1-.7 -.5-1.4zM435,176l.5-1.5 1.5,1.2 -.3,2.4 -1.4,.5zM431,217l-.6-1.4 1.5-1.4 .6,.9 -.8,2zM464,206l.2-1.5 3.1,.5 2.1,2.1 -3.2,.1zM439,212l-2.1-1.4 .4-1.3 2.6,.9 .6,1.6zM442,194l.7-1.3 1.5,.8 .2,1.2 -1.2,.5zM460,191l-.9-1 -.1-1 1.1,.1 1.1,.8zM466,210l-.9-1 .5-.8 1.2,.4 .3,1zM472,215l-1.4,.2 -1.3-.1 .3-.7 1.1-.4zM477,215l-.3-1.2 1.3-.7 .8,1.2 -1,1zM475,198l.1,1.5 -1.8-.4 -.7-1.1 .9-.2zM490,181l1,1.8 -.4,1 -1.9-.5 0-1.4zM535,140l1.1-1.2 1.7-.4 -.3,1.5 -1.5,.7zM549,149l-1.2,.7 .2-1.7 1.3-1.8 .7,1zM551,185l1.7-.9 1.2,.5 -.9,1 -1.7,.1zM567,179l-2.2,.4 -.3-.9 1.5-.4 1.7,.3zM579,181l-1.1,.4 -1.5-.6 .2-1.3 1.6,0zM541,184l-2.5,1.1 -.3-1.9 2.7-2 1.1,.8zM548,173l3.4-1.7 1.2,1.1 -1.2,1.6 -3.2,.1zM541,186l1.7-1.1 1.1,.7 -.4,1.6 -1.6-.1zM579,176l2,1.3 -2.5,1 -2.8-1.1 -.9-1.9zM569,177l-1.3,.1 -1.1-.6 1-.7 1.4,.3zM539,186l.1,1.5 -2.2,2.2 -1.2-.4 .8-2.6zM545,179l2.4,.2 .5,2 -2.5,1.6 -1.3-1.7zM545,164l-2.3,2.2 -1.4-.9 2.2-2.5 2.5-.4zM563,160l-1.9-.3 -.4-1.8 3-1.2 1.7,1.1zM556,174l-.8,1.4 -1.6-.3 .1-1.5 1.7-.5zM546,191l1.8-.4 1.1,.6 -1.3,1.4 -1.8-.1zM570,179l-2.2,.7 -1.2-.9 1.1-1 2.7,.5zM597,163l-2.1-1 1.1-1.5 2.6,0 1.1,1.9zM573,206l1.9-.7 -.9,2.1 -2.2,.9 -1-.8zM571,200l-1.5,2 -3.1,.5 -.4-1.8 2.4-1.9zM494,180l2.7,1.7 -.8,1.2 -2.2-.7 -1.3-2.1zM495,188l-2.9-.2 -1.9-3.1 1.8-.7 2.5,2zM500,234l-.4,2.6 -1-1.6 -.2-2.7 1.1,.1zM485,218l.4-1.4 1.2-.8 .2,1.7 -1.1,1.7zM467,228l1.6-1.7 1.6,0 -.5,1.3 -2.4,1.4zM513,220l1.7,1.3 -.2,2.5 -1.9,0 -1.4-2.5zM475,233l-.2,2.6 -1.8,.8 .1-2.6 1.2-2.5zM508,228l1.3-3.5 1.6,1.6 -.3,3.3 -1.2,1zM499,245l-.5-1.5 -.4-1.8 1-.2 .5,1.7zM500,244l-1.4-.4 0-2 1.6-.1 .6,1.7zM498,213l-1.3-.3 .2-1.4 1.2-.3 .7,1zM516,223l.6,2 -1.1-1.1 -.7-1.9 .7-1zM489,221l.8-.9 .4,.8 -.2,1.3 -.7,.5zM474,239l.9-2.8 1.7,1.2 -.3,2.5 -1.8,.9zM506,228l1,.6 -.2,1.8 -1.3,.2 -.6-1.8zM447,217l.3-.9 3.7,.3 1.3,1.8 -3.1,.3zM555,177l1.5,.7 -.5,1.6 -1.9,.2 -.5-1.5zM557,190l-.3,2.4 -3.2,1.2 -2.4-.8 2.8-2zM546,187l2.7-1.3 .5,1.3 -2.2,1.1 -1.8,0zM533,188l1.4-1.4 0,1.5 -.7,1.7 -.8-.4zM553,194l-1.9,.2 .3-1.3 1.9-1.2 1.8,.6zM556,180l-.4,2.5 -2.4-.5 -.7-1.6 2.2-.8zM580,178l-1.1-.8 .3-1.1 1.7-.2 .6,1.3zM589,184l1,1.9 -1.5,1 -1.6-.8 .4-1.8zM572,178l-2.1,.8 -1.9-1 .6-1.3 2.8,.3zM560,178l.6-.9 2.1,.3 -.2,1.5 -2.3,.5zM568,186l.6,1 -.6,1.1 -2-.1 -.4-1.2zM511,215l.8,1.4 -.2,1.8 -1.6,0 -.1-2.1zM515,227l.7,2.3 -1.6,.3 -1.3-3 1-1.7zM498,217l-.2,1.5 -1.4,.1 -.5-1.2 .8-1.2zM489,230l-1.2-3.5 1.5-2.2 1.2,.8 0,3.8zM493,223l-.6,1.4 -.8-.6 0-1.5 1.1-.5z" fill="#f7b21d"/>
<path d="M468,198l-.4,.7 -1.2-.7 0-.9 1.4,.5zM467,213l.7,.3 1,.5 -.6,.8 -1.3-.2zM478,201l.2-1.9 1,.1 .7,2.1 -1.1,1.2zM470,205l-.9-1.2 .4-.9 1,.2 .5,.9zM470,212l.1-2.8 2.4-.1 .9,1.9 -1.5,1.5zM465,218l-1.7,.8 -2.7-.4 -.5-2 3-.5zM480,231l.2-1.9 1.3-.2 .9,1.2 -1,2zM470,231l-1.9,.3 -.9-.7 .6-1.4 1.6-.1zM485,204l-2.3,2.9 -1-.7 .5-2.4 1.7-1.4zM480,216l.8,.6 .2,1.1 -1.1,.4 -.5-.8zM481,211l.4,.5 -1.4,1.7 -1-.3 .6-1.8zM477,227l-.2-1.8 .8-1.6 1.1,.3 -.7,2.1zM465,204l2.8-.2 .8,1.5 -.8,1.3 -2.5-1.2zM481,204l1-2.1 1.7-1.1 -.4,2.5 -1.4,1.8zM427,176l0-2.9 1.6-.9 .6,1.8 -.8,2.3zM432,183l1.1,1 0,1.8 -1.8,.7 -.9-2zM435,173l.8,.2 -.1,1.3 -1.1,.3 -.7-1.1zM424,190l-.6-.4 .3-1.5 1-1.1 .5,1.4zM430,175l1.5,.4 -.2,2.6 -2,0 -1.3-1.8zM433,183l-.6-2.1 .4-2.3 1.4-.1 .3,2.5zM434,177l-1.1-1.7 1.2-2.6 1.7,1.6 0,2.7zM560,170l.7-.7 2-.3 1.4,.7 -1.8,.9zM558,167l.5-2.3 2.8-.3 1.1,1.9 -2.4,1zM570,176l-3.3-.8 1.1-1.8 2.9-.7 1.2,2zM566,162l1.1-2.2 2.6,0 .6,1.6 -2.2,1zM572,164l-.5,1.1 -1.3-.2 -.2-.9 1.3-.2zM571,160l-.3,.7 -1.6,.2 -.1-1.1 1.3-.8zM576,167l.1,.6 -1.5,0 -.4-.7 .9-.7zM567,165l1,1 -1.9,1.5 -2.2-1 .8-1.7zM598,154l-3.2,1.9 -3-.7 2.1-1.9 2.9-.7zM600,163l-2.2,1 -2.8-1.1 1.7-1.3 2.8,0zM602,157l.9-.2 .6,.6 -.8,.8 -1.1-.3zM605,153l1.2,.4 -.4,1.1 -2.5,.7 -.1-1zM596,153l-1.6-1.1 1.3-1.3 1.7,.2 .2,1.9zM557,139l.1-2.8 1.4-1.5 1.3,1.4 -.8,2.4zM560,135l1.4,1.4 -.5,1.7 -1.2-.2 -.5-1.5zM548,136l-1.6,1.7 -.2-1.9 1.2-2.2 1.1-.1zM545,135l1,.8 -.9,2 -1.6-.1 -.3-1.5zM554,142l-1.3,2.4 -1.9,1.7 .1-2.9 1.6-2.7zM410,118l.6-1.4 1.3-.7 -.1,.8 -.9,.9zM429,117l-.6,1.6 -1.3,.6 -.1-1.1 1.3-1.5zM422,118l1.8-.2 -.4,2.6 -2,2 -.9-1.4zM407,121l-1-1.7 1-1.4 1.5,.2 .3,1.6zM412,118l-1.4,2.1 -1.9,.4 .5-1.7 2.3-2zM416,122l1.5,.4 0,1.5 -1.2,1.1 -.7-1.1zM595,111l.9-.8 2.5,1.2 1.1,2.3 -2.1-.1zM600,112l4.4,1.4 2.2,1.7 -1.7,.8 -3.3-1.5zM609,117l2.1,.7 -.2,1.7 -1.5,.5 -.9-1.1zM611,116l2,.5 .1,1.9 -2.1,.3 -1.2-1.1zM593,115l-.2-1.5 2,.2 .5,1.7 -.9,.8zM610,119l-.2,1.5 -1.4,.9 -1.4-.7 .8-1.3zM587,116l-.6-1.1 .2-.9 .9,.4 .7,1.2z" fill="#f9d21c"/>
<path d="M477,83l0-.3 .5,.2 -.3,.7 -.5,.1zM481,79l-.3-.6 .6-.7 .7,.1 -.2,1.1zM383,139l.2-1.2 1.2,.1 -.2,1 -1.1,.6zM546,91l.8,.5 -.3,.4 -.7-.4 -.2-.7zM545,91l-.2,.2 -.3-.7 .6-.3 .6,.3zM551,88l.9,1.1 .3,1.4 -.9,.3 -1.2-1.7zM632,125l0-.4 1.4-.7 .9,.2 -.5,.8zM537,135l1.4-.4 .4,.3 -.8,.7 -1.1,.4zM527,128l-1.2,0 -.1-.9 1.4-.6 .8,.3zM412,175l.6,.9 -.3,1.1 -.9,.1 -.4-1.1zM421,182l-.9,0 -.1-.5 .3-.4 .4-.1zM412,164l.2-1.2 .5,.2 -.2,1.2 -.6,.5zM420,153l.9,0 .2,.6 -.2,.4 -.4-.2zM408,171l-.4,.6 -.5,.1 0-.6 .5-.5zM418,160l-.3,1 -.6,.4 -.1-1 .4-.7zM411,160l-.2,.7 -.3-.3 .3-.6 .4-.2zM431,178l.9-.8 .4,1 -.5,.8 -.7-.3zM470,169l.2,.2 -.7-.3 -.4-.6 .3-.1zM464,178l.9-.1 .6,.4 -.1,.5 -.8,0zM464,173l-1.3,.3 -1.1-.8 .1-.9 1.3,.9zM522,137l.4-.8 .6,.2 -.2,.6 -.9,.3zM582,149l-.5,0 .3-.5 .4,.2 0,.4zM558,137l.9,.5 -.4,1.6 -.6,.6 -.2-1.3zM579,143l1.1,.4 .2,1 -1.2,.6 -.5-.9zM574,148l-.2,.1 -.4,.5 -.3-.4 .3-.4zM563,142l.2,.6 -.8,.1 -.2-1 .7-.6zM598,141l-.2,.7 -.4-.1 .1-.5 .7-.2zM536,177l-.5,.6 -.7,.5 -.2-.6 .6-.9zM490,245l.3,1.2 -.8,0 -.3-1.4 .4-.8zM454,232l.5-.7 1.5-.4 .2,1 -1.1,.6zM570,202l-.6-.8 0-.8 .8-.6 .5,.9zM568,198l.8-.8 .7,.5 -.3,.7 -.7-.1zM547,209l-.1-.3 .3,.2 -.3,.4 -.4-.1zM564,208l1,1 -.7,1 -1-.2 -.1-1.1z" fill="#f9d81c"/>
<path d="M409,124l-.5,1.5 -1.5,.9 -.5-.7 1.1-1.7zM428,126l.3,.6 -.2,.8 -.5-.3 -.3-.9zM427,113l-.3-.7 1.3-1.3 .9,1 -.5,1.3zM409,127l-.5-.5 .4-1.1 .7-.1 0,.6zM410,131l.8-.2 .5,1.2 -.4,1.7 -.8-.7zM402,122l-1,1.6 -1.3-.5 .1-1.1 1-.7zM536,114l-.8-.6 .6-.9 1.1,.1 0,1.1zM534,116l.2-.9 .7-.4 .4,.3 -.1,.5zM578,122l.8-1.3 .8,1.1 0,2.2 -.9,0zM554,111l.7-.3 .3,2 -.3,1.4 -.9-1.2zM572,105l.2,.1 .4,1 -.6,0 -.6-.6zM568,120l.3-.9 .5-.1 .3,1.1 -.5,.4zM566,117l.1-1.3 .7-.4 .5,1.4 -.3,1.1zM541,121l1.3-.4 .7,1.2 -1.1,1.5 -1.5-.2zM601,111l.8,1.5 -1.6-.5 -1.3-1.3 .5-.9zM608,121l1.1,.2 .8,.3 -1,.8 -1.1-.1zM586,128l-.2-1.4 1.4-.8 .2,1.2 -1.2,1.6zM397,143l.7-1.2 .9-.2 -.4,1.1 -.8,.4zM459,210l-.6,.3 -1.3-.7 .2-.9 1.6,.4zM422,192l-.3-1.1 .3-1.1 .7-.5 .4,.9zM445,206l-.9-1.3 .9-.7 1.5,.4 .4,1.2zM460,187l-1.3,0 -.5-.7 .6-.2 .8,.7zM430,209l1-.5 .4,.8 -.3,1 -.8-.2zM455,195l.3-.6 1.2,.1 .8,.8 -.7,.7zM456,202l.9-.5 .6,.5 0,.7 -.9-.2zM431,197l.1-.7 .1,.7 -.2,1 -.4-.4zM442,195l-1.3-.3 .2-.8 1,.2 .2,.9zM422,193l.5,.8 -.9,.8 -.9-.6 .6-1.7zM436,177l-.9-.3 .4-.8 .9,.2 .2,1.1zM443,204l-.3,1.4 -2-.7 -1-1.5 1.6,.1zM438,177l-.3-.8 .2-.6 .5,.3 .3,.6zM436,179l.9,.1 .8,1.1 -.7,1.3 -1.4-.5zM548,142l-.1-.1 .3-.7 .7-.1 -.1,.7zM547,134l-.1,1.2 -.7,1 -.6-.5 .4-1.2zM536,150l1.2-1.2 1.5-.2 -.1,.9 -1.6,1.5zM579,169l-.4-.8 -.2-.6 .9,0 .4,.5zM568,177l-.8,.4 -.5-.8 1.1-.5 .9,.5zM559,181l1.7,.1 .3,.7 -1.6,.7 -1.2-.4zM573,182l.8,.3 0,.4 -.7,.1 -.7-.3zM537,184l-1.2,.9 -.6-.3 .4-1 .8-.3zM579,176l.1,1.3 -1.4,.6 -1.5-.9 .7-1.4zM568,176l.4,.3 .2,.5 -.7,.3 -.5-.5zM547,169l1-.3 .5,.2 -.8,.6 -.8,0zM572,176l.9,.6 -1.1,.5 -1.3-.1 -.5-.8zM583,178l.5,.4 -.7,.2 -.8-.3 .2-.6zM557,166l-.5,.6 -1.5,0 0-1.1 1.3-.5zM555,197l-1.5,.8 -1.9-.2 1.1-1.4 1.7-.5zM548,173l.7,.1 -.5,.4 -1,.3 .2-.6zM564,159l-1.7,.6 -.7-.7 .5-1.1 1.7-.4zM555,174l.7,.3 -.7,.5 -.9-.1 .3-.7zM569,202l-1.5-.2 -.8-1.1 1.2-.8 1.2,.3zM480,234l.8-1.1 .8,.4 .4,1.3 -1,.5zM463,228l.3-.4 1.3-.2 .2,.5 -.7,.7zM487,212l-.5,1.4 -1.1,.6 -.7-1.1 1.1-1.2zM478,233l1.1-1.6 1.3,.5 -.4,1.9 -1.1,.4zM510,229l-.6,.4 -.6-1.8 .8-1.3 1,.6zM484,227l-.4,1.4 -1.2,.3 .5-2.1 .9-1.3zM507,231l-.4-1.3 .6-.5 .8,.3 -.2,.9zM479,242l.4-1.9 1.1-.7 .7,1.4 -.7,1.4zM509,218l0,1.7 -.8-.4 -.1-2.2 .9-.5zM455,213l1.4,1.1 -.6,.5 -1.3-.2 -.6-.9zM450,218l-.6,.7 -1.1-.9 0-1.1 1.3-.2zM570,175l-.4,.4 -.6-.2 .2-.4 .9,.1zM554,178l.9-.2 1.1,.2 -.4,.5 -1.2,.2zM579,190l-2-.7 .9-.8 1.8,.4 .2,.8zM550,181l-.5-.6 1-.8 .9,.3 -.1,.6zM559,192l.2-.5 .7,0 -.1,.4 -.8,.2zM572,174l.2,.6 -1,.3 -.9-.7 1-.5zM562,178l-.6,.5 -1.5,.1 .3-.6 1.1-.4zM570,196l1.8-.9 .8,.4 -.5,.8 -1.4,0zM550,192l-.7,.4 -.4-.8 1.3-.7 .7,.5zM546,192l1-.5 .8,.7 -.7,.9 -1.1,0zM511,215l.5,1.2 -.1,1.6 -.8-.3 -.4-1.2zM500,239l-.4,1.2 -.9-.7 -.2-1.9 1-.1zM498,225l1.4,0 .7,.9 -.6,1.4 -.9-.6zM511,238l-.3-.4 .7-.7 .2,.4 -.5,.8zM497,224l.2,1 -.3,.5 -.3-.1 -.1-.8zM508,226l-.6,1.1 -.7-1.2 .5-1.8 1,.3zM477,215l-.2,1.6 -1.6,2.8 -2.1,.3 .9-3.4zM468,217l.5,1.4 -2,.9 -2.1-1 1.1-1.2zM462,226l-.9-1.4 1.3-1.1 2.1,.5 -.9,1.1zM476,212l-1-.5 1.5-3.1 2.4-1.5 -.6,2.5zM483,221l.1,2.5 -1.1,3.7 -1.7-.6 .7-3.9zM484,210l.8,1.2 -.5,2.2 -1.4,.2 0-1.8zM480,228l-1,1.1 -1.1-.8 .8-1.3 1.1,.3zM460,226l1.6-1.3 3.5,.1 -.3,1.4 -2.9,.8zM460,211l.1-1.8 1.5-.4 .5,1.2 -.6,1zM474,206l2.2,.2 -.8,1.7 -2.1,.8 -.4-1.1zM488,211l-1.9,3.4 -1.7-.1 .4-2.7 2-2.2zM480,216l-1.6-1.7 2-4 2.4-1.3 -.7,3.7zM474,212l-.4-2.2 1.9-2.8 2.6,.9 -1,3.3zM475,232l-1.5-.1 .1-2 1.5-1.3 1.2,1.6zM476,200l.4,1.4 -1.7,.1 -1.2-1.3 1-1zM439,187l-1.6-2.8 1.7-1.3 1.5,2 -.3,1.7zM435,179l-1.3,2.2 -2.6-1 -.5-2.6 2.4-.5zM437,179l-.3,1.6 -1-.4 -.3-1.2 .7-.8zM431,173l1.4-1.8 1.3,2 -.8,2.8 -1.5,.1zM440,183l-1.8-4 1.8-.9 2.4,3.4 .6,3.3zM432,180l.8-1.4 1.7,.8 0,2.4 -1.9,.6zM431,168l1.4,.1 .2,1.7 -.9,1 -.9-1.2zM560,166l-3,.2 -1.1-1.5 2.8-1.8 2.2,1.3zM571,168l0,1.4 -3.1,.5 -2.1-1.1 1.9-1.4zM562,162l.8-.9 1,.8 -.7,1.3 -1.4-.3zM600,155l1.5-.1 1.7,1.2 -1.9,1.3 -1.8-.4zM549,150l.3-2 2.2-.2 .5,2.3 -1.9,1zM555,142l1.7-.2 .2,2.2 -1.5,.9 -.7-1.1zM558,143l1.1,2.9 -1.3,1.7 -2.2-.1 .1-2.9zM557,135l-1.9,3.5 -1.4-.5 -.2-3.3 1.9-1.7zM553,137l.2,2.5 -1.7,2.2 -1.7-1.5 1.4-3.1zM552,146l-1.6,2 -2,.8 .7-3 2.1-1.9zM410,122l2.2,1.1 -.8,2.5 -2.4-.1 -.8-2.2zM411,116l-1.3-1.9 1.3-1.7 2,.8 -.1,2.1zM410,119l-1.1,2.2 -2,1.3 .1-1.5 1.6-1.6zM409,114l.2-2.3 2.2-1.9 1.9,0 -.7,2.2zM410,119l.5-1.8 2-1.3 .7,.8 -1.5,1.5zM424,122l1.4-.3 .6,1.1 -.4,1.7 -.8-.1zM610,118l-.2-.8 1.1-.8 1,.4 -.1,1zM607,122l-2.6-1.1 .8-2.3 2.7-.6 .5,2zM604,125l-.8-1.8 1.4-1.2 2.2,.1 -.5,2.1zM612,119l-.5,1 -1.8,.4 -.1-1.5 1-1zM597,122l-2.9-.9 -1.2-1.8 1.4-.7 2.7,1.7zM591,121l-1,.1 .2-1.2 .9-.3 1,.8zM583,116l-1.1-1.3 -.2-1.5 1.1-.5 .7,1.8zM592,125l-1.6,1.6 -2,.4 -.3-1.9 1.9-1.6zM603,123l-1.4-.7 .6-1.1 1.2,.3 .3,.8z" fill="#f9e21c"/>
<path d="M412,131l.9,.5 -.3,.8 -.5,0 -.3-.8zM432,116l-.6,1.8 -1.6,.2 -.2-1.3 1-1.1zM412,117l-1,0 -.2-1.3 .9-1 1.5,.5zM404,135l.4-.7 .7-.2 -.1,1.1 -.7,.6zM405,129l-.8,.5 -.8-.4 0-.9 .9-.3zM562,98l-1.3-1.6 0-1.2 1.1,.6 .4,1.5zM551,107l-.1-2 .7-.3 .9,1.2 -.5,1.1zM549,98l1.6,.8 .1,1.7 -.9,0 -.7-1.9zM553,104l-.4,.4 -.7-1.4 .5-1 1,.6zM551,115l.9-.6 .8,.1 .3,1.1 -.9,.3zM573,114l.3-1.2 .7-.4 .6,.7 -.3,.8zM557,129l.4,.9 -.6,.2 -.5-.4 .2-.9zM573,118l-1.2-1.6 0-1.7 1.4,.3 .6,1.8zM546,107l-1.2,1.2 -1-1.4 .7-1.9 1.1,0zM577,126l-.5-1.5 .3-1.5 .8,.2 .1,2zM547,126l.9,.9 -.7,1.5 -1.1-.1 -.2-1.4zM551,115l.7,0 .5,.8 -.2,1.2 -.7-.4zM583,122l.4-1.1 .7,1.2 -.5,1.1 -.9-.4zM581,120l.7,1.8 -1,.5 -.8-2 .4-1.7zM603,126l0-1.6 2.1-1.1 1.6,.4 -1.4,1.2zM609,114l.4,.5 .2,.6 -.8,.5 -.5-.5zM590,125l0,.6 -1.1,.5 0-.9 .8-.8zM600,123l1,.8 -1.1,.8 -1.4,.3 .2-1.2zM391,144l1.2-1.1 1.2-.6 -.2,1.1 -1.4,1.1zM447,205l.2,.1 -.7,.1 -.4-.4 .3-.3zM424,196l-.5,.6 -.6-.2 .3-1.1 .6-.3zM465,194l.4-.2 .6,.5 -.2,.7 -.9-.2zM436,197l.8-.8 .8,.9 -.3,1.4 -.8-.5zM454,213l-.1-1 1.5-.1 .6,1 -.9,.5zM468,204l-1.1,.4 -.7-.4 .3-.7 .9-.2zM436,201l.4,.2 .5,.8 -.5,.7 -.5-.2zM424,192l1.1-1.9 1,.5 -.4,1.9 -1,.4zM437,177l.1-1.7 1,.3 .2,1.2 -.6,.7zM440,186l-.7-.4 .3-.5 .6,.1 .1,.8zM438,210l1.1,.5 .6,.8 -.8,.5 -.9-.9zM443,217l-.9,0 .5-.6 1.2,.1 .4,.7zM443,193l.9,.7 0,.8 -.8-.1 -.4-.7zM476,205l-.4-.3 .7-.7 .5,.1 -.4,.7zM466,209l0-.4 .6,.4 0,.3 -.8-.1zM484,214l-1.7,.6 -.1-1.7 1.1-1.2 1.2,.4zM490,182l.5,.4 -.1,.8 -1,.2 -.4-1zM539,143l-.2-.3 1-.9 .5,.5 -.3,.8zM541,139l-.6-.3 1.2-1.4 1.1-.1 -.8,1.3zM546,146l.7-1.2 1.5-.7 -.6,1.8 -1.4,1.6zM538,151l-.2,1.1 -.6-.3 -.1-.7 1-.4zM553,185l-1.4,.5 0-.6 1.1-.5 .4,.5zM539,184l.5-1.2 1.4-.9 .4,.7 -.8,1.5zM577,178l.8,.5 -.4,1 -1.5-.2 -.9-1zM557,193l.1,.6 -.5,.4 -.6-.1 .2-.6zM568,192l.8,.2 .2,.6 -.7,.4 -.7-.3zM559,174l1.6-.1 .3,.9 -1.8,.4 -1.7-.5zM548,192l-.9,.1 -.9,0 .5-.8 1.2-.4zM595,161l2.4-.2 1.2,.7 -.9,.8 -1.9-.1zM596,152l.5-.8 1.5-.5 .8,.6 -1.3,1zM572,203l.8-.3 -.6,1 -1.4,.5 -.2-.6zM482,226l-.4,1.8 -.9,1 -.2-1.6 .5-1.3zM470,227l-.8,.7 -1.4,.6 -.4-.9 1.3-.7zM491,232l-.6,.1 -.1-1 .5-.6 .5,.8zM515,223l1.1-.6 .4,1 -.6,.6 -.8-.6zM506,228l.5,1.4 -.4,.9 -.5-.6 .1-1.5zM457,215l-.5,1.1 -1.1-.4 -.4-1.3 1.5-.1zM556,192l-1.9,.9 -1.7-.3 1.5-1.2 1.7-.3zM560,188l-.2,.7 -1.4,.7 -1-.5 .7-.8zM554,180l.7,.1 .8,.8 -.7,1.2 -1.4-.5zM585,181l.9,1 -.4,.5 -1.2-.5 -.2-.7zM568,187l-1,.7 -.9-.3 .7-.6 1.1,.1zM500,241l1,.7 .2,.8 -.5,.4 -.3-.7zM488,227l1-2.1 1,.4 .2,2 -1,1.2zM493,254l.3-.4 .7,1.1 -.5,.6 -.7-.6zM478,200l.8-1.1 .5,1.4 -.1,1.5 -.9-.4zM466,217l1.6,.5 .2,.9 -1.5,.3 -1.2-.6zM462,225l0-.9 1-.1 .4,.7 -.6,.5zM464,218l-1.3,.3 -1.9-.5 .3-1.2 2.1,.3zM481,230l.2-.8 .6,.5 -.3,1.5 -.7,.1zM469,230l.4,.4 -.9,.9 -1-.7 .2-1.1zM483,206l-.9-1 .2-1.1 1.2-.2 .2,1.2zM480,217l0-.2 .5,0 .1,.7 -.6,.2zM479,212l1.4-1.1 .4,.5 -.5,1 -.7,.2zM474,207l.6-.6 .5,.7 -.4,.7 -1,.2zM475,208l1.8,.4 -.3,1.7 -1.5,.9 -.5-.9zM429,173l.1,1.8 -1.1,.7 -.6-.8 .2-1.7zM433,180l-1.6-.6 .5-1.4 1.5-.5 .8,1.7zM433,173l-.3,1.7 -.6,1 -.6-1.3 .5-2zM434,174l.8-1.2 .5,.5 .1,1.2 -.6,.3zM433,182l-1.4-1.5 1.2-1.2 1.5,.4 -.2,1.5zM432,170l-.7-.3 0-1.1 .7-.1 .4,.7zM560,167l-1.5-.4 .1-1.1 2-.2 .9,.6zM569,161l-.7,.9 -1.2-.4 .5-1.2 1.4-.1zM571,160l-.4,.2 -.9,.4 -.4-.6 .7-.6zM575,168l-.4-.9 .4-.5 .8,.1 .1,.6zM565,167l0-1.6 1.2-.5 1,.7 -.5,1.1zM603,157l-.2,.8 -.6,0 -.3-.4 .5-.3zM605,154l-.6,.7 -.7-.7 .7-.7 .9,.3zM556,144l-.9,.5 0-1.4 .8-1.2 .6,.7zM558,135l1.4,1.1 -.7,2.1 -.8-.4 -.4-1.5zM558,147l-1.5,.7 .1-2.3 1.4-1.9 .4,1.7zM560,137l.2-1.3 .8,.7 -.2,1.1 -.9,.3zM551,139l1.2-1.8 .7,.8 -.6,2.5 -1.5,.8zM552,145l-.7-1 .5-1.5 1.1-.7 .3,1.5zM411,117l-.6,.5 .3-.7 .8-.3 .2,.2zM427,118l.8-.8 .8,.4 0,1 -1,.2zM422,119l1.4,0 -.6,1.9 -1.4,.3 -.3-1zM408,120l1.1,.1 -.4,1 -1,.3 -.3-.8zM407,119l-.3-.8 1.4-.2 .4,1.2 -1,.8zM411,118l-.5-.1 .9-1.1 1-.1 -.1,.9zM604,122l1.9,.4 -.1,1.1 -1.2,.5 -.8-.6zM594,116l-.9-.8 .1-1.2 1.2,.3 .6,1zM587,114l.6,.8 -.1,.6 -.6-.2 -.3-.6z" fill="#fbec3a"/>
<path d="M409,116l-1.2,.2 .8-1.6 1.7-.4 .2,1.5zM405,108l1.5,.2 .6,.8 -1.3,1.1 -1.1-.4zM391,122l1.8-1.5 1.5-.2 -.8,1.5 -1.3,.6zM416,136l.4,.5 -.6,.2 -.7-1.2 .5-.7zM394,121l.3-.9 .7,.1 -.1,.7 -.7,.4zM427,122l.1-1.3 .5-.8 .4,.4 -.3,1.2zM392,121l1.2,.4 .2,1 -1.2,.3 -.3-1.1zM416,107l1.1-1.8 1.5-.2 .5,1 -1.7,.8zM413,132l-.8-.7 .2-1.3 .8,.7 .1,1.1zM439,129l-.4,1.1 -.8-.4 -.3-1.5 .6-.8zM564,111l.3,1.8 -.8,0 -.8-1.8 .4-1.3zM572,126l-.8,2 -.9,0 -.5-1.4 .8-1.2zM547,122l-.4,.4 -.4,.5 -.3-.4 .4-.9zM543,106l-.5,2.2 -1.5,.6 -.8-1.1 1-1.7zM536,124l-1.3,.3 -.1-.8 1-.8 .9,.2zM593,128l-1-.5 1.5-1.3 1.6-.1 -.3,1.1zM587,128l.6,.8 -.7,.8 -.9-.2 .3-1zM593,112l.6,0 1.3,1.2 -.2,.6 -1-.6zM594,109l.6,.3 -.1,.6 -.6,.3 -.3-.6zM587,123l.2-1.1 .4-.2 .4,.5 -.4,.5zM397,144l0-.9 1.3-1.8 1.2,.1 -.9,1.8zM383,140l-.8,.6 -.3-.6 1.5-1.2 .5,.5zM460,181l.9,1.3 -.5,.8 -1-.4 -.1-1zM455,185l-.1,1.1 -.9-.5 0-.7 .8-.3zM428,206l1.2-1.9 1.2-.9 .1,2.2 -1.1,1.2zM441,200l.2,.9 -1.7-.6 -.1-1.5 1.3-.3zM432,215l.1,.6 -.6,.8 -.8,.3 .2-1.2zM445,180l1.1,.2 0,.8 -.4,.4 -.7-.5zM422,208l.1,1.1 -1.2,.8 -.6-1.3 .8-1.5zM427,194l.7-1 .9,1.1 -.6,1.8 -1.2,.1zM445,213l-.4-.5 -.5-.5 .7-.2 .7,.3zM438,179l1.1,1.1 -.3,1.1 -1.2-.2 -.1-1.1zM474,201l-1.8-1.5 .6-1.1 1.7,.1 .5,1.5zM477,214l.5-.1 .7,.2 -.1,.9 -.9,.1zM536,139l.6-.1 .4,.5 -.4,.7 -.8-.1zM548,149l.3-.9 .7-.9 .7,.1 -.5,1.1zM560,195l1.1-.3 -.5,.8 -.9,.3 -.3-.5zM551,174l-1.7-.7 .3-1.2 1.6-.2 .5,1zM568,180l-.7-.4 .3-.9 1.1-.2 .6,.9zM566,179l-.9-1.1 .4-1 1.7-.2 .3,1zM550,169l-.5-.4 0-.5 .6-.4 .6,.3zM557,168l-1.7,.2 -1.3-.7 1.2-1.1 1.6,.1zM555,157l1.4-2.2 .8,.6 -.5,1.5 -1.4,.5zM538,187l.4,1.2 -1.3,1 -.9-.8 .7-1.4zM545,164l-1.4,.9 -.8-.3 .8-1.3 1.5-.2zM556,179l-1.5-.6 1.1-.7 1.1,.1 .4,.7zM564,169l1.1,1 -1.2,.7 -1.5-.4 .4-.7zM561,188l1.5,0 .3,.7 -.9,.7 -1-.4zM601,160l-.3,.8 -1.1-.1 .3-.8 1.1-.3zM592,162l1.3-1 1.1,.8 -.2,1.2 -1.2,0zM573,206l.7,0 -.2,.9 -.9,.8 -1-.3zM494,180l1.4,1.4 -.2,.7 -1.1-.2 -.3-1zM494,187l-1.1,.2 -1.5-1.7 .7-.7 1.8,.9zM499,235l-.1-.5 0-1 .6-.4 .4,1zM486,218l-.6,.1 -.2-.9 .8-.5 .7,.6zM515,223l0-1.1 .6-.3 .4,.7 -.3,.6zM498,243l1-.5 .6,.3 -.2,.9 -.7-.3zM498,212l-.1,.6 -.5,0 -.2-.8 .6-.8zM502,228l.6-.7 .9,1 -.4,1.8 -1-.3zM508,227l-1.3,.3 -.5-.9 .5-.8 .9,.2zM503,210l.6,.2 -.2,1.7 -.9,.4 -.3-1.4zM483,239l.4-.1 .4,.6 -.3,.8 -.8-.4zM505,214l-.7,1.3 -.7-.5 .4-1.5 .6,0zM493,214l1-1.1 .6,1.3 -.6,1.8 -1.1-.4zM475,240l-1.2-.9 .8-1.5 1.4,0 .4,1.4zM477,222l0-.4 .4,.2 -.1,.7 -.5-.1zM505,235l-.3,1.5 -.8,.4 -.3-1.4 .3-1.2zM475,236l.7,1 -.4,.6 -.7,.1 .2-.9zM478,218l-.2,.3 -.5,.6 -.6-.1 .3-.9zM449,222l1.1-1.1 1.3,.1 .8,1.3 -1.8,.3zM568,182l-.1-.3 1.2,.2 .1,.6 -.8,.5zM577,193l-.8-.1 -.7-.5 .5-.7 1.2,.2zM560,179l2.5-.4 .5,.9 -1.4,.9 -2.3-.4zM568,178l-.8,.5 -1.4-.5 1-.6 1.5-.1zM570,177l1,0 -.3,1.1 -1.1,.3 -.7-1zM548,182l-.5,.8 -1.1,.3 -.1-.6 1-.6zM561,187l-1.1-.6 1.2-1 1.6,.3 -.1,.9zM506,229l0-.4 .3-1.1 .5,.1 0,1.1zM498,230l.4-.7 1.2-.5 .4,1.6 -1.2,.4zM489,229l.2-.9 .4-1 .7,.6 -.1,1zM491,226l.1-.7 .5-.3 .4,.6 -.4,.4zM510,225l.3,0 .4,1.9 -.7,1.4 -.9-1.8zM499,224l-.4,1.1 -.5,.3 -.2-.7 .3-.8zM493,223l-.8,.8 -.3-.4 .2-1 .5,0zM476,215l.5,1.2 -.9,1.8 -1.5,1.2 .1-1.9zM483,213l.3-.9 .8-1.4 .5,.4 -.4,1.5zM479,227l.6,0 0,1.3 -.5,.7 -.5-.5zM464,225l-.2,1.5 -1.7,.3 -1-.9 1.2-1zM461,209l1,1 -.2,.5 -1.2-.2 -.7-.8zM478,225l-.7,1.5 -.5-.8 .6-1.3 .8-.5zM467,204l.9,.7 .6,1 -1.6-.2 -1.1-.8zM480,212l1.1-1.2 .6,.9 -.7,1.7 -1.3,.6zM440,185l-.4,1.3 -1-.7 -.1-1.2 1.2-.1zM436,179l-.2-.6 .6,.7 .2,1 -.5,.1zM433,185l-.6,1 -.8-.7 -.3-1.3 1-.5zM439,181l1.4-1 1.2,.8 .2,1.5 -1.2,.1zM425,188l-.5,1.1 -.6,.1 -.3-.7 .6-.7zM434,176l.2-2.5 1,1 .3,2.3 -1,.1zM560,165l-1,1 -2-.2 0-1.3 2.1-.9zM568,174l1.4-.6 1.2,.8 -.3,1.3 -1.9-.4zM572,164l-.7,.7 -1,0 .1-.5 1-.2zM562,163l-.5-.6 .8-.7 .8,.1 0,.5zM596,154l-1.3,1.2 -.9-.8 .5-1.3 2.2-.1zM600,157l.1-1.4 1.8-.2 .4,.7 -1.5,.6zM597,151l0,1.3 -1.4,.6 -.4-1 .8-.8zM551,148l.4,1.4 -1.3,1.1 -1-.2 .5-1.7zM546,136l1.1-1.8 1.1-.3 -.4,1.4 -.9,1.2zM545,135l.3,1.3 -1,1 -.6-.1 .2-1.1zM416,124l.1-.7 .7-.5 .6,.2 -.5,1.1zM609,118l1.7-.1 .3,.7 -1.2,.7 -1.1-.1zM606,120l1.1-.9 1.1,.4 -1,1 -2.2,.3zM610,120l-.2-.8 .4-.9 1.2,.1 0,.9zM594,120l.7-.7 1.6,.7 -.3,.8 -1.3,0zM582,113l.6,.3 .7,1.2 -.1,.9 -.9-.9zM590,127l-1.4-.8 .4-1.2 1.5-.7 .3,1zM603,121l.7,.9 -.7,.5 -.8,0 0-.5z" fill="#fff27a"/>
<path d="M467,197l.9,.9 0,.7 -.9-.3 -.2-.6zM468,214l-.6,.3 -.4-.5 .5-.3 .5,.1zM470,204l-.5-.2 -.1-.5 .6,0 .8,.4zM472,210l1.1,.4 -.5,1.1 -2.5,.3 -.2-1.1zM476,211l.6-2.2 1.4-.7 .1,1.3 -1.5,1.8zM481,224l.9-1.4 1,.7 -.2,1.9 -1.4,.1zM482,203l.9-1.1 .2,1.3 -.7,1 -.8-.3zM486,213l-.9,.3 -.2-1.5 1.4-1.3 .9,1.1zM475,231l-.6,.6 -.4-.8 .6-1 .7,0zM476,201l-.6-.1 -1.3-.5 -.1-.8 1.3,.4zM430,178l-1.2-1 .6-1.7 1.3-.3 .2,1.8zM433,179l1,.7 .1,1.7 -1,.3 -.5-1.6zM561,170l.2-.7 1.8-.2 .1,.7 -1.3,.4zM567,168l2.1,.1 1.7,.5 -1.6,.8 -2.2,.1zM599,163l-.6,.2 -1.8-.2 0-1.1 2-.2zM555,134l.7,1.5 -.6,2.3 -1.2-.1 .1-2.4zM551,145l.3,.5 -.7,1.9 -1.4,1 .4-1.8zM411,123l.2,.6 -.8,1.9 -1.5-.6 .4-1.6zM413,114l-1.4,1.1 -1.3-.1 .4-1.4 1.4-.4zM409,120l.7-1.5 1.7-1.1 0,1.1 -1.2,1.5zM410,111l2.1-1.2 .8,.6 -1.4,1.7 -2,.5zM425,124l-.1-.7 .2-1.3 .5,.7 .2,1.2zM598,113l-1.2-.5 -.7-1.1 1.1-.5 .9,.9zM610,117l1-.3 .8,.2 -.3,.7 -.9,.2zM603,115l-1-1.5 1.4-.4 2.2,1.4 -.2,1zM612,117l.5,.3 -.8,.7 -1.2,.1 0-1zM591,120l.3,.7 -.6,.5 -.6-.8 .5-.5zM609,121l-1.3-.4 .4-.8 1.1-.3 .1,.9z" fill="#fff79a"/>
<path d="M478,72h2v2h-2zM478,75h3v3h-3zM538,100h2v2h-2zM423,108h2v2h-2zM430,108h2v2h-2zM550,122h2v2h-2zM533,130h3v3h-3zM530,132h3v3h-3zM540,138h2v2h-2zM546,140h2v2h-2zM603,140h2v2h-2zM543,148h2v2h-2zM418,152h3v3h-3zM568,152h2v2h-2zM596,155h2v2h-2zM480,168h3v3h-3zM410,172h2v2h-2zM566,175h2v2h-2zM446,178h3v3h-3zM496,180h2v2h-2zM538,182h2v2h-2zM443,185h3v3h-3zM543,185h2v2h-2zM543,188h3v3h-3zM466,190h3v3h-3zM446,195h2v2h-2zM443,198h3v3h-3zM576,198h3v3h-3zM460,218h2v2h-2zM506,240h2v2h-2zM486,245h2v2h-2zM493,248h2v2h-2z" fill="#ee5a1c"/>
<path d="M493,75h2v2h-2zM496,110h2v2h-2zM423,255h2v2h-2z" fill="#e0601e"/>
<path d="M483,78h2v2h-2zM588,85h3v3h-3zM560,105h2v2h-2zM586,108h3v3h-3zM560,112h2v2h-2zM588,112h2v2h-2zM408,118h2v2h-2zM603,118h2v2h-2zM563,120h2v2h-2zM626,122h2v2h-2zM538,125h3v3h-3zM428,130h2v2h-2zM420,135h2v2h-2zM556,135h2v2h-2zM530,138h2v2h-2zM568,138h2v2h-2zM553,140h2v2h-2zM386,145h3v3h-3zM433,145h2v2h-2zM553,145h2v2h-2zM598,152h2v2h-2zM416,155h3v3h-3zM433,158h2v2h-2zM563,160h3v3h-3zM598,160h2v2h-2zM426,162h3v3h-3zM476,162h2v2h-2zM548,162h2v2h-2zM560,168h2v2h-2zM416,172h2v2h-2zM423,175h2v2h-2zM573,175h3v3h-3zM430,178h2v2h-2zM540,178h2v2h-2zM538,180h2v2h-2zM428,182h2v2h-2zM458,182h2v2h-2zM453,185h2v2h-2zM573,185h2v2h-2zM590,185h3v3h-3zM443,188h2v2h-2zM566,188h3v3h-3zM453,192h2v2h-2zM456,195h2v2h-2zM568,195h3v3h-3zM418,198h3v3h-3zM453,198h2v2h-2zM423,200h2v2h-2zM460,200h2v2h-2zM420,202h3v3h-3zM478,202h3v3h-3zM533,208h3v3h-3zM538,208h3v3h-3zM448,210h2v2h-2zM498,210h2v2h-2zM440,215h3v3h-3zM473,230h2v2h-2zM476,230h3v3h-3zM518,230h2v2h-2zM500,235h3v3h-3zM498,245h2v2h-2zM500,245h3v3h-3zM478,248h2v2h-2zM500,248h2v2h-2zM478,250h2v2h-2zM503,255h2v2h-2zM498,258h3v3h-3z" fill="#f7a51d"/>
<path d="M548,98h3v3h-3zM560,100h2v2h-2zM576,118h2v2h-2zM410,122h2v2h-2zM560,122h2v2h-2zM566,145h2v2h-2zM408,170h2v2h-2zM473,172h3v3h-3zM548,172h3v3h-3zM563,172h2v2h-2zM566,178h3v3h-3zM553,185h2v2h-2zM563,190h3v3h-3zM553,192h3v3h-3zM473,208h2v2h-2zM563,210h3v3h-3zM446,218h2v2h-2zM516,218h2v2h-2zM418,228h2v2h-2zM493,230h2v2h-2z" fill="#d92a1e"/>
<path d="M550,98h2v2h-2zM428,120h3v3h-3zM596,122h2v2h-2zM623,128h3v3h-3zM408,130h3v3h-3zM603,135h2v2h-2zM428,160h3v3h-3zM418,172h2v2h-2zM553,178h2v2h-2zM546,208h3v3h-3zM496,220h2v2h-2z" fill="#9a1d1a"/>
<path d="M556,100h3v3h-3zM430,110h2v2h-2zM608,110h2v2h-2zM548,112h2v2h-2zM398,115h2v2h-2zM413,115h2v2h-2zM418,115h2v2h-2zM543,115h2v2h-2zM583,115h2v2h-2zM586,115h3v3h-3zM588,118h2v2h-2zM403,120h2v2h-2zM418,120h3v3h-3zM440,120h2v2h-2zM420,122h3v3h-3zM556,122h3v3h-3zM558,122h2v2h-2zM400,125h3v3h-3zM550,125h2v2h-2zM408,128h2v2h-2zM620,128h2v2h-2zM413,130h2v2h-2zM398,132h2v2h-2zM420,132h3v3h-3zM393,135h2v2h-2zM398,135h2v2h-2zM553,135h2v2h-2zM396,140h3v3h-3zM540,142h2v2h-2zM546,142h2v2h-2zM558,145h2v2h-2zM558,148h2v2h-2zM573,150h3v3h-3zM606,155h2v2h-2zM563,162h2v2h-2zM566,168h2v2h-2zM430,172h2v2h-2zM436,172h3v3h-3zM556,175h3v3h-3zM453,178h2v2h-2zM550,180h2v2h-2zM446,182h2v2h-2zM550,182h3v3h-3zM436,185h2v2h-2zM586,188h2v2h-2zM536,190h2v2h-2zM550,190h2v2h-2zM566,190h3v3h-3zM433,192h2v2h-2zM436,192h2v2h-2zM473,195h3v3h-3zM470,198h2v2h-2zM428,200h2v2h-2zM446,200h2v2h-2zM433,202h2v2h-2zM450,202h3v3h-3zM568,202h2v2h-2zM573,208h3v3h-3zM478,210h2v2h-2zM483,210h2v2h-2zM500,212h2v2h-2zM473,222h2v2h-2zM480,222h2v2h-2zM518,222h3v3h-3zM466,225h2v2h-2zM476,225h2v2h-2zM486,225h2v2h-2zM503,225h2v2h-2zM410,230h2v2h-2zM470,235h2v2h-2zM496,235h2v2h-2zM486,238h2v2h-2zM506,238h2v2h-2zM498,250h2v2h-2zM496,252h2v2h-2z" fill="#f9e21c"/>
<path d="M398,118h3v3h-3zM586,118h2v2h-2zM426,122h2v2h-2zM438,122h2v2h-2zM423,125h2v2h-2zM433,125h3v3h-3zM560,135h2v2h-2zM570,162h2v2h-2zM573,162h3v3h-3zM568,165h2v2h-2zM548,168h2v2h-2zM578,168h2v2h-2zM433,170h3v3h-3zM558,175h2v2h-2zM558,178h2v2h-2zM488,182h3v3h-3zM558,182h3v3h-3zM468,200h2v2h-2zM473,212h2v2h-2zM483,215h3v3h-3zM483,230h3v3h-3z" fill="#fff27a"/>
<path d="M433,152h2v2h-2zM506,255h3v3h-3z" fill="#8c2c1a"/>
<path d="M418,258h2v2h-2zM587,109h2v2h-2zM437,162h2v2h-2zM425,110h2v2h-2zM473,158h2v2h-2zM417,174h2v2h-2zM566,151h2v2h-2zM622,171h2v2h-2zM553,197h2v2h-2zM591,209h2v2h-2zM434,230h2v2h-2zM543,63h2v2h-2zM481,279h2v2h-2zM597,281h2v2h-2zM572,138h2v2h-2zM470,144h2v2h-2zM591,187h2v2h-2zM422,123h2v2h-2zM417,283h2v2h-2zM490,254h2v2h-2zM565,76h2v2h-2zM618,172h2v2h-2zM602,127h2v2h-2zM464,133h2v2h-2zM530,290h2v2h-2zM373,99h2v2h-2zM413,168h2v2h-2zM434,108h2v2h-2zM378,211h2v2h-2zM437,72h2v2h-2zM384,124h2v2h-2zM388,144h2v2h-2zM471,256h2v2h-2zM501,249h2v2h-2zM390,185h2v2h-2zM627,90h2v2h-2zM430,272h2v2h-2zM574,121h2v2h-2zM463,269h2v2h-2zM413,83h2v2h-2z" fill="#c8341c"/>
<path d="M496,115h2v2h-2zM413,153h2v2h-2zM587,80h2v2h-2zM600,244h2v2h-2zM446,228h2v2h-2zM525,161h2v2h-2zM461,183h2v2h-2zM415,64h2v2h-2zM536,119h2v2h-2zM486,176h2v2h-2zM385,79h2v2h-2zM459,205h2v2h-2zM518,205h2v2h-2zM577,82h2v2h-2zM485,260h2v2h-2zM521,280h2v2h-2zM541,92h2v2h-2zM435,206h2v2h-2zM387,118h2v2h-2zM375,213h2v2h-2zM507,79h2v2h-2zM549,284h2v2h-2zM381,113h2v2h-2zM596,249h2v2h-2zM470,156h2v2h-2zM415,196h2v2h-2zM490,263h2v2h-2zM633,110h2v2h-2zM590,135h2v2h-2zM452,130h2v2h-2zM521,257h2v2h-2zM439,74h2v2h-2zM558,245h2v2h-2zM554,161h2v2h-2zM536,199h2v2h-2zM622,231h2v2h-2zM381,170h2v2h-2zM422,224h2v2h-2zM423,235h2v2h-2zM598,60h2v2h-2zM548,118h2v2h-2zM574,260h2v2h-2zM578,230h2v2h-2zM562,201h2v2h-2zM389,234h2v2h-2zM411,283h2v2h-2zM437,151h2v2h-2zM637,273h2v2h-2zM555,183h2v2h-2zM460,97h2v2h-2zM389,62h2v2h-2zM597,280h2v2h-2zM610,81h2v2h-2zM391,223h2v2h-2zM471,126h2v2h-2zM427,97h2v2h-2zM517,266h2v2h-2z" fill="#e8901e"/>
<path d="M561,141h2v2h-2zM472,133h2v2h-2zM575,66h2v2h-2zM373,196h2v2h-2zM410,256h2v2h-2zM397,286h2v2h-2zM445,230h2v2h-2zM418,236h2v2h-2zM398,134h2v2h-2zM457,200h2v2h-2zM604,199h2v2h-2zM407,108h2v2h-2zM551,142h2v2h-2zM471,259h2v2h-2zM451,238h2v2h-2zM539,226h2v2h-2zM480,191h2v2h-2zM467,258h2v2h-2zM557,99h2v2h-2zM532,192h2v2h-2zM426,74h2v2h-2zM519,159h2v2h-2zM479,241h2v2h-2zM472,187h2v2h-2zM603,153h2v2h-2zM624,196h2v2h-2zM399,130h2v2h-2zM377,209h2v2h-2zM600,178h2v2h-2zM603,280h2v2h-2zM562,189h2v2h-2zM517,262h2v2h-2zM479,147h2v2h-2zM488,217h2v2h-2zM582,141h2v2h-2zM473,100h2v2h-2zM635,107h2v2h-2zM375,234h2v2h-2zM483,239h2v2h-2zM388,157h2v2h-2zM554,159h2v2h-2zM613,73h2v2h-2zM373,225h2v2h-2zM608,102h2v2h-2zM548,62h2v2h-2zM598,239h2v2h-2zM398,222h2v2h-2zM468,117h2v2h-2zM413,70h2v2h-2zM487,167h2v2h-2zM428,139h2v2h-2zM463,113h2v2h-2zM376,130h2v2h-2zM518,119h2v2h-2zM456,118h2v2h-2zM419,88h2v2h-2zM402,241h2v2h-2zM612,92h2v2h-2z" fill="#d9501e"/>
<path d="M568,201h2v2h-2zM378,193h2v2h-2zM467,67h2v2h-2zM412,68h2v2h-2zM407,76h2v2h-2zM389,218h2v2h-2zM534,280h2v2h-2zM562,251h2v2h-2zM626,262h2v2h-2zM380,228h2v2h-2zM627,128h2v2h-2zM502,198h2v2h-2zM502,195h2v2h-2zM602,174h2v2h-2zM577,163h2v2h-2zM540,250h2v2h-2zM484,117h2v2h-2zM505,275h2v2h-2zM580,224h2v2h-2zM478,156h2v2h-2zM441,84h2v2h-2zM430,121h2v2h-2zM452,202h2v2h-2zM437,109h2v2h-2zM558,157h2v2h-2zM466,98h2v2h-2zM557,255h2v2h-2zM458,188h2v2h-2zM404,194h2v2h-2zM466,223h2v2h-2zM382,63h2v2h-2zM580,212h2v2h-2zM547,84h2v2h-2zM586,103h2v2h-2zM420,241h2v2h-2zM390,185h2v2h-2zM478,109h2v2h-2zM420,201h2v2h-2zM388,254h2v2h-2zM578,284h2v2h-2zM588,102h2v2h-2zM546,105h2v2h-2zM600,149h2v2h-2zM443,255h2v2h-2zM587,81h2v2h-2zM614,145h2v2h-2zM566,160h2v2h-2zM451,191h2v2h-2zM526,73h2v2h-2zM393,172h2v2h-2zM435,245h2v2h-2zM529,110h2v2h-2z" fill="#a0301a"/>
<path d="M376,70h2v2h-2zM619,170h2v2h-2zM376,61h2v2h-2zM578,257h2v2h-2zM461,74h2v2h-2zM555,89h2v2h-2zM581,115h2v2h-2zM522,209h2v2h-2zM542,248h2v2h-2zM636,124h2v2h-2zM448,200h2v2h-2zM473,166h2v2h-2zM435,109h2v2h-2zM393,73h2v2h-2zM490,60h2v2h-2zM516,189h2v2h-2zM551,87h2v2h-2zM556,171h2v2h-2zM454,91h2v2h-2zM610,179h2v2h-2zM459,153h2v2h-2zM436,280h2v2h-2zM535,285h2v2h-2zM590,64h2v2h-2zM579,189h2v2h-2zM410,73h2v2h-2zM540,159h2v2h-2zM391,178h2v2h-2zM532,210h2v2h-2zM418,278h2v2h-2zM426,162h2v2h-2zM636,177h2v2h-2zM615,175h2v2h-2zM483,96h2v2h-2zM505,261h2v2h-2zM378,203h2v2h-2zM635,193h2v2h-2zM572,176h2v2h-2zM501,224h2v2h-2zM588,203h2v2h-2zM624,272h2v2h-2zM496,257h2v2h-2zM616,123h2v2h-2zM631,191h2v2h-2zM616,236h2v2h-2zM518,284h2v2h-2zM636,251h2v2h-2zM481,255h2v2h-2zM575,276h2v2h-2zM559,97h2v2h-2zM573,247h2v2h-2zM546,154h2v2h-2zM609,84h2v2h-2zM586,269h2v2h-2z" fill="#e07a2e"/>
</g>
<path d="M370.8,158.0 L371.6,149.7 L373.0,141.4 L376.6,134.8 L381.5,131.5 L388.0,126.5 L394.8,121.5 L401.4,116.6 L408.0,112.4 L416.0,110.0 L423.0,108.5 L426.0,106.3 L430.0,107.3 L438.0,112.4 L446.5,114.4 L456.5,114.4 L462.6,110.4 L468.6,102.3 L470.6,96.3 L474.6,88.2 L476.6,80.2 L478.6,70.0 L479.7,64.0 L490.7,65.0 L500.8,66.0 L508.0,60.0 L514.0,65.0 L516.0,75.0 L518.0,81.0 L526.0,83.0 L534.0,87.0 L540.0,90.0 L550.0,87.0 L558.0,82.0 L564.0,79.0 L570.0,82.0 L580.5,85.0 L590.0,85.0 L600.0,93.0 L610.0,98.0 L618.0,96.5 L625.0,94.0 L629.0,91.6 L631.4,95.0 L634.0,101.5 L636.4,109.8 L638.0,119.7 L636.4,121.4 L633.0,119.7 L631.4,126.4 L629.7,133.0 L626.4,134.6 L621.5,134.6 L618.0,139.6 L616.5,146.0 L615.6,150.0 L617.0,157.0 L618.8,166.8 L617.0,178.0 L615.7,186.0 L616.7,189.3 L613.9,198.7 L608.3,208.0 L600.8,217.3 L591.5,224.8 L578.4,229.5 L565.3,230.4 L556.0,228.5 L548.5,226.7 L543.0,227.6 L540.0,231.3 L542.0,235.0 L536.4,235.0 L533.6,237.9 L528.0,243.5 L524.3,248.3 L515.8,252.6 L509.4,256.9 L503.0,259.0 L494.5,259.0 L481.7,261.0 L471.0,263.3 L465.7,264.7 L464.3,268.7 L464.3,274.0 L464.3,279.3 L463.0,284.7 L459.0,288.7 L453.7,291.3 L441.7,290.0 L435.0,288.7 L427.0,286.0 L419.0,283.3 L412.3,278.0 L409.7,271.3 L403.0,267.3 L395.0,263.3 L390.0,252.6 L383.5,244.0 L379.0,231.0 L377.0,216.0 L376.0,205.0 L373.0,192.0 L371.0,180.0 L370.5,170.0 Z" fill="none" stroke="#555" stroke-width="0.7"/>
<path d="M152.8,299.0 L153.8,288.3 L157.0,282.0 L163.4,273.4 L174.0,268.0 L186.8,263.8 L201.7,260.6 L214.5,260.6 L225.0,263.8 L233.6,268.0 L242.0,277.7 L248.5,288.3 L250.6,299.0 L250.6,309.6 L247.4,318.0 L240.0,321.3 L229.4,321.3 L216.6,323.4 L203.8,324.5 L191.0,324.5 L183.6,322.3 L182.6,316.0 L185.7,310.6 L178.3,307.4 L169.8,306.4 L161.3,305.3 L154.9,303.2 Z" fill="#868686"/>
<g clip-path="url(#cll)">
<path d="M168.9,304.7 l-3.2,7.2" stroke="#646464" stroke-width="1.5" stroke-linecap="round"/><path d="M231.8,293.3 l-0.1,6.4" stroke="#9a9a9a" stroke-width="1.3" stroke-linecap="round"/><path d="M244.0,288.0 l8.5,4.2" stroke="#505050" stroke-width="2.1" stroke-linecap="round"/><path d="M195.5,324.2 l-5.6,4.9" stroke="#9a9a9a" stroke-width="1.7" stroke-linecap="round"/><path d="M205.6,304.9 l-4.8,9.5" stroke="#505050" stroke-width="1.3" stroke-linecap="round"/><path d="M165.0,319.9 l1.2,8.2" stroke="#646464" stroke-width="1.6" stroke-linecap="round"/><path d="M167.6,303.1 l0.9,9.9" stroke="#5a5a5a" stroke-width="1.4" stroke-linecap="round"/><path d="M173.2,322.5 l-9.0,3.1" stroke="#6a6a6a" stroke-width="2.0" stroke-linecap="round"/><path d="M249.5,265.1 l-1.6,8.2" stroke="#9a9a9a" stroke-width="1.6" stroke-linecap="round"/><path d="M243.1,317.3 l2.0,6.9" stroke="#646464" stroke-width="1.7" stroke-linecap="round"/><path d="M183.9,291.6 l6.7,7.4" stroke="#646464" stroke-width="1.4" stroke-linecap="round"/><path d="M153.1,265.1 l-2.5,7.7" stroke="#9a9a9a" stroke-width="1.8" stroke-linecap="round"/><path d="M207.2,300.4 l5.1,3.2" stroke="#9a9a9a" stroke-width="1.6" stroke-linecap="round"/><path d="M186.7,298.8 l3.2,4.6" stroke="#5a5a5a" stroke-width="1.4" stroke-linecap="round"/><path d="M228.8,284.6 l-4.9,7.6" stroke="#5a5a5a" stroke-width="2.1" stroke-linecap="round"/><path d="M192.6,323.8 l-8.5,1.0" stroke="#646464" stroke-width="2.1" stroke-linecap="round"/><path d="M202.3,303.2 l-6.3,1.3" stroke="#646464" stroke-width="1.8" stroke-linecap="round"/><path d="M231.6,310.1 l0.5,10.0" stroke="#9a9a9a" stroke-width="1.3" stroke-linecap="round"/><path d="M217.2,262.8 l5.2,5.2" stroke="#5a5a5a" stroke-width="2.1" stroke-linecap="round"/><path d="M249.0,308.3 l0.4,6.5" stroke="#6a6a6a" stroke-width="2.2" stroke-linecap="round"/><path d="M241.9,291.2 l-10.3,1.5" stroke="#5a5a5a" stroke-width="1.6" stroke-linecap="round"/><path d="M239.0,299.0 l2.0,8.3" stroke="#9a9a9a" stroke-width="2.1" stroke-linecap="round"/><path d="M166.4,298.2 l8.4,4.0" stroke="#5a5a5a" stroke-width="1.6" stroke-linecap="round"/><path d="M246.1,262.1 l-2.6,8.5" stroke="#6a6a6a" stroke-width="2.1" stroke-linecap="round"/><path d="M194.0,304.3 l-7.0,6.9" stroke="#5a5a5a" stroke-width="1.4" stroke-linecap="round"/><path d="M162.1,266.6 l7.7,0.6" stroke="#505050" stroke-width="1.4" stroke-linecap="round"/><path d="M216.9,268.7 l-0.8,6.9" stroke="#5a5a5a" stroke-width="1.7" stroke-linecap="round"/><path d="M213.6,272.2 l-5.6,2.7" stroke="#505050" stroke-width="2.0" stroke-linecap="round"/><path d="M211.9,292.9 l-3.7,3.8" stroke="#646464" stroke-width="2.1" stroke-linecap="round"/><path d="M198.2,264.7 l-4.5,4.1" stroke="#9a9a9a" stroke-width="1.9" stroke-linecap="round"/><path d="M247.1,299.3 l-4.5,4.6" stroke="#9a9a9a" stroke-width="1.4" stroke-linecap="round"/><path d="M232.8,311.9 l0.3,8.4" stroke="#505050" stroke-width="1.8" stroke-linecap="round"/><path d="M202.5,307.5 l-6.8,0.7" stroke="#6a6a6a" stroke-width="1.9" stroke-linecap="round"/><path d="M226.9,272.7 l-2.5,6.5" stroke="#505050" stroke-width="1.5" stroke-linecap="round"/><path d="M183.9,324.1 l5.1,1.8" stroke="#646464" stroke-width="1.4" stroke-linecap="round"/><path d="M202.2,321.1 l-4.9,7.8" stroke="#6a6a6a" stroke-width="1.7" stroke-linecap="round"/><path d="M190.9,286.3 l4.0,3.4" stroke="#5a5a5a" stroke-width="1.7" stroke-linecap="round"/><path d="M179.8,298.3 l2.2,7.2" stroke="#646464" stroke-width="2.0" stroke-linecap="round"/><path d="M190.5,291.7 l-4.3,9.9" stroke="#646464" stroke-width="1.4" stroke-linecap="round"/><path d="M169.7,284.4 l-2.0,6.0" stroke="#6a6a6a" stroke-width="1.7" stroke-linecap="round"/><path d="M218.1,315.5 l-5.3,7.4" stroke="#646464" stroke-width="1.5" stroke-linecap="round"/><path d="M190.5,299.9 l-9.2,5.6" stroke="#505050" stroke-width="2.2" stroke-linecap="round"/><path d="M168.6,273.5 l-8.6,3.5" stroke="#5a5a5a" stroke-width="1.4" stroke-linecap="round"/><path d="M160.6,279.9 l-9.3,1.7" stroke="#505050" stroke-width="1.7" stroke-linecap="round"/><path d="M249.7,271.2 l1.9,8.9" stroke="#6a6a6a" stroke-width="1.6" stroke-linecap="round"/><path d="M219.5,277.3 l-6.9,1.1" stroke="#5a5a5a" stroke-width="1.5" stroke-linecap="round"/><path d="M240.8,293.0 l6.7,6.2" stroke="#5a5a5a" stroke-width="1.9" stroke-linecap="round"/><path d="M244.8,290.4 l1.7,8.5" stroke="#5a5a5a" stroke-width="1.6" stroke-linecap="round"/><path d="M218.1,300.3 l10.3,3.3" stroke="#9a9a9a" stroke-width="1.5" stroke-linecap="round"/><path d="M232.1,320.3 l-3.1,4.1" stroke="#505050" stroke-width="1.8" stroke-linecap="round"/><path d="M191.7,288.8 l1.7,10.8" stroke="#5a5a5a" stroke-width="2.1" stroke-linecap="round"/><path d="M162.0,280.3 l1.5,10.3" stroke="#5a5a5a" stroke-width="1.6" stroke-linecap="round"/><path d="M208.6,318.9 l2.1,9.8" stroke="#646464" stroke-width="1.6" stroke-linecap="round"/><path d="M192.2,295.9 l7.5,6.4" stroke="#646464" stroke-width="2.1" stroke-linecap="round"/><path d="M239.2,261.7 l-1.4,5.3" stroke="#5a5a5a" stroke-width="2.1" stroke-linecap="round"/><path d="M167.7,292.4 l-0.7,8.2" stroke="#9a9a9a" stroke-width="1.7" stroke-linecap="round"/><path d="M167.7,270.4 l5.5,7.0" stroke="#505050" stroke-width="1.3" stroke-linecap="round"/><path d="M218.1,272.5 l9.5,3.0" stroke="#9a9a9a" stroke-width="1.6" stroke-linecap="round"/><path d="M158.5,263.0 l0.1,9.1" stroke="#5a5a5a" stroke-width="1.9" stroke-linecap="round"/><path d="M156.0,275.5 l2.8,5.9" stroke="#5a5a5a" stroke-width="1.5" stroke-linecap="round"/><path d="M224.0,294.1 l9.7,2.4" stroke="#505050" stroke-width="1.5" stroke-linecap="round"/><path d="M224.0,299.4 l-3.6,8.1" stroke="#9a9a9a" stroke-width="1.3" stroke-linecap="round"/><path d="M201.1,271.0 l-8.8,4.4" stroke="#505050" stroke-width="2.1" stroke-linecap="round"/><path d="M174.1,310.3 l-7.8,2.5" stroke="#9a9a9a" stroke-width="2.1" stroke-linecap="round"/><path d="M191.0,320.8 l-9.6,1.9" stroke="#9a9a9a" stroke-width="1.3" stroke-linecap="round"/><path d="M169.8,277.5 l7.2,0.6" stroke="#5a5a5a" stroke-width="2.0" stroke-linecap="round"/><path d="M243.8,294.9 l-5.8,2.3" stroke="#6a6a6a" stroke-width="2.2" stroke-linecap="round"/><path d="M180.8,289.4 l-8.0,7.2" stroke="#5a5a5a" stroke-width="2.1" stroke-linecap="round"/><path d="M192.5,272.0 l-1.2,9.8" stroke="#5a5a5a" stroke-width="1.6" stroke-linecap="round"/><path d="M250.0,318.9 l-9.4,1.4" stroke="#5a5a5a" stroke-width="2.2" stroke-linecap="round"/><path d="M225.3,274.2 l-0.7,7.2" stroke="#9a9a9a" stroke-width="2.2" stroke-linecap="round"/><path d="M164.8,275.9 l2.1,8.6" stroke="#5a5a5a" stroke-width="2.0" stroke-linecap="round"/><path d="M216.4,276.8 l1.6,7.1" stroke="#9a9a9a" stroke-width="1.7" stroke-linecap="round"/><path d="M156.8,315.5 l7.8,5.9" stroke="#646464" stroke-width="1.6" stroke-linecap="round"/><path d="M231.3,307.7 l-7.3,8.2" stroke="#646464" stroke-width="1.6" stroke-linecap="round"/><path d="M156.0,310.3 l-6.2,2.8" stroke="#646464" stroke-width="2.0" stroke-linecap="round"/><path d="M172.1,275.1 l-6.6,7.3" stroke="#505050" stroke-width="1.7" stroke-linecap="round"/><path d="M155.4,319.2 l6.4,2.8" stroke="#6a6a6a" stroke-width="1.6" stroke-linecap="round"/><path d="M214.3,298.8 l-5.8,8.4" stroke="#9a9a9a" stroke-width="2.0" stroke-linecap="round"/><path d="M216.9,307.5 l0.7,5.7" stroke="#6a6a6a" stroke-width="2.1" stroke-linecap="round"/><path d="M235.7,317.5 l6.6,1.6" stroke="#5a5a5a" stroke-width="1.9" stroke-linecap="round"/><path d="M226.3,320.4 l8.2,2.8" stroke="#6a6a6a" stroke-width="1.9" stroke-linecap="round"/><path d="M173.0,292.4 l-3.9,4.9" stroke="#9a9a9a" stroke-width="1.9" stroke-linecap="round"/><path d="M242.9,294.0 l10.1,0.3" stroke="#9a9a9a" stroke-width="1.6" stroke-linecap="round"/><path d="M220.9,287.0 l9.5,3.9" stroke="#505050" stroke-width="1.9" stroke-linecap="round"/><path d="M250.2,275.5 l-4.7,6.3" stroke="#6a6a6a" stroke-width="1.8" stroke-linecap="round"/><path d="M189.4,301.3 l-3.0,6.6" stroke="#646464" stroke-width="1.6" stroke-linecap="round"/><path d="M215.0,289.8 l-0.3,6.3" stroke="#505050" stroke-width="2.0" stroke-linecap="round"/><path d="M236.1,318.0 l-8.5,4.6" stroke="#505050" stroke-width="2.1" stroke-linecap="round"/><path d="M186.5,270.5 l6.6,0.3" stroke="#9a9a9a" stroke-width="1.9" stroke-linecap="round"/><path d="M173.9,263.7 l4.9,3.3" stroke="#5a5a5a" stroke-width="1.9" stroke-linecap="round"/><path d="M174.4,267.7 l-0.6,5.7" stroke="#505050" stroke-width="1.7" stroke-linecap="round"/><path d="M172.7,305.3 l-0.7,5.5" stroke="#6a6a6a" stroke-width="1.5" stroke-linecap="round"/><path d="M208.4,276.2 l2.1,9.5" stroke="#505050" stroke-width="2.1" stroke-linecap="round"/><path d="M191.9,321.9 l-7.5,5.2" stroke="#646464" stroke-width="2.1" stroke-linecap="round"/><path d="M156.2,292.4 l-9.1,3.2" stroke="#5a5a5a" stroke-width="1.8" stroke-linecap="round"/><path d="M156.5,301.5 l-5.0,4.2" stroke="#9a9a9a" stroke-width="1.7" stroke-linecap="round"/><path d="M204.7,271.1 l4.3,7.9" stroke="#646464" stroke-width="1.9" stroke-linecap="round"/><path d="M242.4,279.3 l8.0,3.0" stroke="#5a5a5a" stroke-width="1.7" stroke-linecap="round"/><path d="M226.5,270.1 l3.2,4.7" stroke="#646464" stroke-width="1.9" stroke-linecap="round"/><path d="M241.5,263.7 l-7.0,7.1" stroke="#505050" stroke-width="1.8" stroke-linecap="round"/><path d="M214.2,290.9 l-1.3,7.1" stroke="#646464" stroke-width="1.5" stroke-linecap="round"/><path d="M214.0,299.5 l2.0,9.4" stroke="#6a6a6a" stroke-width="1.3" stroke-linecap="round"/><path d="M172.4,262.6 l8.0,6.4" stroke="#5a5a5a" stroke-width="1.6" stroke-linecap="round"/><path d="M236.0,322.2 l5.1,5.0" stroke="#5a5a5a" stroke-width="2.1" stroke-linecap="round"/><path d="M180.2,298.6 l-7.9,4.6" stroke="#9a9a9a" stroke-width="1.7" stroke-linecap="round"/><path d="M188.8,318.3 l-3.1,6.0" stroke="#505050" stroke-width="2.0" stroke-linecap="round"/><path d="M238.8,276.3 l-7.0,0.1" stroke="#5a5a5a" stroke-width="1.6" stroke-linecap="round"/><path d="M223.4,262.4 l-2.5,10.2" stroke="#6a6a6a" stroke-width="1.5" stroke-linecap="round"/><path d="M227.8,275.3 l4.8,1.9" stroke="#646464" stroke-width="1.5" stroke-linecap="round"/><path d="M248.5,292.5 l-4.8,6.5" stroke="#646464" stroke-width="2.2" stroke-linecap="round"/><path d="M190.0,319.9 l-6.1,5.4" stroke="#505050" stroke-width="1.3" stroke-linecap="round"/><path d="M226.6,271.2 l7.4,2.7" stroke="#9a9a9a" stroke-width="1.4" stroke-linecap="round"/><path d="M163.7,293.2 l4.6,6.1" stroke="#646464" stroke-width="1.9" stroke-linecap="round"/><path d="M227.8,321.4 l-1.1,6.6" stroke="#646464" stroke-width="1.3" stroke-linecap="round"/><path d="M234.5,323.2 l6.0,6.3" stroke="#9a9a9a" stroke-width="1.6" stroke-linecap="round"/><path d="M235.6,269.2 l5.0,9.4" stroke="#5a5a5a" stroke-width="1.6" stroke-linecap="round"/><path d="M232.8,278.4 l-3.9,3.2" stroke="#5a5a5a" stroke-width="1.6" stroke-linecap="round"/><path d="M230.0,304.9 l-0.1,5.3" stroke="#9a9a9a" stroke-width="1.3" stroke-linecap="round"/><path d="M208.9,296.0 l-9.0,4.6" stroke="#5a5a5a" stroke-width="1.9" stroke-linecap="round"/><path d="M212.2,273.3 l8.0,4.9" stroke="#9a9a9a" stroke-width="1.7" stroke-linecap="round"/><path d="M174.0,285.9 l-8.0,6.2" stroke="#505050" stroke-width="2.0" stroke-linecap="round"/><path d="M176.7,281.1 l4.4,6.2" stroke="#505050" stroke-width="2.1" stroke-linecap="round"/><path d="M213.2,318.1 l1.0,9.2" stroke="#5a5a5a" stroke-width="2.1" stroke-linecap="round"/><path d="M171.1,300.0 l-10.3,0.6" stroke="#505050" stroke-width="2.1" stroke-linecap="round"/><path d="M241.0,296.1 l-10.1,3.1" stroke="#505050" stroke-width="2.0" stroke-linecap="round"/><path d="M213.1,261.2 l-8.1,7.3" stroke="#505050" stroke-width="1.8" stroke-linecap="round"/><path d="M214.4,264.6 l-10.7,1.7" stroke="#6a6a6a" stroke-width="1.7" stroke-linecap="round"/><path d="M192.7,323.5 l-8.8,4.0" stroke="#9a9a9a" stroke-width="1.7" stroke-linecap="round"/><path d="M171.0,279.7 l-4.7,4.3" stroke="#5a5a5a" stroke-width="1.4" stroke-linecap="round"/><path d="M168.4,286.9 l3.6,5.5" stroke="#6a6a6a" stroke-width="1.6" stroke-linecap="round"/><path d="M225.6,284.1 l-0.4,10.5" stroke="#5a5a5a" stroke-width="1.9" stroke-linecap="round"/><path d="M197.8,290.8 l-0.3,6.4" stroke="#9a9a9a" stroke-width="1.8" stroke-linecap="round"/><path d="M228.2,304.4 l4.8,7.3" stroke="#6a6a6a" stroke-width="2.0" stroke-linecap="round"/><path d="M193.9,275.3 l-9.7,3.2" stroke="#5a5a5a" stroke-width="1.5" stroke-linecap="round"/><path d="M248.3,294.3 l-5.3,1.6" stroke="#9a9a9a" stroke-width="2.0" stroke-linecap="round"/><path d="M234.2,291.3 l-2.0,6.3" stroke="#505050" stroke-width="1.8" stroke-linecap="round"/><path d="M237.4,301.7 l-2.2,5.2" stroke="#505050" stroke-width="1.6" stroke-linecap="round"/><path d="M172.7,295.0 l-4.7,6.6" stroke="#5a5a5a" stroke-width="1.8" stroke-linecap="round"/><path d="M215.4,305.2 l-10.1,0.1" stroke="#6a6a6a" stroke-width="1.7" stroke-linecap="round"/><path d="M220.5,288.2 l6.7,0.3" stroke="#5a5a5a" stroke-width="1.6" stroke-linecap="round"/><path d="M240.0,302.6 l6.4,6.8" stroke="#646464" stroke-width="1.9" stroke-linecap="round"/><path d="M200.9,298.1 l-5.1,1.8" stroke="#9a9a9a" stroke-width="1.6" stroke-linecap="round"/><path d="M246.8,294.4 l-0.3,6.6" stroke="#5a5a5a" stroke-width="1.4" stroke-linecap="round"/><path d="M237.3,267.2 l-4.9,9.2" stroke="#6a6a6a" stroke-width="1.5" stroke-linecap="round"/><path d="M169.7,298.6 l-5.8,6.9" stroke="#505050" stroke-width="1.4" stroke-linecap="round"/><path d="M235.7,291.3 l-7.8,3.7" stroke="#646464" stroke-width="1.5" stroke-linecap="round"/><path d="M189.7,279.9 l-8.5,6.8" stroke="#6a6a6a" stroke-width="1.4" stroke-linecap="round"/><path d="M190.0,300.6 l8.5,4.8" stroke="#505050" stroke-width="1.6" stroke-linecap="round"/><path d="M218.5,273.7 l-0.3,6.1" stroke="#9a9a9a" stroke-width="1.4" stroke-linecap="round"/><path d="M156.7,322.3 l-5.7,4.1" stroke="#646464" stroke-width="1.7" stroke-linecap="round"/><path d="M179.5,312.5 l-5.1,1.4" stroke="#6a6a6a" stroke-width="2.0" stroke-linecap="round"/><path d="M209.1,270.0 l-0.3,5.5" stroke="#646464" stroke-width="2.1" stroke-linecap="round"/><path d="M191.8,302.5 l-8.0,5.2" stroke="#505050" stroke-width="2.1" stroke-linecap="round"/><path d="M193.0,301.8 l9.6,1.7" stroke="#9a9a9a" stroke-width="1.9" stroke-linecap="round"/><path d="M176.4,277.4 l-1.9,8.1" stroke="#646464" stroke-width="1.5" stroke-linecap="round"/><path d="M190.0,282.5 l-10.3,1.8" stroke="#9a9a9a" stroke-width="1.5" stroke-linecap="round"/><path d="M235.1,278.8 l-7.8,4.8" stroke="#505050" stroke-width="1.3" stroke-linecap="round"/><path d="M248.8,265.1 l7.5,2.9" stroke="#9a9a9a" stroke-width="1.9" stroke-linecap="round"/><path d="M230.1,322.7 l3.2,5.5" stroke="#5a5a5a" stroke-width="1.5" stroke-linecap="round"/>
<path d="M184,310 Q200,302 226,290" stroke="#3e3e3e" stroke-width="2.2" fill="none" stroke-linecap="round"/>
<path d="M214,264 Q206,278 201,292" stroke="#3e3e3e" stroke-width="2.2" fill="none" stroke-linecap="round"/>
<path d="M165,285 Q180,290 195,287" stroke="#3e3e3e" stroke-width="2.2" fill="none" stroke-linecap="round"/>
<path d="M171,299l-1.4-.2 -1.1-.7 1.3-.8 1.3,.4zM164,289l0,.5 -.6,.8 -.9-.3 .1-1.2zM170,285l1.8-2.2 2,.7 -.7,2.1 -1.9,.4zM161,291l1-3 3,.4 -.1,2.6 -2,1.1zM163,283l2.7,.3 .8,1.5 -2.9,.7 -1.9-1zM239,283l-.2,1.1 -1.4,.6 -.7-.8 1-1.4zM227,285l2,0 2.9,2.2 .2,1.5 -3-.7zM238,287l1.3,2.5 -1.1,1.8 -2.9-1.4 -.5-2.2zM228,284l0,1.2 -.9,.8 -1-.9 .1-1.3zM235,285l-1.6-.1 -.9-2.1 .8-.7 1.2,1.4zM229,294l.5-1.6 .9-.1 .2,.8 -.9,1.2zM227,283l2.1,1.3 -.7,1.9 -2.5,.6 -.8-2.7zM195,314l-.3-2.6 1.5-2.4 .9,2.3 -.7,3.1zM201,299l3.2,.9 3,1.9 -2.4,.8 -3.4-1.4zM190,306l1.2-.3 .3,2.7 -.9,1.1 -.8-1zM216,308l-2,.1 .4-1.3 2.3-.6 1.1,.8zM197,300l1.8,.5 -.8,2.3 -2.9,.3 -.6-1.6zM210,308l.2-.8 1.3,1 -.3,1.3 -.9,.3zM209,302l.8-2.5 1.3-1.6 .7,2 -.7,2.1zM197,312l2,0 0,2.2 -1.8,.5 -1.3-1.1zM225,304l-.9,.1 .6-1.8 1.4-1 .7,.8zM210,311l-.2,1.9 -1.6-.7 -1-2.2 1.2-1.2zM207,303l2.4-1.2 .8,2.1 -1.8,2 -1.8-.5zM234,306l1.7-.2 1.3,1.6 -1.9,1.9 -2.2-.5z" fill="#b02018"/>
<path d="M183,285l1.4,.5 -.9,1.6 -1.8,1 -.2-1.6zM211,282l.5-1.1 .7,.2 -.2,1.1 -.6,.2zM186,284l1-1 .7,0 0,1.1 -.9,.7zM187,273l.7,1 .1,1.5 -1.5,.1 -.4-1.3zM207,274l.7,1.5 -1.1,1.1 -1.2-.1 .1-1.2zM179,301l1.9,1.8 1.1,2.4 -1.9-.2 -1.7-2.8zM166,299l-1.5,2 -2.7,1.4 -.7-2.1 2.4-2.1zM183,296l-1.2,.4 -1.4-.7 .6-1.6 1.7,.3zM183,303l-1.4-.5 -.4-1.3 1-.1 .9,1.3zM218,295l.8,.5 -.2,1.1 -.9,.2 -.6-.9zM224,292l1,1.8 -.5,.6 -1.3-.9 -.4-.9z" fill="#a01c18"/>
<path d="M165,299l-1-3.1 1.7,.2 1.2,1.8 -.1,1.8zM163,292l0-1.5 1.7-.3 1.9,1.2 -1.2,1zM159,290l-.8,2.2 -2.1,.2 -1-2.2 1.9-1.1zM171,285l.4-.5 1.9,.7 .1,1.1 -1.6-.2zM164,297l.1,1.9 -3.8-1.6 -1.5-2.1 3,.1zM174,289l2.3,1.6 0,1 -2.1-.1 -1.5-1.8zM174,295l-1.4,1.2 -.8-2.6 1-1.9 1.3,1.7zM232,292l-.1,2.1 -2.1-1.8 -.4-2.2 1.6-.3zM224,294l.1-1.4 2.4-.3 .9,.9 -1.4,1zM227,283l1.4,1.3 -1.1,3.6 -1.5-.1 -.3-2.6zM229,293l-.9-1.1 1.7-1.9 2.2,.1 -.7,2.1zM228,309l-.3,1.4 -1.3,.5 -1.5-1.2 .6-1.2zM212,301l-2.7-.7 -.3-1.3 1.8-.1 2.2,1.1zM208,302l.8-.8 1.3-.2 -.5,1.9 -1.3,1zM215,314l2,1.4 .5,1.8 -1.4-.5 -1.3-1.6zM212,298l0,.7 -1.4,.6 -.8-.6 .5-.9zM233,305l-.4,1.8 -1.5-.5 -.1-2.4 1.2-.7zM222,306l-2.3,.7 -2.9-.6 .9-1.3 2.7-.1zM192,312l-1.1,.2 1.1-1.7 1.5-.1 .4,.9zM213,300l.7-1.7 2.1,.2 .9,2 -2.3,.7zM217,311l1.7-.9 1.7,.5 .2,1 -2.3,.6zM215,309l-1.6-.3 .5-1.4 2.9-.9 .7,1.2zM234,313l-3.6,1 -1.4-1.6 1.2-1.5 3.7-.1zM227,303l-1.4,1.3 -.1-1.3 1-1.7 .9,.2zM213,299l1.6-.9 2,1.6 -.6,2.2 -2.5-.1zM209,273l1.8-.5 .5,1.6 -1,1.3 -1.1-1zM196,286l.2-1.4 .8-.9 .4,.7 -.3,1.7zM191,279l1.1,.5 1.6,2.1 -1,.6 -1.8-1.4zM212,288l.7-1.8 1.8-.7 .6,1.7 -1.8,1zM212,274l.9,.4 -.1,.5 -1-.6 -.8-.8zM185,285l1.2-1.7 .5,.8 -1,2 -1.2,.5zM197,276l1.4,.9 -.1,1.5 -1.7,0 -.5-1.7zM179,278l.1-1.6 1.4,.7 .5,1.1 -.5,.6zM193,279l-.6,0 .5-2 1.6-1.1 .2,1.8zM198,277l.8-1.4 1.7,.6 -.1,1.7 -1.3,.3zM218,276l-.2,1.8 -1.9,.8 -.8-.8 1.3-1.5zM178,276l1-1.4 1.2-.8 .1,1 -.8,1.2zM190,287l.4-2.1 1.2-.6 .2,1.3 -1.2,1.6zM174,304l-.8,1 -1.3-.8 -.4-2.4 1.2-.1zM177,298l1.2,.7 .6,1.4 -.4,1.3 -.9-1.4zM168,299l-2.4,.6 -2.3-.8 2-.9 2.4,.2zM175,307l-2.5-1.6 .4-2.2 2.2-.2 1.5,1.8zM164,296l1.5-1.7 2.1,.3 -.7,1.6 -1.9,.4zM206,295l1.8-.9 -.4,2 -2.2,1.3 -1.4-.2zM201,289l1.1,1.2 -.9,1.7 -1.4-.1 .3-1.7zM220,290l1,1 -.4,.8 -.9-.2 -.2-.7zM217,295l-1.8,.6 -1.1-.7 .8-1.3 1.7,.1z" fill="#c8281c"/>
<path d="M171,283l1.9,2.2 -.9,1.2 -2.7-1.7 -.9-2.5zM177,294l-2.8-.2 -.3-2.2 2.1-1.5 2.4,1.8zM165,284l1.1,.5 -.5,1.3 -1.4,.9 -.2-1zM159,287l.6,2 -1.3,.6 -1.2-1.1 .5-1.5zM232,287l-1.5-.3 .2-.9 1.8-.6 1.5,.6zM196,304l.7,2.8 -2.8-1.6 -1.7-2.8 1-1.1zM230,304l-2.2-1.4 -1-2.4 3.1-.5 1.9,2.4zM227,305l1,.5 -1.2,1.1 -1,.1 .2-.9zM230,303l2.6,1.1 -.6,1.2 -2.6,.6 -1.7-1.4zM207,312l-3.1-.9 1-1.5 3,.2 1.5,1.6zM213,313l-1.7-2.4 1-3.2 1.6,.9 .5,3.7zM210,301l.2,.9 -1.1,.2 -.6-1.2 .9-.4zM209,312l-1.9,.8 -1.7-1.1 .3-1.1 2.3,.3zM219,297l2.2,2.2 -1.6,.7 -2.1-1.1 -.1-1.7zM226,308l-.3,3 -1.5,.7 .1-2.2 1.2-1.5zM208,315l-1.3-2.4 .5-1 1.6,1.5 .1,1.5zM208,309l2.7,2.5 1.3,3 -2.8-.7 -2.4-2.6zM213,305l-1.3-.9 .4-1.3 1-.2 .4,1.3zM228,314l-.6-.8 1.7-.9 1.4,.4 -.3,1.1zM233,307l-.3-2.4 1.1-1.7 .7,.9 -.7,2.2z" fill="#d8301e"/>
<path d="M191,282l-.4,.7 -.4-.9 .5-.7 1,.5zM186,278l1.6,.2 0,1.5 -1.2,1.2 -.6-1.4zM208,278l0-.6 1.4,.5 .7,1.4 -1.1,0zM198,280l-.7-.5 .2-1 1.3,.2 .5,1zM219,285l-.6,.9 -1.2-.9 .1-1.3 1,.1zM192,274l.6,.7 0,1.3 -1.1-.3 -.3-1.2zM201,277l-1.2-.8 -.1-2 1.9,.1 1,1.6zM219,279l-.4-1.5 .5-1 .8,.8 -.1,1.6zM176,299l.1,1.6 -1.8,.3 -1.1-.5 1.5-1.1zM171,298l1.5-1.7 2,1.2 -.6,2.2 -1.9,.3zM180,302l.8-2.8 2.3-.1 .3,1.9 -2,1.4zM167,298l-1.9-.5 1.4-1.8 1.8,.1 1,1.5zM170,297l-.2-3.9 .8-2.1 1.5,1.8 -.2,3.5zM180,293l1.8,.3 -.9,2.7 -2.1,1.3 -.5-2zM201,291l-2.1-.2 0-1.2 2.3-.5 .8,1zM211,296l.5,1.4 -1.8,.3 -.9-1.6 1.1-.8z" fill="#d8401e"/>
<path d="M170,298l-.2-1.6 .9,.5 .4,1.4 -.5,.8zM166,299l-.2-1.9 1.1-.8 1.5,1 -1.1,1.4zM239,286l-.9,1.3 -1.5-.7 .2-1.3 1.2-.6zM232,292l-1.1-1.9 2.3-1.4 2.2,.2 -.1,2.2zM233,283l-1.1-1 .7-1.2 1.3,.2 0,1.3zM229,287l0,1.4 -1.3,.2 -.8-2.5 .9-1.4zM205,308l-2.1-.4 1.2-.7 1.6,.3 .6,.7zM212,300l-2.7-2.1 1.3-2.6 3.2,.2 0,2.6zM218,306l-.8-1.8 1.8-1.2 1.3,2 -.8,2.2zM203,305l-.3,.9 -.8,.7 -.9-.7 .4-1zM220,312l1.5-.8 1,1.2 -.4,1.5 -1.5,.1zM199,310l0-2.3 1.2-2.1 .8,1.5 -.3,2.8zM188,309l.1-1.3 1.1,.4 1,1.5 -1.2,.3zM202,304l-.3,1.3 -1.4,1.2 -.8-1.6 .5-1.2zM213,311l0-3.3 1.5-.3 .4,3.4 -.6,2.7zM204,306l-.9-1.1 .2-1.5 1.2-.2 .9,1.6zM199,306l-2.3,2.2 -1.8-.5 .8-1.3 3-1.4zM208,309l.9-1.2 1.3,1 0,2 -1.6,.1zM228,300l-2.6,1.5 -.4-1.2 1.8-1.7 1.8,.3z" fill="#e0501e"/>
<path d="M175,301l-.9-.9 .4-.6 1,.2 .2,1zM165,301l-2.1-.1 -1.1-1.2 .9-.8 2.1,.9zM173,303l.7,.4 -1,.5 -1.3-.1 .7-.9zM166,299l-1.4-.6 1-.7 1.4,.8 -.2,.9zM174,304l1.7,.5 -.5,1.2 -2.3-.4 0-1.4zM182,300l1.1,1.9 -1.3-.1 -.9-1.3 .2-1zM166,297l1-1.5 .9,0 .1,2.3 -.8,.5zM180,294l1.9,1 -1.3,.7 -2.1,.1 0-1.2z" fill="#e8601d"/>
<path d="M164,290l-.6,.2 -.6-.4 .1-1 .7-.2zM175,293l.2-1.9 1.4-.5 .4,2.2 -1,1.5zM172,285l1.1,.2 -.2,.7 -1-.1 -.8-.4zM160,296l1.7-1 1.4,1.4 .1,1.9 -2.1-.4zM165,285l-1.5,.4 -.9-1.1 .8-1.1 1.5,.4zM237,286l.5-1.6 .8,.9 -.3,1.5 -.8,.5zM231,287l-.7,2.8 -1.2-1.4 .2-2.6 1.1-1.2zM237,291l-1.2-1 .6-2.4 1.5,.4 .6,1.6zM232,285l.6,.9 -.5,1 -.9-.2 -.1-1zM232,291l-1.4,1.4 -1.6,0 -.4-1 2-.9zM228,286l-2.1,.2 .1-1.7 1.8-.8 1.4,.6zM228,310l-.8,.6 -1.7-.2 0-.9 1.1-.4zM213,297l.5,1.2 -1.7,.3 -1.6-.9 1-1.6zM195,313l.5-2.4 1,.1 .2,2 -1.1,1.6zM219,307l-.9-.5 -.6-2.1 1.1-1.6 1.3,1.6zM203,306l-1,.4 -.9-.4 .3-.8 1-.3zM210,298l.4-.7 .8,.8 .3,1.2 -.5-.1zM211,311l1.1-1.7 2.1-.1 .3,1.1 -2.1,1.2zM217,308l-1.3,.1 -1-.8 .2-.8 1.7,.3zM220,310l.1,1 -1.2,.6 -1,0 .7-1zM202,304l-.8,1.1 -1.7,.6 -.4-.7 1.6-1zM216,308l0,.9 -1.1-.2 -1.2-1.6 .9-.4zM209,301l1.6-1.7 1.4-.5 -.2,1.9 -1.7,1.1zM232,311l.9,1.4 -1,1.4 -1.5-1 -.3-1.5zM208,314l-1,.3 .1-1.1 1.2-.7 .5,.5zM229,314l-.7,.6 .2-1.6 1.1-1.5 .5,.8zM235,305l-1.1,.7 -1.2-.5 -.3-1 1.6-.4z" fill="#f07a1d"/>
<path d="M183,286l.5-.5 -.2,1.3 -1,.8 -.2-.7zM191,282l-.2-.4 .6,.2 -.1,.5 -.5,0zM191,280l1.3,.4 .3,.9 -.6,.1 -1-1zM186,284l.2,1.4 -.4,.5 -.6-.8 -.2-1.2zM216,277l.4-.5 .7,.1 .1,1.5 -.8,.2zM198,280l-.2-1.1 .9,0 0,.5 -.5,.4zM191,275l.8-.7 .5,.6 .1,.6 -.6-.3zM201,276l-.8,0 .5-.9 1-.4 0,1.1zM219,278l.9,0 -.5,.4 -.6-.3 .2-.6zM191,286l-.7,0 .2-.6 .6-.2 .2,.6zM174,297l.2,1.5 -1.4,.9 -1.4-.3 .8-1.2zM181,302l1.3-.4 .7,.6 -.6,.4 -.9-.2zM170,295l-1.4-1.7 1.9-.2 2.3,.8 -.1,1.2zM165,297l-.2-1.1 1-1 .8,.1 -.2,.9zM221,291l-.3,.6 -.5-.1 -.6-.5 .4-.2zM210,296l1.2-.1 -.5,.6 -.9,.2 -.5-.3zM224,293l.3,.1 -.1,.5 -.7,.2 -.3-.5zM215,295l-.1-.3 .3-.9 .8,.3 0,.7z" fill="#f0801d"/>
<path d="M167,297l-.6,1.8 -1.2,.2 -.4-1.7 .9-1zM164,291l-.1-1.3 1.2,1.1 .5,1.8 -1.1-.1zM156,291l.3-1.6 1.7,.8 .3,1.4 -1.2,.4zM172,284l1.2-.3 -.5,1.5 -1.3,.6 -.6-1.1zM168,298l-.7,.6 -1.3-.7 -.5-1 1.6-.2zM237,284l.4-1.5 .8-.2 .3,1.6 -.4,1.1zM230,290l2,.6 .7,1.7 -2,.1 -1.5-1zM232,290l-.2-1.6 1.7,.5 1.3,1.7 -.6,1.4zM233,282l-.6,.1 0-.6 .8-.2 .5,.5zM226,284l1.7,.5 .7,.7 -1.3,.2 -1.2-.5zM233,284l.2-1 1-.3 .3,1.2 -.5,1zM230,294l-.6-.5 -.4-1 .8-.3 .7,.9zM210,300l.2-1.4 1.3,.5 .4,1.6 -1.4,.3zM193,303l1.6-.4 1.4,1.1 -1.1,1.7 -1.6-.9zM203,302l-1.7-1 2-.9 2.6,0 -.6,1.4zM229,301l1.9,.2 -.1,1.5 -2.7,.4 -1.1-1.3zM191,308l-.3,1.3 -.6-.6 -.1-1.6 .9-.9zM230,304l1.3-.5 .4,1.5 -1.2,1.1 -1-1.1zM209,311l-1.4,.8 -2.4-.5 -.1-1.1 1.6-.2zM233,305l-.8,1.1 -1-.7 .3-1.1 1.1-.4zM189,308l.7,.1 0,1 -1.3,.3 -.5-.5zM195,302l.7-1.8 1.8,.2 .5,1.9 -1.4,.9zM192,312l.1-1.4 .9-.3 .3,.9 -.9,1.3zM215,300l-2-.7 .3-.9 1.7,.7 1.3,1.4zM209,301l1.3-.1 -.2,.6 -1,.2 -.5-.6zM213,311l.1-1.5 1.7-.8 .6,1 -1.5,1.8zM211,309l-.5,.6 -.6-.6 .4-1 .7,.1zM197,313l.5-1.3 .7,1.1 -.1,2.1 -1.2-.2zM226,302l.1,.8 -.6,.6 -.7-.4 0-1zM208,312l1.1-1.3 1.5,.4 .2,1.9 -2.1,.7zM209,310l-.8-.7 .6-.6 1.3,.5 0,.9zM208,303l1.8,.9 -.6,1.7 -1.6-.7 -.7-1.6zM181,303l.1,1.1 -1.2-.3 -1.2-1.3 .9-.4zM178,299l.6,.7 -.7,.7 -.4-.2 .4-1.1zM181,295l.5-.4 1.3,.2 .1,1 -1.2,.1z" fill="#f59a1d"/>
<path d="M171,298l.1,.3 -1.2,.2 -.8-.3 .7-.4zM170,283l2,.6 0,1.9 -1.9,0 -1.2-1.4zM170,299l.1-1.4 .2-1 .7,.6 -.2,1.3zM164,286l.4-.9 .7-.3 .4,.7 -.5,.7zM163,289l1.2,.5 -.1,2 -1.5,.6 -.7-2.1zM159,287l-.2,1.9 -1,.6 -.1-.9 .9-1.6zM175,291l-1.2-1 1-.4 1.3,.9 -.4,1zM174,295l-1,.4 -.8-1 .5-1.1 1.1-.2zM226,294l-1.4-.5 -.1-1.1 1.6,0 .9,1zM227,284l.6,2.1 -1,2 -.9-1.4 .6-2.8zM227,287l.8-1 1.2,.6 .3,1.2 -1.5,.1zM204,307l1.2-.1 .5,.7 -.6,.4 -1-.2zM208,302l.9-.3 1.2,.4 -.3,.8 -1.6-.1zM216,317l-.6-.6 .1-1.3 1.3-.5 .3,1zM226,307l0-1.3 .7-.4 .6,.5 -.2,.9zM221,312l1.4,.1 -.3,1 -1.3,.8 -.4-.8zM201,308l-.9,1 -1.2-.6 .6-1.1 1.1,0zM219,306l-1.2-.5 .9-.8 1.7,.2 0,1.3zM207,310l.5,.8 .2,1.9 -.8,.1 -.7-1.2zM205,305l-1,.3 -.6-.5 .3-1.1 .8-.3zM221,297l-1,1.9 -2.5,.8 0-1.2 1.5-1.3zM224,309l1.3-.4 .9,.8 -.2,1.1 -1.4-.4zM197,306l.6,0 .4,1.5 -1.7,.8 -.4-1.4zM208,311l.9-1 .7,.6 -.2,1.9 -1.3-.1zM227,302l0,1 -1.2,.7 -.5-.5 .9-1.1zM228,301l-2.2-.6 -.3-.8 1.2-.3 1.4,.6zM213,304l-.6,.5 -.1-1 .4-1.1 .8,.6zM215,298l.8,1.7 -.4,1.9 -1.4-.1 -.7-2.3zM236,306l.5,1 -1.8,1.9 -1.7,0 1.3-2.1z" fill="#f7b21d"/>
<path d="M175,301l-.5-.8 0-.6 .5,.2 .3,.6zM180,304l-.6-.6 .2-.7 .7-.1 .3,.5zM173,299l-.9-.5 .5-.4 .9-.1 -.3,.6zM165,298l1.2,.4 .6,.4 -.6,.3 -.6-.1zM182,301l-.7,.2 -.2-.9 .7-.2 .7,.5zM172,293l-.5,1.1 -.9,.6 -.4-.4 .6-.9z" fill="#f9d81c"/>
<path d="M171,284l.4,.8 -1,.3 -.6-.7 .7-.8zM171,285l.9-.9 .6-.5 0,1.1 -.7,.8zM165,286l-.7-.6 .2-.3 .6,.2 .3,.4zM159,289l-.6-.2 -.8-.7 .3-.4 1.1,.5zM163,284l.8-.5 .7,.4 0,.8 -.9,.1zM226,285l.6-.4 1.4-.4 .7,.5 -1.1,.9zM210,300l-.1-.5 1-.4 .5,.5 -.4,.5zM209,302l.2,.8 -.3,.1 -.3-.7 .2-.6zM202,306l-.3-.8 .5-.2 0,.7 -.3,.6zM221,312l.6,.6 .5,.6 -.5,0 -.9-.4zM200,308l-.1-1 .6,.9 0,1.1 -.7-.2zM219,306l.3-1.5 .5,.7 -.1,1 -.7,.4zM197,301l.6,.5 -.7,.5 -1.6-.2 .1-.7zM214,299l.6-.3 .4,.6 -.2,.8 -.6,.4zM220,311l-.6,.4 -.5,.2 -.1-.5 .4-.5zM209,301l.5,0 .5,0 -.1,.4 -.6,.1zM200,305l-.5-.3 .6-.4 1.1,.2 .2,.6zM211,309l-.4,.2 -.6-.5 .3-.4 .5,.3zM211,300l.3,.7 -.8,.5 -.3-.9 .3-.9zM197,306l.4,.4 -.1,.7 -.7,.5 -.7-.8zM226,303l0-.4 .2-.6 .5,.4 -.1,.9zM226,300l1.1-.4 .5,.5 -.6,.3 -.8-.4zM213,304l-.5,0 -.1-.7 .4-.3 .3,.6zM228,313l.8-.2 .9,.1 0,.5 -.6,.2z" fill="#f9e21c"/>
<path d="M176,292l1,.2 -.9,.8 -1.1-.1 0-1.1zM173,285l-.8,.7 -.7,.1 .1-.5 .7-.2zM226,293l-.4,.8 -.5-.1 .3-1.2 .6,0zM226,309l1,.5 0,.5 -.8,.3 -.5-.4zM216,315l.7,.7 -.1,.5 -.8-.1 -.2-.6zM211,299l-.2,0 -.2-.5 .2-.3 .4,0zM232,305l.6-.8 -.1,.8 -.7,.7 -.2-.3zM190,309l-1.3,.1 -.5-.3 .2-.4 .9,0zM216,307l.2,.3 -.4,.4 -.5-.1 .1-.7zM213,311l.2-1 .9-.7 .8,.4 -.6,1zM218,298l.7-.5 .8,.6 -.1,.8 -.8,0zM226,303l-.5,.4 -.4-.3 .1-1 .4-.2zM234,309l.4-1.3 .6-1.3 .5,.3 -.2,1.2z" fill="#fbec3a"/>
<path d="M170,298l-.1-.2 .3-.1 .3,.4 -.2,.6zM163,289l.7,.3 -.1,.5 -.5,.1 -.1-.5zM158,290l0,.9 -.5,.5 -1.1-.3 -.3-.7zM164,291l-.2,.3 -1.2-.8 -.2-1 .7-.2zM167,298l-.7,.3 -.2-.5 .8-.8 .5,.1zM173,294l-.1-.4 .8,.2 -.2,.7 -.6,.4zM238,285l.1,1 -.5,.7 -.3-.6 0-.5zM231,286l0,1.2 -1.4,.3 -1.1-.4 1.2-.5zM238,290l-1,.1 -.7-.7 .7-1.1 .9,.1zM233,291l-.3-.9 .4-1 .8,.5 .1,.8zM233,281l.5,.6 -.5,.6 -.3-.1 .1-.5zM230,293l-.3-1.5 -.2-.8 .8,.2 .5,1.3zM234,284l-.9,0 .4-.7 .8-.3 0,.7zM207,312l-.7-.6 -.6-1.6 .7,0 .8,1.1zM204,304l.1-.2 .3,.2 -.1,.7 -.5,.2zM214,308l.7-.7 .7,.3 .3,.6 -.6,.5zM226,309l-.5,.8 -.8,.4 0-.6 .6-.5zM232,311l.1,1.1 -1.1,.7 -1,0 .9-1zM209,311l.2,.5 -.8,.3 -.3-.6 .7-.6zM215,299l1.1,.5 -1.2,1.1 -1.1,.2 0-.8zM234,305l-.4,.2 -.8-.7 .3-.3 .7,.4z" fill="#fff27a"/>
<path d="M168.9,284.9h1.8v1.8h-1.8zM165.7,294.9h1.4v1.4h-1.4zM165.9,297.0h1.8v1.8h-1.8zM217.9,303.4h1.8v1.8h-1.8z" fill="#d92a1e"/>
<path d="M163.7,287.7h1.8v1.8h-1.8zM208.5,304.3h1.4v1.4h-1.4zM225.2,306.1h1.8v1.8h-1.8zM232.2,306.0h1.8v1.8h-1.8zM190.6,308.4h1.8v1.8h-1.8zM229.7,308.7h1.4v1.4h-1.4zM218.1,313.4h1.8v1.8h-1.8zM217.5,315.8h1.8v1.8h-1.8z" fill="#fff27a"/>
<path d="M170.8,287.4h1.8v1.8h-1.8zM162.0,291.7h1.4v1.4h-1.4zM163.5,294.6h1.8v1.8h-1.8zM166.5,299.1h1.8v1.8h-1.8zM224.4,283.6h1.4v1.4h-1.4zM235.4,283.4h1.4v1.4h-1.4zM227.0,286.1h1.4v1.4h-1.4zM203.6,299.3h1.4v1.4h-1.4zM225.2,301.5h1.8v1.8h-1.8zM236.2,303.5h1.4v1.4h-1.4zM194.9,306.2h1.4v1.4h-1.4zM210.9,306.3h1.4v1.4h-1.4zM195.4,308.9h1.8v1.8h-1.8zM211.4,308.9h1.8v1.8h-1.8zM217.5,310.6h1.8v1.8h-1.8zM222.3,310.9h1.8v1.8h-1.8zM199.0,274.3h1.8v1.8h-1.8zM191.7,278.8h1.4v1.4h-1.4zM162.1,296.4h1.4v1.4h-1.4zM171.8,299.0h1.4v1.4h-1.4zM174.3,298.7h1.8v1.8h-1.8zM183.2,298.5h1.4v1.4h-1.4zM178.7,301.3h1.4v1.4h-1.4z" fill="#f7a51d"/>
<path d="M166.7,290.3h1.8v1.8h-1.8zM168.6,289.4h1.4v1.4h-1.4zM159.1,292.0h1.8v1.8h-1.8zM170.9,292.0h1.4v1.4h-1.4zM170.5,296.5h1.8v1.8h-1.8zM231.1,290.1h1.8v1.8h-1.8zM235.5,290.3h1.8v1.8h-1.8zM228.8,292.4h1.4v1.4h-1.4zM208.6,299.5h1.8v1.8h-1.8zM213.0,299.6h1.4v1.4h-1.4zM204.0,301.2h1.4v1.4h-1.4zM215.9,303.6h1.4v1.4h-1.4zM222.1,303.7h1.4v1.4h-1.4zM229.7,306.4h1.4v1.4h-1.4zM197.5,308.0h1.4v1.4h-1.4zM199.6,308.4h1.4v1.4h-1.4zM201.9,308.2h1.8v1.8h-1.8zM216.0,308.2h1.8v1.8h-1.8zM224.4,308.7h1.4v1.4h-1.4zM199.9,310.8h1.8v1.8h-1.8zM213.5,310.5h1.8v1.8h-1.8zM215.4,311.2h1.8v1.8h-1.8zM227.2,311.0h1.4v1.4h-1.4zM210.6,312.9h1.8v1.8h-1.8zM226.6,313.5h1.8v1.8h-1.8zM165.0,293.8h1.8v1.8h-1.8z" fill="#f9e21c"/>
<path d="M159.6,294.6h1.4v1.4h-1.4zM235.7,288.5h1.4v1.4h-1.4zM234.1,303.4h1.4v1.4h-1.4zM204.1,310.4h1.4v1.4h-1.4zM231.4,311.3h1.4v1.4h-1.4z" fill="#ee5a1c"/>
<path d="M208.1,276.5h1.4v1.4h-1.4zM213.2,277.3h1.4v1.4h-1.4zM199.1,279.4h1.8v1.8h-1.8zM191.9,287.9h1.8v1.8h-1.8zM204.7,287.1h1.8v1.8h-1.8z" fill="#e0601e"/>
<path d="M189.7,286.5h1.8v1.8h-1.8z" fill="#c8341c"/>
<path d="M198.8,285.7h1.8v1.8h-1.8zM213.4,289.2h1.8v1.8h-1.8z" fill="#8c2c1a"/>
<path d="M180.6,301.0h1.8v1.8h-1.8zM183.3,301.6h1.8v1.8h-1.8z" fill="#9a1d1a"/>
</g>
<path d="M152.8,299.0 L153.8,288.3 L157.0,282.0 L163.4,273.4 L174.0,268.0 L186.8,263.8 L201.7,260.6 L214.5,260.6 L225.0,263.8 L233.6,268.0 L242.0,277.7 L248.5,288.3 L250.6,299.0 L250.6,309.6 L247.4,318.0 L240.0,321.3 L229.4,321.3 L216.6,323.4 L203.8,324.5 L191.0,324.5 L183.6,322.3 L182.6,316.0 L185.7,310.6 L178.3,307.4 L169.8,306.4 L161.3,305.3 L154.9,303.2 Z" fill="none" stroke="#333" stroke-width="1.5"/>
<path d="M495.0,313.0 L497.0,298.0 L503.5,277.0 L512.0,268.5 L525.0,262.0 L537.7,260.0 L552.6,261.0 L565.4,264.2 L576.0,269.5 L584.6,277.0 L588.9,285.5 L590.0,294.0 L586.7,300.5 L580.3,304.7 L569.7,306.9 L559.0,309.0 L559.0,313.3 L563.3,319.7 L561.0,325.0 L554.7,326.0 L546.2,324.0 L535.5,319.7 L524.9,316.5 L512.0,315.4 L501.4,315.4 Z" fill="#868686"/>
<g clip-path="url(#crl)">
<path d="M586.0,269.3 l11.0,0.8" stroke="#505050" stroke-width="1.5" stroke-linecap="round"/><path d="M565.3,318.0 l-4.4,3.3" stroke="#505050" stroke-width="1.5" stroke-linecap="round"/><path d="M525.3,299.7 l-8.9,1.9" stroke="#505050" stroke-width="2.1" stroke-linecap="round"/><path d="M549.8,261.4 l5.1,5.6" stroke="#505050" stroke-width="1.5" stroke-linecap="round"/><path d="M550.4,321.9 l-8.2,7.0" stroke="#9a9a9a" stroke-width="1.8" stroke-linecap="round"/><path d="M553.2,277.1 l-6.8,0.9" stroke="#6a6a6a" stroke-width="2.0" stroke-linecap="round"/><path d="M508.5,314.5 l-3.1,5.3" stroke="#6a6a6a" stroke-width="1.3" stroke-linecap="round"/><path d="M580.6,287.7 l4.7,4.8" stroke="#646464" stroke-width="2.1" stroke-linecap="round"/><path d="M557.8,320.5 l4.1,6.0" stroke="#9a9a9a" stroke-width="1.8" stroke-linecap="round"/><path d="M549.7,297.0 l-0.8,9.5" stroke="#646464" stroke-width="2.1" stroke-linecap="round"/><path d="M503.4,325.8 l3.3,6.8" stroke="#5a5a5a" stroke-width="1.7" stroke-linecap="round"/><path d="M543.6,286.4 l9.9,3.1" stroke="#6a6a6a" stroke-width="1.5" stroke-linecap="round"/><path d="M530.7,271.8 l-8.4,2.5" stroke="#505050" stroke-width="1.7" stroke-linecap="round"/><path d="M545.9,312.5 l-2.8,5.6" stroke="#505050" stroke-width="1.9" stroke-linecap="round"/><path d="M513.5,268.1 l7.6,3.8" stroke="#505050" stroke-width="1.3" stroke-linecap="round"/><path d="M542.4,294.6 l-2.9,10.6" stroke="#646464" stroke-width="2.0" stroke-linecap="round"/><path d="M540.2,264.3 l-6.7,8.4" stroke="#6a6a6a" stroke-width="1.4" stroke-linecap="round"/><path d="M519.6,267.9 l5.9,3.9" stroke="#505050" stroke-width="1.4" stroke-linecap="round"/><path d="M511.3,305.7 l1.4,6.5" stroke="#5a5a5a" stroke-width="1.3" stroke-linecap="round"/><path d="M528.5,267.8 l5.1,4.1" stroke="#5a5a5a" stroke-width="2.1" stroke-linecap="round"/><path d="M497.2,309.7 l-2.2,8.4" stroke="#505050" stroke-width="1.7" stroke-linecap="round"/><path d="M564.8,321.1 l-4.5,2.6" stroke="#6a6a6a" stroke-width="1.6" stroke-linecap="round"/><path d="M498.1,273.4 l0.2,7.3" stroke="#646464" stroke-width="2.0" stroke-linecap="round"/><path d="M539.1,276.4 l4.9,4.4" stroke="#6a6a6a" stroke-width="1.4" stroke-linecap="round"/><path d="M510.0,318.7 l-2.4,4.8" stroke="#6a6a6a" stroke-width="1.7" stroke-linecap="round"/><path d="M521.6,315.9 l-3.9,5.4" stroke="#5a5a5a" stroke-width="2.0" stroke-linecap="round"/><path d="M555.0,325.0 l-5.7,3.0" stroke="#5a5a5a" stroke-width="1.8" stroke-linecap="round"/><path d="M528.7,277.1 l-9.1,0.8" stroke="#6a6a6a" stroke-width="1.9" stroke-linecap="round"/><path d="M555.8,271.6 l-8.4,6.0" stroke="#9a9a9a" stroke-width="1.8" stroke-linecap="round"/><path d="M521.5,315.7 l4.4,4.8" stroke="#9a9a9a" stroke-width="1.8" stroke-linecap="round"/><path d="M574.7,293.7 l-5.7,8.1" stroke="#5a5a5a" stroke-width="2.2" stroke-linecap="round"/><path d="M542.4,282.7 l-5.1,2.1" stroke="#6a6a6a" stroke-width="1.9" stroke-linecap="round"/><path d="M513.5,270.7 l7.2,1.2" stroke="#6a6a6a" stroke-width="1.5" stroke-linecap="round"/><path d="M544.8,316.1 l5.8,4.2" stroke="#505050" stroke-width="2.2" stroke-linecap="round"/><path d="M545.1,310.7 l10.7,0.7" stroke="#505050" stroke-width="1.9" stroke-linecap="round"/><path d="M504.4,264.4 l6.8,4.3" stroke="#646464" stroke-width="2.1" stroke-linecap="round"/><path d="M549.6,294.7 l-1.1,6.9" stroke="#505050" stroke-width="1.9" stroke-linecap="round"/><path d="M580.6,312.9 l-3.2,6.2" stroke="#5a5a5a" stroke-width="1.6" stroke-linecap="round"/><path d="M518.0,267.8 l5.7,8.6" stroke="#505050" stroke-width="2.1" stroke-linecap="round"/><path d="M504.8,289.4 l3.0,5.2" stroke="#646464" stroke-width="1.7" stroke-linecap="round"/><path d="M532.4,269.2 l1.9,6.1" stroke="#6a6a6a" stroke-width="1.5" stroke-linecap="round"/><path d="M586.1,284.7 l10.6,1.4" stroke="#5a5a5a" stroke-width="1.8" stroke-linecap="round"/><path d="M503.8,314.3 l-5.9,5.9" stroke="#9a9a9a" stroke-width="1.7" stroke-linecap="round"/><path d="M589.5,314.1 l7.4,2.7" stroke="#6a6a6a" stroke-width="2.0" stroke-linecap="round"/><path d="M530.8,304.5 l4.6,3.5" stroke="#646464" stroke-width="1.9" stroke-linecap="round"/><path d="M536.2,295.6 l2.5,7.3" stroke="#646464" stroke-width="2.1" stroke-linecap="round"/><path d="M529.3,278.9 l5.5,0.2" stroke="#646464" stroke-width="1.4" stroke-linecap="round"/><path d="M566.6,265.3 l-1.9,9.6" stroke="#5a5a5a" stroke-width="1.5" stroke-linecap="round"/><path d="M497.0,320.8 l-1.8,6.6" stroke="#5a5a5a" stroke-width="1.5" stroke-linecap="round"/><path d="M583.6,282.3 l2.6,7.9" stroke="#646464" stroke-width="1.5" stroke-linecap="round"/><path d="M558.4,289.8 l-6.1,4.5" stroke="#5a5a5a" stroke-width="2.0" stroke-linecap="round"/><path d="M569.4,274.9 l-0.9,9.1" stroke="#6a6a6a" stroke-width="1.8" stroke-linecap="round"/><path d="M583.1,300.3 l5.6,5.3" stroke="#505050" stroke-width="2.0" stroke-linecap="round"/><path d="M550.1,275.0 l1.5,5.6" stroke="#505050" stroke-width="2.0" stroke-linecap="round"/><path d="M547.3,293.3 l-2.6,5.0" stroke="#6a6a6a" stroke-width="2.0" stroke-linecap="round"/><path d="M562.8,275.4 l6.6,2.9" stroke="#9a9a9a" stroke-width="1.9" stroke-linecap="round"/><path d="M496.2,270.9 l-7.0,0.1" stroke="#5a5a5a" stroke-width="1.7" stroke-linecap="round"/><path d="M543.3,270.6 l6.9,2.2" stroke="#5a5a5a" stroke-width="1.7" stroke-linecap="round"/><path d="M562.9,305.9 l-4.6,7.9" stroke="#9a9a9a" stroke-width="1.8" stroke-linecap="round"/><path d="M561.2,298.1 l4.6,4.0" stroke="#505050" stroke-width="2.1" stroke-linecap="round"/><path d="M553.3,284.0 l8.2,0.3" stroke="#646464" stroke-width="2.2" stroke-linecap="round"/><path d="M554.5,282.1 l2.0,9.2" stroke="#646464" stroke-width="1.5" stroke-linecap="round"/><path d="M520.1,297.6 l-2.3,6.2" stroke="#9a9a9a" stroke-width="2.0" stroke-linecap="round"/><path d="M583.0,293.7 l-8.7,2.7" stroke="#5a5a5a" stroke-width="1.8" stroke-linecap="round"/><path d="M537.1,313.8 l8.9,0.4" stroke="#9a9a9a" stroke-width="1.7" stroke-linecap="round"/><path d="M553.8,316.4 l2.3,6.3" stroke="#5a5a5a" stroke-width="1.9" stroke-linecap="round"/><path d="M583.7,326.0 l7.3,2.6" stroke="#646464" stroke-width="1.5" stroke-linecap="round"/><path d="M574.1,290.0 l4.4,2.5" stroke="#9a9a9a" stroke-width="1.4" stroke-linecap="round"/><path d="M535.1,302.7 l0.3,6.7" stroke="#9a9a9a" stroke-width="1.8" stroke-linecap="round"/><path d="M564.6,284.2 l7.6,2.0" stroke="#5a5a5a" stroke-width="1.5" stroke-linecap="round"/><path d="M535.1,270.0 l-8.0,5.4" stroke="#9a9a9a" stroke-width="2.0" stroke-linecap="round"/><path d="M565.1,260.7 l-9.4,3.1" stroke="#6a6a6a" stroke-width="1.8" stroke-linecap="round"/><path d="M540.4,261.7 l6.1,3.1" stroke="#646464" stroke-width="2.1" stroke-linecap="round"/><path d="M506.2,283.1 l6.0,2.2" stroke="#646464" stroke-width="1.6" stroke-linecap="round"/><path d="M511.2,277.1 l-9.3,2.6" stroke="#646464" stroke-width="1.9" stroke-linecap="round"/><path d="M505.9,317.2 l5.3,2.4" stroke="#5a5a5a" stroke-width="2.0" stroke-linecap="round"/><path d="M581.8,305.0 l5.0,9.7" stroke="#9a9a9a" stroke-width="1.9" stroke-linecap="round"/><path d="M559.2,296.7 l6.7,5.7" stroke="#9a9a9a" stroke-width="1.4" stroke-linecap="round"/><path d="M519.1,323.4 l-6.2,1.4" stroke="#646464" stroke-width="1.3" stroke-linecap="round"/><path d="M574.3,279.4 l5.2,2.0" stroke="#505050" stroke-width="2.1" stroke-linecap="round"/><path d="M560.1,311.9 l0.3,7.8" stroke="#5a5a5a" stroke-width="1.8" stroke-linecap="round"/><path d="M567.0,310.5 l5.6,3.4" stroke="#505050" stroke-width="1.6" stroke-linecap="round"/><path d="M500.2,295.7 l6.1,5.6" stroke="#5a5a5a" stroke-width="1.8" stroke-linecap="round"/><path d="M587.4,278.1 l5.8,9.2" stroke="#505050" stroke-width="1.3" stroke-linecap="round"/><path d="M550.1,261.6 l5.6,8.0" stroke="#505050" stroke-width="1.6" stroke-linecap="round"/><path d="M528.7,294.0 l-0.0,7.2" stroke="#6a6a6a" stroke-width="2.2" stroke-linecap="round"/><path d="M577.9,285.8 l6.8,6.8" stroke="#9a9a9a" stroke-width="1.4" stroke-linecap="round"/><path d="M500.3,307.9 l-6.2,3.9" stroke="#9a9a9a" stroke-width="2.0" stroke-linecap="round"/><path d="M563.7,323.4 l5.0,9.0" stroke="#505050" stroke-width="1.6" stroke-linecap="round"/><path d="M521.7,282.8 l3.7,5.6" stroke="#5a5a5a" stroke-width="1.8" stroke-linecap="round"/><path d="M567.3,309.1 l0.2,11.0" stroke="#5a5a5a" stroke-width="2.0" stroke-linecap="round"/><path d="M562.3,303.2 l-6.5,4.3" stroke="#646464" stroke-width="1.9" stroke-linecap="round"/><path d="M544.8,311.4 l6.9,1.9" stroke="#646464" stroke-width="1.7" stroke-linecap="round"/><path d="M523.3,278.4 l9.3,4.5" stroke="#646464" stroke-width="1.8" stroke-linecap="round"/><path d="M546.2,325.1 l-2.6,8.2" stroke="#646464" stroke-width="1.7" stroke-linecap="round"/><path d="M518.0,291.4 l0.0,5.7" stroke="#9a9a9a" stroke-width="1.7" stroke-linecap="round"/><path d="M562.1,297.6 l2.1,4.7" stroke="#505050" stroke-width="1.9" stroke-linecap="round"/><path d="M541.0,322.6 l-3.9,3.2" stroke="#9a9a9a" stroke-width="1.5" stroke-linecap="round"/><path d="M539.4,263.3 l5.3,3.4" stroke="#6a6a6a" stroke-width="1.5" stroke-linecap="round"/><path d="M520.0,283.8 l9.5,0.8" stroke="#6a6a6a" stroke-width="1.7" stroke-linecap="round"/><path d="M566.3,294.0 l8.9,3.9" stroke="#505050" stroke-width="1.4" stroke-linecap="round"/><path d="M550.5,268.0 l-0.6,5.2" stroke="#5a5a5a" stroke-width="1.7" stroke-linecap="round"/><path d="M586.8,308.8 l-9.9,4.5" stroke="#5a5a5a" stroke-width="2.0" stroke-linecap="round"/><path d="M545.9,271.5 l-0.0,9.2" stroke="#5a5a5a" stroke-width="1.4" stroke-linecap="round"/><path d="M522.0,272.2 l1.5,9.7" stroke="#9a9a9a" stroke-width="1.8" stroke-linecap="round"/><path d="M531.3,279.5 l-3.4,8.4" stroke="#5a5a5a" stroke-width="1.5" stroke-linecap="round"/><path d="M499.6,279.0 l5.8,1.4" stroke="#6a6a6a" stroke-width="2.1" stroke-linecap="round"/><path d="M558.3,268.6 l2.4,7.8" stroke="#6a6a6a" stroke-width="2.0" stroke-linecap="round"/><path d="M543.7,299.5 l9.9,4.1" stroke="#5a5a5a" stroke-width="1.8" stroke-linecap="round"/><path d="M522.8,270.5 l-4.7,1.9" stroke="#6a6a6a" stroke-width="1.8" stroke-linecap="round"/><path d="M565.5,298.7 l6.6,6.9" stroke="#9a9a9a" stroke-width="1.7" stroke-linecap="round"/><path d="M534.8,325.1 l-7.2,4.5" stroke="#6a6a6a" stroke-width="1.7" stroke-linecap="round"/><path d="M549.3,264.2 l-6.5,7.3" stroke="#505050" stroke-width="1.5" stroke-linecap="round"/><path d="M530.9,286.4 l8.0,2.6" stroke="#646464" stroke-width="2.0" stroke-linecap="round"/><path d="M564.7,266.0 l-7.8,5.5" stroke="#9a9a9a" stroke-width="1.9" stroke-linecap="round"/><path d="M563.0,272.1 l-4.3,7.7" stroke="#6a6a6a" stroke-width="2.0" stroke-linecap="round"/><path d="M514.9,291.6 l10.8,1.6" stroke="#646464" stroke-width="1.4" stroke-linecap="round"/><path d="M576.1,306.1 l-6.5,2.2" stroke="#646464" stroke-width="1.4" stroke-linecap="round"/><path d="M583.4,286.5 l-0.8,6.5" stroke="#6a6a6a" stroke-width="1.6" stroke-linecap="round"/><path d="M571.1,318.8 l-6.0,0.6" stroke="#505050" stroke-width="1.7" stroke-linecap="round"/><path d="M560.8,288.7 l5.9,5.3" stroke="#6a6a6a" stroke-width="2.0" stroke-linecap="round"/><path d="M497.9,300.5 l2.7,9.6" stroke="#505050" stroke-width="1.4" stroke-linecap="round"/><path d="M556.4,276.4 l-0.6,10.0" stroke="#6a6a6a" stroke-width="1.4" stroke-linecap="round"/><path d="M535.7,295.3 l5.6,4.3" stroke="#6a6a6a" stroke-width="1.4" stroke-linecap="round"/><path d="M560.1,276.3 l-6.0,1.2" stroke="#9a9a9a" stroke-width="2.0" stroke-linecap="round"/><path d="M498.8,301.8 l-4.2,3.2" stroke="#6a6a6a" stroke-width="1.6" stroke-linecap="round"/><path d="M543.2,295.0 l6.3,1.8" stroke="#9a9a9a" stroke-width="2.1" stroke-linecap="round"/><path d="M566.0,284.2 l1.7,5.0" stroke="#5a5a5a" stroke-width="2.1" stroke-linecap="round"/><path d="M575.0,271.7 l-0.1,9.5" stroke="#6a6a6a" stroke-width="2.1" stroke-linecap="round"/><path d="M525.5,284.0 l8.1,3.6" stroke="#505050" stroke-width="1.7" stroke-linecap="round"/><path d="M506.8,307.3 l2.3,6.3" stroke="#6a6a6a" stroke-width="1.4" stroke-linecap="round"/><path d="M585.4,293.6 l10.4,1.6" stroke="#6a6a6a" stroke-width="1.4" stroke-linecap="round"/><path d="M549.5,325.7 l4.9,5.3" stroke="#9a9a9a" stroke-width="1.6" stroke-linecap="round"/><path d="M559.8,307.1 l9.2,1.5" stroke="#5a5a5a" stroke-width="2.0" stroke-linecap="round"/><path d="M575.1,309.3 l-5.4,2.6" stroke="#505050" stroke-width="2.0" stroke-linecap="round"/><path d="M522.7,260.1 l9.2,3.0" stroke="#505050" stroke-width="2.2" stroke-linecap="round"/><path d="M517.6,320.8 l-1.7,8.8" stroke="#5a5a5a" stroke-width="1.9" stroke-linecap="round"/><path d="M553.5,321.8 l-7.8,5.3" stroke="#646464" stroke-width="1.6" stroke-linecap="round"/><path d="M578.5,309.6 l-6.9,4.5" stroke="#505050" stroke-width="1.3" stroke-linecap="round"/><path d="M542.5,269.8 l9.4,4.2" stroke="#505050" stroke-width="2.1" stroke-linecap="round"/><path d="M529.1,301.1 l5.2,5.7" stroke="#6a6a6a" stroke-width="1.9" stroke-linecap="round"/><path d="M499.4,311.3 l6.1,4.4" stroke="#9a9a9a" stroke-width="1.7" stroke-linecap="round"/><path d="M528.2,319.7 l-3.7,8.3" stroke="#9a9a9a" stroke-width="2.0" stroke-linecap="round"/><path d="M501.3,314.5 l4.9,9.5" stroke="#646464" stroke-width="2.1" stroke-linecap="round"/><path d="M579.2,302.3 l-0.7,8.0" stroke="#5a5a5a" stroke-width="1.6" stroke-linecap="round"/><path d="M515.9,285.4 l6.9,0.5" stroke="#5a5a5a" stroke-width="2.0" stroke-linecap="round"/><path d="M499.7,260.7 l-0.3,8.6" stroke="#646464" stroke-width="2.1" stroke-linecap="round"/><path d="M514.1,312.3 l-7.5,6.4" stroke="#9a9a9a" stroke-width="1.9" stroke-linecap="round"/><path d="M495.9,277.0 l3.8,8.7" stroke="#505050" stroke-width="1.5" stroke-linecap="round"/><path d="M568.7,323.6 l-5.2,4.7" stroke="#9a9a9a" stroke-width="1.9" stroke-linecap="round"/><path d="M584.3,276.3 l-6.2,7.0" stroke="#505050" stroke-width="1.4" stroke-linecap="round"/><path d="M579.5,283.3 l5.5,7.3" stroke="#6a6a6a" stroke-width="1.5" stroke-linecap="round"/><path d="M544.8,310.1 l-0.7,10.2" stroke="#505050" stroke-width="1.3" stroke-linecap="round"/><path d="M507.1,294.7 l-4.9,7.8" stroke="#6a6a6a" stroke-width="1.3" stroke-linecap="round"/><path d="M501.6,265.1 l-6.7,5.1" stroke="#6a6a6a" stroke-width="1.4" stroke-linecap="round"/><path d="M523.3,291.4 l4.4,4.3" stroke="#5a5a5a" stroke-width="1.9" stroke-linecap="round"/><path d="M541.6,313.0 l-5.6,7.8" stroke="#505050" stroke-width="1.4" stroke-linecap="round"/><path d="M523.1,303.2 l9.2,0.5" stroke="#646464" stroke-width="1.8" stroke-linecap="round"/><path d="M524.7,314.7 l-8.0,0.5" stroke="#9a9a9a" stroke-width="1.4" stroke-linecap="round"/><path d="M498.2,291.5 l-1.1,6.3" stroke="#646464" stroke-width="1.7" stroke-linecap="round"/>
<path d="M523,281 Q530,292 534,296 Q545,303 556,306" stroke="#3e3e3e" stroke-width="2.2" fill="none" stroke-linecap="round"/>
<path d="M522,266 Q530,274 540,281" stroke="#3e3e3e" stroke-width="2.2" fill="none" stroke-linecap="round"/>
<path d="M560,285 Q570,290 580,288" stroke="#3e3e3e" stroke-width="2.2" fill="none" stroke-linecap="round"/>
<path d="M507,279l-1.6,3.1 -1.7-1.4 1.1-2.8 2.7-.7zM530,298l.1,2.1 -.7,1.5 -1-1.2 .5-1.9zM528,302l-2-1.4 .4-1.1 1.9,.4 1.7,1.8zM524,305l2.6,.3 -1,1 -1.9,.6 -1.3-.9zM522,304l-2.5,1.2 -1-1.9 .9-2.2 2.6,.6zM536,300l-.5,1.1 -1.5-.8 -.1-1.6 1.4-.8zM534,304l-1.6-.1 -1-1.4 .6-1 1.4,1z" fill="#b02018"/>
<path d="M553,309l1,2.2 -2.2,1 -2.1-1.2 .6-1.4zM547,307l2-2.8 3.2-1 -1.3,2.6 -3,2.6zM537,306l1.4-1.9 1.4,.1 -.3,2.4 -1.7,1.3zM554,309l-2-.7 .6-2.8 2.1-.5 .7,2.9zM564,286l2-1.3 .7,2 -.9,2 -1.6-.6zM572,272l-.4,2 -1.6-.3 -.8-3.5 1.4-1.3zM560,291l.9,.3 -1.9,1.2 -2.3-.1 .7-1.4zM579,294l.1,1.5 -1.5,.4 -.7-1 1-.7zM568,280l-2.6,1.7 -1.2-1.7 1.1-2 3.2-.3zM571,274l.1,2.6 -1.9,1.6 -.9-1.4 1.5-2.9zM578,268l2.2,.1 -.6,2.6 -2.3,1.5 -.9-1.8zM565,271l2.6,0 .1,1.3 -3.5,.2 -1.5-1.2zM561,275l-1.1,1.6 -2-.8 1-1.8 2.6-.5zM532,276l-1,1.8 -1.6-.2 1.3-2.3 1.9-1.7zM533,270l-1,.2 -.1-.7 .7-.8 .4,.5zM545,270l.2-1.1 .9-.3 .3,.8 -.8,.5zM550,266l-.5-.1 -.9-.6 -.1-.8 .9,.2zM541,294l2.9,.9 -.3,1.6 -1.8,.2 -1.5-1.5zM553,294l1.5,.7 1,2.5 -.5,1.4 -1.6-2.1zM542,292l-.6-1.9 1-2.2 1.2-.1 -.2,2.2zM553,292l-.9,1.1 -2.7-1.6 -1-2 2.5,.7zM545,297l-.7-1.4 .8-2.1 1.6-.3 -.4,2.6zM547,287l2.4,.1 -.1,2.3 -3.1,1.8 -.7-1.8zM549,291l-2.2,.4 .6-1.6 1.7-1.5 1.3,.8z" fill="#a01c18"/>
<path d="M503,293l-1.6,.6 -1-.9 .4-.8 1.3,.1zM503,288l1.7,.6 1,3.1 -1,1.9 -1.5-1.6zM511,292l1,1.6 -1.8,.5 -2.8-1.8 .6-1.6zM508,286l1.9,1.3 -.4,2.9 -1.5-.2 -.6-2.3zM512,284l-1.9,0 -2.2-2.1 .8-2 2,.8zM526,297l-.3-.9 1.7-.7 1.7,.4 -.9,1.3zM524,299l0-1.1 2.4-.2 2.3,2 -.9,1.1zM520,306l-1.2,2 -.5-1.8 .8-2 1.1,.2zM515,300l2.6-1.5 2.6,1 -1,3 -2.6-.6zM529,298l-.6-.6 .9-1.6 1.4-.7 .1,1.4zM523,299l-.1-2.1 1.4-1.5 2,.8 -.6,2.4zM547,314l-1.7-2.1 0-2.2 2.4,1.5 1.1,2.9zM543,313l-1.2-2.4 1.3-1.3 2.3,1.1 -.2,3zM543,310l2.8,.4 1.6,1.7 -3.8,.9 -2.5-1.4zM582,272l-.4,1.4 -1.4,.1 -1.3-1.5 1.1-.9zM576,268l.7,2.4 -1.7,2.6 -1.4-.6 .1-3.1zM564,292l-2.5-1.5 .6-1.5 1.6,0 1.4,1.9zM569,277l2.3,1.1 -2.2,2 -3.2,.2 -.2-1.6zM573,284l1.8-2 2.2,1.4 .5,2.2 -2,1.2zM571,290l-1.1,.9 -1.3-.5 .5-1.2 1.1-.2zM571,280l-4.3,.3 -1.7-1.3 2.2-1.7 3.8,.6zM579,293l1,1.1 -1.1,3 -2.8,1.4 .3-3.2zM565,297l2.6-.3 2.1,1.4 -2.4,1.1 -2.3-.7zM579,280l-2.4,.6 -1.8-1.5 .4-1.5 3.6,.6zM580,275l-1.1,3.2 -2,.6 0-2.4 1.7-3.2zM581,272l2.7,.6 -1.3,1.5 -2.8-.1 -.4-1.1zM568,301l-1.9-2.8 -.2-2.2 2.5,1.7 1.7,2.9zM575,285l1.9-2.4 3.3-.3 -.1,1.9 -3.2,1.7zM562,293l-.7,.1 .8-1.6 .7-.4 .3,1.1zM566,291l.6-2.3 1.4,.1 .5,1.4 -1.2,1.3zM578,275l-1.3,1.5 -1.8-.4 .6-1.8 2.4-.7zM572,265l1.1,1.3 -1.5,1.9 -1.6-.2 .5-1.8zM552,266l1.1,1.7 -.6,1 -1-.7 -.3-2zM543,274l0,.9 -.7,.7 -1.1,0 .3-1.5zM535,270l1,.5 -1.2,1 -1.1,.1 .3-1.1zM528,265l1.1,.5 -1.1,1.7 -1.5,0 -.4-1.3zM538,267l-1.1-.4 .4-.8 1,.3 .2,.8zM534,279l.5-1.5 1.1-.5 .6,1.2 -.7,1.1zM536,267l2,.1 .2,1 -1.7,.5 -1.3-.8zM555,287l-.4,2.6 -2.5-.4 0-2.3 1.8-.9zM553,288l-.4,.9 -1.4-.9 -.5-1.1 1.2,.1zM561,293l-1.8,.7 -1.7-2.2 1.1-1.7 2.2,.7zM546,287l-.8,1 -1.2,.7 -.2-.7 .7-1zM550,298l-2.3,1.9 -.8-.9 1.8-1.6 1.8-.6z" fill="#c8281c"/>
<path d="M508,285l.6-1.8 1.3,1.5 .3,3 -1.7,.3zM506,287l1.8,.7 -1.3,1.5 -1.9,.2 -.4-.9zM505,281l1.2-.3 1.4,1.2 -.5,.6 -1.4-.5zM499,293l-.7-1.9 .8-2.2 1.7-.8 .7,2.4zM509,291l.3-1.9 1.2-.2 0,1.5 -1.2,1.1zM524,297l-1.7,1.2 -1.8-2 .3-2.6 1.4,.1zM522,301l-.3-1.4 .7-2.5 1.4,0 .1,2zM520,296l1.6,1.4 1,1.9 -2.4-.7 -1.8-2.1z" fill="#d8301e"/>
<path d="M539,304l1.4,.3 -.9,1.9 -1.7,.6 .1-2zM548,314l-2.1-1 2.4-1.6 3-.8 -.5,1.6zM568,299l.4,1.3 -2.3-.4 -1.2-1.2 1.3-.8zM561,294l-1.6,.4 -.4-.8 1.1-1.1 1.2,.2zM563,287l.7,1.5 -.9,.1 -1.5-1.4 0-1.3zM569,295l1.8,.8 -1.8,1.6 -2.2,.1 .2-1.5zM570,272l.1-1.8 1.2-1.7 .5,1.2 -.7,2.2zM571,294l-.2,1.3 -1.1,.4 -.4-1.2 1-1.3zM572,293l-.2-1.6 1.3-1.3 1.4,1.4 -.4,1.6zM575,295l1.6,1.3 -.7,2.7 -1.8-.2 -.3-2.6zM580,276l1.7-3.3 2.1-.6 -.3,3.2 -2.3,2.3zM563,273l-.6,1.9 -2.1,1.7 -.9-.3 .8-2.3zM560,282l0-1.9 1.7,.4 .9,1.9 -1.7,.7zM576,297l-1.1-.9 1.7-1.1 1.9,.4 -.4,1.4zM568,295l2.1,1.5 -.9,1 -2.7-.8 -.7-2zM569,265l1.4,.8 .6,2.2 -2.2,.9 -1.4-1.8zM579,295l-.9-2.5 1.2-3.3 1.1,1.5 -.4,2.9zM568,291l-1.1,3.3 -1.6-1.5 -.1-2.6 1.3-2.4zM555,269l.5,.7 -.3,1.3 -1.5,1.1 .1-1.4zM531,266l1.2,.8 .5,.9 -.5,.5 -1.2-1.1zM547,269l-.9-.2 -1.6-1.2 -.2-1.6 1.6,.4zM538,261l1.5,.8 .3,1.8 -1.5,1.1 -1-1.5zM543,294l1.7-.3 1.2,1.2 -.3,.9 -1.3-.2zM548,288l.7-1.2 1.1,.4 -.4,2 -1.4,.3z" fill="#d8401e"/>
<path d="M506,280l-.3,1.9 -1.5,.3 -.7-1.5 .7-1.9zM510,287l1,1 -1.3,1.2 -1.7-1 .5-2.1zM526,295l1.6-.7 1,2.9 -1.8,2.4 -1.3-1.3zM522,306l-1.6,0 -1.6-3 .2-1.7 2.4,1.6zM523,305l-.6-1.9 2.3-2 2.2,.5 -.6,2zM523,300l-1.6,.3 -.4-1.1 1.1-.7 1.2,.6zM515,298l0-1.8 2-1.5 1.4,.7 -1.1,2.2z" fill="#e0501e"/>
<path d="M575,269l1.3,.2 -.7,2.6 -1.4,.6 -.7-1.1zM566,287l-.6,1.8 -.8-.8 0-2 1.2-.7zM559,290l.4,1.5 -.1,.9 -.8-.3 -.4-1.2zM567,279l.6,1.5 -1.5,0 -1.3-1.2 .5-1.3zM575,284l-.3-1.1 2.1,.7 .4,1.6 -1.3,.5zM569,280l-2.1,0 -.3-1.3 1.9-1.4 1,1zM576,296l1-1.3 2-.1 1,.8 -1.6,1.2zM577,295l.4,1.7 -.4,.8 -1.2-1.6 .1-1.2zM569,299l-1.1,.6 -1.2-1.1 .4-.9 1.3,.4zM579,284l-.3,1.3 -1.5-.5 -.4-1.2 1.2-1.1zM562,293l-.6-.5 .8-.7 .7-.2 -.1,.6zM569,266l1.4,.6 -.3,1.3 -1.7-.2 -.4-1.1zM567,291l-.3-1.3 1.1-.9 .6,.6 -.9,1.1zM555,295l.3,.9 -1.2,1.6 -.6-.4 .5-1.4zM543,290l-.8,.6 -1-.6 1-1.4 1.5-.2zM559,293l-1-1.4 .9-1.6 1.9,.5 0,1.7zM545,287l0,.3 -.2,.8 -.7,.3 -.2-.7zM545,296l-.8-.9 -.1-.7 1,.2 .8,.6zM548,298l.1-.5 .8,0 .7,.9 -.2,.9zM549,288l.4,.6 -.6,.3 -1.1-.6 .2-.9z" fill="#e8601d"/>
<path d="M507,288l-.3,.8 -1.3,.6 -.9-.7 .9-1zM499,292l-1.1-1 1.3-1.5 2-.8 .1,1.3zM527,296l1.3,1.8 -1.1,.8 -1.5-1.1 -.5-2.2zM517,302l-.4-2.9 1.2-.9 .6,2 -.4,2.7zM524,306l.4-.9 .8,.8 .2,1 -1.2-.2zM522,299l1.2,0 -.1,.8 -1.4,.3 -.6-.7zM521,302l-.5,2.8 -1-.2 -.1-2.1 1-1.4zM524,296l1.2,.2 .5,1.1 -1.2,.9 -1.7-.3z" fill="#f07a1d"/>
<path d="M551,311l-.6-1.3 1.8,0 .9,1.2 -1.2,.8zM543,310l1.1,.2 .7,1.8 -1.3,.5 -1.6-1.1zM545,311l0,1 -2,.7 -.5-1.5 1.3-1.1zM548,312l1.2-.9 1,1 -.7,.8 -1.7-.2zM567,299l-.8,1.4 -.5-.7 1-1.2 1.1-.4zM568,296l.3-.7 1.1,.6 -.1,1.1 -1.1,.2zM571,270l.2,1.3 -.9,.9 -.2-1.8 .7-1.5zM570,295l-.4-.5 .1-.5 .8,0 .5,.9zM578,269l1.3,.7 .1,1.4 -1.5-.3 -.7-1.3zM576,297l-1.7,.8 -1-.6 1.6-1 1.6-.1zM581,275l-.7-1.4 1.3-.4 1.9,1.6 -.3,1.1zM580,277l-2.5,.2 -1.1-1 1.2-.9 2.1,.6zM581,271l.3,1.4 .2,1.8 -.8,.2 -.6-1.3zM567,297l-.1-1.4 1.4-1 .7,1.1 -.6,1.6zM580,293l-1.3,.3 -.4-1.1 1-.7 1.2,.3zM545,267l1-.1 .3,.7 -.6,.6 -.8-.3zM538,264l.2-1.1 .5-1 .5,.3 -.2,1.2zM532,269l.7,0 .1,.5 -.4,.6 -.2-.3zM545,269l.7,.1 .2,.5 -.3,.2 -.2-.5zM542,274l.5,.5 .2,.6 -.5,.4 -.4-.5zM535,278l-.1-.6 .7,.2 .1,.9 -.6,.3zM536,268l.6-.9 .5,.2 .2,.7 -.4,.5zM555,287l-.3,1.2 -2.1,.3 -.8-.9 1.8-.8zM552,291l-.2,.9 -1.5,.2 -.6-.9 .9-.8zM548,290l-1.8,.7 0-1.9 1.5-1.6 .8,.7z" fill="#f0801d"/>
<path d="M501,293l.6-1.2 .8,.2 -.7,1 -1,.5zM510,285l-.1,1.5 -1.8-.3 -.2-1.2 1.1-1zM505,292l-1.5-.1 -.1-1.5 1-.9 1.4,.9zM505,282l-1.5-1 .1-1.2 1.4,.2 1,1.3zM509,289l-1.7,.6 0-1.3 1.5-1.1 1.4,.2zM508,279l-.6,1.1 -2.5,.3 -1.3-1 1.9-1.3zM526,296l.9-.4 .8,.1 .2,.9 -.7,.5zM526,300l-1.2-.7 .3-1.9 1.9,.7 .8,1.8zM527,301l-.2-.4 .7-.9 1.2,.4 -.3,1.2zM520,303l1-.7 .1,1.2 -1.3,2.2 -1.1-.6zM521,305l-1,1.9 -1.2-.3 -.6-1.4 1.2-.6zM522,298l1.2-.5 .9,1.4 -.6,1.5 -1.6-1zM529,297l-.6-1 .8-.3 1.3,.9 -.2,.6zM534,299l1.4-.5 1,.7 -1.1,1.5 -1.2-.4zM521,298l-1.3,.4 -.5-.9 1.6-1.3 .9,.6zM532,304l.1-1.6 .8-.8 .2,1.1 -.4,1.4zM518,297l-.6,.8 -1.4-1.1 -.4-1.2 .9-.4zM538,304l1.6,.4 .4,.8 -.8,.7 -1.2-.4zM550,305l.5,2.1 -1.3,0 -.7-1.4 .5-1.1zM538,305l.6-.8 .6,1.5 -.3,1.1 -.8-.4zM548,312l-1.2,1.7 -1-.4 .2-2 1.4-.7zM555,307l-.8,1.7 -1.3-.4 -.4-1.6 1.4-.8zM581,273l-.9-.2 -.5-1.1 1,.3 1,.9zM562,289l1.5,.4 .6,.8 -.7,.9 -1-.6zM570,272l-.1-1.2 1.2,0 1.3,1.8 -1.1,.5zM578,294l.3-.1 .3,1 -.3,.7 -.5-.2zM560,294l-.8-.7 .7-.9 .8,.7 -.2,1zM562,288l-.5-.7 .3-.3 1.3,.2 .1,.6zM567,279l.5-1.3 1.6,.6 .3,1.6 -1.6,0zM571,276l-.7,1.3 -.9-.2 -.1-1.7 1-.6zM569,290l.1-.7 .8-.1 .6,.7 -.5,.7zM574,291l.7,.6 -1.7,1.1 -1.4-.2 .8-.9zM567,296l.8,.8 -.4,2.1 -1.2,.2 -.2-1.1zM565,270l1.2,.9 .2,1.3 -1.1,.6 -.9-1.6zM560,276l.2-1.5 1.6-.3 0,.9 -1.3,1.2zM578,278l.3,1.1 -1.4,1.3 -1.2-.6 .4-1.4zM560,283l.1-.9 .6-1.2 1.3-.3 -.5,1.4zM576,274l1.5,.1 .6,1.5 -1.4,.6 -1.2-.8zM561,275l.2,1.2 -1.9-.4 -1-1.5 1.3-.2zM573,267l-1.8,.3 -1.5-.6 1-.5 1.6,.1zM566,290l1.2,.4 -.3,1.3 -1.4,.9 -.7-1.1zM542,296l-1-1.3 1.1,0 1.4,1.1 -.6,.8zM552,288l-.8,.1 .2-.8 .9,0 .2,.5zM545,296l-.4-.3 .4-1.1 1.1-.4 .1,.9zM550,289l-.6,1.1 -1.6,.6 -.8-.4 1.4-1z" fill="#f59a1d"/>
<path d="M508,292l1.4-.6 1.9,.3 0,1.6 -2.1,.2zM509,280l1.4,1.1 .6,1.7 -1,1.3 -1.3-1.9zM511,287l-1.3,1.9 -.8-.5 -.1-1.3 1.4-.8zM506,281l1.2,.8 -.3,.4 -1.2-.4 -.2-.7zM509,290l-.2-.9 1,.2 .7,1.3 -.4,.5zM530,300l-1.5,.5 .2-1.1 .7-.5 .8,.6zM522,297l-.9-.7 -.3-2.1 1.5-.8 .8,2.2zM527,304l-2.5-.4 -1.2-1.6 .6-.9 2.1,1.7z" fill="#f7b21d"/>
<path d="M551,311l.6-1 .6,.1 -.3,.8 -.8,.7zM538,306l.1-.7 .5-.2 .4,.5 -.2,.9zM547,312l.4,1 -.8-.3 -.6-.8 .6-.2zM553,307l.1-.2 1.2,.2 .1,.5 -.8,.3zM580,272l0,.1 .8,.3 .3,.4 -.4,.1zM569,279l-.9,.8 -.7-1 .3-.9 .8,.6zM576,284l0,1.5 -.8-.5 .2-1.2 .6-.2zM570,294l.5,.3 .4,.4 -.5,.1 -.6-.3zM578,296l-.4-.8 .6-.5 .8,.3 -.2,1zM575,296l.4,.3 .1,1 -.6,.5 -.5-.7zM578,275l.8,1.3 -.2,.9 -.8-.4 -.3-.8zM576,296l.5-.5 .6,.3 .1,.9 -.6-.1zM568,299l-.7-.4 .3-.5 .6,.2 .1,.7zM569,266l1,1.1 -.5,.5 -.8-.4 -.1-1zM576,276l0-1.1 .7-.5 .7,.5 -.4,.8zM566,291l.5-.4 .4,.8 -.7,.4 -.7-.2zM552,287l.1,.6 .1,.3 -.4,.2 -.2-.4zM542,289l.8,.1 .3,.3 -.3,.5 -.8-.1zM548,290l.2-.5 .7,.4 .1,.4 -.6-.1z" fill="#f9d81c"/>
<path d="M509,285l.8,0 .1,.7 -1,.2 -1-.7zM510,292l.6,.9 -.8,.7 -.9-.9 .4-1zM530,299l-.2,1 -.3,.2 -.5-.5 -.1-.8zM530,296l0,.4 -.2,.7 -.4,0 -.2-.8zM516,296l0-.3 .7,.1 .5,.9 -.4,.4z" fill="#f9e21c"/>
<path d="M505,290l.2,1.2 -.9,.3 -.8-.7 .3-.7zM506,289l-.7-.4 .3-.6 .6,.1 .2,.7zM507,282l-.8-.2 -.4-.2 .4-.2 .7,0zM505,279l.6-.7 1,.6 0,1.2 -1,.1zM523,299l-1.1,0 .1-.6 1.5-.1 .5,.5zM522,299l.7,.5 -.4,.2 -.6-.1 .2-.4z" fill="#fbec3a"/>
<path d="M509,287l.1,1.1 -.3,1.2 -.5-.4 -.1-1zM510,283l-1-1.1 .3-.6 .9,.3 .6,1zM510,290l-.3,.4 -.6-.4 .1-.5 .7,.4zM527,296l.8-.2 0,.7 -.7,.3 -.5-.4zM521,296l.1-1 1-.6 .3,1 -.4,.8zM520,306l-1,.3 -.4-.7 .6-.5 .8,.3zM524,303l.4-1.2 1.2,.7 -.1,.8 -1.1,.2zM524,306l.1-.2 .4-.4 .6,.4 -.2,.6zM532,303l.6-.7 .3,.2 -.1,.8 -.4,.2z" fill="#fff27a"/>
<path d="M503.5,285.8h1.4v1.4h-1.4zM533.7,298.4h1.8v1.8h-1.8zM525.0,302.9h1.8v1.8h-1.8zM551.6,308.6h1.4v1.4h-1.4zM577.4,271.1h1.4v1.4h-1.4zM568.3,273.3h1.4v1.4h-1.4zM572.6,272.5h1.4v1.4h-1.4zM566.6,277.1h1.4v1.4h-1.4zM561.4,286.8h1.8v1.8h-1.8zM571.2,286.3h1.8v1.8h-1.8zM568.7,288.9h1.4v1.4h-1.4zM547.1,294.1h1.4v1.4h-1.4zM544.3,296.5h1.8v1.8h-1.8zM548.9,296.9h1.8v1.8h-1.8zM551.5,298.8h1.4v1.4h-1.4z" fill="#d92a1e"/>
<path d="M510.9,285.7h1.4v1.4h-1.4zM503.7,288.3h1.4v1.4h-1.4zM512.8,288.2h1.8v1.8h-1.8zM522.4,300.6h1.4v1.4h-1.4zM547.2,307.0h1.4v1.4h-1.4zM549.3,309.1h1.4v1.4h-1.4zM572.9,297.9h1.4v1.4h-1.4zM558.9,289.4h1.4v1.4h-1.4z" fill="#f9e21c"/>
<path d="M525.1,296.5h1.8v1.8h-1.8zM515.8,303.2h1.4v1.4h-1.4zM529.4,303.4h1.8v1.8h-1.8zM519.8,306.0h1.8v1.8h-1.8zM552.3,306.9h1.8v1.8h-1.8zM563.8,275.6h1.4v1.4h-1.4zM572.9,277.6h1.8v1.8h-1.8zM563.7,286.4h1.8v1.8h-1.8zM575.2,286.7h1.8v1.8h-1.8zM561.3,289.4h1.4v1.4h-1.4zM575.4,291.5h1.4v1.4h-1.4zM575.9,293.1h1.4v1.4h-1.4zM575.6,295.5h1.4v1.4h-1.4zM551.8,292.2h1.4v1.4h-1.4z" fill="#f7a51d"/>
<path d="M513.0,298.8h1.4v1.4h-1.4z" fill="#fff27a"/>
<path d="M549.2,304.1h1.4v1.4h-1.4zM540.1,308.8h1.8v1.8h-1.8zM568.2,275.6h1.4v1.4h-1.4z" fill="#9a1d1a"/>
<path d="M565.9,273.1h1.4v1.4h-1.4zM570.5,275.3h1.4v1.4h-1.4zM574.9,275.4h1.4v1.4h-1.4zM577.3,282.0h1.4v1.4h-1.4zM563.8,284.5h1.4v1.4h-1.4zM554.1,292.2h1.8v1.8h-1.8z" fill="#ee5a1c"/>
<path d="M536.6,266.8h1.4v1.4h-1.4zM532.1,273.8h1.4v1.4h-1.4z" fill="#c8341c"/>
<path d="M536.4,268.5h1.8v1.8h-1.8zM550.1,271.0h1.8v1.8h-1.8zM529.2,273.8h1.8v1.8h-1.8z" fill="#8c2c1a"/>
<path d="M542.9,276.2h1.8v1.8h-1.8z" fill="#e0601e"/>
</g>
<path d="M495.0,313.0 L497.0,298.0 L503.5,277.0 L512.0,268.5 L525.0,262.0 L537.7,260.0 L552.6,261.0 L565.4,264.2 L576.0,269.5 L584.6,277.0 L588.9,285.5 L590.0,294.0 L586.7,300.5 L580.3,304.7 L569.7,306.9 L559.0,309.0 L559.0,313.3 L563.3,319.7 L561.0,325.0 L554.7,326.0 L546.2,324.0 L535.5,319.7 L524.9,316.5 L512.0,315.4 L501.4,315.4 Z" fill="none" stroke="#333" stroke-width="1.5"/>
<path d="M86.4,266.0 L89.6,256.4 L94.5,246.8 L99.3,234.0 L107.0,222.7 L117.0,217.9 L128.0,215.5 L141.0,215.5 L154.0,218.0 L166.8,224.3 L174.9,232.3 L179.7,240.4 L183.0,248.4 L181.0,254.8 L176.5,259.7 L170.0,262.0 L160.0,262.0 L152.0,263.0 L146.0,266.0 L147.5,273.0 L142.0,272.0 L135.0,268.0 L120.0,268.0 L100.0,270.0 L89.6,273.0 Z" fill="#939393"/>
<g clip-path="url(#clm)">
<path d="M175.7,270.0 l-4.2,1.5" stroke="#6e6e6e" stroke-width="1.7" stroke-linecap="round"/><path d="M123.0,236.1 l-3.5,4.0" stroke="#6e6e6e" stroke-width="1.2" stroke-linecap="round"/><path d="M173.5,221.6 l-6.5,0.4" stroke="#6e6e6e" stroke-width="1.2" stroke-linecap="round"/><path d="M121.1,218.8 l-5.4,4.4" stroke="#636363" stroke-width="1.7" stroke-linecap="round"/><path d="M180.2,236.4 l-4.3,4.0" stroke="#a4a4a4" stroke-width="1.7" stroke-linecap="round"/><path d="M141.8,262.3 l5.4,3.4" stroke="#636363" stroke-width="1.8" stroke-linecap="round"/><path d="M104.0,225.8 l4.3,6.9" stroke="#5a5a5a" stroke-width="1.4" stroke-linecap="round"/><path d="M94.4,240.0 l-1.8,8.5" stroke="#a4a4a4" stroke-width="1.4" stroke-linecap="round"/><path d="M96.9,267.3 l-1.1,8.4" stroke="#636363" stroke-width="1.6" stroke-linecap="round"/><path d="M111.4,221.7 l-5.9,4.7" stroke="#636363" stroke-width="1.9" stroke-linecap="round"/><path d="M118.1,223.7 l-3.1,3.2" stroke="#6e6e6e" stroke-width="1.5" stroke-linecap="round"/><path d="M180.6,218.7 l1.1,4.0" stroke="#5a5a5a" stroke-width="1.8" stroke-linecap="round"/><path d="M180.5,261.8 l-6.6,1.1" stroke="#5a5a5a" stroke-width="2.0" stroke-linecap="round"/><path d="M119.8,271.5 l1.9,4.6" stroke="#6e6e6e" stroke-width="1.3" stroke-linecap="round"/><path d="M139.4,258.9 l0.7,5.4" stroke="#636363" stroke-width="1.3" stroke-linecap="round"/><path d="M153.1,247.6 l3.3,3.1" stroke="#5a5a5a" stroke-width="1.3" stroke-linecap="round"/><path d="M129.4,235.2 l-7.6,2.7" stroke="#6e6e6e" stroke-width="1.9" stroke-linecap="round"/><path d="M93.1,270.7 l-7.3,2.4" stroke="#6e6e6e" stroke-width="1.6" stroke-linecap="round"/><path d="M126.0,259.9 l-1.2,6.6" stroke="#5a5a5a" stroke-width="1.9" stroke-linecap="round"/><path d="M88.8,223.5 l-7.6,0.8" stroke="#636363" stroke-width="1.5" stroke-linecap="round"/><path d="M178.3,220.0 l-1.3,6.6" stroke="#6e6e6e" stroke-width="1.4" stroke-linecap="round"/><path d="M163.6,272.3 l3.7,4.3" stroke="#636363" stroke-width="1.2" stroke-linecap="round"/><path d="M158.8,238.6 l-3.3,2.5" stroke="#6e6e6e" stroke-width="1.7" stroke-linecap="round"/><path d="M178.6,239.6 l4.5,5.3" stroke="#636363" stroke-width="2.0" stroke-linecap="round"/><path d="M137.2,232.6 l-4.2,1.4" stroke="#6e6e6e" stroke-width="1.9" stroke-linecap="round"/><path d="M122.9,216.5 l0.8,6.0" stroke="#6e6e6e" stroke-width="1.7" stroke-linecap="round"/><path d="M120.2,232.9 l-5.7,0.7" stroke="#6e6e6e" stroke-width="1.5" stroke-linecap="round"/><path d="M172.1,253.9 l-6.1,5.8" stroke="#5a5a5a" stroke-width="1.6" stroke-linecap="round"/><path d="M123.5,266.9 l-4.7,0.2" stroke="#6e6e6e" stroke-width="1.5" stroke-linecap="round"/><path d="M182.0,231.5 l-3.0,2.7" stroke="#5a5a5a" stroke-width="1.2" stroke-linecap="round"/><path d="M110.3,272.0 l-1.7,3.8" stroke="#a4a4a4" stroke-width="1.8" stroke-linecap="round"/><path d="M105.8,248.0 l-3.0,7.3" stroke="#6e6e6e" stroke-width="1.3" stroke-linecap="round"/><path d="M145.4,236.3 l-7.1,0.3" stroke="#636363" stroke-width="1.8" stroke-linecap="round"/><path d="M90.4,222.4 l-6.2,6.4" stroke="#636363" stroke-width="1.3" stroke-linecap="round"/><path d="M176.5,232.4 l-5.2,1.7" stroke="#5a5a5a" stroke-width="1.8" stroke-linecap="round"/><path d="M165.8,250.2 l-1.6,5.4" stroke="#5a5a5a" stroke-width="1.3" stroke-linecap="round"/><path d="M101.9,227.8 l-8.9,0.9" stroke="#636363" stroke-width="1.8" stroke-linecap="round"/><path d="M137.9,264.9 l1.2,5.7" stroke="#a4a4a4" stroke-width="1.7" stroke-linecap="round"/><path d="M130.5,253.4 l-7.1,1.0" stroke="#a4a4a4" stroke-width="1.5" stroke-linecap="round"/><path d="M166.7,217.8 l2.5,7.2" stroke="#636363" stroke-width="1.8" stroke-linecap="round"/><path d="M106.7,238.9 l5.5,1.0" stroke="#636363" stroke-width="1.5" stroke-linecap="round"/><path d="M143.3,239.3 l4.0,3.9" stroke="#6e6e6e" stroke-width="1.7" stroke-linecap="round"/><path d="M165.5,238.4 l2.6,5.9" stroke="#6e6e6e" stroke-width="1.2" stroke-linecap="round"/><path d="M165.0,225.9 l0.9,4.9" stroke="#5a5a5a" stroke-width="1.8" stroke-linecap="round"/><path d="M130.5,215.7 l-2.2,4.8" stroke="#6e6e6e" stroke-width="1.8" stroke-linecap="round"/><path d="M124.1,271.5 l-5.2,5.5" stroke="#a4a4a4" stroke-width="1.7" stroke-linecap="round"/><path d="M155.9,223.8 l-7.7,0.4" stroke="#6e6e6e" stroke-width="1.8" stroke-linecap="round"/><path d="M138.8,222.5 l6.2,1.3" stroke="#a4a4a4" stroke-width="1.3" stroke-linecap="round"/><path d="M97.7,216.5 l-0.3,5.0" stroke="#a4a4a4" stroke-width="1.7" stroke-linecap="round"/><path d="M162.0,233.5 l-3.7,4.9" stroke="#a4a4a4" stroke-width="1.9" stroke-linecap="round"/><path d="M119.1,258.0 l5.7,4.7" stroke="#636363" stroke-width="1.8" stroke-linecap="round"/><path d="M92.5,260.4 l7.8,3.7" stroke="#a4a4a4" stroke-width="1.8" stroke-linecap="round"/><path d="M180.1,221.9 l-3.8,2.3" stroke="#5a5a5a" stroke-width="1.3" stroke-linecap="round"/><path d="M155.9,270.5 l-2.6,6.0" stroke="#6e6e6e" stroke-width="1.4" stroke-linecap="round"/><path d="M182.3,252.7 l-4.6,1.9" stroke="#5a5a5a" stroke-width="1.8" stroke-linecap="round"/><path d="M149.9,223.1 l-5.6,3.2" stroke="#636363" stroke-width="1.8" stroke-linecap="round"/><path d="M111.5,268.8 l-1.8,5.6" stroke="#6e6e6e" stroke-width="1.2" stroke-linecap="round"/><path d="M163.5,252.1 l7.2,3.4" stroke="#6e6e6e" stroke-width="1.5" stroke-linecap="round"/><path d="M87.2,244.1 l0.7,5.4" stroke="#5a5a5a" stroke-width="1.8" stroke-linecap="round"/><path d="M166.8,227.5 l-6.5,4.6" stroke="#636363" stroke-width="1.3" stroke-linecap="round"/><path d="M165.6,254.0 l7.7,2.8" stroke="#636363" stroke-width="1.8" stroke-linecap="round"/><path d="M164.6,245.5 l-0.8,6.9" stroke="#636363" stroke-width="1.9" stroke-linecap="round"/><path d="M167.5,230.8 l-2.5,7.7" stroke="#636363" stroke-width="1.8" stroke-linecap="round"/><path d="M97.5,240.2 l7.2,1.5" stroke="#a4a4a4" stroke-width="1.5" stroke-linecap="round"/><path d="M160.6,221.2 l4.2,4.1" stroke="#6e6e6e" stroke-width="1.9" stroke-linecap="round"/><path d="M107.4,247.6 l-4.5,3.4" stroke="#5a5a5a" stroke-width="1.7" stroke-linecap="round"/><path d="M161.4,257.8 l6.0,3.1" stroke="#5a5a5a" stroke-width="1.7" stroke-linecap="round"/><path d="M129.6,218.6 l-5.2,1.2" stroke="#6e6e6e" stroke-width="1.8" stroke-linecap="round"/><path d="M154.6,254.2 l4.7,6.5" stroke="#5a5a5a" stroke-width="1.9" stroke-linecap="round"/><path d="M125.4,253.8 l2.9,7.1" stroke="#5a5a5a" stroke-width="1.3" stroke-linecap="round"/><path d="M88.7,264.9 l-5.7,4.8" stroke="#a4a4a4" stroke-width="1.3" stroke-linecap="round"/><path d="M177.9,251.9 l-4.6,1.1" stroke="#a4a4a4" stroke-width="1.4" stroke-linecap="round"/><path d="M136.9,270.3 l-2.9,6.5" stroke="#6e6e6e" stroke-width="1.7" stroke-linecap="round"/><path d="M151.6,225.7 l5.1,5.7" stroke="#5a5a5a" stroke-width="1.8" stroke-linecap="round"/><path d="M172.5,260.7 l-1.3,8.3" stroke="#5a5a5a" stroke-width="1.6" stroke-linecap="round"/><path d="M161.8,253.7 l-4.8,2.5" stroke="#636363" stroke-width="1.3" stroke-linecap="round"/><path d="M173.6,236.5 l-7.7,2.6" stroke="#a4a4a4" stroke-width="1.7" stroke-linecap="round"/><path d="M111.1,268.8 l-7.4,0.6" stroke="#636363" stroke-width="2.0" stroke-linecap="round"/><path d="M133.9,234.0 l-4.6,4.0" stroke="#636363" stroke-width="1.5" stroke-linecap="round"/><path d="M143.2,264.4 l5.8,0.9" stroke="#5a5a5a" stroke-width="1.5" stroke-linecap="round"/><path d="M92.7,222.8 l7.0,4.6" stroke="#636363" stroke-width="1.4" stroke-linecap="round"/><path d="M120.7,221.3 l-2.9,4.9" stroke="#6e6e6e" stroke-width="1.7" stroke-linecap="round"/><path d="M175.0,273.0 l5.5,4.1" stroke="#a4a4a4" stroke-width="1.5" stroke-linecap="round"/><path d="M182.1,217.6 l-2.2,4.3" stroke="#5a5a5a" stroke-width="1.7" stroke-linecap="round"/><path d="M166.1,246.6 l-1.8,3.8" stroke="#a4a4a4" stroke-width="1.6" stroke-linecap="round"/><path d="M174.6,264.3 l1.0,5.1" stroke="#636363" stroke-width="1.9" stroke-linecap="round"/><path d="M154.4,231.6 l-4.0,2.9" stroke="#6e6e6e" stroke-width="1.4" stroke-linecap="round"/><path d="M143.1,259.1 l-4.3,3.0" stroke="#636363" stroke-width="1.6" stroke-linecap="round"/><path d="M168.3,272.5 l1.2,4.9" stroke="#6e6e6e" stroke-width="1.8" stroke-linecap="round"/><path d="M180.5,265.5 l7.1,2.8" stroke="#a4a4a4" stroke-width="1.4" stroke-linecap="round"/><path d="M166.7,228.4 l5.2,4.9" stroke="#636363" stroke-width="1.4" stroke-linecap="round"/><path d="M126.5,270.9 l1.4,4.8" stroke="#636363" stroke-width="2.0" stroke-linecap="round"/><path d="M93.3,216.7 l3.5,2.3" stroke="#6e6e6e" stroke-width="1.7" stroke-linecap="round"/><path d="M154.0,248.6 l-7.2,3.0" stroke="#636363" stroke-width="1.9" stroke-linecap="round"/><path d="M112.5,259.9 l4.1,1.8" stroke="#5a5a5a" stroke-width="1.4" stroke-linecap="round"/><path d="M182.9,269.8 l-6.7,3.4" stroke="#a4a4a4" stroke-width="1.6" stroke-linecap="round"/><path d="M134.4,244.7 l-3.5,2.4" stroke="#636363" stroke-width="1.2" stroke-linecap="round"/><path d="M87.1,244.6 l-3.2,7.6" stroke="#6e6e6e" stroke-width="1.2" stroke-linecap="round"/><path d="M109.8,250.5 l-2.8,4.9" stroke="#636363" stroke-width="1.9" stroke-linecap="round"/><path d="M133.5,220.5 l-6.6,4.9" stroke="#a4a4a4" stroke-width="1.8" stroke-linecap="round"/><path d="M147.9,253.7 l-3.8,3.9" stroke="#6e6e6e" stroke-width="1.8" stroke-linecap="round"/><path d="M109.7,267.6 l8.2,1.4" stroke="#6e6e6e" stroke-width="1.5" stroke-linecap="round"/><path d="M153.1,267.4 l3.4,2.8" stroke="#636363" stroke-width="1.6" stroke-linecap="round"/><path d="M105.9,255.4 l-0.8,6.2" stroke="#6e6e6e" stroke-width="1.7" stroke-linecap="round"/><path d="M112.2,237.8 l7.7,2.4" stroke="#5a5a5a" stroke-width="1.9" stroke-linecap="round"/><path d="M119.4,270.6 l-0.6,5.9" stroke="#a4a4a4" stroke-width="1.8" stroke-linecap="round"/><path d="M177.8,227.2 l4.2,2.2" stroke="#a4a4a4" stroke-width="1.6" stroke-linecap="round"/><path d="M157.8,270.5 l-4.8,0.4" stroke="#5a5a5a" stroke-width="1.8" stroke-linecap="round"/><path d="M90.8,266.8 l1.5,6.7" stroke="#636363" stroke-width="1.9" stroke-linecap="round"/><path d="M130.8,268.3 l-1.7,6.6" stroke="#636363" stroke-width="1.8" stroke-linecap="round"/>
<path d="M115.8,251 Q118,240 130,238 Q150,235 162,240 Q168,245 169,252" stroke="#585858" stroke-width="2.4" fill="none" stroke-linecap="round"/>
<path d="M97,262 Q100,236 120,226 Q145,218 168,228 Q178,236 180,248" stroke="#585858" stroke-width="2.4" fill="none" stroke-linecap="round"/>
<path d="M106,228 Q125,218 150,220" stroke="#585858" stroke-width="2.4" fill="none" stroke-linecap="round"/>
<path d="M88,262 Q92,246 100,236" stroke="#585858" stroke-width="2.4" fill="none" stroke-linecap="round"/>
<path d="M116,252 Q119,241 133,239 Q152,237 164,244 Q171,252 167,260 Q160,265 145,266 Q128,266 119,262 Q115,258 116,252 Z" fill="#a6a6a6"/>
<path d="M136,262 L150,262 L150,275 L140,274 Z" fill="#9c9c9c"/>
<path d="M135,245 Q142,243 149,246 Q148,250 141,251 Q135,250 135,245 Z" fill="#5e5e5e"/>
<path d="M122,251 Q128,249 132,252 Q131,256 126,257 Q121,255 122,251 Z" fill="#5e5e5e"/>
<path d="M124,258 Q130,257 133,260 Q131,263 126,263 Q123,261 124,258 Z" fill="#5e5e5e"/>
<path d="M153,254 Q158,253 161,256 Q159,260 154,259 Z" fill="#5e5e5e"/>
<path d="M121,220 Q130,218 137,221 Q134,227 126,227 Q120,225 121,220 Z" fill="#5e5e5e"/>
<path d="M109,246l-2.7-1.7 2.3-1.8 3.6,.7 .7,2zM105,239l-1.8,.8 -2.8-.7 -.3-1.9 3.3-.1zM108,244l1,.7 -.5,1.8 -1.1-.1 -.3-1.8zM118,239l-.3,1.3 -1.5,.5 -1.1-1.2 1-1.5zM111,254l-1.3,1 -1.7-.1 .1-1 1.9-.5zM100,248l1.6-1.5 .7,2.5 -1.1,2.3 -1.3-.4zM115,240l.5,2.2 -1.7,1.8 -1.2-2 1.4-2.5zM108,241l1.8-.9 .1,.9 -1.5,1.1 -1.3,.1zM107,254l-3.1,1.3 -2-.6 2-2.2 2.9-1.1zM103,249l-1.5,2.1 -2.2-.4 0-1.8 1.6-.9zM110,235l-.9-1.9 .2-1.6 1.2,.5 .4,1.9zM114,245l1,.2 .2,1.6 -.8,.7 -.7-.8zM116,247l-1.9,1 -1.3-1.8 .5-1.9 1.9,.4zM168,242l-1,2.1 -1.1-.3 .4-1.7 1.4-1.5zM173,235l1,1.2 -1.2,1.1 -1-.3 .3-.9zM177,239l.9-.8 0,1.4 -1,1.3 -.4-1.1zM174,241l-.5-.5 1.4-2 1.5-.4 -.6,2.2zM167,242l2.7-2.1 .9,1 -2.2,2.3 -1.7,0zM173,239l-1,1.5 -2.6-.8 -1.6-2.6 2.2-1.1z" fill="#b02018"/>
<path d="M153,230l1.3,.2 .2,1 -1,.4 -.6-.6zM155,223l.5,1.2 0,1 -.6-.3 -.3-.9zM165,225l.2,1.7 -1.8,.6 -.4-2.1 1.2-1.7zM153,222l-1.2,.6 -.8-.4 .5-.6 1.2,.1zM103,262l-1.1,.4 -.8-.6 .9-.8 1.2,.3zM102,267l0,1.9 -1.2,0 -.6-1.6 .4-1.1zM90,266l-.9,.3 .1-1.3 .8-.7 .6,1.2zM101,263l1.7,.6 -.4,1.2 -2-.5 -1.3-1.4zM103,265l3.1,.2 1.8,1.6 -2,.7 -2.9-1.1zM92,257l-1.5,.1 1-2.2 1.7-1.5 .5,1zM101,256l1.1-.2 .4,1 -.8,.8 -1-.8zM138,227l.8-1.4 2.7,1.1 .2,1.5 -1.9,0zM143,227l.3,.9 -.6,1 -1.2-.1 0-1.4zM136,235l-1,1 -.6-1 .9-1.8 .8,0zM136,230l.2-.5 1.4,.3 1.2,1 -1.5,0zM130,226l1.4,.7 -.1,1.2 -1.4,0 -1-1.2zM136,230l-1.3-.2 .8-.8 1,.1 .4,.7z" fill="#a01c18"/>
<path d="M110,253l1.7,1.2 -1.7,1.1 -2.4-1 .2-1.4zM115,236l-2.4,1 -1.6-1.1 1.1-1.7 2.5,.8zM106,243l-.5-.7 2.3,.1 1.4,1 -.8,.8zM110,243l2-1.2 2.7,.4 .8,2 -2.8,.7zM108,238l2-1.9 3.7-.3 -.4,1.9 -3.4,1.9zM113,237l-2.2,2.2 -1.6-.5 1-2.2 2.5-1.3zM104,241l.3,2 -1.6,2.2 -1.8-.1 .8-2.4zM102,236l1.9-1 2.9,.7 .6,1.4 -2.3,.9zM113,248l-1.1,2.4 -1.3,.6 -.4-2.2 1.2-1.8zM111,239l-.2-2 .9-.7 .5,1.6 -.2,1.1zM104,254l-.7-.2 -.3-1.4 1.1,0 .7,1zM102,247l0,2.7 -1.5,1.1 -.9-1.1 1-1.8zM159,228l1,1 -.2,1.2 -2.3,.6 -.2-1.4zM156,228l-.3-.1 -.6-.9 .6-.6 .9,.1zM159,232l-1,.4 -.4-1.8 .7-.7 .8,1zM153,223l-.1,1.1 -.8-.3 0-1.2 .6-.5zM173,242l-.8,2.3 -2.7,.5 -.9-1.4 2-1.3zM167,241l-2-.7 .4-1.9 1.8,.5 .8,1.5zM164,243l1.3-2.2 1.9,0 .1,1.3 -1.8,.9zM174,237l.8-2.5 1.4-.1 .5,3.5 -1.6,1.5zM105,266l-.4-1.5 1.3-2 1.5,.5 -.7,2zM101,255l-3-.3 -1.1-1.3 2-.3 2.1,.9zM99,271l-.3-1.3 .4-.7 .6,.5 -.2,1.2zM95,256l1.4,2.1 -.5,1.5 -1.7-1.2 -.5-2.2zM111,255l-.6,1.8 -1.6-.1 -1-1.1 1.4-1.1zM95,264l.5,.6 -1.5,.8 -.8-.6 .7-1zM106,261l-.5,2.5 -1.7-1 -.8-2.3 1-1zM91,259l-.2-1.1 .3-1.7 .7,.1 .1,1.1zM96,261l.7-.9 .7,0 .2,.7 -.5,.6zM107,267l-1.6-.2 -1.5-.3 .6-.6 1.1,0zM123,229l2.6,.3 -.4,.9 -1.7,0 -1.3-1zM125,232l1.3,.5 0,.9 -1,.3 -.4-.8zM124,229l1.5,.9 .1,1.6 -1.9-.2 -1.1-2.2zM138,230l1.2,.7 .2,2.1 -1.3,.7 -1.1-1.7zM135,228l-1.8-.9 -.2-1.8 1-.3 .9,2.2zM130,233l.8-1.2 1.8,.6 .3,2.1 -2.1,.5z" fill="#c8281c"/>
<path d="M104,240l.5-1.4 1.1-.1 .6,1.1 -1.1,.6zM105,246l-1.7,1.5 -.9-.6 .6-1.7 1.6-.6zM108,240l1.3,.5 0,2.5 -1.1,.8 -.6-1.8zM105,246l-3.6-2.9 -.3-2.7 2.7,.5 1.9,3.2zM117,250l-2.4,0 -2.2-1.7 1.1-1.7 3.2,.7zM112,252l.2-2.7 1.6-1.4 1.6,1 -1,2.2zM110,243l-.9,2.3 -2.3-1 .2-2.3 2.1-.8zM106,251l1.1-1.5 1.3,.2 .3,1.6 -1.6,.4zM107,241l1.4-.4 .5,2.3 -1.8,.8 -1.6-1.2zM105,231l2.2-.4 1.7,1.9 -.4,1.5 -2.1-.8zM111,255l-1.7-2.1 1.5-1.9 2.1,1.4 .8,2.7zM115,246l-1.4-.5 -1.4-2 .9-1.8 1.9,1.1zM111,246l-1.1-1.7 2.3-2.5 2-.3 -.4,2zM102,244l1.7-.5 -.2,1.6 -1.3,1.3 -.9-.7zM104,251l-3-1.2 -2.5-2.4 1.1-1.3 3.8,2.3zM173,238l-1.3,.9 -1.7-1.3 .1-1.8 1.9,.6zM177,245l1.2,2.2 -3.8,.1 -3.4-1.4 2.4-1.5zM167,239l1.4,1.5 -.5,.8 -1.4-.6 0-1.1zM169,238l.2,1.7 -1.3,.7 -.4-1.7 .6-1.4zM169,243l-.6,2.8 -1.3,.5 -.5-1.9 .7-1.4zM170,246l-.5,.5 -1-.1 -.1-1 .9-.7z" fill="#d8301e"/>
<path d="M155,230l-1.3,.9 -1.1-.8 .1-.8 1.1,0zM156,227l3,.6 -.5,1.1 -2.5,.4 -1.5-.7zM161,223l-1.2-1.9 1.7,.5 1.7,1.8 -.7,1.2zM149,222l.8,1.5 -1.1,1.4 -1.5-1.1 -.1-1.5zM152,227l1.2-.6 -.1,1.8 -1.2,1.8 -.8-.4zM152,227l-.9-.7 -.2-.7 .7-.5 .6,.6zM96,254l-.7,.6 -.4-.7 .4-1.3 .5,0zM99,266l-1.6-.8 -.1-1.5 2.1-.3 .7,1.3zM108,266l-.4,1 -.7-.5 -.2-1.3 .7-.4zM101,258l1.6,.8 -.8,1.1 -1.2-.3 -.3-1.2zM93,266l-.2-.9 1.2-.1 1.1,.8 -.7,1.2zM111,262l.7-.8 .4,.8 -.6,1.1 -.8-.3zM94,264l-.4,2.5 -1,1.2 -.9-1.1 1.1-2.5zM105,265l-.8,1.7 -1.5,0 -1.1-1.3 1.3-1.4zM102,256l.9-.2 .9,.6 -.4,1.1 -.9,0zM124,231l.8-.4 .8,.2 -1.2,1 -1.2,.1zM134,235l2.4-1 -.1,1.2 -2,1.1 -1.4-.3zM141,229l.3,1.9 -1.6,.4 -1-.8 .6-1.3z" fill="#d8401e"/>
<path d="M105,247l2.2,.7 -.2,2.1 -2.1,.6 -.7-1.3zM112,255l-2.5,.1 -2.4-1.8 1-1.3 3.6,1zM103,240l-.9-.9 1-.3 1.8,.7 -.8,.6zM108,248l.7-.9 1.2,.6 .5,1.3 -.9,.7zM105,238l1,1.4 -1.2,2.1 -1.5,0 .1-1.8zM104,249l-2.1-1 2.4-1.5 3.1,.7 -.2,2zM109,249l2.6,1.3 -.7,1.8 -1.8-.1 -1.6-1.8zM105,242l1.3-2.7 2,1.2 -.5,3.3 -2.3,.3zM106,246l1.7-1.2 1.2,.4 -.9,1.3 -1.3,.3zM112,235l-1.4-1.4 0-3.9 1.7,.4 1,3.6zM108,247l-1-2.1 .1-1.4 1,.9 0,1.4zM170,236l1.7-2.7 1.1,1 -.3,2.6 -1.9,1.3zM171,241l.1,.2 -1.5,1.8 -1.3,0 .8-1.7zM175,236l.5,2.1 -2.4,1.8 -1.9-.9 .9-2z" fill="#e0501e"/>
<path d="M109,255l-1.2,.5 .9-2.1 1.4-1.4 .2,1.2zM104,239l.3-.6 1.1,.2 .5,1.1 -.5,.4zM114,242l1,1.9 -1.8,1.3 -1.7-1.4 .4-2zM104,239l-1.1,.6 -1.3-.5 -.4-1.6 1.6-.3zM108,241l2,1.4 .1,1.7 -2.2,.3 -.9-1.4zM104,237l.3-1.4 1.2-.2 1.3,1.3 -.8,1.1zM111,254l-1.7-1.3 1.4-.7 2.1,.9 .5,1.5zM109,252l-.1-1.4 .9-1.8 .9,1.4 -.3,2.2zM104,253l1.3-.6 1.1,1.3 -1.3,1.1 -2.2-.8zM100,250l.2-1.8 2.7-1.5 .5,1.3 -2.1,1.8zM101,250l-1.3-.7 .6-.8 1.6,0 .1,1zM114,233l-1.7,.8 -1.9-1 -.5-1.5 2.4,.6zM110,232l.8,.4 -.4,.8 -1.3,.7 -.4-.6zM114,246l1.6-.1 -.5,.6 -1.2,.5 -.3-.5zM171,244l-2.1-.2 .5-.9 1.7-.1 1.5,.6zM171,237l-.8-1.4 1.8-1.1 1,.5 -1,1.3zM166,241l.8,1.3 -1,.7 -.7-.9 .2-1.2zM167,241l-.4-1.3 .9-.1 .6,.6 -.5,.9zM175,239l1.1,.6 -.8,1.1 -.9-.3 -.3-1.1zM167,239l1.9-1.2 .8,.4 -1.1,1.2 -1,0zM173,235l2,.3 1.6,1.3 .2,1.3 -2.2-1z" fill="#f07a1d"/>
<path d="M159,229l-.3,1.4 -.5-.5 0-.9 1-.3zM156,227l-.5-.1 .4-.4 .5,.5 -.3,.4zM154,231l-.6-.5 -.4-.8 .1-.6 .6,.6zM153,231l.7-.5 .5,0 -.2,.5 -.6,.2zM157,229l-1.1-.5 .4-.9 1.4,0 .1,.9zM161,222l1.3,.4 .1,.9 -1.2,.4 -.6-.9zM152,229l-.4-.6 .4-.8 .8,.2 -.1,1.1zM155,225l-.3-.5 .3-.6 .3,.1 0,.5zM165,225l.9,.5 -1,.6 -1.4-.2 -.5-.7zM152,222l0-.4 .4,.3 -.1,.5 -.5,.1zM152,226l-.4,.2 -.5-.1 .1-.5 .6-.2zM106,265l-.7-1.1 .9-.2 .5,.6 -.3,.8zM95,253l.5,0 .3,.5 -.2,.4 -.5-.2zM98,264l1.1,0 .7,.3 -1,.8 -1.1,.1zM107,266l-.1-.8 .6,.3 .2,.7 -.3,.3zM102,259l-1,.4 -.2-.6 .5-.3 .6,.2zM99,255l-.4-1.8 .6,0 .7,1 -.3,1zM93,266l1.1-.7 .6,.4 -.6,.4 -1.1,0zM92,266l.9-1.2 .8,.8 -.1,1.1 -1-.2zM99,270l-.5-.1 .1-.4 .8,.2 .3,.5zM95,257l.9,.1 -.1,1.2 -.9,.2 -.6-.8zM110,256l-.3,.5 -.8,0 -.3-.7 1-.7zM90,265l-.1,1.1 -.3-.2 0-.8 .5-.4zM94,264l-.3,.1 1.1,0 .2,.5 -.5,.2zM105,267l-.4-.2 .1-1.2 1-.7 .3,1.1zM93,255l.5,1.2 -1.4-.6 -1-1.2 .7-.3zM92,257l-.9,.5 0-.4 .4-.4 .4,.4zM104,266l-.4,.6 -.8-.3 -.3-1.4 .7-.4zM105,266l.6,.1 -.1,.6 -.6,.1 -.2-.6zM123,229l1.1-.3 .5,.8 -.4,.8 -.6-.3zM126,233l-1-.1 .3-.3 .5,0 .2,.6zM124,230l-.5-.4 .3-.4 1.3,.8 .1,.9zM140,226l.7,.6 0,1.4 -.9,.1 -.3-.9zM136,234l-.8,1.6 -.4-.6 .5-1.2 .5-.2zM137,230l.5,.2 -.3,.6 -.7-.4 .2-.6zM135,235l.7,.4 -.6,.4 -1.1-.3 -.1-.5z" fill="#f0801d"/>
<path d="M105,242l-.6,2.1 -2.1,.5 -.3-2.1 1.2-1.7zM111,239l-1.3-1 .3-1.7 2-.4 .8,2.1zM109,244l1.6-2.4 .7,1.7 -1.2,2.5 -1.4,.7zM115,250l-1.1-.1 0-2.2 1.6-1.6 .3,1.9zM107,244l1.3,.6 .6,1.1 -.8,.4 -.8-.9zM108,251l-1,.9 -.4-1.3 .7-1.4 .7,.7zM102,243l.4-.9 1.2,.5 -.2,1.8 -1,.8zM110,254l.6,.8 -1.4,0 -1.1-.5 .9-.4zM100,250l0-1.3 1.5-.5 .7,1.1 -1.1,1.1zM103,240l.9-.6 1.8,.6 -.1,.8 -1.6,0zM108,232l-1.1,1.5 -1.2-.4 1.2-1.6 1.6-.2zM104,250l.3-2.5 1-1.5 .8,1.8 -.3,2.3zM112,244l1.3-1.3 1.6,.3 0,1.5 -1.5,.9zM113,244l-2,.6 -.1-1.3 1.9-1.6 1.7,.4zM112,237l.8,.7 -.7,.5 -1.3,.1 -.4-.6zM106,242l-.5-1.8 1.5,.1 1,2.6 -1.2,.9zM108,246l0,.6 -.6-.1 -.5-.8 .2-1zM167,241l-.8,0 -.8-1.3 .9-1 .9,.5zM166,244l.6-1.9 1.2-.3 -.1,.9 -1.3,1.2zM172,238l1-1.5 1.3,.6 .2,1.8 -1.8,.8zM168,241l1.5,0 -.2,1.2 -1.3,.5 -1.1-.7zM172,240l-1,.8 -2.4-2.7 .7-1.2 1.8,1z" fill="#f59a1d"/>
<path d="M113,237l-1.5-.6 .8-1.5 1.5-.3 .5,1.5zM102,247l1-1 1.1-.6 .4,.5 -.9,.9zM108,243l-.8,1.2 -.6-.7 .5-1.2 1,0zM109,241l0,1.7 -.8,.6 -.4-1.4 .5-1.1zM104,248l2.1,.5 .7,.9 -1.1,.3 -1.7-.8zM109,252l1.9,.1 .3,2.4 -1.7,.5 -.9-1.1zM112,237l-.5,1.7 -1.2-.4 -.3-2 1.3-.3zM103,239l.7-.1 .7,.5 -.9,.7 -1-.2zM112,249l.2-.8 2.5,.8 1.1,1.9 -1.9,.2zM109,248l.9-.5 .3,1.1 -.8,.4 -.7-.5zM117,241l-.5,.3 -.8-1.8 .5-1.5 .9,.6zM106,243l.7-1.8 1.2-.3 .4,1.3 -1.2,1.1zM110,250l.7-1.9 1.1-.3 .6,1.9 -.9,.6zM104,254l-.6-.9 .6-.7 .6,.5 -.2,.9zM113,241l.7-1.1 1.7,.6 .1,1.8 -1.2,.6zM109,241l0,.8 -.6,.3 -.4-.7 .4-.9zM103,244l.4,1.4 -.5,.5 -.8-.8 -.2-1.1zM102,249l-.8,1.6 -1.2-.4 -.3-1.1 1.1-.9zM112,247l1.2-1.9 2.6-.1 -.2,1.3 -1.8,.8zM107,244l1,.7 .2,.6 -.7,.5 -.5-.7zM171,236l1.3,.7 -.3,1.7 -1-.1 -.4-1.2zM173,238l-.7-1.2 -.1-1.2 .6-.2 .3,1.3zM170,241l.5,.6 -.4,.8 -1.1-.1 .3-.9zM178,240l-1.1,0 -.6-.7 .8-.7 .6,.5zM174,244l2.2,1 .1,2 -2,.4 -1.3-1.5zM168,243l.5,1.4 -.7,1.1 -.8-.2 0-1.3zM168,246l.4-.7 .9,.1 .7,.5 -.6,.5z" fill="#f7b21d"/>
<path d="M108,241l1,.8 0,.4 -.6,0 -.5-.4zM110,245l-.9-1.3 .5-.9 1,1.2 .2,1.4zM102,238l.2-.3 .7,.5 .2,.8 -.8,.3zM104,240l-.9-.3 -.2-.4 .3-.3 .6,.5zM114,249l.1-1.1 .9-.2 .6,.8 -.6,.9zM108,245l.2,1 -.5-.7 -.1-.7 .4-.2zM108,244l-.1-1.3 .9-.5 .6,1 -.8,.6zM117,240l-.9,0 -.1-.7 .7-.3 .7,.5zM104,247l1.3,.2 .7,1.5 -.5,.5 -.9-.9zM106,254l-2.2,.1 -.5-.7 1.1-.5 1.5,.3zM101,250l-.8-.9 .5-.5 .6,.2 .2,.8zM101,249l-.1,1.1 -1-.1 .2-.8 .7-.2zM110,233l-.2,.4 -.6-.4 .4-.4 .7,.2zM115,246l-.1,.6 -.5,.2 -.2-.4 .2-.4zM171,235l.5,0 .6,.3 -.1,1.1 -.7,.1zM171,236l.6,.7 .2,1 -.4,.4 -.3-.6zM167,240l.2,.4 -1-.2 -.8-.7 .8-.3zM170,242l.2,0 -.6,.1 -.3-.5 .5-.4zM174,238l-.5,1.1 -.7-.3 -.1-1.6 .8-.3zM176,236l-.8,1.3 -.5-.3 .4-1.3 .8-.7z" fill="#f9e21c"/>
<path d="M105,239l.7,.6 -.3,.2 -.7-.5 -.1-.5zM103,244l-.6-1.1 .6-1.1 1.2,.4 -.1,1.2zM105,248l.6,.2 .5,.8 -.4,.7 -.6-.3zM103,243l-.6,1 -.9,.1 .9-1 1.2-.5zM109,254l.5,.1 .4,.5 -.4,.3 -.6-.4zM111,250l-.5-1.3 .8-.3 .7,.8 -.2,.5zM107,245l.9,.4 -.1,.7 -.5,.3 -.2-.3zM102,248l.4,1.1 -1.3,.2 -.9-.8 .6-.8zM111,232l1.3,.1 1,.4 -1.3,.8 -1.3-.3zM107,245l.8-.1 .3,.5 -.5,0 -.6-.4zM167,242l.7,.7 -.1,.7 -.9-.4 -.4-.6zM166,243l-.2-.7 -.5-.6 .5-.5 .7,.5zM168,241l-.9-.5 -.2-.8 .4,.1 .4,.5zM175,240l-.2,.4 -.4-.8 .5-.6 .5,.6zM169,245l.4,.6 .1,.4 -.4,.1 -.3-.4zM170,238l1.6,.2 -.3,1.2 -1.4-.1 -.4-.9z" fill="#fbec3a"/>
<path d="M113,235l.7,.7 .1,1.2 -.9-.3 -.5-1.3zM103,246l.7-.4 .3,.6 -.3,.6 -.5-.2zM107,243l.7-.6 .1,.8 -.3,.5 -.4-.2zM112,243l1.2-.8 .7,.9 -.2,1.2 -1.2-.4zM108,250l-.2,.6 -.7,.6 -.4-.3 .7-.7zM109,248l.7-.2 .1,.9 -.4,.2 -.3-.6zM102,250l-.7-.1 -1.1-.5 -.1-.6 1,.2zM105,240l-1,.5 -.4-.5 .9-.3 .7,.1zM107,243l-.3-1.3 .6-.3 .6,.8 -.4,.5zM114,243l.5,.5 -.1,.7 -1,.3 -.7-.6zM112,243l.8-.8 .5,.5 -.6,1.1 -1.2,.3zM114,242l-.1,.1 .3-1 .7-.5 .2,.5zM105,242l.9-.8 1.2-.3 .1,1.1 -.8,.9zM109,242l-.7-.2 -.1-.5 .4-.4 .4,.2zM172,236l.4-.1 .6,.4 .1,.4 -.4,.2z" fill="#fff27a"/>
<path d="M106.2,233.1h1.8v1.8h-1.8zM107.9,233.3h1.4v1.4h-1.4zM113.2,237.6h1.8v1.8h-1.8zM110.1,240.4h1.4v1.4h-1.4zM112.4,245.2h1.4v1.4h-1.4zM110.5,246.8h1.8v1.8h-1.8zM159.5,228.7h1.8v1.8h-1.8zM167.2,244.2h1.8v1.8h-1.8zM136.1,230.5h1.4v1.4h-1.4z" fill="#f7a51d"/>
<path d="M108.5,238.0h1.4v1.4h-1.4z" fill="#fff27a"/>
<path d="M100.9,240.6h1.8v1.8h-1.8zM108.2,240.0h1.8v1.8h-1.8zM110.3,242.3h1.8v1.8h-1.8zM105.6,245.2h1.4v1.4h-1.4zM105.4,249.2h1.8v1.8h-1.8z" fill="#f9e21c"/>
<path d="M101.0,245.2h1.8v1.8h-1.8zM103.5,247.0h1.8v1.8h-1.8z" fill="#ee5a1c"/>
<path d="M115.3,245.0h1.4v1.4h-1.4zM112.5,247.0h1.8v1.8h-1.8zM176.7,240.0h1.4v1.4h-1.4z" fill="#d92a1e"/>
<path d="M151.0,227.2h1.8v1.8h-1.8zM155.1,226.8h1.4v1.4h-1.4zM148.1,229.6h1.8v1.8h-1.8zM150.2,229.2h1.8v1.8h-1.8z" fill="#e0601e"/>
<path d="M106.2,263.6h1.8v1.8h-1.8zM96.8,265.9h1.8v1.8h-1.8zM131.9,230.4h1.8v1.8h-1.8z" fill="#c8341c"/>
</g>
<path d="M86.4,266.0 L89.6,256.4 L94.5,246.8 L99.3,234.0 L107.0,222.7 L117.0,217.9 L128.0,215.5 L141.0,215.5 L154.0,218.0 L166.8,224.3 L174.9,232.3 L179.7,240.4 L183.0,248.4 L181.0,254.8 L176.5,259.7 L170.0,262.0 L160.0,262.0 L152.0,263.0 L146.0,266.0 L147.5,273.0 L142.0,272.0 L135.0,268.0 L120.0,268.0 L100.0,270.0 L89.6,273.0 Z" fill="none" stroke="#3a3a3a" stroke-width="1.1"/>
<path d="M576.4,263.0 L576.4,255.0 L579.6,245.4 L584.5,237.3 L592.5,229.3 L602.0,225.3 L618.0,222.9 L631.0,222.0 L642.0,223.7 L653.6,228.5 L661.6,235.7 L668.0,243.8 L671.3,251.8 L673.0,261.4 L671.3,269.5 L666.5,272.7 L655.0,271.0 L644.0,272.7 L633.7,274.9 L623.0,279.0 L614.5,283.4 L610.0,277.0 L607.0,272.0 L594.0,271.0 L583.0,268.0 Z" fill="#939393"/>
<g clip-path="url(#crm)">
<path d="M645.2,273.6 l7.6,4.9" stroke="#5a5a5a" stroke-width="1.4" stroke-linecap="round"/><path d="M644.6,283.3 l-4.4,3.1" stroke="#5a5a5a" stroke-width="1.9" stroke-linecap="round"/><path d="M619.0,275.2 l-4.6,0.2" stroke="#6e6e6e" stroke-width="1.6" stroke-linecap="round"/><path d="M647.8,249.3 l5.0,7.2" stroke="#a4a4a4" stroke-width="1.3" stroke-linecap="round"/><path d="M657.9,231.7 l2.9,4.7" stroke="#a4a4a4" stroke-width="1.6" stroke-linecap="round"/><path d="M640.2,224.0 l4.5,3.5" stroke="#a4a4a4" stroke-width="1.8" stroke-linecap="round"/><path d="M585.8,262.8 l-6.5,4.8" stroke="#a4a4a4" stroke-width="2.0" stroke-linecap="round"/><path d="M602.1,267.6 l-4.3,1.0" stroke="#636363" stroke-width="1.6" stroke-linecap="round"/><path d="M639.5,241.9 l5.7,4.1" stroke="#6e6e6e" stroke-width="1.8" stroke-linecap="round"/><path d="M625.2,283.2 l-4.9,4.5" stroke="#636363" stroke-width="1.4" stroke-linecap="round"/><path d="M601.6,261.5 l-2.7,5.3" stroke="#6e6e6e" stroke-width="1.8" stroke-linecap="round"/><path d="M582.8,244.3 l4.1,6.7" stroke="#6e6e6e" stroke-width="1.8" stroke-linecap="round"/><path d="M609.4,276.4 l-4.0,1.2" stroke="#a4a4a4" stroke-width="1.9" stroke-linecap="round"/><path d="M618.8,270.3 l4.2,1.2" stroke="#6e6e6e" stroke-width="1.5" stroke-linecap="round"/><path d="M654.8,255.1 l-1.4,5.9" stroke="#636363" stroke-width="1.5" stroke-linecap="round"/><path d="M603.6,244.8 l6.9,3.4" stroke="#5a5a5a" stroke-width="1.3" stroke-linecap="round"/><path d="M664.4,278.8 l7.2,0.3" stroke="#6e6e6e" stroke-width="1.5" stroke-linecap="round"/><path d="M663.8,238.4 l2.8,7.3" stroke="#5a5a5a" stroke-width="1.5" stroke-linecap="round"/><path d="M614.8,223.2 l0.5,4.3" stroke="#636363" stroke-width="1.8" stroke-linecap="round"/><path d="M627.6,277.2 l4.9,3.9" stroke="#5a5a5a" stroke-width="1.3" stroke-linecap="round"/><path d="M587.3,227.0 l3.1,2.8" stroke="#6e6e6e" stroke-width="2.0" stroke-linecap="round"/><path d="M581.2,277.7 l-3.6,2.7" stroke="#636363" stroke-width="1.3" stroke-linecap="round"/><path d="M651.7,269.0 l-2.0,6.3" stroke="#a4a4a4" stroke-width="1.6" stroke-linecap="round"/><path d="M601.0,262.2 l1.1,7.2" stroke="#636363" stroke-width="1.5" stroke-linecap="round"/><path d="M609.4,233.7 l4.1,2.2" stroke="#a4a4a4" stroke-width="2.0" stroke-linecap="round"/><path d="M668.9,274.2 l-2.0,4.2" stroke="#636363" stroke-width="1.3" stroke-linecap="round"/><path d="M665.2,250.3 l4.9,3.3" stroke="#6e6e6e" stroke-width="1.7" stroke-linecap="round"/><path d="M633.1,282.9 l1.2,8.3" stroke="#636363" stroke-width="1.9" stroke-linecap="round"/><path d="M592.7,233.6 l-3.5,2.1" stroke="#6e6e6e" stroke-width="1.4" stroke-linecap="round"/><path d="M642.0,267.9 l4.1,3.8" stroke="#6e6e6e" stroke-width="1.4" stroke-linecap="round"/><path d="M629.7,279.7 l5.2,4.9" stroke="#636363" stroke-width="1.7" stroke-linecap="round"/><path d="M611.6,236.0 l-7.4,4.7" stroke="#a4a4a4" stroke-width="1.6" stroke-linecap="round"/><path d="M583.6,244.0 l-5.5,3.0" stroke="#6e6e6e" stroke-width="2.0" stroke-linecap="round"/><path d="M630.9,236.6 l6.2,2.2" stroke="#a4a4a4" stroke-width="2.0" stroke-linecap="round"/><path d="M637.6,255.2 l7.1,1.6" stroke="#636363" stroke-width="2.0" stroke-linecap="round"/><path d="M610.9,280.2 l-2.9,5.9" stroke="#a4a4a4" stroke-width="1.4" stroke-linecap="round"/><path d="M635.4,265.4 l5.8,3.1" stroke="#636363" stroke-width="1.6" stroke-linecap="round"/><path d="M603.9,257.6 l1.5,3.8" stroke="#636363" stroke-width="1.9" stroke-linecap="round"/><path d="M623.1,222.3 l-0.2,6.4" stroke="#6e6e6e" stroke-width="2.0" stroke-linecap="round"/><path d="M589.9,255.0 l5.3,4.6" stroke="#5a5a5a" stroke-width="2.0" stroke-linecap="round"/><path d="M609.6,266.9 l-4.3,7.8" stroke="#636363" stroke-width="1.4" stroke-linecap="round"/><path d="M609.5,258.9 l5.8,5.1" stroke="#6e6e6e" stroke-width="2.0" stroke-linecap="round"/><path d="M630.4,250.7 l2.1,4.5" stroke="#636363" stroke-width="1.9" stroke-linecap="round"/><path d="M671.6,232.1 l-7.0,4.3" stroke="#636363" stroke-width="2.0" stroke-linecap="round"/><path d="M630.2,253.0 l-0.6,7.1" stroke="#6e6e6e" stroke-width="1.8" stroke-linecap="round"/><path d="M651.6,277.7 l-1.1,4.7" stroke="#6e6e6e" stroke-width="1.5" stroke-linecap="round"/><path d="M636.3,229.8 l6.4,3.5" stroke="#636363" stroke-width="1.5" stroke-linecap="round"/><path d="M638.6,229.7 l1.7,8.1" stroke="#636363" stroke-width="1.4" stroke-linecap="round"/><path d="M622.5,235.4 l3.2,3.6" stroke="#636363" stroke-width="1.7" stroke-linecap="round"/><path d="M645.9,254.0 l4.9,5.8" stroke="#6e6e6e" stroke-width="1.3" stroke-linecap="round"/><path d="M590.1,222.1 l-4.8,1.3" stroke="#a4a4a4" stroke-width="1.6" stroke-linecap="round"/><path d="M641.6,272.4 l-5.0,0.5" stroke="#6e6e6e" stroke-width="1.3" stroke-linecap="round"/><path d="M652.1,231.0 l2.4,3.8" stroke="#6e6e6e" stroke-width="1.9" stroke-linecap="round"/><path d="M668.0,273.8 l-2.3,6.1" stroke="#5a5a5a" stroke-width="1.3" stroke-linecap="round"/><path d="M585.6,277.5 l5.8,6.9" stroke="#6e6e6e" stroke-width="1.5" stroke-linecap="round"/><path d="M661.5,239.4 l-4.7,5.2" stroke="#6e6e6e" stroke-width="1.5" stroke-linecap="round"/><path d="M662.2,278.3 l-8.1,0.6" stroke="#6e6e6e" stroke-width="1.3" stroke-linecap="round"/><path d="M577.2,268.4 l6.2,3.0" stroke="#6e6e6e" stroke-width="1.9" stroke-linecap="round"/><path d="M637.4,223.9 l5.1,5.3" stroke="#6e6e6e" stroke-width="1.7" stroke-linecap="round"/><path d="M592.9,276.4 l-1.7,6.8" stroke="#a4a4a4" stroke-width="1.3" stroke-linecap="round"/><path d="M648.5,242.1 l5.6,5.7" stroke="#a4a4a4" stroke-width="1.7" stroke-linecap="round"/><path d="M640.3,281.3 l8.0,3.9" stroke="#636363" stroke-width="1.4" stroke-linecap="round"/><path d="M660.0,266.3 l-5.9,0.4" stroke="#5a5a5a" stroke-width="1.9" stroke-linecap="round"/><path d="M617.5,246.7 l8.3,1.3" stroke="#6e6e6e" stroke-width="2.0" stroke-linecap="round"/><path d="M587.7,239.0 l6.8,4.6" stroke="#a4a4a4" stroke-width="1.9" stroke-linecap="round"/><path d="M591.5,261.0 l7.6,0.6" stroke="#5a5a5a" stroke-width="1.7" stroke-linecap="round"/><path d="M641.6,227.9 l-7.3,2.8" stroke="#636363" stroke-width="1.9" stroke-linecap="round"/><path d="M641.5,234.1 l3.0,5.9" stroke="#6e6e6e" stroke-width="1.6" stroke-linecap="round"/><path d="M650.0,278.2 l-5.0,2.3" stroke="#6e6e6e" stroke-width="1.7" stroke-linecap="round"/><path d="M664.3,225.2 l-4.7,0.0" stroke="#6e6e6e" stroke-width="1.4" stroke-linecap="round"/><path d="M657.7,234.8 l5.2,1.9" stroke="#a4a4a4" stroke-width="2.0" stroke-linecap="round"/><path d="M607.3,272.4 l3.1,5.2" stroke="#6e6e6e" stroke-width="1.6" stroke-linecap="round"/><path d="M644.4,273.2 l-4.3,1.8" stroke="#636363" stroke-width="1.6" stroke-linecap="round"/><path d="M649.7,224.9 l7.9,1.8" stroke="#5a5a5a" stroke-width="1.5" stroke-linecap="round"/><path d="M591.9,258.9 l5.8,6.2" stroke="#636363" stroke-width="1.3" stroke-linecap="round"/><path d="M672.7,229.7 l5.0,0.4" stroke="#5a5a5a" stroke-width="1.6" stroke-linecap="round"/><path d="M663.1,236.2 l-5.3,5.5" stroke="#636363" stroke-width="2.0" stroke-linecap="round"/><path d="M637.1,248.1 l1.9,4.2" stroke="#a4a4a4" stroke-width="1.2" stroke-linecap="round"/><path d="M603.8,231.6 l0.3,4.7" stroke="#a4a4a4" stroke-width="1.7" stroke-linecap="round"/><path d="M601.8,242.2 l5.3,5.8" stroke="#636363" stroke-width="1.6" stroke-linecap="round"/><path d="M634.9,246.4 l7.8,2.4" stroke="#a4a4a4" stroke-width="1.2" stroke-linecap="round"/><path d="M583.7,250.7 l-6.7,3.7" stroke="#5a5a5a" stroke-width="1.4" stroke-linecap="round"/><path d="M598.9,270.9 l7.0,0.6" stroke="#5a5a5a" stroke-width="1.2" stroke-linecap="round"/><path d="M633.4,256.9 l3.1,7.3" stroke="#636363" stroke-width="1.2" stroke-linecap="round"/><path d="M587.3,266.3 l-5.0,4.6" stroke="#6e6e6e" stroke-width="1.2" stroke-linecap="round"/><path d="M606.8,244.3 l-5.0,3.0" stroke="#5a5a5a" stroke-width="1.9" stroke-linecap="round"/><path d="M586.7,236.5 l5.3,0.2" stroke="#a4a4a4" stroke-width="1.7" stroke-linecap="round"/><path d="M646.0,231.0 l-6.0,1.4" stroke="#636363" stroke-width="1.8" stroke-linecap="round"/><path d="M596.1,239.2 l-3.3,2.7" stroke="#636363" stroke-width="1.5" stroke-linecap="round"/><path d="M615.1,249.7 l-4.0,4.3" stroke="#6e6e6e" stroke-width="1.6" stroke-linecap="round"/><path d="M665.5,230.0 l-6.2,1.2" stroke="#636363" stroke-width="2.0" stroke-linecap="round"/><path d="M602.9,231.6 l-2.1,4.1" stroke="#a4a4a4" stroke-width="1.7" stroke-linecap="round"/><path d="M608.1,280.2 l-4.6,4.2" stroke="#636363" stroke-width="1.7" stroke-linecap="round"/><path d="M620.5,266.8 l-1.2,4.3" stroke="#6e6e6e" stroke-width="1.5" stroke-linecap="round"/><path d="M653.1,260.2 l1.1,5.7" stroke="#a4a4a4" stroke-width="1.5" stroke-linecap="round"/><path d="M662.8,244.9 l4.2,5.6" stroke="#636363" stroke-width="1.8" stroke-linecap="round"/><path d="M580.2,273.6 l1.0,4.1" stroke="#a4a4a4" stroke-width="1.3" stroke-linecap="round"/><path d="M607.1,256.7 l-3.4,3.7" stroke="#a4a4a4" stroke-width="1.9" stroke-linecap="round"/><path d="M586.5,269.0 l3.0,4.6" stroke="#636363" stroke-width="1.9" stroke-linecap="round"/><path d="M580.1,258.9 l-6.2,4.0" stroke="#a4a4a4" stroke-width="1.6" stroke-linecap="round"/><path d="M642.2,251.0 l2.7,8.2" stroke="#5a5a5a" stroke-width="1.8" stroke-linecap="round"/><path d="M638.5,250.8 l-5.0,1.4" stroke="#a4a4a4" stroke-width="1.4" stroke-linecap="round"/><path d="M630.2,227.8 l-6.4,6.2" stroke="#6e6e6e" stroke-width="1.5" stroke-linecap="round"/><path d="M588.6,228.8 l-2.5,8.3" stroke="#636363" stroke-width="1.7" stroke-linecap="round"/><path d="M599.5,275.1 l5.1,0.0" stroke="#636363" stroke-width="1.9" stroke-linecap="round"/><path d="M577.5,273.1 l1.8,6.8" stroke="#5a5a5a" stroke-width="1.7" stroke-linecap="round"/><path d="M607.2,276.3 l-5.7,2.6" stroke="#5a5a5a" stroke-width="1.8" stroke-linecap="round"/><path d="M635.7,225.8 l-7.2,1.6" stroke="#a4a4a4" stroke-width="1.4" stroke-linecap="round"/><path d="M662.4,245.7 l-8.9,0.2" stroke="#a4a4a4" stroke-width="1.7" stroke-linecap="round"/><path d="M605.4,258.2 l4.9,6.6" stroke="#636363" stroke-width="1.3" stroke-linecap="round"/>
<path d="M591,250 Q596,241 612,238 Q635,236 646,241 Q650,246 650,252" stroke="#585858" stroke-width="2.4" fill="none" stroke-linecap="round"/>
<path d="M582,262 Q585,238 605,231 Q635,226 658,238 Q666,246 668,256" stroke="#585858" stroke-width="2.4" fill="none" stroke-linecap="round"/>
<path d="M600,228 Q625,223 650,229" stroke="#585858" stroke-width="2.4" fill="none" stroke-linecap="round"/>
<path d="M592,252 Q595,243 608,241 Q630,238 646,244 Q652,252 649,261 Q640,268 620,269 Q600,269 594,264 Q590,258 592,252 Z" fill="#a6a6a6"/>
<path d="M607,268 L622,268 L616,283 L610,279 Z" fill="#9c9c9c"/>
<path d="M612,255 Q620,251 630,252 Q637,255 636,261 Q628,258 620,258 Q614,260 612,255 Z" fill="#5e5e5e"/>
<path d="M598,252 Q603,250 606,253 Q603,257 599,256 Z" fill="#5e5e5e"/>
<path d="M640,254 Q645,253 646,257 Q643,260 640,258 Z" fill="#5e5e5e"/>
<path d="M580,249l1.3-.9 2,1.1 .1,1.4 -2.3-.2zM582,232l2.2-1.7 1.4,1.8 -1.1,3.2 -1.7-.8zM586,241l1.2,.3 -.8,1.4 -1.7,.9 .3-1.3zM582,246l2-.9 .3,2.5 -1.4,2 -1.2-1.5zM590,234l1.1,1.2 -2.4,.5 -1.8-.8 .5-1.2zM643,253l3.1,.7 1.2,2.8 -1.8,1.5 -2.5-2.2zM645,251l.3-1.3 1.2,.4 .7,2 -.8,.5zM653,237l.4-2.3 2.2,0 .8,2.1 -1.7,.9zM649,254l1.3,.9 -.8,.8 -1.3-.4 -.6-1.3zM648,253l2.9,1.4 -.9,2.4 -2.8-.5 -1.3-2.7zM646,253l-1,1.1 -2.4-2 -1.2-2.5 2.3,.7zM653,235l1.1-.6 1.1,1 -1.2,1 -1.5-.7zM654,251l.5,2.7 -2.2,1 -2.5-1.1 1.4-2.8zM657,254l.3-2.3 1.2-.9 .4,1.4 -1,1.9zM637,239l2.6,0 1.7,2.9 -1.1,1.8 -2.4-2.1zM644,236l.2-1.9 2,.2 .8,1.4 -.7,.9zM655,249l1.2,2.9 -1.2,2.7 -1.4-1.5 .3-2.3zM642,243l1.8,2.6 -.8,1.2 -1.8-.9 -.9-2.5zM642,245l.1-1.2 1.8,.5 .6,1.6 -1.5,.2zM639,248l-1,1.2 -1.3,.2 0-1.1 1.4-.7zM647,254l-.2-1.9 1.7-1.3 1.9,.1 -.8,2.5zM646,251l-.4-.9 1-1.1 1,.5 .1,1.2z" fill="#b02018"/>
<path d="M616,227l-.5-.6 1.2-.6 1.6,.3 -.9,1.3zM616,231l1.3-.5 .6,1.1 -.3,.7 -.8-.4zM607,236l-1.5-.6 -.7-1.2 1.4-1 1.1,1.1zM615,229l.1,.9 -1.2,1.5 -.7-.7 .6-1.8zM632,228l-.5,1.9 -.9,.4 .2-1.2 .8-1.4zM614,228l-2.5-.8 .2-1.4 2-.2 1.7,1.2zM618,233l.7-.8 .7,.6 -.3,1.3 -1,.5zM602,231l2.7,1.9 .6,1.9 -2-.1 -1.9-2.3zM617,226l-1.9,1.1 -1.4-1.3 1.2-1.3 1.6,.2zM619,227l-.7,2.1 -1.6,.5 -.7-1.6 1.4-1.4zM631,233l-2.2-1.6 .5-1.5 2,.7 1,1.8zM661,267l-.9-1.9 1.4-2.2 2.2,.1 -.1,3.4zM664,260l-.7-1.4 1.4-2 1.4-.6 -.6,2.5zM659,264l-.1-1.5 2-.2 1.7,1.5 -1.4,.6z" fill="#a01c18"/>
<path d="M583,251l.8-.8 2,.2 -.1,1.8 -1.7,.8zM587,245l.9-1.5 1,.4 .4,1.8 -1.3,.5zM584,250l1.7,2 -.9,.8 -2.1-1.4 -.3-1.7zM589,239l-1.4,1.8 -1.6-1 -.4-2.3 2.2-.2zM590,251l-1.7-.5 -.2-2 1.5-.6 1.7,.9zM590,238l2.9-.3 .6,1.1 -2.6,1.2 -2.5-.6zM589,234l.3,2.5 -1.7,.1 -1.1-1.7 .7-1.9zM581,235l-.1-2.2 2.8,1.3 1.2,3 -1.5,.6zM583,251l1.6,.5 .4,1.5 -1.3,.5 -1.1-1.4zM585,244l-.1,.9 -1.2,.4 -.9-.7 1.2-1.4zM649,250l-.3,.8 -1,.6 -.6-.8 .3-1.2zM656,244l.6,2.8 -2.1,.8 -2.2-.8 1-2.3zM640,243l-1.7-.5 .7-1.7 2-.1 .5,1.4zM656,243l.9,.8 -.1,2.5 -1.9,0 -.9-2zM651,239l3,.9 1.6,1.8 -4.1,.6 -2.2-1.6zM647,240l1.4,2.7 -1.3,3.6 -1.6-.6 -.4-3.2zM650,252l-1.5,0 -1.9-1.2 1-1.4 2.3,1zM658,252l-2.6,.7 -1.3-1.2 2-1.9 1.8-.1zM655,244l2-.8 -.8,3.3 -2.4,3.4 -1-2.2zM658,238l2.2,.7 -1.9,1.9 -2.5,.9 .1-2.3zM653,241l-1.7-2.3 -.3-3.7 1.8,.3 1.1,3.7zM659,242l1.5-.2 1.2,2.7 -1.8,2 -1.4-1zM648,241l1-1.4 1.6,.8 -.4,1.8 -1.8,0zM656,248l2.1-.6 1.7,.1 0,.8 -2.1,.2zM637,244l-.3-1.6 1.4-.6 .6,1.6 -.9,1.6zM654,233l-.2,2.9 -2.2,1.4 -1.1-1.1 1.5-2.5zM653,239l1.1-1.4 1.8,0 .6,1.5 -1.7,.9zM652,242l.3-1.7 1.6-.4 .4,1.5 -1.3,1.4zM639,242l.1-1.2 2.2,.4 1,1.1 -1.2,.4zM656,241l-1.9,.8 -1.5-.8 1.4-1.9 2.1-.1zM646,252l-2.2-.6 -.4-2.4 2.4-.8 1.6,2zM645,258l-1.5-2 1-2.2 2.1,.1 .2,2.2zM610,228l1.2-.7 .4,1.1 -.6,.9 -1-.3zM625,229l.2,1.5 -1.5,0 -.8-.9 .8-1zM624,227l-1,2.1 -.8-.9 -.2-2.1 1-.8zM611,228l.6,1.5 -1.9,.6 -.9-1.6 1-1.5zM615,231l1.6-.5 -.7,.9 -1.5,.4 -.9-.6zM613,234l-1-.7 -.7-.7 .4-.5 1.2,.7zM660,260l-3.1,2.5 -3.3,.5 2.1-2.6 2.9-1.5zM659,255l.4,1.7 -2.6-.1 -1.6-1.3 1.2-1.2zM663,259l3.1-2.3 1.5,.4 -1.2,2.5 -3.3,1.4zM661,255l-3-3.1 .8-3 2.9,.2 .8,3.3zM666,255l-.7,2.7 -1.6-1.8 .1-2.9 1.1-.6zM657,258l1.6,0 .8,2.1 -2,.5 -1.5-1.2zM666,261l-1.6,.3 -.7-1.8 1-.6 1,.7zM662,254l.4-.9 1.4-.3 .7,.8 -1.3,.7zM658,259l2.5,3 .2,2.8 -2,0 -1.7-4.3zM660,261l-.8,1.7 -2.1,.8 -1.2-1.7 1.2-2z" fill="#c8281c"/>
<path d="M589,239l-.2,.9 -1.7-1 -.6-1.9 1-.5zM588,241l-1-1.8 1.6-1.4 1.7,.1 -.6,2.1zM588,252l.8,2.3 -2.5-.3 -3.4-2.1 1.6-1zM586,253l-1.4-1.4 -.7-1.3 1.7,.2 2,1.7zM586,246l.3-.4 1.8-.2 .6,.8 -1.9,.8zM582,242l1.5-1.5 2.6,1.3 .4,1.4 -2.7,.4zM580,237l.8-.6 1.3,.4 .5,1.3 -1.8,.1zM590,240l1.9-.1 1.1,2.1 -.7,1.4 -2.2-1.7zM584,254l-.4-2.2 1.5-.6 1.5,1.3 -1.2,2zM590,238l1.2,1.6 -4,1.9 -2.4-.8 2.2-2.4zM652,250l-1,1.1 -2.3-.2 .8-1.6 2.2-.7zM639,248l1.8-1.1 2.7,2.8 -.1,2.4 -3.1-1.2zM639,241l.3-1.1 2.2-.6 .8,.9 -1.1,1zM646,254l-.8-.2 -.2-1.2 1.3-.2 .6,.7zM639,248l2.6,.4 1.1,1.2 -1.4,.5 -1.9-.7zM647,244l.3,3.1 -2.2-1.1 -1.8-3.2 1.3-1zM659,252l-1.8,.1 1.6-2 2.1-.8 -.2,1.4zM648,244l-.1,.9 -1,.6 -.9-.7 .4-1.2zM642,238l-.1,1.2 -1.5,1.2 -1.2-.9 1.1-1.2zM648,244l1.1-1.2 .7,1.2 -1,2 -1.2,.2zM644,236l1.6-1.5 2.4-.2 -.3,2.2 -1.9,.9zM653,251l-2-.8 -.5-1 1.1-.8 1.7,.9zM642,247l-1.9,.1 -3-1.9 .6-1.3 3.2,.7zM657,249l-1-2.9 2.9-2.3 1.2,1.4 -1,3zM649,236l-1,2.3 -1-.6 .5-1.6 1.2-1.2z" fill="#d8301e"/>
<path d="M601,231l.1,.6 -1.5,1 0-.9 .9-.9zM603,233l1.3,.3 .6,1 -.5,.9 -1-.8zM606,228l1-.8 -.2,1.6 -1.3,1.2 -.7-1zM604,233l1.5,.2 -.9,1.1 -1.7,.2 .1-1.2zM657,254l.6,2.1 -.8,2.6 -1.8-.5 -.1-3zM667,257l1,1 -.9,1.1 -1.6-.6 -.6-1.2zM666,256l-1.7,1.2 -2-.6 .6-1.8 1.7-.1zM653,259l3.1-1.8 3.7,.5 -.7,2.3 -4.5,.8zM659,255l-.1-3 1.2-1.3 1.6,1.3 -.7,2.8zM660,263l-.7,1.1 -1.7-.3 -.3-1.6 1.6-.7zM668,256l-.4,1 -1.2-.2 -.5-1.6 .8-.7zM665,254l-1.2-3.7 2.2-1.1 2.1,2.3 -.2,3.2zM661,257l-.3,1 -3-.2 0-1.3 1.8-.5z" fill="#d8401e"/>
<path d="M591,240l-.6,.9 -.7-1.8 .4-1 .7,.3zM588,237l1,.6 -.8,1.9 -1.4,.5 -.1-1.6zM591,245l.1,1.8 -1.6,.7 -1.6-1 1.2-1.4zM587,248l1.5,1.3 -1.2,1.3 -2.1-1.2 -.1-1.5zM587,235l-1.9,1.2 -1.2-1.1 .2-1.6 2.3-.1zM654,239l.6,.7 -.9,.8 -1.1-.4 .6-1.4zM639,247l1.5,.1 .9,1.6 -.7,.7 -1-1zM653,239l2-3.1 2.2,.3 -1,3.2 -2.1,1.1zM651,252l-.7-.6 .5-1 1.2-.3 0,1.4zM647,243l2.6,.5 2,2.9 -1.3,1.1 -3.1-1.9zM637,245l3-.8 1.3,1.2 -2.4,2.3 -1.9-.8zM656,239l1.8-.8 1.4,.3 -1.1,1.5 -1.6,.8zM655,245l.7,.1 -.1,1.2 -1.4,.2 -.8-1zM646,242l.6-1.9 1.4,.6 .5,1.7 -1.6,.7zM657,237l.9,1 -.9,1.9 -1.1-.2 .3-2.2zM641,242l-.9,3.8 -2.1-.8 -.5-3.3 1.6-1.3zM659,248l-.3,2.3 -.8-.3 0-1.5 .7-.8z" fill="#e0501e"/>
<path d="M657,255l.6,.8 -1,1.3 -1.8,.8 .4-1.4zM656,255l1.4-.3 1.2,1 -.6,.7 -1.5-.5zM666,258l.4,1.4 -1.1,.3 -.9-1.7 .4-1.8zM666,258l.5-.7 1,.7 -.6,.9 -1.2-.4zM662,266l-1.6,0 .3-1.6 1.8-.6 .9,.9zM666,255l-1.3,1.2 -1.8,.9 -.2-.9 1.4-1.2zM658,263l-.2-1.7 1.9-.5 .8,1.5 -.7,1.3z" fill="#e8601d"/>
<path d="M589,239l.4,.9 -1,.1 -.8-1.1 .7-.8zM587,246l-.1-1.4 1.4-.5 1.3,.3 -.8,.9zM585,252l-1.8-.1 -.7-.9 1.2-.8 1.3,.5zM584,251l.9-.4 1.6,.3 0,1 -1.1,.3zM586,232l-1,1.6 -2.1,.7 -.3-1.3 1-1.5zM589,239l-2.1,1.3 -1.5-.4 .8-1.3 2.1-.6zM590,248l.8,.9 -1.4,1 -1.2,0 .4-1.2zM582,238l-1.1-.2 -.8-.8 .6-.3 1.6,.3zM587,237l.4-2.7 1.2-1.4 .2,1.9 -1,2.3zM586,243l-.4-.3 -.4-1 .7-.6 .7,.9zM584,235l1.2-1.2 1,.1 -.4,1.6 -1.2,.3zM650,249l1.3,0 .4,1.1 -.8,1 -1.3-.7zM655,244l1.2-.8 .9,1 -1.5,1.9 -1.3-.1zM652,242l-.7,.4 -.3-2.2 1.2-2.3 1.1,1.8zM654,235l2.2,.3 -.7,1 -1.6,.8 -.9-.5zM645,253l.7-.2 1.1,.1 -.1,.6 -1.1,.2zM649,256l-1.2-.6 -.7-1.8 1.4-.2 1.3,1.6zM658,251l-1.5,1 -1.7-.5 0-1.1 2.3-.4zM657,247l-1.9,.3 -2.5-1.3 .7-1.5 3.4,.8zM653,239l1.3,.3 .1,.5 -.9,.4 -.5-.6zM639,248l1.2-.7 1,.3 -.4,1 -.9,.4zM655,240l-1.4-1.8 .8-1.3 1.8,.6 .5,1.8zM651,251l1.1,0 -.6,.8 -.9-.2 -.1-.7zM640,239l-.1-1.1 1.2,.7 .5,.9 -.7,.1zM652,251l1.8,.7 -.2,2.7 -1.4,.3 -1.2-2.1zM658,253l-.6,0 -.1-1.2 .5-.5 .9,1.4zM656,245l-.6,1.2 -1.4,.3 -.3-.9 1.2-.9zM657,239l-.9,0 .2-1 1-.8 .6,.9zM652,241l1-.6 1.5,.6 -.5,1.4 -1.6-.2zM642,246l-.9-.6 .3-1.5 1.6,.2 .5,1.6zM658,249l.2-1 1,.7 -.2,.9 -.9,0zM646,255l.3,1.5 -1.6-.3 -.6-1.1 1.2-1z" fill="#f07a1d"/>
<path d="M600,232l.3-1 .6-.3 -.1,.8 -.6,.6zM611,228l-.5,.7 -.6-.2 .8-.5 1-.1zM623,229l1.3-.1 .3,.7 -.4,.7 -.8-.3zM607,235l-.6,.1 -.8,0 -.2-.8 .8-.2zM614,230l-.4-.1 .1-.6 .8,.2 .4,.7zM613,227l-.7-.5 .9-.9 .7,.6 -.2,1.3zM622,227l.5-.7 .6,.5 0,1.2 -.4,.5zM610,228l.7-.6 .4,1 -.8,.9 -.9-.1zM604,234l.6-.3 -.4,.8 -.5,0 -.2-.4zM606,229l-.4-.1 -.1-1 .5-.1 .4,.8zM656,260l-.2-1.4 2,1.3 .6,2.1 -1.1,.3zM658,258l1.1,1.7 -1,.3 -1.7-.6 -.7-1.3zM658,264l0-1.1 .6-1 .6,.2 0,1.3zM660,264l-.2-.7 .8-.7 .9,.6 -.4,.9zM659,263l-2.6-.7 -.6-1.5 2.3,.1 1.9,1.2z" fill="#f0801d"/>
<path d="M585,251l.5,1.2 -.9,.5 -1.1-1.2 0-1.6zM581,248l1.3,.6 .5,2.2 -1,.2 -.9-2zM587,240l0-1.4 .5-.9 .8,.1 .1,1.3zM586,250l1.1,2.9 -.4,2 -1.3-1.1 -.5-2.8zM591,247l-.6,1 -1.2-1.3 -.6-2.1 1.1,.2zM590,238l1.1-1.1 1,1.1 0,2.3 -1.2,.2zM591,243l-.9-.6 1-1.6 1.2-.5 .2,1.1zM582,234l1.5,.3 .6,2.3 -1.1,.8 -1.5-1.8zM584,253l-.4-2.1 1.2,.2 1.2,2 -.6,1.6zM587,235l1.5-1.2 1.4-.1 -.2,1.3 -1.5,.8zM584,245l-1-.9 .7-.4 1.4,.5 -.2,.7zM589,238l.1,2.6 -1.2,1.5 -.5-2.4 .4-2.6zM640,248l2.2-.3 .7,2.8 -1.4,1.3 -1.7-2zM655,245l1.3,.7 -1.2,1 -2.3,.4 .4-1.1zM646,252l-.8-.3 0-1 1.3-.5 .6,.6zM646,242l.8,1.6 -1.3,2.9 -1.1-.5 .4-2.3zM658,252l.8-1.7 1-.8 .3,1.1 -.6,1.3zM644,253l-2.2,.3 0-1.5 2.5-1.3 1.6,.3zM652,236l1.6,.3 -.3,2 -1.4,1.3 -1.1-1zM659,239l-.4,.7 -1.8,.3 -.9-.8 1.6-.5zM659,248l.3,.6 -1.3-.2 -.4-.8 .6-.2zM646,237l-1.3-2.3 .8-.8 1.9,1.7 .2,1.9zM638,244l-1.3-.1 -.4-.6 1.4-.6 1.4,.4zM653,250l-1.2,.2 -.8-.2 .2-.9 .8-.3zM640,247l-1.6-1.5 .1-1.2 1.6,.2 1.2,1.8zM656,239l-.6,.4 -1.6-.4 0-.8 1.5,0zM645,236l-.1-1.5 .8,0 .9,1.2 -.2,.8zM638,242l1.7-.5 1.3,1.2 -1.8,1.6 -1.8-.1zM641,243l-1.4-1.4 .7-.7 1,.6 .4,1.2zM637,248l.7-.4 .5,.2 -.2,1.5 -.6,.5zM647,236l1.4,.2 .6,1 -.9,.2 -1-.8zM663,250l-1,1.8 -2.9,1 -1.2-1.1 2.3-1.3zM655,259l.7-.9 1.4-.3 .8,1.5 -1.4,1zM664,254l.7-1.1 .7,.9 -.2,1.6 -1,.2zM659,252l.4-.2 1.6,.7 .7,1.1 -1.8-.1zM664,259l-.2-1.3 .8-.6 .9,.5 -.3,.9zM664,261l.2-1 .9-1.1 .5,.6 -.4,1.2zM664,253l-.2,.7 -.5,.5 -.6-.4 -.1-.7zM667,256l-.6,.4 -.4-.5 .7-.8 .9,.1zM667,252l-1.3,1.7 -1.4-.6 1.5-2.4 1.8-.9zM661,257l-1.4,.6 -1.5-.2 0-.9 1.8-.2z" fill="#f59a1d"/>
<path d="M591,239l-.4,1.2 -.6-.1 0-1.3 .4-.7zM589,238l-.5,.7 -1.1,.6 -.8-.9 1-.9zM586,246l-.2-.4 1.4-.1 .9,.8 -.4,.4zM583,242l.9-1.1 1.7,.2 0,1.7 -1.2,.4zM583,252l1.1-.9 .6,.3 -.6,1.5 -1.3,.5zM584,248l-2.1,.2 -.1-.9 1.4-.9 1.7-.1zM588,249l-1.2,.8 -1.1,0 -.3-1.7 1.2-.5zM647,250l.5-.5 .9,.9 .4,1 -1-.5zM645,257l-1.1-.8 -.2-1.9 1.7,0 1.3,1.2zM641,243l-1.1,.2 -.5-1.8 .2-1.4 .9,1.6zM641,240l.6,.6 -.8,.9 -1-.7 .6-1zM647,242l1.2,2.4 -1.1,.9 -2.1-1.5 .4-1.6zM648,255l.2-.4 1.2-.4 .6,.6 -.6,.7zM641,250l-.7-.4 .1-1.1 .8-.1 .4,1zM647,251l.7-1 2.2,.6 .5,1 -1.8,.2zM659,241l-2.1-.8 -1.4-1.6 1.9,0 2.3,1.2zM659,245l-.8-1.4 2.4-1 1.1,1.4 -1.5,1.7zM647,244l.5-.3 0,1 -.8,.8 -.2-.6zM653,234l.9,.4 0,1.3 -.4,.7 -.4-.9zM649,246l-1.2-1.6 .4-1 .9,.7 .3,1.6zM649,240l1.3,.8 -.6,1 -1.2-.1 -.4-1zM650,244l-.2,2.9 -1.2,.5 -.8-3 1.1-1.8zM639,246l-1.6-1.3 1-.2 2,1.4 -.4,1zM640,239l-.1,2.8 -1.4,1.7 -.5-2 1-2.1zM646,242l.4-.9 1.2-.6 .8,.8 -1,1.2zM652,233l1,1.4 .3,2.1 -1,.4 -1-1.6zM657,248l-.2-1.9 1.3-1 2,.4 -.4,2.3zM655,250l.6,1.4 -.6,2.2 -.9-.4 -.1-2zM644,245l-.4,.5 -1.3,.3 -.1-.8 .8-.5zM655,241l-.4,.8 -.8-1 .4-1.4 .9-.2zM647,252l1.5-1 1.6,1 -.6,1.3 -1.8-.4zM644,250l0-.7 1.9,.3 1.6,1.3 -1.8,.2zM646,250l1.2-.7 .4,.9 -.7,.5 -.8-.3z" fill="#f7b21d"/>
<path d="M657,258l-.8-.9 -.3-1.1 .3-.7 .6,1.1zM657,255l.8,.7 -.3,.5 -.6-.3 0-.9zM664,254l.9-.1 .7,.3 -.6,.5 -1.1,.2zM658,259l0,.2 -.9,.5 -.4-.2 .5-.7zM659,263l-.7,.2 0-.6 .3-.3 .5,.5zM661,264l-.3-.1 -.4-.2 0-.6 .4,0zM666,252l.2-1.1 .6,.2 0,1.1 -1.1,.8z" fill="#f9d81c"/>
<path d="M591,239l-.2,.2 -.6,.7 -.3-.3 .4-.7zM584,252l-.1-.7 .5-.7 .8,.4 -.4,.8zM587,238l1,.2 .2,.9 -.5,.1 -.5-.9zM587,252l.2,.8 -.9,.6 -.9-.3 .1-1zM586,251l0,.1 -.3,.8 -.7,.2 0-.7zM590,247l-.3,.3 -.5-1.2 .3-1.1 .5,.8zM591,238l.6,.2 .3,.7 -.6,.6 -.7-.5zM584,253l-.7-.8 .2-.6 .7,.3 .1,.7zM583,247l.5,.6 -.8,.6 -.4-.9 .5-1zM586,248l1,.6 -.2,.6 -.7,.2 -.2-.6zM648,250l.4,.2 -.2,.4 -.5,.2 -.4-.4zM655,246l-.2,.9 -.8-.1 -.2-1.1 .8-.3zM645,251l.8-.3 .7,.3 .2,.5 -.7-.1zM640,240l1,.1 .4,.7 -.5,.2 -.5-.6zM656,245l-1.1,.5 -.1-.8 1-.7 .8,0zM653,241l-1.2,.5 -.6-.9 .5-1 .8,.7zM648,254l1.3,.5 .3,.5 -.5,.2 -.5-.3zM661,244l-.9,.9 -1.1,0 -.3-1.1 1.3-.5zM649,241l.9-.2 -.4,.5 -.8,.1 -.1-.3zM652,254l-.5-1.4 1.3-.4 1,.5 -.9,1.2zM658,253l-.2-.1 -.4-.4 .3-.5 .5,.1zM650,246l-.6-.1 -1.7-.6 .3-.8 1.9,.3zM638,244l-.5,0 -.4-.5 .3-.6 .6,0zM640,245l.3,.5 -.6,.5 -.7-.2 -.1-.8zM656,239l-.6,.1 -.7,0 -.4-.5 .5-.3zM656,252l-.8,.7 -1.3-.7 .1-.6 .9,0zM638,249l-.9-.4 .4-.4 .7-.1 0,.5zM659,248l-.2,.8 -.3,.5 -.4,.1 0-.7z" fill="#f9e21c"/>
<path d="M588,238l.3,.3 -.1,.5 -.7-.2 -.3-.8zM589,239l-.9,.6 -.2-.6 .8-.4 .6,.2zM582,250l-.6-.5 -.3-.8 .7,0 .8,1zM584,232l.5,1.2 -.9,.5 -.8-.7 .6-.9zM584,243l-.2-1 .6-.4 .9,.3 -.1,.9zM588,234l.5,.7 .1,.7 -1,.2 -.4-.4zM586,243l-.7-.6 .4-.4 .8-.3 -.1,.4zM584,253l-.4-.5 1.5-.5 1.1,.4 -1,.6zM588,239l.2-.6 .6,1.4 0,1 -.9-.8zM586,235l-.8,.4 -.6-.6 .3-.6 .5,.1zM646,253l.1-.4 .1,.6 -.2,.5 -.4-.1zM655,248l-.6-1.2 .1-1.8 .8,0 .2,1.2zM646,244l.1,1 -1,0 -.4-.8 .6-.8zM651,251l.5-.3 0,.4 -.5,.5 -.5,0zM649,245l-.6,.2 -.2-.5 .3-.6 .6,.1zM640,240l.3,.4 -1,1.4 -1.2,.4 .4-1.2zM655,246l0,.2 -.7-.7 0-.4 .7,.3zM646,235l.2-.1 .6,1 -.1,.9 -.8-.6zM652,236l-1-.7 .9-.5 1.4,.3 .3,.7zM651,250l.1-.5 .9-.3 .6,.1 -.7,.6zM649,252l-.2,1.2 -.6-.4 -.2-1.4 .6-.5zM648,236l.7,.7 -.3,.3 -.8-.1 -.4-.5z" fill="#fbec3a"/>
<path d="M587,240l-.7-.4 .4-.9 .9-.4 .6,.7zM583,235l.6,.6 .2,.9 -1.3-.5 -.5-.9zM589,234l.2,1.4 -.5,.1 -.5-1.1 .2-.9zM651,249l.1,1.1 -.5,.4 -.3-.4 .3-.9zM642,251l-1.4-.7 0-1.5 1-.3 .7,.8zM640,243l-.4-.6 0-.7 .7-.6 .4,.4zM647,243l.3,.9 -1.2,1.2 -.3-.9 .8-1.4zM656,250l1.4,1.1 -.8,.6 -1.2-.5 0-.7zM660,251l-.5,.7 -.7-.4 .2-.8 .6-.3zM640,248l0-.3 .7-.1 .2,.5 -.6,.5zM656,239l-1.8,.3 -.1-1.1 1.2-.9 .6,.5zM652,239l-.2-.5 0-.8 .8-.7 .5,.6zM657,240l.2-.9 .4-.4 .6,.4 -.2,.8zM654,241l-.6,.8 -.7,.7 -.1-1 .5-.9zM640,244l-1.5,.3 -.2-1.2 .8-1.6 .8,.4zM656,240l-.9,.6 -1,.3 -.3-.5 .8-.5zM647,251l-.6-.4 .1-.7 .4-.3 .2,.2z" fill="#fff27a"/>
<path d="M589.0,234.3h1.8v1.8h-1.8z" fill="#fff27a"/>
<path d="M587.2,236.4h1.8v1.8h-1.8zM589.7,238.8h1.8v1.8h-1.8zM582.2,248.6h1.8v1.8h-1.8zM644.2,238.8h1.8v1.8h-1.8zM649.0,245.4h1.8v1.8h-1.8zM653.3,252.0h1.8v1.8h-1.8zM611.7,229.8h1.4v1.4h-1.4zM666.3,252.5h1.4v1.4h-1.4zM657.1,256.8h1.4v1.4h-1.4zM657.7,259.3h1.8v1.8h-1.8z" fill="#f7a51d"/>
<path d="M657.7,238.3h1.4v1.4h-1.4zM660.0,243.6h1.4v1.4h-1.4zM643.6,245.3h1.8v1.8h-1.8zM646.1,245.0h1.8v1.8h-1.8zM653.4,245.3h1.4v1.4h-1.4zM642.0,247.7h1.4v1.4h-1.4zM644.1,247.4h1.8v1.8h-1.8zM657.3,252.3h1.4v1.4h-1.4zM664.1,252.5h1.8v1.8h-1.8zM663.8,259.5h1.8v1.8h-1.8z" fill="#f9e21c"/>
<path d="M658.0,240.4h1.8v1.8h-1.8zM655.4,242.9h1.4v1.4h-1.4zM650.7,245.0h1.4v1.4h-1.4zM648.8,251.9h1.4v1.4h-1.4zM659.4,252.0h1.4v1.4h-1.4zM664.6,261.3h1.4v1.4h-1.4z" fill="#ee5a1c"/>
<path d="M604.8,227.7h1.4v1.4h-1.4z" fill="#e0601e"/>
<path d="M618.5,227.1h1.4v1.4h-1.4z" fill="#8c2c1a"/>
<path d="M602.3,229.6h1.4v1.4h-1.4zM622.9,229.8h1.4v1.4h-1.4z" fill="#c8341c"/>
<path d="M659.9,257.0h1.4v1.4h-1.4z" fill="#d92a1e"/>
</g>
<path d="M576.4,263.0 L576.4,255.0 L579.6,245.4 L584.5,237.3 L592.5,229.3 L602.0,225.3 L618.0,222.9 L631.0,222.0 L642.0,223.7 L653.6,228.5 L661.6,235.7 L668.0,243.8 L671.3,251.8 L673.0,261.4 L671.3,269.5 L666.5,272.7 L655.0,271.0 L644.0,272.7 L633.7,274.9 L623.0,279.0 L614.5,283.4 L610.0,277.0 L607.0,272.0 L594.0,271.0 L583.0,268.0 Z" fill="none" stroke="#3a3a3a" stroke-width="1.1"/>
<text x="139.7" y="146.3" font-size="20.07" fill="#fff" stroke="#fff" stroke-width="0.6" textLength="39.62" lengthAdjust="spacingAndGlyphs" font-family="Liberation Sans, Arial, sans-serif">PFC</text>
<text x="297.05" y="142.0" font-size="19.93" fill="#fff" stroke="#fff" stroke-width="0.6" textLength="46.67" lengthAdjust="spacingAndGlyphs" font-family="Liberation Sans, Arial, sans-serif">MPC</text>
<text x="273.7" y="186.85" font-size="19.26" fill="#fff" stroke="#fff" stroke-width="0.6" textLength="40.33" lengthAdjust="spacingAndGlyphs" font-family="Liberation Sans, Arial, sans-serif">LPC</text>
<text x="227.45" y="216.85" font-size="20.21" fill="#fff" stroke="#fff" stroke-width="0.6" textLength="27.35" lengthAdjust="spacingAndGlyphs" font-family="Liberation Sans, Arial, sans-serif">AC</text>
<text x="310.7" y="223.85" font-size="20.21" fill="#fff" stroke="#fff" stroke-width="0.6" textLength="41.77" lengthAdjust="spacingAndGlyphs" font-family="Liberation Sans, Arial, sans-serif">EVC</text>
<text x="256.7" y="248.85" font-size="19.26" fill="#fff" stroke="#fff" stroke-width="0.6" textLength="38.04" lengthAdjust="spacingAndGlyphs" font-family="Liberation Sans, Arial, sans-serif">LTC</text>
<text x="279.3" y="280.8" font-size="20.48" fill="#fff" stroke="#fff" stroke-width="0.6" textLength="41.14" lengthAdjust="spacingAndGlyphs" font-family="Liberation Sans, Arial, sans-serif">VTC</text>
<text x="560.85" y="146.15" font-size="19.53" fill="#fff" stroke="#fff" stroke-width="0.6" textLength="40.96" lengthAdjust="spacingAndGlyphs" font-family="Liberation Sans, Arial, sans-serif">PFC</text>
<text x="393.55" y="141.8" font-size="20.07" fill="#fff" stroke="#fff" stroke-width="0.6" textLength="45.12" lengthAdjust="spacingAndGlyphs" font-family="Liberation Sans, Arial, sans-serif">MPC</text>
<text x="430.05" y="187.2" font-size="20.21" fill="#fff" stroke="#fff" stroke-width="0.6" textLength="40.01" lengthAdjust="spacingAndGlyphs" font-family="Liberation Sans, Arial, sans-serif">LPC</text>
<text x="382.2" y="223.7" font-size="20.07" fill="#fff" stroke="#fff" stroke-width="0.6" textLength="42.22" lengthAdjust="spacingAndGlyphs" font-family="Liberation Sans, Arial, sans-serif">EVC</text>
<text x="484.25" y="216.5" font-size="19.8" fill="#fff" stroke="#fff" stroke-width="0.6" textLength="27.83" lengthAdjust="spacingAndGlyphs" font-family="Liberation Sans, Arial, sans-serif">AC</text>
<text x="443.05" y="248.85" font-size="20.21" fill="#fff" stroke="#fff" stroke-width="0.6" textLength="37.59" lengthAdjust="spacingAndGlyphs" font-family="Liberation Sans, Arial, sans-serif">LTC</text>
<text x="421.75" y="280.8" font-size="20.48" fill="#fff" stroke="#fff" stroke-width="0.6" textLength="41.09" lengthAdjust="spacingAndGlyphs" font-family="Liberation Sans, Arial, sans-serif">VTC</text>
<text x="356.9" y="92.75" font-size="26.04" fill="#111" textLength="31.9" lengthAdjust="spacingAndGlyphs" font-family="Liberation Sans, Arial, sans-serif">S7</text>
<rect x="303" y="331.5" width="36.5" height="22.5" fill="#a3a3a3"/>
<path d="M315.6,332c1.5-.8 7.5-.9 9.9 0c2.4 .9 3 3.5 4.3 5.2c1.3 1.7 2.6 3.5 3.5 5c.9 1.5 2 2.5 2.2 4.2c.2 1.7-.1 4.9-1 6c-.9 1.1-3 .8-4.7 .7c-1.7-.1-4.3-.1-5.7-1.4c-1.4-1.4-1.9-5-2.8-6.7c-1-1.7-2.1-2.1-2.9-3.5c-.8-1.4-1.6-3.4-2.1-5c-.5-1.6-2.2-3.8-.7-4.5z" fill="#5e5e5e"/>
<path d="M304,348c.7-.9 2.9-.8 4-.5c1.1 .2 2.4 1.2 2.6 2c.2 .8-.5 2.4-1.6 3c-1.1 .6-4.2 1.2-5 .5c-.8-.8-.7-4.1 0-5z" fill="#6a6a6a"/>
<path d="M335,343 L339,341 L339.5,354 L335,354 Z" fill="#707070"/>
<rect x="339.5" y="331.5" width="129.5" height="22.5" fill="url(#cg)"/>
<rect x="303" y="331.5" width="166" height="22.5" fill="none" stroke="#111" stroke-width="1.3"/>
<line x1="339.5" y1="354" x2="339.5" y2="351.5" stroke="#111" stroke-width="1"/>
<line x1="361" y1="354" x2="361" y2="351.5" stroke="#111" stroke-width="1"/>
<line x1="379.5" y1="354" x2="379.5" y2="351.5" stroke="#111" stroke-width="1"/>
<line x1="406" y1="354" x2="406" y2="351.5" stroke="#111" stroke-width="1"/>
<line x1="434.4" y1="354" x2="434.4" y2="351.5" stroke="#111" stroke-width="1"/>
<line x1="456.4" y1="354" x2="456.4" y2="351.5" stroke="#111" stroke-width="1"/>
<text x="296.3" y="314.85" font-size="12.22" fill="#111" textLength="177.9" lengthAdjust="spacingAndGlyphs" font-family="Liberation Sans, Arial, sans-serif">Model Prediction Accuracy (r)</text>
<text x="294.2" y="328.5" font-size="11.45" fill="#111" textLength="17.42" lengthAdjust="spacingAndGlyphs" font-family="Liberation Sans, Arial, sans-serif">0.0</text>
<text x="460.05" y="328.5" font-size="11.73" fill="#111" textLength="17.17" lengthAdjust="spacingAndGlyphs" font-family="Liberation Sans, Arial, sans-serif">0.5</text>
<text x="313.55" y="397.15" font-size="12.0" fill="#111" textLength="142.72" lengthAdjust="spacingAndGlyphs" font-family="Liberation Sans, Arial, sans-serif">p value (FDR) corrected</text>
<text x="329" y="365.5" font-size="12.6" fill="#111" stroke="#111" stroke-width="0.3" font-family="Liberation Sans, Arial, sans-serif" text-anchor="end" transform="rotate(-45 329 365.5)">NS</text>
<text x="347" y="365" font-size="12.6" fill="#111" stroke="#111" stroke-width="0.3" font-family="Liberation Sans, Arial, sans-serif" text-anchor="end" transform="rotate(-45 347 365)">0.05</text>
<text x="368.5" y="363.5" font-size="12.6" fill="#111" stroke="#111" stroke-width="0.3" font-family="Liberation Sans, Arial, sans-serif" text-anchor="end" transform="rotate(-45 368.5 363.5)">0.001</text>
<text x="390.5" y="364" font-size="12.2" fill="#111" stroke="#111" stroke-width="0.3" font-family="Liberation Sans, Arial, sans-serif" text-anchor="end" transform="rotate(-45 390.5 364)">10<tspan font-size="7.6" dy="-5">-05</tspan></text>
<text x="416.5" y="364" font-size="12.2" fill="#111" stroke="#111" stroke-width="0.3" font-family="Liberation Sans, Arial, sans-serif" text-anchor="end" transform="rotate(-45 416.5 364)">10<tspan font-size="7.6" dy="-5">-09</tspan></text>
<text x="443.5" y="364" font-size="12.2" fill="#111" stroke="#111" stroke-width="0.3" font-family="Liberation Sans, Arial, sans-serif" text-anchor="end" transform="rotate(-45 443.5 364)">10<tspan font-size="7.6" dy="-5">-15</tspan></text>
<text x="466.5" y="364" font-size="12.2" fill="#111" stroke="#111" stroke-width="0.3" font-family="Liberation Sans, Arial, sans-serif" text-anchor="end" transform="rotate(-45 466.5 364)">10<tspan font-size="7.6" dy="-5">-21</tspan></text>
<text x="150.3" y="352.75" font-size="15.46" fill="#111" textLength="58.86" lengthAdjust="spacingAndGlyphs" font-family="Liberation Sans, Arial, sans-serif">superior</text>
<text x="96.4" y="381.85" font-size="15.48" fill="#111" textLength="55.04" lengthAdjust="spacingAndGlyphs" font-family="Liberation Sans, Arial, sans-serif">anterior</text>
<text x="191.55" y="380.65" font-size="17.17" fill="#111" textLength="20.57" lengthAdjust="spacingAndGlyphs" font-family="Liberation Sans, Arial, sans-serif">LH</text>
<text x="515.15" y="353.25" font-size="15.57" fill="#111" textLength="58.35" lengthAdjust="spacingAndGlyphs" font-family="Liberation Sans, Arial, sans-serif">superior</text>
<text x="558.25" y="381.5" font-size="15.48" fill="#111" textLength="55.56" lengthAdjust="spacingAndGlyphs" font-family="Liberation Sans, Arial, sans-serif">anterior</text>
<text x="496.9" y="380.5" font-size="17.02" fill="#111" textLength="24.05" lengthAdjust="spacingAndGlyphs" font-family="Liberation Sans, Arial, sans-serif">RH</text>
<path d="M182.2,364 L182.2,379 L166,379" stroke="#111" stroke-width="1.6" fill="none"/>
<path d="M182.2,358.2 L186.3,367.2 L182.2,365.2 L178.1,367.2 Z M161,379 L169.8,374.9 L167.8,379 L169.8,383.1 Z" fill="#111"/>
<path d="M528.5,364 L528.5,378.5 L543,378.5" stroke="#111" stroke-width="1.6" fill="none"/>
<path d="M528.5,358.4 L532.6,367.4 L528.5,365.4 L524.4,367.4 Z M547.9,378.5 L539.1,374.4 L541.1,378.5 L539.1,382.6 Z" fill="#111"/>
<rect x="0.5" y="0.5" width="749" height="422" fill="none" stroke="#000" stroke-width="1.4"/></svg></body></html>
